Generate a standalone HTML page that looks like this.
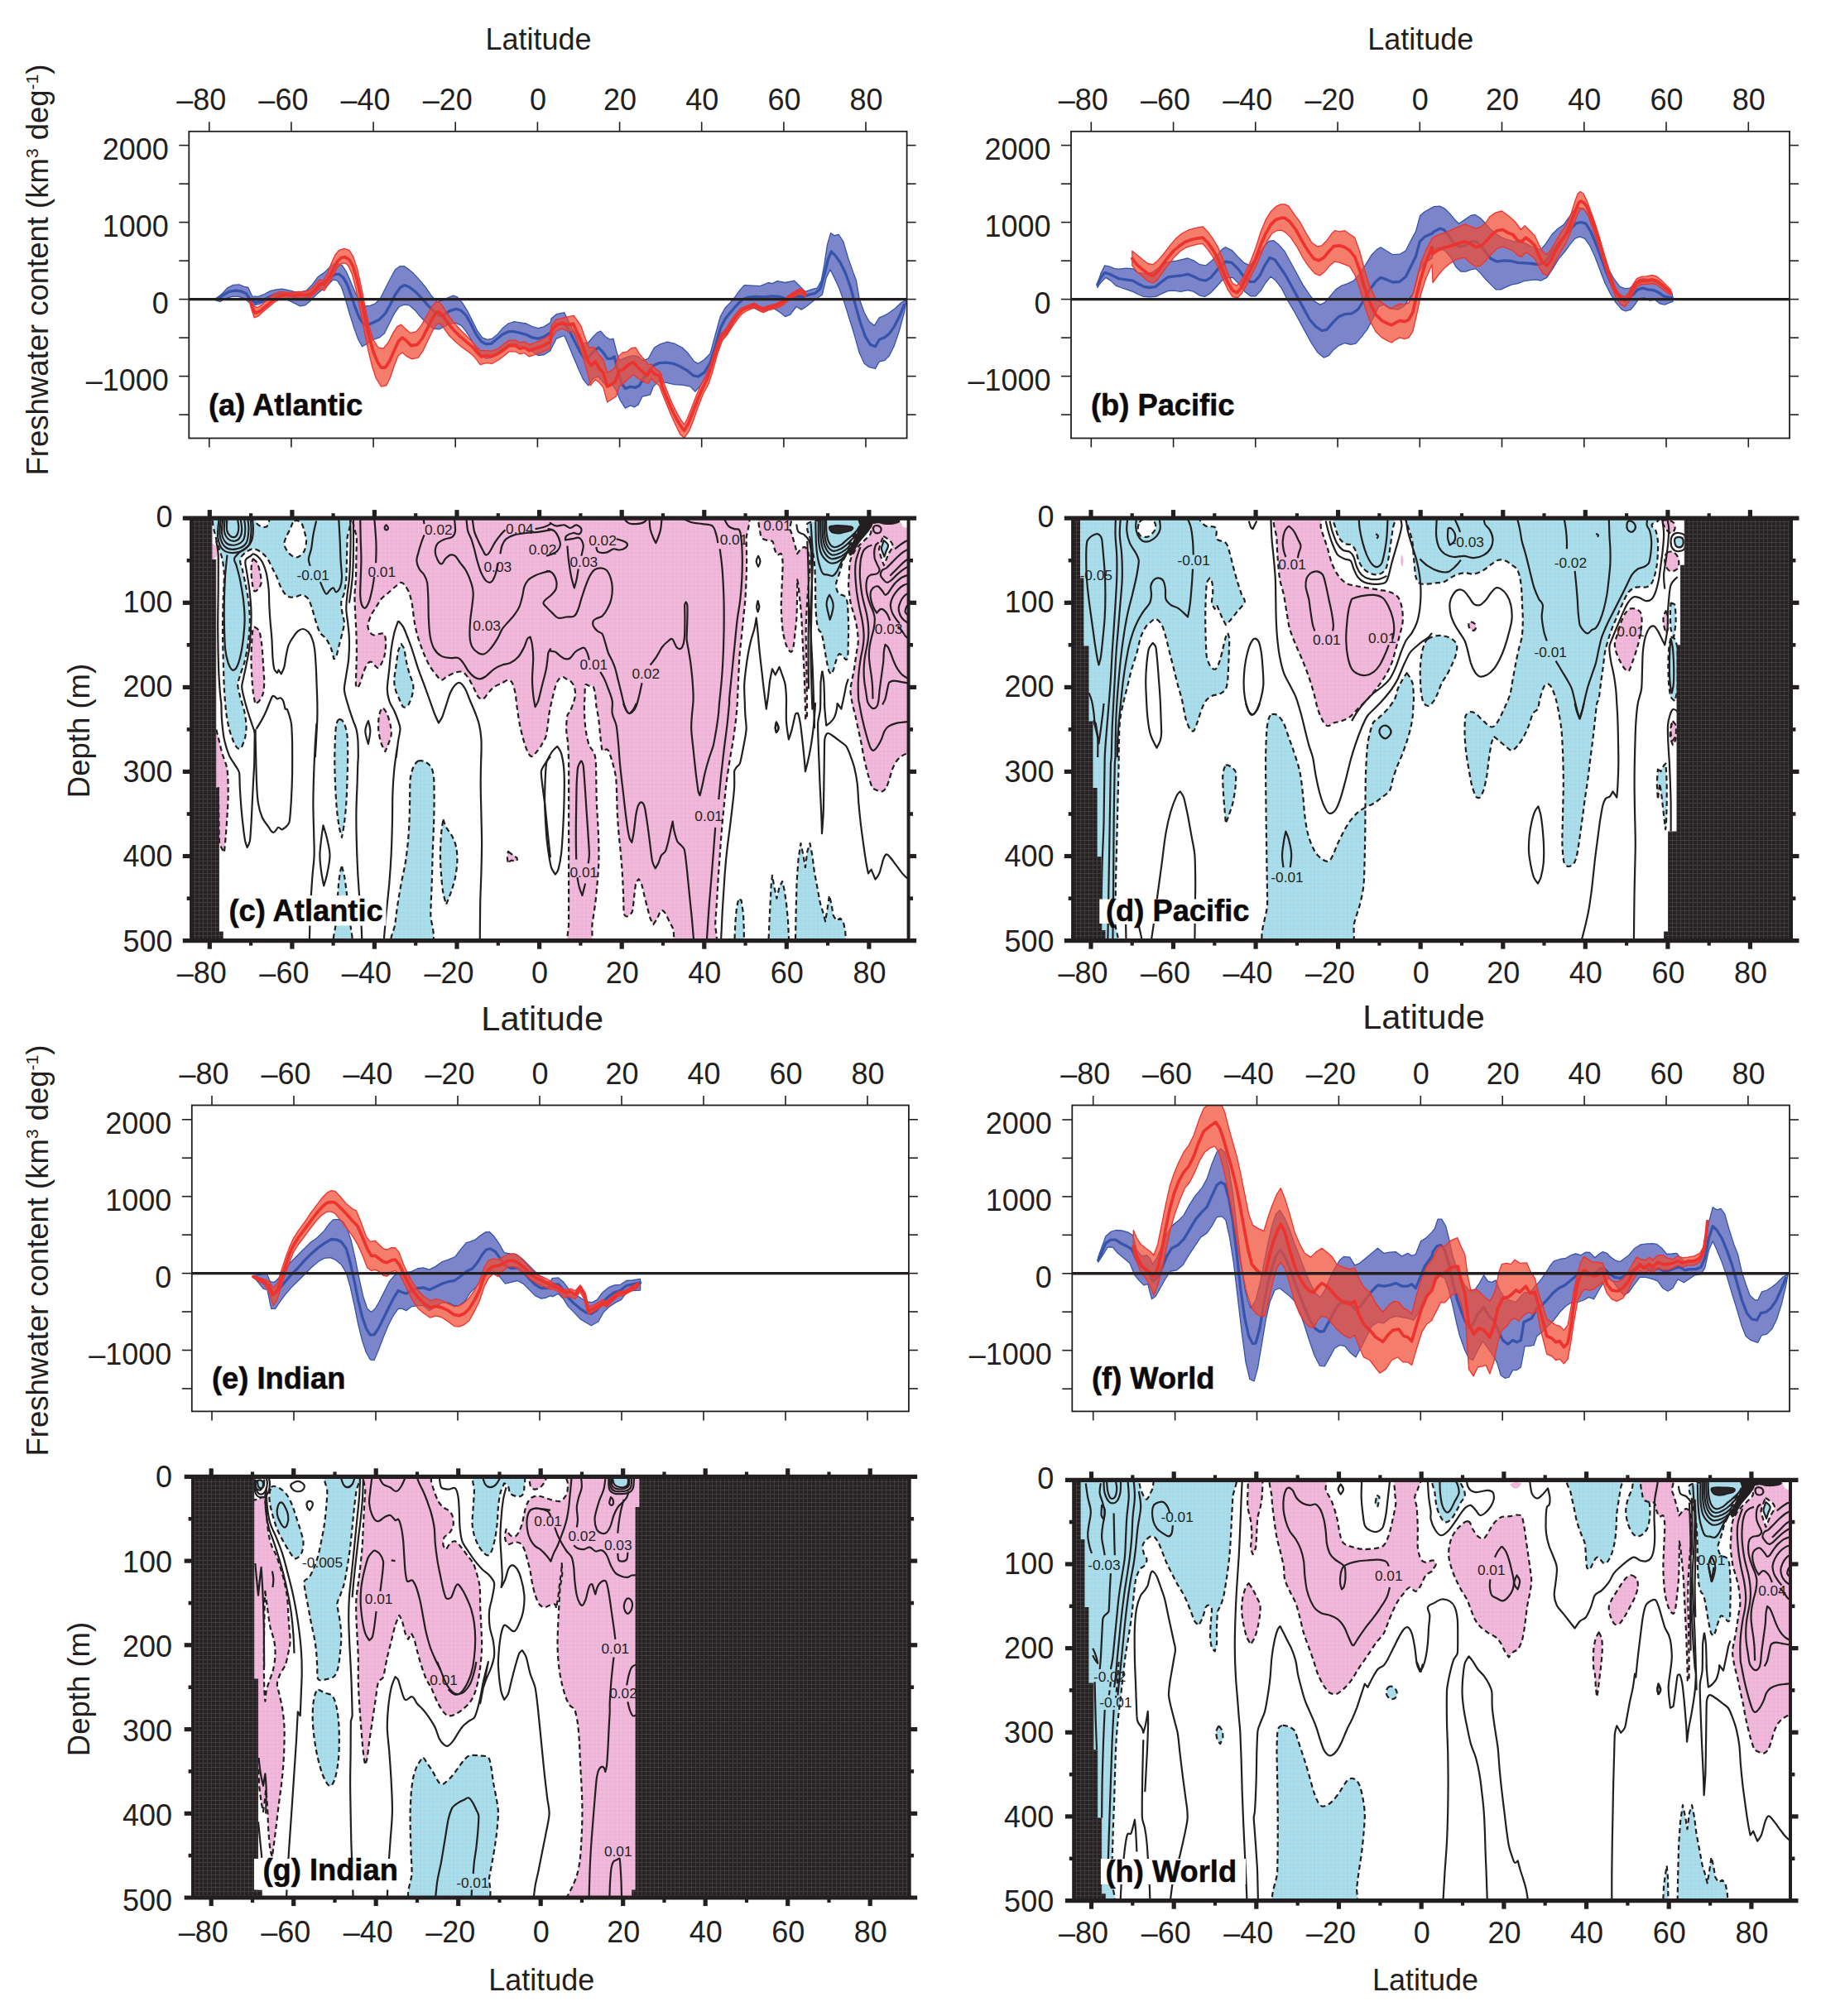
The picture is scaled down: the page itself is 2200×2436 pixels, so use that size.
<!DOCTYPE html>
<html><head><meta charset="utf-8"><title>Freshwater content</title>
<style>html,body{margin:0;padding:0;background:#fff}svg{display:block}</style></head>
<body>
<svg width="2200" height="2436" viewBox="0 0 2200 2436" font-family='"Liberation Sans", Arial, Helvetica, sans-serif' fill="#231f20">
<rect width="2200" height="2436" fill="#ffffff"/>
<g id="panel-a">
<clipPath id="clip-a"><rect x="228.3" y="158.8" width="867.3" height="370.7"/></clipPath>
<g clip-path="url(#clip-a)">
<path d="M261.2,360.8 L268.5,354.8 L274.5,348.2 L281.8,344.4 L289.0,343.9 L295.1,346.3 L299.9,347.5 L304.7,357.9 L312.0,358.4 L319.2,355.5 L326.5,351.6 L333.7,349.9 L341.0,349.2 L348.2,350.7 L355.5,352.4 L362.7,353.1 L370.0,351.1 L377.2,343.9 L384.5,334.2 L391.7,329.4 L397.8,323.4 L403.8,318.5 L408.6,318.5 L413.5,320.9 L418.3,328.2 L423.1,339.1 L429.2,353.6 L435.2,364.4 L441.3,369.8 L447.3,369.3 L453.3,366.9 L459.4,360.8 L465.4,348.7 L471.5,336.7 L477.5,325.8 L483.1,321.7 L488.4,321.7 L493.2,325.1 L499.2,329.9 L506.5,337.9 L513.7,346.3 L521.0,357.2 L528.2,364.4 L534.3,363.2 L541.5,359.6 L547.6,357.2 L552.4,358.9 L558.4,365.6 L564.5,375.3 L570.5,387.4 L576.6,399.5 L582.6,407.9 L588.6,410.3 L594.7,409.1 L600.7,404.3 L606.8,397.1 L614.0,391.0 L621.3,388.6 L628.5,389.8 L635.8,391.0 L643.0,394.6 L650.3,396.6 L657.5,394.6 L665.0,389.8 L666.0,385.0 L672.1,379.7 L681.7,377.7 L686.6,387.4 L692.6,399.5 L698.7,409.1 L704.7,415.2 L710.7,414.0 L716.8,406.7 L721.6,401.9 L725.7,400.2 L731.3,406.7 L737.3,410.3 L740.9,409.1 L744.6,423.6 L748.2,435.7 L753.0,433.3 L759.1,430.9 L765.1,429.7 L771.1,430.9 L777.2,435.7 L783.2,433.3 L790.5,420.0 L797.7,415.9 L806.2,413.2 L814.6,415.2 L824.3,420.0 L831.6,427.3 L838.8,436.9 L843.6,439.3 L850.9,434.5 L858.1,427.3 L864.2,404.3 L870.2,382.6 L876.3,371.7 L882.3,365.6 L888.3,358.4 L894.4,349.9 L899.2,344.6 L908.9,345.1 L918.5,345.6 L928.2,341.5 L933.0,342.7 L939.1,339.6 L948.7,341.5 L959.6,339.1 L965.7,345.1 L972.9,352.4 L980.2,349.9 L987.4,348.0 L992.2,339.1 L995.9,319.7 L999.5,295.6 L1003.6,281.6 L1007.9,284.7 L1013.3,283.5 L1018.8,291.9 L1024.9,312.5 L1030.9,329.4 L1034.5,339.1 L1038.1,360.8 L1044.2,377.7 L1050.2,388.6 L1056.3,393.4 L1062.3,383.8 L1068.4,381.4 L1074.4,377.7 L1081.6,372.4 L1088.9,365.6 L1093.7,363.2 L1094.9,363.2 L1092.5,377.7 L1086.5,399.5 L1080.4,417.6 L1074.4,429.7 L1068.4,435.7 L1062.3,436.9 L1057.5,445.4 L1050.2,443.7 L1044.2,439.3 L1038.1,426.1 L1032.1,404.3 L1026.1,385.0 L1020.0,365.6 L1014.0,348.7 L1007.9,335.4 L1003.1,325.8 L998.3,335.4 L993.4,356.0 L988.6,359.6 L981.4,364.4 L974.1,370.5 L968.1,374.1 L962.0,370.5 L954.8,380.1 L948.7,382.6 L942.7,377.7 L935.5,372.9 L928.2,374.1 L919.7,376.5 L911.3,372.4 L901.6,372.9 L894.4,376.5 L888.3,385.0 L882.3,397.1 L876.3,406.7 L870.2,414.0 L864.2,430.9 L858.1,447.8 L853.3,455.0 L846.1,465.9 L840.0,473.2 L834.0,467.1 L824.3,465.2 L814.6,464.7 L805.0,462.3 L795.3,461.1 L789.3,467.1 L785.6,476.8 L780.8,478.0 L776.0,479.2 L771.1,488.9 L766.3,492.0 L761.5,490.1 L755.4,493.2 L749.4,484.0 L744.6,472.0 L739.7,464.7 L733.7,467.1 L728.9,462.3 L722.8,455.0 L716.8,457.5 L710.7,465.9 L704.7,458.7 L698.7,445.4 L692.6,430.9 L686.6,416.4 L681.7,405.5 L672.1,409.1 L666.0,421.2 L665.0,423.6 L657.5,428.5 L650.3,429.7 L643.0,424.8 L635.8,421.2 L628.5,417.6 L621.3,415.2 L614.0,416.4 L606.8,421.2 L599.5,427.3 L593.5,432.1 L587.4,433.3 L581.4,429.7 L575.4,421.2 L569.3,410.3 L563.3,400.7 L557.2,393.4 L551.2,390.3 L543.9,391.0 L536.7,394.6 L530.7,397.8 L523.4,397.1 L516.2,391.0 L508.9,383.8 L501.7,375.3 L494.4,368.8 L488.4,368.1 L482.3,370.5 L476.3,378.9 L470.3,391.0 L464.2,403.1 L458.2,407.9 L450.9,410.3 L443.7,415.2 L437.6,418.8 L432.8,410.3 L428.0,397.1 L421.9,377.7 L417.1,360.8 L412.3,346.3 L407.4,339.1 L402.6,337.9 L396.6,343.9 L389.3,349.9 L382.1,356.0 L374.8,363.7 L368.8,368.8 L362.7,369.8 L356.7,366.9 L349.4,363.2 L342.2,360.8 L334.9,360.8 L327.7,362.0 L320.4,364.4 L313.2,367.6 L307.2,368.5 L301.1,365.6 L295.1,360.3 L287.8,358.4 L280.6,358.4 L273.3,360.3 L266.1,364.4 L261.2,363.2Z" fill="#7c85c9" stroke="#3654ab" stroke-width="1.3" stroke-linejoin="round"/>
<path d="M261.2,361.5 L269.7,356.7 L276.9,352.4 L284.2,351.1 L291.4,351.9 L297.5,354.8 L302.3,362.0 L308.4,365.6 L314.4,364.4 L321.7,360.8 L328.9,357.2 L336.1,355.5 L343.4,355.5 L350.6,357.2 L357.9,360.1 L363.9,361.5 L370.0,360.1 L377.2,353.6 L384.5,346.3 L391.7,341.0 L399.0,335.4 L405.0,331.3 L409.8,331.3 L414.7,335.4 L419.5,343.9 L424.3,357.2 L429.2,371.7 L434.0,383.8 L438.8,391.0 L443.7,392.7 L450.9,389.8 L458.2,386.2 L465.4,378.9 L471.5,368.1 L477.5,356.0 L483.5,347.5 L488.4,344.6 L494.4,346.8 L501.7,352.4 L508.9,359.6 L516.2,368.1 L523.4,375.3 L530.7,381.4 L536.7,380.1 L543.9,375.3 L551.2,373.4 L557.2,375.3 L563.3,381.4 L569.3,392.2 L575.4,404.3 L581.4,412.8 L587.4,415.9 L593.5,415.2 L599.5,410.3 L606.8,404.3 L614.0,400.7 L621.3,400.7 L628.5,402.4 L635.8,404.3 L643.0,407.9 L650.3,409.1 L657.5,406.7 L665.0,401.9 L667.2,397.1 L674.5,391.7 L681.7,391.0 L687.8,399.5 L693.8,411.6 L699.9,423.6 L705.9,433.3 L711.9,430.9 L718.0,423.6 L723.3,420.0 L728.9,426.1 L733.7,433.3 L738.5,433.3 L742.2,430.9 L745.8,445.4 L750.6,462.3 L755.4,469.5 L761.5,467.1 L767.5,468.3 L772.4,465.9 L777.2,457.5 L783.2,449.0 L789.3,441.8 L796.5,438.6 L805.0,438.1 L813.4,439.3 L821.9,443.0 L830.3,447.8 L837.6,453.8 L843.6,455.0 L850.9,450.2 L858.1,438.1 L864.2,418.8 L870.2,397.1 L876.3,385.0 L882.3,377.7 L889.5,369.3 L896.8,362.0 L904.0,359.1 L913.7,358.4 L923.4,358.9 L933.0,357.9 L941.5,358.4 L948.7,360.8 L956.0,358.9 L963.2,357.9 L970.5,358.4 L977.7,356.0 L985.0,354.3 L991.0,348.7 L995.9,331.8 L1000.7,312.5 L1004.3,304.0 L1009.2,308.9 L1015.2,317.3 L1021.2,329.4 L1027.3,346.3 L1033.3,368.1 L1039.4,389.8 L1045.4,406.7 L1051.4,416.4 L1057.5,418.8 L1062.3,410.3 L1068.4,407.9 L1074.4,403.1 L1080.4,394.6 L1086.5,382.6 L1092.5,368.1" fill="none" stroke="#3654ab" stroke-width="3.3" stroke-linejoin="round" stroke-linecap="round"/>
<path d="M301.1,363.7 L305.9,369.3 L310.8,371.7 L316.8,368.1 L324.1,360.8 L331.3,354.8 L338.6,352.4 L345.8,353.1 L353.1,353.6 L360.3,352.4 L367.6,352.4 L374.8,349.9 L380.8,343.9 L385.7,337.9 L390.5,339.1 L395.3,330.6 L400.2,318.5 L405.0,307.7 L409.8,302.3 L415.9,300.4 L421.9,302.3 L426.8,310.1 L431.6,324.6 L436.4,346.3 L441.3,371.7 L446.1,394.6 L450.9,410.3 L457.0,420.0 L463.0,421.2 L469.0,414.0 L475.1,401.9 L479.9,394.6 L484.7,392.2 L489.6,397.1 L495.6,402.4 L502.9,400.7 L508.9,393.4 L515.0,382.6 L521.0,371.7 L525.8,365.6 L529.9,364.4 L534.3,369.3 L540.3,378.9 L547.6,388.6 L554.8,397.1 L562.1,404.3 L569.3,411.6 L575.4,418.8 L580.2,423.6 L587.4,423.6 L594.7,424.1 L601.9,421.2 L609.2,415.2 L615.2,411.1 L622.5,411.1 L628.5,414.0 L633.4,412.8 L639.4,416.4 L646.6,414.0 L655.1,410.3 L665.0,404.3 L666.0,393.4 L672.1,386.2 L679.3,384.5 L686.6,382.6 L693.3,381.4 L697.5,387.4 L702.3,394.6 L707.1,409.1 L711.9,420.0 L718.0,420.0 L723.3,428.5 L728.9,434.5 L733.7,450.2 L738.5,447.8 L742.2,445.4 L747.0,430.9 L751.8,426.1 L757.9,424.8 L762.7,420.7 L768.0,420.0 L772.4,427.3 L778.4,434.5 L783.2,440.6 L786.9,440.1 L791.7,445.4 L798.2,450.2 L801.4,461.1 L806.2,473.2 L812.2,487.7 L818.3,499.7 L823.1,508.2 L826.7,513.0 L830.3,505.8 L835.2,493.7 L841.2,478.0 L847.3,463.5 L853.3,452.6 L858.1,440.6 L864.2,421.2 L870.2,404.3 L876.3,398.3 L882.3,388.6 L888.3,380.1 L894.4,372.9 L901.6,369.8 L911.3,366.1 L916.1,369.3 L922.2,371.7 L928.2,369.3 L937.9,366.9 L945.1,363.2 L952.4,357.2 L959.6,352.4 L966.9,348.7 L972.9,352.4 L972.9,358.4 L966.9,354.8 L959.6,358.4 L952.4,363.2 L945.1,369.3 L937.9,372.4 L928.2,374.8 L922.2,377.7 L916.1,374.8 L911.3,371.7 L902.8,375.3 L896.8,378.9 L890.8,386.2 L884.7,394.6 L878.7,404.3 L872.6,411.6 L866.6,428.5 L860.6,450.2 L855.7,464.7 L849.7,475.6 L843.6,491.3 L837.6,508.2 L832.8,520.3 L826.7,529.2 L821.9,525.1 L817.1,515.5 L811.0,502.2 L805.0,487.7 L800.1,475.6 L796.5,465.9 L791.7,462.3 L786.9,457.5 L783.2,463.5 L777.2,461.1 L771.1,457.5 L765.1,452.6 L759.1,457.5 L753.0,463.5 L748.2,467.1 L744.1,479.2 L738.5,482.8 L733.7,486.0 L728.9,468.3 L724.0,462.3 L719.2,458.7 L713.2,465.9 L710.7,453.8 L705.9,436.9 L701.1,421.2 L696.2,409.1 L692.6,400.7 L686.6,400.7 L679.3,397.1 L672.1,400.0 L666.0,409.1 L665.0,421.2 L655.1,425.6 L646.6,428.5 L639.4,430.9 L633.4,426.5 L628.5,428.0 L622.5,424.8 L615.2,424.8 L609.2,429.7 L601.9,435.2 L594.7,439.3 L587.4,438.6 L580.2,440.6 L576.6,435.7 L571.7,429.7 L564.5,424.1 L557.2,418.8 L550.0,412.8 L542.7,405.5 L536.7,397.1 L531.9,391.0 L528.2,391.0 L523.4,398.3 L517.4,410.3 L511.3,423.6 L505.3,432.1 L498.0,433.8 L492.0,430.9 L486.0,426.1 L481.1,429.7 L476.3,441.8 L471.5,456.3 L466.6,465.9 L460.6,467.1 L454.5,457.5 L449.7,443.0 L444.9,423.6 L440.0,399.5 L435.2,375.3 L430.4,351.1 L425.6,331.8 L420.7,320.9 L417.1,317.8 L412.3,318.5 L407.4,323.4 L402.6,333.0 L396.6,343.9 L391.7,351.1 L385.7,349.2 L380.8,354.0 L374.8,359.6 L368.8,360.8 L361.5,360.1 L354.3,360.8 L347.0,360.3 L339.8,360.8 L332.5,364.4 L325.3,370.5 L318.0,376.5 L312.0,382.1 L307.2,383.8 L304.3,375.3 L301.8,365.6Z" fill="rgba(240,75,50,0.72)" stroke="#ee332e" stroke-width="1.3" stroke-linejoin="round"/>
<path d="M302.3,363.2 L304.7,371.7 L308.4,378.2 L313.2,376.5 L319.2,371.7 L326.5,365.6 L333.7,359.6 L341.0,356.7 L348.2,356.0 L355.5,356.7 L362.7,356.0 L370.0,356.5 L376.0,354.8 L382.1,348.7 L386.9,342.7 L391.7,343.9 L396.6,336.7 L402.6,325.8 L407.4,316.1 L412.3,311.3 L417.1,310.6 L421.9,313.7 L426.8,322.2 L431.6,339.1 L436.4,360.8 L441.3,385.0 L446.1,406.7 L450.9,424.8 L455.8,436.9 L460.6,444.2 L465.4,444.2 L470.3,436.9 L476.3,423.6 L481.1,412.8 L486.0,407.9 L490.8,411.6 L496.8,417.6 L504.1,416.4 L510.1,409.1 L516.2,397.1 L522.2,385.0 L527.0,377.7 L530.7,377.2 L535.5,382.6 L541.5,391.0 L548.8,399.5 L556.0,406.7 L563.3,412.8 L570.5,418.8 L576.6,426.1 L581.4,430.9 L587.4,429.7 L594.7,430.4 L601.9,427.3 L609.2,422.4 L615.2,417.6 L622.5,417.6 L628.5,421.2 L633.4,420.0 L639.4,423.6 L646.6,421.2 L655.1,418.3 L665.0,412.8 L666.0,399.5 L672.1,392.7 L679.3,390.3 L686.6,392.2 L692.6,391.0 L696.2,399.5 L701.1,409.1 L705.9,423.6 L710.7,436.9 L714.4,441.8 L719.2,436.9 L724.0,445.4 L728.9,450.2 L733.7,467.1 L738.5,464.7 L743.4,461.1 L748.2,447.8 L753.0,446.6 L759.1,440.6 L765.1,437.7 L771.1,444.2 L777.2,450.2 L782.0,453.8 L785.6,446.6 L791.7,452.6 L796.5,453.8 L800.1,467.1 L805.0,479.2 L811.0,493.7 L817.1,505.8 L821.9,514.2 L826.7,520.3 L831.6,511.8 L836.4,499.7 L842.4,484.0 L848.5,469.5 L854.5,457.5 L859.3,443.0 L865.4,423.6 L871.4,406.7 L877.5,400.7 L883.5,391.0 L889.5,382.6 L895.6,375.3 L901.6,372.2 L911.3,368.1 L916.1,371.7 L922.2,374.1 L928.2,371.7 L937.9,369.3 L945.1,365.6 L952.4,359.6 L959.6,354.8 L966.9,351.1 L972.9,355.5" fill="none" stroke="#ee332e" stroke-width="3.7" stroke-linejoin="round" stroke-linecap="round"/>
</g>
<line x1="228.3" y1="361.6" x2="1095.6" y2="361.6" stroke="#231f20" stroke-width="3.4"/>
<rect x="228.3" y="158.8" width="867.3" height="370.7" fill="none" stroke="#231f20" stroke-width="1.8"/>
<line x1="252.8" y1="147.3" x2="252.8" y2="158.8" stroke="#231f20" stroke-width="1.6"/>
<line x1="252.8" y1="529.5" x2="252.8" y2="540.5" stroke="#231f20" stroke-width="1.6"/>
<text x="243.3" y="133.2" font-size="36" text-anchor="middle" font-weight="normal">–80</text>
<line x1="351.9" y1="147.3" x2="351.9" y2="158.8" stroke="#231f20" stroke-width="1.6"/>
<line x1="351.9" y1="529.5" x2="351.9" y2="540.5" stroke="#231f20" stroke-width="1.6"/>
<text x="342.4" y="133.2" font-size="36" text-anchor="middle" font-weight="normal">–60</text>
<line x1="451.1" y1="147.3" x2="451.1" y2="158.8" stroke="#231f20" stroke-width="1.6"/>
<line x1="451.1" y1="529.5" x2="451.1" y2="540.5" stroke="#231f20" stroke-width="1.6"/>
<text x="441.6" y="133.2" font-size="36" text-anchor="middle" font-weight="normal">–40</text>
<line x1="550.2" y1="147.3" x2="550.2" y2="158.8" stroke="#231f20" stroke-width="1.6"/>
<line x1="550.2" y1="529.5" x2="550.2" y2="540.5" stroke="#231f20" stroke-width="1.6"/>
<text x="540.7" y="133.2" font-size="36" text-anchor="middle" font-weight="normal">–20</text>
<line x1="649.4" y1="147.3" x2="649.4" y2="158.8" stroke="#231f20" stroke-width="1.6"/>
<line x1="649.4" y1="529.5" x2="649.4" y2="540.5" stroke="#231f20" stroke-width="1.6"/>
<text x="649.9" y="133.2" font-size="36" text-anchor="middle" font-weight="normal">0</text>
<line x1="748.6" y1="147.3" x2="748.6" y2="158.8" stroke="#231f20" stroke-width="1.6"/>
<line x1="748.6" y1="529.5" x2="748.6" y2="540.5" stroke="#231f20" stroke-width="1.6"/>
<text x="749.1" y="133.2" font-size="36" text-anchor="middle" font-weight="normal">20</text>
<line x1="847.7" y1="147.3" x2="847.7" y2="158.8" stroke="#231f20" stroke-width="1.6"/>
<line x1="847.7" y1="529.5" x2="847.7" y2="540.5" stroke="#231f20" stroke-width="1.6"/>
<text x="848.2" y="133.2" font-size="36" text-anchor="middle" font-weight="normal">40</text>
<line x1="946.9" y1="147.3" x2="946.9" y2="158.8" stroke="#231f20" stroke-width="1.6"/>
<line x1="946.9" y1="529.5" x2="946.9" y2="540.5" stroke="#231f20" stroke-width="1.6"/>
<text x="947.4" y="133.2" font-size="36" text-anchor="middle" font-weight="normal">60</text>
<line x1="1046.0" y1="147.3" x2="1046.0" y2="158.8" stroke="#231f20" stroke-width="1.6"/>
<line x1="1046.0" y1="529.5" x2="1046.0" y2="540.5" stroke="#231f20" stroke-width="1.6"/>
<text x="1046.5" y="133.2" font-size="36" text-anchor="middle" font-weight="normal">80</text>
<line x1="216.3" y1="501.1" x2="228.3" y2="501.1" stroke="#231f20" stroke-width="1.6"/>
<line x1="1095.6" y1="501.1" x2="1106.6" y2="501.1" stroke="#231f20" stroke-width="1.6"/>
<line x1="216.3" y1="454.6" x2="228.3" y2="454.6" stroke="#231f20" stroke-width="1.6"/>
<line x1="1095.6" y1="454.6" x2="1106.6" y2="454.6" stroke="#231f20" stroke-width="1.6"/>
<text x="203.8" y="471.9" font-size="36" text-anchor="end" font-weight="normal">–1000</text>
<line x1="216.3" y1="408.1" x2="228.3" y2="408.1" stroke="#231f20" stroke-width="1.6"/>
<line x1="1095.6" y1="408.1" x2="1106.6" y2="408.1" stroke="#231f20" stroke-width="1.6"/>
<line x1="216.3" y1="361.6" x2="228.3" y2="361.6" stroke="#231f20" stroke-width="1.6"/>
<line x1="1095.6" y1="361.6" x2="1106.6" y2="361.6" stroke="#231f20" stroke-width="1.6"/>
<text x="203.8" y="378.9" font-size="36" text-anchor="end" font-weight="normal">0</text>
<line x1="216.3" y1="315.1" x2="228.3" y2="315.1" stroke="#231f20" stroke-width="1.6"/>
<line x1="1095.6" y1="315.1" x2="1106.6" y2="315.1" stroke="#231f20" stroke-width="1.6"/>
<line x1="216.3" y1="268.6" x2="228.3" y2="268.6" stroke="#231f20" stroke-width="1.6"/>
<line x1="1095.6" y1="268.6" x2="1106.6" y2="268.6" stroke="#231f20" stroke-width="1.6"/>
<text x="203.8" y="285.9" font-size="36" text-anchor="end" font-weight="normal">1000</text>
<line x1="216.3" y1="222.1" x2="228.3" y2="222.1" stroke="#231f20" stroke-width="1.6"/>
<line x1="1095.6" y1="222.1" x2="1106.6" y2="222.1" stroke="#231f20" stroke-width="1.6"/>
<line x1="216.3" y1="175.6" x2="228.3" y2="175.6" stroke="#231f20" stroke-width="1.6"/>
<line x1="1095.6" y1="175.6" x2="1106.6" y2="175.6" stroke="#231f20" stroke-width="1.6"/>
<text x="203.8" y="192.9" font-size="36" text-anchor="end" font-weight="normal">2000</text>
<text x="252.0" y="501.8" font-size="36.3" text-anchor="start" font-weight="bold" fill="#0d0a0b" stroke="#0d0a0b" stroke-width="0.5">(a) Atlantic</text>
</g>
<g id="panel-b">
<clipPath id="clip-b"><rect x="1294.0" y="158.8" width="868.0" height="370.7"/></clipPath>
<g clip-path="url(#clip-b)">
<path d="M1325.8,342.7 L1329.9,330.6 L1334.7,320.9 L1340.7,322.2 L1346.8,324.6 L1351.6,325.1 L1360.1,324.1 L1368.5,324.6 L1374.6,329.4 L1383.0,330.6 L1391.5,329.4 L1398.7,324.6 L1406.0,318.5 L1413.2,316.1 L1420.5,315.4 L1427.7,313.7 L1435.0,312.0 L1442.2,314.9 L1449.5,319.7 L1456.7,320.9 L1462.8,316.1 L1470.0,308.9 L1476.1,301.6 L1480.2,298.7 L1488.1,302.3 L1495.4,310.1 L1502.6,317.3 L1509.9,320.9 L1514.7,314.9 L1520.8,307.7 L1526.8,298.0 L1532.8,291.5 L1538.9,290.7 L1544.9,295.6 L1552.2,304.0 L1559.4,317.3 L1566.7,330.6 L1573.9,343.9 L1581.2,354.8 L1588.4,364.4 L1594.9,368.1 L1600.5,365.6 L1606.5,358.4 L1613.8,349.9 L1621.0,345.1 L1628.3,342.7 L1635.5,339.1 L1642.8,330.6 L1650.0,319.7 L1657.3,307.7 L1663.3,301.6 L1668.1,298.7 L1675.4,303.3 L1682.6,307.7 L1691.1,307.2 L1698.4,302.8 L1704.4,290.7 L1710.4,279.9 L1715.7,260.5 L1721.3,255.7 L1730.0,250.9 L1732.2,249.7 L1739.5,249.2 L1745.5,252.1 L1751.6,258.1 L1757.6,265.4 L1762.5,270.2 L1769.7,265.4 L1776.9,260.5 L1781.8,259.3 L1787.8,263.0 L1793.9,269.0 L1799.9,276.2 L1807.2,282.3 L1814.4,287.1 L1821.7,289.5 L1828.9,291.9 L1836.1,291.9 L1843.4,294.4 L1850.6,298.0 L1856.7,300.4 L1861.5,301.6 L1867.6,294.4 L1874.8,283.5 L1882.1,276.2 L1889.3,271.4 L1895.3,263.0 L1901.4,254.5 L1907.4,250.9 L1913.5,252.1 L1919.5,261.7 L1925.6,276.2 L1931.6,291.9 L1937.6,310.1 L1943.7,325.8 L1949.7,336.7 L1957.0,346.3 L1963.0,348.7 L1969.0,348.2 L1973.9,343.9 L1979.9,337.9 L1986.0,336.7 L1992.0,337.9 L1998.0,337.9 L2004.1,342.7 L2010.1,348.2 L2017.4,352.4 L2020.3,355.5 L2021.0,364.4 L2017.4,365.6 L2011.3,368.1 L2005.3,366.9 L1999.2,362.0 L1993.2,363.2 L1986.0,359.6 L1979.9,360.8 L1975.1,368.1 L1970.3,374.1 L1964.2,376.0 L1959.4,374.1 L1952.1,365.6 L1944.9,353.6 L1938.8,341.5 L1932.8,325.8 L1926.8,310.1 L1920.7,296.8 L1914.7,288.3 L1908.6,285.9 L1902.6,288.3 L1896.6,295.6 L1890.5,304.0 L1883.3,312.5 L1876.0,324.6 L1868.8,335.4 L1861.5,339.1 L1855.5,337.9 L1848.2,338.6 L1841.0,339.6 L1833.7,342.7 L1826.5,343.9 L1820.4,346.3 L1813.2,349.9 L1807.2,349.9 L1801.1,343.9 L1795.1,337.9 L1789.0,330.6 L1783.0,324.6 L1776.9,325.8 L1770.9,328.2 L1764.9,328.2 L1758.8,322.2 L1752.8,311.3 L1746.7,304.0 L1739.5,299.2 L1732.2,301.6 L1730.0,312.5 L1720.1,318.5 L1714.1,329.4 L1708.0,353.6 L1700.8,363.2 L1695.9,370.5 L1688.7,374.1 L1679.0,372.9 L1671.8,368.1 L1665.7,370.5 L1659.7,382.6 L1652.4,397.1 L1645.2,406.7 L1637.9,415.2 L1631.9,416.4 L1624.7,414.5 L1617.4,417.6 L1611.4,422.4 L1605.3,429.7 L1599.3,432.1 L1592.0,426.1 L1584.8,415.2 L1577.5,401.9 L1570.3,388.6 L1563.0,375.3 L1555.8,363.2 L1548.5,348.7 L1541.3,339.1 L1535.3,334.2 L1529.2,341.5 L1523.2,351.1 L1517.1,357.9 L1511.1,357.9 L1503.8,352.4 L1496.6,342.7 L1489.3,335.4 L1482.1,335.4 L1476.1,339.1 L1468.8,347.5 L1461.6,354.8 L1455.5,358.4 L1449.5,357.2 L1442.2,352.4 L1435.0,350.7 L1426.5,352.4 L1418.1,351.1 L1410.8,351.6 L1403.6,354.8 L1396.3,358.4 L1389.1,358.9 L1381.8,358.4 L1375.8,356.0 L1368.5,352.4 L1361.3,349.9 L1354.0,347.5 L1348.0,345.1 L1341.9,339.1 L1335.9,335.4 L1329.9,341.5 L1325.8,347.5Z" fill="#7c85c9" stroke="#3654ab" stroke-width="1.3" stroke-linejoin="round"/>
<path d="M1325.8,343.9 L1329.9,335.4 L1334.7,329.4 L1340.7,331.3 L1346.8,334.2 L1351.6,336.7 L1360.1,337.9 L1368.5,339.1 L1374.6,342.7 L1381.8,346.3 L1389.1,347.5 L1396.3,346.3 L1403.6,340.3 L1410.8,335.0 L1418.1,333.8 L1426.5,333.0 L1435.0,331.3 L1442.2,334.2 L1449.5,337.9 L1456.7,339.1 L1462.8,335.4 L1468.8,328.2 L1474.8,320.9 L1480.9,316.1 L1488.1,317.3 L1495.4,324.6 L1502.6,334.2 L1509.9,340.3 L1515.9,340.3 L1522.0,333.0 L1528.0,320.9 L1534.0,311.3 L1540.1,313.7 L1546.1,322.2 L1553.4,333.0 L1560.6,346.3 L1567.9,359.6 L1575.1,372.9 L1582.4,386.2 L1589.6,394.6 L1596.9,399.5 L1602.9,398.3 L1610.2,389.8 L1617.4,382.6 L1624.7,379.7 L1633.1,378.9 L1640.4,374.1 L1647.6,363.2 L1654.9,349.9 L1662.1,340.3 L1668.1,335.4 L1675.4,337.9 L1682.6,341.0 L1691.1,340.3 L1698.4,334.2 L1704.4,322.2 L1710.4,310.1 L1715.3,291.9 L1721.3,285.9 L1730.0,282.3 L1732.2,279.9 L1739.5,276.2 L1744.3,277.5 L1750.4,284.7 L1756.4,294.4 L1763.7,298.0 L1770.9,296.8 L1776.9,291.9 L1783.0,291.9 L1789.0,296.8 L1795.1,305.2 L1801.1,312.5 L1808.4,316.1 L1816.8,314.9 L1825.3,315.4 L1833.7,317.3 L1842.2,317.8 L1850.6,318.5 L1857.9,319.7 L1863.9,318.5 L1870.0,312.5 L1877.2,301.6 L1884.5,291.9 L1891.7,283.5 L1897.8,276.2 L1903.8,270.2 L1909.8,268.5 L1915.9,270.2 L1921.9,279.9 L1928.0,294.4 L1934.0,310.1 L1940.0,327.0 L1946.1,341.5 L1953.3,353.6 L1960.6,360.3 L1966.6,360.8 L1972.7,356.0 L1978.7,349.9 L1984.7,348.2 L1990.8,349.9 L1998.0,350.7 L2004.1,353.6 L2010.1,357.9 L2017.4,359.6 L2020.3,359.6" fill="none" stroke="#3654ab" stroke-width="3.3" stroke-linejoin="round" stroke-linecap="round"/>
<path d="M1367.8,303.3 L1373.4,307.7 L1380.6,313.7 L1386.7,318.5 L1392.7,319.7 L1398.7,314.9 L1406.0,306.4 L1413.2,296.8 L1420.5,288.3 L1427.7,282.3 L1435.0,278.2 L1442.2,276.2 L1448.3,274.6 L1453.1,273.8 L1459.1,279.9 L1465.2,288.3 L1471.2,298.0 L1477.3,312.5 L1483.3,330.6 L1489.3,342.7 L1494.2,345.1 L1499.0,340.3 L1505.0,328.2 L1511.1,314.9 L1517.1,299.2 L1523.2,279.9 L1529.2,265.4 L1535.3,255.7 L1541.3,249.7 L1547.3,246.8 L1552.2,246.8 L1557.0,249.2 L1563.0,258.1 L1570.3,267.8 L1577.5,281.1 L1584.8,293.2 L1591.6,298.0 L1596.9,296.8 L1602.9,290.7 L1608.9,282.3 L1612.6,278.7 L1618.6,279.9 L1624.7,278.7 L1630.7,283.0 L1636.7,287.1 L1642.8,304.0 L1648.8,327.0 L1654.9,346.3 L1662.1,360.8 L1669.4,365.6 L1676.6,370.5 L1681.4,372.4 L1686.3,369.3 L1691.1,366.9 L1697.1,368.1 L1702.0,365.6 L1706.8,356.0 L1711.6,336.7 L1716.5,317.3 L1722.5,302.8 L1730.0,288.3 L1731.0,287.1 L1737.1,284.2 L1744.3,281.6 L1751.6,278.7 L1761.2,274.3 L1769.7,270.9 L1775.7,273.3 L1783.0,276.2 L1789.0,274.3 L1795.1,269.0 L1799.9,261.7 L1807.2,256.9 L1814.4,255.0 L1820.4,259.3 L1826.5,264.2 L1831.3,269.0 L1837.4,277.5 L1842.2,272.6 L1848.2,278.7 L1854.3,284.7 L1859.1,295.6 L1863.9,304.0 L1868.8,307.7 L1873.6,301.6 L1879.6,291.9 L1885.7,281.1 L1891.7,272.6 L1897.8,259.3 L1902.6,243.6 L1906.2,234.0 L1909.1,231.5 L1913.0,234.0 L1917.1,242.4 L1920.7,252.1 L1926.8,269.0 L1932.8,288.3 L1938.8,310.1 L1944.9,329.4 L1950.9,346.3 L1957.0,356.0 L1963.0,358.4 L1967.8,353.6 L1972.7,343.9 L1977.5,336.7 L1983.5,334.2 L1989.6,333.8 L1995.6,332.3 L2001.7,334.2 L2007.7,339.1 L2013.7,345.1 L2018.6,349.9 L2018.6,356.5 L2013.7,353.6 L2007.7,348.7 L2001.7,343.9 L1995.6,342.7 L1989.6,343.4 L1983.5,343.9 L1977.5,346.3 L1972.7,354.8 L1967.8,364.4 L1963.0,370.5 L1958.2,368.1 L1952.1,359.6 L1946.1,343.9 L1940.0,325.8 L1934.0,306.4 L1928.0,287.1 L1921.9,270.2 L1918.3,259.3 L1914.7,254.0 L1911.1,252.1 L1908.2,254.5 L1903.8,264.2 L1897.8,279.9 L1891.7,294.4 L1885.7,304.0 L1879.6,314.9 L1873.6,327.0 L1868.8,333.0 L1863.9,330.6 L1859.1,322.2 L1854.3,312.5 L1848.2,307.7 L1843.4,304.8 L1838.6,310.1 L1833.7,308.9 L1827.7,302.8 L1821.7,300.4 L1815.6,298.0 L1808.4,300.4 L1801.1,307.7 L1795.1,314.9 L1789.0,320.9 L1783.0,322.2 L1775.7,317.3 L1769.7,311.3 L1764.9,312.0 L1758.8,313.7 L1751.6,318.5 L1744.3,324.6 L1737.1,333.0 L1731.0,341.5 L1730.0,319.7 L1722.5,336.7 L1716.5,356.0 L1711.6,380.1 L1706.8,400.7 L1702.0,407.9 L1697.1,409.6 L1691.1,407.9 L1686.3,410.3 L1681.4,414.0 L1676.6,412.0 L1669.4,407.9 L1662.1,400.7 L1654.9,387.4 L1648.8,370.5 L1642.8,348.7 L1636.7,331.8 L1630.7,322.2 L1624.7,319.7 L1618.6,317.3 L1612.6,316.1 L1606.5,320.9 L1600.5,328.2 L1594.5,333.0 L1588.4,330.6 L1581.2,322.2 L1573.9,311.3 L1566.7,298.0 L1559.4,287.1 L1553.4,281.1 L1548.5,278.2 L1542.5,278.7 L1536.5,282.3 L1530.4,291.9 L1524.4,305.2 L1518.3,319.7 L1512.3,331.8 L1506.3,343.9 L1500.2,354.8 L1495.4,359.6 L1489.3,358.9 L1483.3,349.9 L1477.3,336.7 L1471.2,322.2 L1465.2,310.1 L1459.1,301.6 L1453.1,294.4 L1447.1,295.1 L1439.8,296.8 L1432.6,299.2 L1425.3,304.0 L1418.1,311.3 L1410.8,320.9 L1403.6,330.6 L1397.5,339.1 L1392.7,342.0 L1386.7,339.6 L1380.6,334.2 L1373.4,328.2 L1367.8,320.9Z" fill="rgba(240,75,50,0.72)" stroke="#ee332e" stroke-width="1.3" stroke-linejoin="round"/>
<path d="M1367.8,312.5 L1373.4,319.7 L1380.6,325.8 L1386.7,330.6 L1392.7,333.0 L1397.5,329.4 L1403.6,320.9 L1410.8,311.3 L1418.1,302.8 L1425.3,296.8 L1432.6,291.9 L1439.8,289.5 L1447.1,287.8 L1453.1,287.1 L1459.1,293.2 L1465.2,301.6 L1471.2,312.5 L1477.3,327.0 L1483.3,341.5 L1489.3,351.1 L1494.2,353.6 L1499.0,348.7 L1505.0,336.7 L1511.1,324.6 L1517.1,312.5 L1523.2,295.6 L1529.2,282.3 L1535.3,271.4 L1541.3,265.4 L1547.3,263.4 L1552.2,263.4 L1558.2,267.8 L1565.5,277.5 L1572.7,290.7 L1580.0,302.8 L1587.2,312.5 L1593.2,314.9 L1599.3,311.3 L1605.3,304.0 L1611.4,297.5 L1618.6,296.8 L1624.7,298.7 L1630.7,302.8 L1636.7,310.1 L1642.8,327.0 L1648.8,348.7 L1654.9,365.6 L1662.1,380.1 L1669.4,387.4 L1676.6,391.0 L1681.4,392.7 L1686.3,389.8 L1691.1,387.4 L1697.1,388.6 L1702.0,386.2 L1706.8,377.7 L1711.6,356.0 L1716.5,336.7 L1722.5,317.3 L1730.0,299.2 L1731.0,306.4 L1737.1,302.3 L1744.3,299.2 L1751.6,297.5 L1761.2,294.4 L1769.7,291.9 L1775.7,294.4 L1783.0,298.7 L1789.0,297.5 L1795.1,291.9 L1801.1,284.7 L1808.4,278.7 L1815.6,277.5 L1821.7,281.1 L1827.7,283.5 L1833.7,290.7 L1838.6,291.9 L1843.4,287.1 L1848.2,290.7 L1854.3,296.8 L1859.1,308.9 L1863.9,317.3 L1868.8,320.9 L1873.6,314.9 L1879.6,302.8 L1885.7,291.9 L1891.7,283.5 L1897.8,269.0 L1903.8,253.3 L1907.4,244.8 L1910.1,243.1 L1913.5,244.8 L1917.1,249.7 L1921.9,261.7 L1928.0,278.7 L1934.0,298.0 L1940.0,317.3 L1946.1,336.7 L1952.1,352.4 L1958.2,360.8 L1963.0,363.2 L1967.8,358.4 L1972.7,348.7 L1977.5,341.5 L1983.5,339.1 L1989.6,339.1 L1995.6,337.9 L2001.7,339.6 L2007.7,343.9 L2013.7,349.2 L2018.6,353.6" fill="none" stroke="#ee332e" stroke-width="3.7" stroke-linejoin="round" stroke-linecap="round"/>
</g>
<line x1="1294.0" y1="361.6" x2="2162.0" y2="361.6" stroke="#231f20" stroke-width="3.4"/>
<rect x="1294.0" y="158.8" width="868.0" height="370.7" fill="none" stroke="#231f20" stroke-width="1.8"/>
<line x1="1318.3" y1="147.3" x2="1318.3" y2="158.8" stroke="#231f20" stroke-width="1.6"/>
<line x1="1318.3" y1="529.5" x2="1318.3" y2="540.5" stroke="#231f20" stroke-width="1.6"/>
<text x="1308.8" y="133.2" font-size="36" text-anchor="middle" font-weight="normal">–80</text>
<line x1="1417.6" y1="147.3" x2="1417.6" y2="158.8" stroke="#231f20" stroke-width="1.6"/>
<line x1="1417.6" y1="529.5" x2="1417.6" y2="540.5" stroke="#231f20" stroke-width="1.6"/>
<text x="1408.1" y="133.2" font-size="36" text-anchor="middle" font-weight="normal">–60</text>
<line x1="1516.8" y1="147.3" x2="1516.8" y2="158.8" stroke="#231f20" stroke-width="1.6"/>
<line x1="1516.8" y1="529.5" x2="1516.8" y2="540.5" stroke="#231f20" stroke-width="1.6"/>
<text x="1507.3" y="133.2" font-size="36" text-anchor="middle" font-weight="normal">–40</text>
<line x1="1616.1" y1="147.3" x2="1616.1" y2="158.8" stroke="#231f20" stroke-width="1.6"/>
<line x1="1616.1" y1="529.5" x2="1616.1" y2="540.5" stroke="#231f20" stroke-width="1.6"/>
<text x="1606.6" y="133.2" font-size="36" text-anchor="middle" font-weight="normal">–20</text>
<line x1="1715.3" y1="147.3" x2="1715.3" y2="158.8" stroke="#231f20" stroke-width="1.6"/>
<line x1="1715.3" y1="529.5" x2="1715.3" y2="540.5" stroke="#231f20" stroke-width="1.6"/>
<text x="1715.8" y="133.2" font-size="36" text-anchor="middle" font-weight="normal">0</text>
<line x1="1814.5" y1="147.3" x2="1814.5" y2="158.8" stroke="#231f20" stroke-width="1.6"/>
<line x1="1814.5" y1="529.5" x2="1814.5" y2="540.5" stroke="#231f20" stroke-width="1.6"/>
<text x="1815.0" y="133.2" font-size="36" text-anchor="middle" font-weight="normal">20</text>
<line x1="1913.8" y1="147.3" x2="1913.8" y2="158.8" stroke="#231f20" stroke-width="1.6"/>
<line x1="1913.8" y1="529.5" x2="1913.8" y2="540.5" stroke="#231f20" stroke-width="1.6"/>
<text x="1914.3" y="133.2" font-size="36" text-anchor="middle" font-weight="normal">40</text>
<line x1="2013.0" y1="147.3" x2="2013.0" y2="158.8" stroke="#231f20" stroke-width="1.6"/>
<line x1="2013.0" y1="529.5" x2="2013.0" y2="540.5" stroke="#231f20" stroke-width="1.6"/>
<text x="2013.5" y="133.2" font-size="36" text-anchor="middle" font-weight="normal">60</text>
<line x1="2112.3" y1="147.3" x2="2112.3" y2="158.8" stroke="#231f20" stroke-width="1.6"/>
<line x1="2112.3" y1="529.5" x2="2112.3" y2="540.5" stroke="#231f20" stroke-width="1.6"/>
<text x="2112.8" y="133.2" font-size="36" text-anchor="middle" font-weight="normal">80</text>
<line x1="1282.0" y1="501.1" x2="1294.0" y2="501.1" stroke="#231f20" stroke-width="1.6"/>
<line x1="2162.0" y1="501.1" x2="2173.0" y2="501.1" stroke="#231f20" stroke-width="1.6"/>
<line x1="1282.0" y1="454.6" x2="1294.0" y2="454.6" stroke="#231f20" stroke-width="1.6"/>
<line x1="2162.0" y1="454.6" x2="2173.0" y2="454.6" stroke="#231f20" stroke-width="1.6"/>
<text x="1269.5" y="471.9" font-size="36" text-anchor="end" font-weight="normal">–1000</text>
<line x1="1282.0" y1="408.1" x2="1294.0" y2="408.1" stroke="#231f20" stroke-width="1.6"/>
<line x1="2162.0" y1="408.1" x2="2173.0" y2="408.1" stroke="#231f20" stroke-width="1.6"/>
<line x1="1282.0" y1="361.6" x2="1294.0" y2="361.6" stroke="#231f20" stroke-width="1.6"/>
<line x1="2162.0" y1="361.6" x2="2173.0" y2="361.6" stroke="#231f20" stroke-width="1.6"/>
<text x="1269.5" y="378.9" font-size="36" text-anchor="end" font-weight="normal">0</text>
<line x1="1282.0" y1="315.1" x2="1294.0" y2="315.1" stroke="#231f20" stroke-width="1.6"/>
<line x1="2162.0" y1="315.1" x2="2173.0" y2="315.1" stroke="#231f20" stroke-width="1.6"/>
<line x1="1282.0" y1="268.6" x2="1294.0" y2="268.6" stroke="#231f20" stroke-width="1.6"/>
<line x1="2162.0" y1="268.6" x2="2173.0" y2="268.6" stroke="#231f20" stroke-width="1.6"/>
<text x="1269.5" y="285.9" font-size="36" text-anchor="end" font-weight="normal">1000</text>
<line x1="1282.0" y1="222.1" x2="1294.0" y2="222.1" stroke="#231f20" stroke-width="1.6"/>
<line x1="2162.0" y1="222.1" x2="2173.0" y2="222.1" stroke="#231f20" stroke-width="1.6"/>
<line x1="1282.0" y1="175.6" x2="1294.0" y2="175.6" stroke="#231f20" stroke-width="1.6"/>
<line x1="2162.0" y1="175.6" x2="2173.0" y2="175.6" stroke="#231f20" stroke-width="1.6"/>
<text x="1269.5" y="192.9" font-size="36" text-anchor="end" font-weight="normal">2000</text>
<text x="1318.0" y="501.8" font-size="36.3" text-anchor="start" font-weight="bold" fill="#0d0a0b" stroke="#0d0a0b" stroke-width="0.5">(b) Pacific</text>
</g>
<g id="panel-e">
<clipPath id="clip-e"><rect x="231.8" y="1335.5" width="866.1000000000001" height="369.9000000000001"/></clipPath>
<g clip-path="url(#clip-e)">
<path d="M307.2,1541.4 L314.4,1540.2 L321.7,1537.8 L326.5,1548.7 L331.3,1549.4 L336.1,1545.1 L343.4,1535.4 L350.6,1525.7 L357.9,1518.5 L366.4,1510.0 L374.8,1501.6 L383.3,1495.5 L391.7,1487.1 L397.8,1478.6 L402.6,1473.8 L408.6,1473.3 L414.7,1476.2 L419.5,1484.7 L424.3,1499.2 L429.2,1520.9 L434.0,1545.1 L438.8,1566.8 L443.7,1581.3 L448.5,1585.4 L453.3,1581.3 L458.2,1572.8 L464.2,1560.8 L470.3,1548.7 L476.3,1541.4 L482.3,1537.8 L489.6,1537.3 L496.8,1536.6 L504.1,1533.0 L511.3,1531.8 L518.6,1534.2 L525.8,1530.6 L534.3,1524.5 L541.5,1522.1 L550.0,1518.5 L557.2,1508.8 L563.3,1501.6 L568.1,1500.4 L574.2,1497.9 L580.2,1493.1 L586.2,1489.0 L591.1,1488.3 L597.1,1494.3 L603.1,1502.8 L609.2,1513.7 L616.4,1514.9 L623.7,1515.6 L630.9,1520.9 L638.2,1528.1 L645.4,1535.4 L652.7,1542.6 L659.9,1548.7 L665.0,1548.7 L667.2,1544.6 L674.5,1543.9 L680.5,1548.7 L686.6,1557.1 L693.8,1563.9 L701.1,1568.0 L708.3,1572.8 L715.6,1573.6 L721.6,1570.4 L727.7,1562.0 L734.9,1555.9 L742.2,1552.8 L749.4,1552.3 L756.7,1547.5 L763.9,1547.0 L773.6,1545.5 L773.6,1559.1 L763.9,1559.6 L756.7,1562.0 L750.6,1570.4 L743.4,1574.1 L736.1,1578.9 L728.9,1586.1 L722.8,1597.0 L714.4,1601.8 L708.3,1598.2 L701.1,1593.9 L693.8,1586.1 L686.6,1578.9 L680.5,1569.2 L674.5,1563.2 L667.2,1566.8 L665.0,1565.6 L659.9,1568.0 L653.9,1569.2 L646.6,1565.6 L639.4,1558.4 L632.1,1551.1 L624.9,1547.5 L617.6,1549.4 L610.4,1551.1 L605.6,1545.1 L599.5,1537.8 L593.5,1535.4 L587.4,1540.2 L580.2,1549.9 L574.2,1555.9 L568.1,1562.0 L562.1,1571.6 L554.8,1577.7 L548.8,1577.7 L541.5,1574.1 L534.3,1574.1 L525.8,1578.9 L518.6,1583.7 L511.3,1577.7 L504.1,1577.7 L496.8,1578.9 L490.8,1583.7 L486.0,1581.3 L481.1,1581.3 L475.1,1589.8 L469.0,1601.8 L463.0,1616.3 L457.0,1632.0 L452.1,1643.6 L447.3,1642.9 L442.5,1634.5 L437.6,1620.0 L432.8,1600.6 L428.0,1576.5 L423.1,1554.7 L418.3,1537.8 L412.3,1528.1 L405.0,1522.1 L399.0,1519.7 L391.7,1520.4 L384.5,1524.5 L376.0,1531.8 L367.6,1540.2 L359.1,1548.7 L351.9,1555.9 L344.6,1564.4 L337.4,1574.1 L332.5,1581.3 L327.7,1581.3 L322.9,1558.4 L318.0,1557.1 L313.2,1551.1 L307.2,1543.9Z" fill="#7c85c9" stroke="#3654ab" stroke-width="1.3" stroke-linejoin="round"/>
<path d="M307.2,1542.2 L314.4,1546.3 L320.4,1549.9 L325.3,1553.5 L328.9,1564.4 L332.5,1562.0 L337.4,1557.1 L344.6,1548.7 L351.9,1540.2 L359.1,1533.0 L367.6,1523.3 L376.0,1514.9 L384.5,1507.6 L392.9,1501.6 L400.2,1497.5 L406.2,1497.9 L412.3,1500.4 L418.3,1508.8 L423.1,1525.7 L428.0,1547.5 L432.8,1571.6 L437.6,1591.0 L442.5,1605.5 L447.3,1613.2 L452.1,1612.7 L457.0,1605.5 L463.0,1593.4 L469.0,1581.3 L475.1,1569.2 L481.1,1559.6 L486.0,1561.5 L490.8,1563.2 L496.8,1559.6 L504.1,1556.7 L511.3,1555.9 L518.6,1558.4 L525.8,1555.2 L534.3,1551.1 L541.5,1548.7 L548.8,1547.5 L556.0,1542.6 L563.3,1536.6 L570.5,1533.0 L576.6,1525.7 L582.6,1516.1 L587.4,1510.0 L592.3,1508.8 L598.3,1512.4 L604.4,1520.9 L610.4,1529.4 L617.6,1532.5 L624.9,1531.8 L632.1,1536.6 L639.4,1545.1 L646.6,1552.3 L653.9,1556.7 L659.9,1556.7 L665.0,1554.7 L667.2,1552.3 L674.5,1551.8 L680.5,1558.4 L686.6,1568.0 L693.8,1575.3 L701.1,1581.3 L708.3,1586.1 L714.4,1587.3 L720.4,1583.7 L727.7,1574.1 L734.9,1566.8 L742.2,1561.5 L749.4,1559.6 L756.7,1553.5 L763.9,1551.8 L773.6,1549.9" fill="none" stroke="#3654ab" stroke-width="3.3" stroke-linejoin="round" stroke-linecap="round"/>
<path d="M305.9,1541.4 L313.2,1543.9 L320.4,1546.3 L325.3,1548.7 L330.1,1555.9 L334.9,1551.1 L339.8,1535.4 L344.6,1520.9 L349.4,1507.6 L354.3,1496.7 L360.3,1487.1 L367.6,1477.4 L374.8,1466.5 L382.1,1456.9 L389.3,1447.2 L395.3,1441.2 L400.2,1438.7 L405.0,1439.5 L411.1,1446.0 L418.3,1454.5 L425.6,1460.5 L430.4,1462.9 L436.4,1477.4 L442.5,1494.3 L447.3,1500.4 L453.3,1499.2 L458.2,1504.0 L463.0,1508.8 L467.8,1510.0 L472.7,1507.6 L477.5,1507.6 L482.3,1513.7 L487.2,1526.9 L492.0,1537.8 L498.0,1548.7 L505.3,1559.6 L512.5,1566.8 L519.8,1571.6 L527.0,1569.7 L534.3,1571.6 L541.5,1575.3 L548.8,1578.9 L554.8,1577.7 L560.9,1574.1 L566.9,1568.0 L572.9,1559.6 L579.0,1548.7 L585.0,1531.8 L589.9,1523.3 L595.9,1520.9 L601.9,1522.1 L608.0,1518.5 L614.0,1515.6 L621.3,1514.9 L627.3,1518.5 L634.6,1525.7 L641.8,1534.2 L649.1,1540.2 L657.5,1543.9 L665.0,1547.5 L667.2,1549.9 L674.5,1553.5 L681.7,1558.4 L689.0,1557.1 L695.0,1559.6 L701.1,1552.8 L707.1,1562.0 L711.2,1578.9 L716.8,1577.0 L722.8,1573.6 L728.9,1570.4 L732.5,1572.8 L739.7,1566.3 L747.0,1560.8 L754.2,1559.6 L762.7,1554.7 L771.1,1549.4 L771.1,1555.9 L762.7,1560.0 L754.2,1564.9 L747.0,1566.3 L739.7,1572.8 L732.5,1579.4 L728.9,1577.0 L722.8,1581.3 L716.8,1585.7 L710.3,1588.1 L705.4,1569.2 L700.6,1560.8 L695.0,1569.7 L689.0,1566.8 L681.7,1568.0 L674.5,1560.8 L667.2,1557.1 L665.0,1558.4 L657.5,1554.7 L649.1,1551.1 L641.8,1546.3 L634.6,1540.2 L627.3,1534.2 L621.3,1530.6 L614.0,1530.6 L608.0,1535.4 L601.9,1542.6 L595.9,1539.0 L589.9,1545.1 L585.0,1554.7 L579.0,1572.8 L572.9,1584.9 L566.9,1595.8 L560.9,1600.6 L554.8,1603.1 L548.8,1602.6 L541.5,1597.0 L534.3,1592.2 L527.0,1589.8 L519.8,1592.2 L512.5,1587.3 L505.3,1581.3 L498.0,1570.4 L492.0,1558.4 L487.2,1548.7 L482.3,1539.0 L477.5,1535.4 L472.7,1536.6 L467.8,1542.2 L463.0,1541.4 L458.2,1536.6 L453.3,1534.2 L448.5,1535.4 L443.7,1531.8 L437.6,1516.1 L431.6,1502.8 L425.6,1493.1 L418.3,1483.4 L411.1,1473.8 L405.0,1466.5 L400.2,1464.1 L395.3,1464.1 L389.3,1467.7 L382.1,1475.0 L374.8,1484.7 L367.6,1494.3 L360.3,1504.0 L354.3,1513.7 L349.4,1525.7 L344.6,1540.2 L339.8,1554.7 L334.9,1570.4 L330.1,1577.7 L325.3,1562.0 L319.2,1552.3 L313.2,1548.7 L305.9,1543.9Z" fill="rgba(240,75,50,0.72)" stroke="#ee332e" stroke-width="1.3" stroke-linejoin="round"/>
<path d="M305.9,1542.6 L313.2,1546.3 L319.2,1548.7 L325.3,1555.9 L330.1,1564.4 L334.9,1559.6 L339.8,1545.1 L344.6,1530.6 L349.4,1516.1 L354.3,1505.2 L360.3,1495.5 L367.6,1485.9 L374.8,1476.2 L382.1,1466.5 L389.3,1458.1 L395.3,1453.2 L400.2,1452.5 L405.0,1453.2 L411.1,1459.3 L418.3,1466.5 L425.6,1475.0 L431.6,1481.0 L437.6,1494.3 L443.7,1508.8 L448.5,1517.3 L453.3,1517.3 L458.2,1520.9 L463.0,1524.5 L467.8,1525.7 L472.7,1522.8 L477.5,1522.1 L482.3,1528.1 L487.2,1537.8 L492.0,1547.5 L498.0,1558.4 L505.3,1568.0 L512.5,1575.3 L519.8,1580.1 L527.0,1578.4 L534.3,1580.1 L541.5,1583.7 L548.8,1588.6 L554.8,1589.8 L560.9,1587.3 L566.9,1581.3 L572.9,1571.6 L579.0,1559.6 L585.0,1542.6 L589.9,1534.2 L595.9,1530.1 L601.9,1529.4 L608.0,1526.9 L614.0,1523.3 L621.3,1523.3 L627.3,1526.9 L634.6,1533.0 L641.8,1540.2 L649.1,1545.1 L657.5,1548.7 L665.0,1552.3 L667.2,1553.5 L674.5,1556.7 L681.7,1562.0 L689.0,1560.8 L695.0,1564.4 L701.1,1555.9 L705.9,1564.4 L710.7,1583.7 L716.8,1581.3 L722.8,1577.7 L728.9,1574.1 L732.5,1576.0 L739.7,1569.2 L747.0,1563.2 L754.2,1562.0 L762.7,1557.1 L771.1,1552.3" fill="none" stroke="#ee332e" stroke-width="3.7" stroke-linejoin="round" stroke-linecap="round"/>
</g>
<line x1="231.8" y1="1538.6" x2="1097.9" y2="1538.6" stroke="#231f20" stroke-width="3.4"/>
<rect x="231.8" y="1335.5" width="866.1000000000001" height="369.9000000000001" fill="none" stroke="#231f20" stroke-width="1.8"/>
<line x1="256.0" y1="1324.0" x2="256.0" y2="1335.5" stroke="#231f20" stroke-width="1.6"/>
<line x1="256.0" y1="1705.4" x2="256.0" y2="1716.4" stroke="#231f20" stroke-width="1.6"/>
<text x="246.5" y="1310.4" font-size="36" text-anchor="middle" font-weight="normal">–80</text>
<line x1="355.0" y1="1324.0" x2="355.0" y2="1335.5" stroke="#231f20" stroke-width="1.6"/>
<line x1="355.0" y1="1705.4" x2="355.0" y2="1716.4" stroke="#231f20" stroke-width="1.6"/>
<text x="345.5" y="1310.4" font-size="36" text-anchor="middle" font-weight="normal">–60</text>
<line x1="454.0" y1="1324.0" x2="454.0" y2="1335.5" stroke="#231f20" stroke-width="1.6"/>
<line x1="454.0" y1="1705.4" x2="454.0" y2="1716.4" stroke="#231f20" stroke-width="1.6"/>
<text x="444.5" y="1310.4" font-size="36" text-anchor="middle" font-weight="normal">–40</text>
<line x1="553.0" y1="1324.0" x2="553.0" y2="1335.5" stroke="#231f20" stroke-width="1.6"/>
<line x1="553.0" y1="1705.4" x2="553.0" y2="1716.4" stroke="#231f20" stroke-width="1.6"/>
<text x="543.5" y="1310.4" font-size="36" text-anchor="middle" font-weight="normal">–20</text>
<line x1="652.0" y1="1324.0" x2="652.0" y2="1335.5" stroke="#231f20" stroke-width="1.6"/>
<line x1="652.0" y1="1705.4" x2="652.0" y2="1716.4" stroke="#231f20" stroke-width="1.6"/>
<text x="652.5" y="1310.4" font-size="36" text-anchor="middle" font-weight="normal">0</text>
<line x1="751.0" y1="1324.0" x2="751.0" y2="1335.5" stroke="#231f20" stroke-width="1.6"/>
<line x1="751.0" y1="1705.4" x2="751.0" y2="1716.4" stroke="#231f20" stroke-width="1.6"/>
<text x="751.5" y="1310.4" font-size="36" text-anchor="middle" font-weight="normal">20</text>
<line x1="850.0" y1="1324.0" x2="850.0" y2="1335.5" stroke="#231f20" stroke-width="1.6"/>
<line x1="850.0" y1="1705.4" x2="850.0" y2="1716.4" stroke="#231f20" stroke-width="1.6"/>
<text x="850.5" y="1310.4" font-size="36" text-anchor="middle" font-weight="normal">40</text>
<line x1="949.0" y1="1324.0" x2="949.0" y2="1335.5" stroke="#231f20" stroke-width="1.6"/>
<line x1="949.0" y1="1705.4" x2="949.0" y2="1716.4" stroke="#231f20" stroke-width="1.6"/>
<text x="949.5" y="1310.4" font-size="36" text-anchor="middle" font-weight="normal">60</text>
<line x1="1048.0" y1="1324.0" x2="1048.0" y2="1335.5" stroke="#231f20" stroke-width="1.6"/>
<line x1="1048.0" y1="1705.4" x2="1048.0" y2="1716.4" stroke="#231f20" stroke-width="1.6"/>
<text x="1048.5" y="1310.4" font-size="36" text-anchor="middle" font-weight="normal">80</text>
<line x1="219.8" y1="1677.9" x2="231.8" y2="1677.9" stroke="#231f20" stroke-width="1.6"/>
<line x1="1097.9" y1="1677.9" x2="1108.9" y2="1677.9" stroke="#231f20" stroke-width="1.6"/>
<line x1="219.8" y1="1631.5" x2="231.8" y2="1631.5" stroke="#231f20" stroke-width="1.6"/>
<line x1="1097.9" y1="1631.5" x2="1108.9" y2="1631.5" stroke="#231f20" stroke-width="1.6"/>
<text x="207.3" y="1648.8" font-size="36" text-anchor="end" font-weight="normal">–1000</text>
<line x1="219.8" y1="1585.0" x2="231.8" y2="1585.0" stroke="#231f20" stroke-width="1.6"/>
<line x1="1097.9" y1="1585.0" x2="1108.9" y2="1585.0" stroke="#231f20" stroke-width="1.6"/>
<line x1="219.8" y1="1538.6" x2="231.8" y2="1538.6" stroke="#231f20" stroke-width="1.6"/>
<line x1="1097.9" y1="1538.6" x2="1108.9" y2="1538.6" stroke="#231f20" stroke-width="1.6"/>
<text x="207.3" y="1555.9" font-size="36" text-anchor="end" font-weight="normal">0</text>
<line x1="219.8" y1="1492.1" x2="231.8" y2="1492.1" stroke="#231f20" stroke-width="1.6"/>
<line x1="1097.9" y1="1492.1" x2="1108.9" y2="1492.1" stroke="#231f20" stroke-width="1.6"/>
<line x1="219.8" y1="1445.7" x2="231.8" y2="1445.7" stroke="#231f20" stroke-width="1.6"/>
<line x1="1097.9" y1="1445.7" x2="1108.9" y2="1445.7" stroke="#231f20" stroke-width="1.6"/>
<text x="207.3" y="1463.0" font-size="36" text-anchor="end" font-weight="normal">1000</text>
<line x1="219.8" y1="1399.2" x2="231.8" y2="1399.2" stroke="#231f20" stroke-width="1.6"/>
<line x1="1097.9" y1="1399.2" x2="1108.9" y2="1399.2" stroke="#231f20" stroke-width="1.6"/>
<line x1="219.8" y1="1352.8" x2="231.8" y2="1352.8" stroke="#231f20" stroke-width="1.6"/>
<line x1="1097.9" y1="1352.8" x2="1108.9" y2="1352.8" stroke="#231f20" stroke-width="1.6"/>
<text x="207.3" y="1370.1" font-size="36" text-anchor="end" font-weight="normal">2000</text>
<text x="256.0" y="1677.7" font-size="36.3" text-anchor="start" font-weight="bold" fill="#0d0a0b" stroke="#0d0a0b" stroke-width="0.5">(e) Indian</text>
</g>
<g id="panel-f">
<clipPath id="clip-f"><rect x="1295.3" y="1335.5" width="866.7" height="369.9000000000001"/></clipPath>
<g clip-path="url(#clip-f)">
<path d="M1326.7,1519.1 L1331.1,1507.0 L1335.9,1493.7 L1341.9,1488.4 L1348.0,1486.5 L1355.2,1487.0 L1362.5,1488.9 L1368.5,1492.5 L1373.4,1510.6 L1379.4,1517.9 L1385.4,1516.7 L1389.1,1520.3 L1392.7,1527.6 L1397.5,1520.3 L1403.6,1505.8 L1409.6,1491.3 L1415.6,1481.6 L1422.9,1475.6 L1430.1,1468.4 L1437.4,1455.1 L1444.6,1444.2 L1451.9,1435.7 L1457.9,1424.9 L1464.0,1406.7 L1470.0,1392.2 L1474.8,1388.1 L1479.7,1392.2 L1484.5,1411.6 L1489.3,1440.6 L1494.2,1481.6 L1499.0,1522.7 L1503.8,1556.5 L1507.5,1571.0 L1511.1,1580.7 L1517.1,1571.0 L1522.0,1551.7 L1526.8,1527.6 L1531.6,1503.4 L1536.5,1481.6 L1541.3,1467.1 L1546.1,1462.3 L1552.2,1472.0 L1558.2,1486.5 L1564.2,1503.4 L1570.3,1519.1 L1576.3,1534.8 L1582.4,1549.3 L1588.4,1561.4 L1594.9,1567.4 L1600.5,1559.0 L1606.5,1544.5 L1612.6,1532.4 L1618.6,1522.7 L1623.4,1518.4 L1630.7,1519.1 L1636.7,1528.8 L1642.8,1526.3 L1650.0,1520.3 L1657.3,1514.3 L1664.5,1508.2 L1671.8,1514.3 L1679.0,1513.1 L1686.3,1512.6 L1693.5,1517.9 L1700.8,1514.3 L1705.6,1517.4 L1710.4,1515.5 L1716.5,1499.8 L1722.5,1496.1 L1730.0,1488.9 L1733.5,1484.1 L1737.1,1473.2 L1741.9,1473.2 L1746.7,1481.6 L1750.4,1496.1 L1755.2,1517.9 L1760.0,1532.4 L1764.9,1543.3 L1769.7,1552.9 L1774.5,1559.0 L1780.6,1560.2 L1786.6,1551.7 L1792.7,1540.8 L1797.5,1548.1 L1802.3,1549.3 L1807.2,1546.9 L1812.0,1559.0 L1818.0,1568.6 L1824.1,1571.0 L1831.3,1573.5 L1837.4,1566.2 L1842.2,1561.4 L1848.2,1562.6 L1854.3,1554.1 L1860.3,1548.1 L1866.4,1539.6 L1872.4,1530.0 L1877.2,1523.9 L1884.5,1521.5 L1891.7,1520.3 L1897.8,1516.7 L1903.8,1515.0 L1909.8,1516.7 L1915.9,1513.1 L1920.7,1513.5 L1926.8,1519.8 L1931.6,1515.5 L1936.4,1512.6 L1941.3,1514.3 L1946.1,1519.1 L1952.1,1523.2 L1957.0,1524.7 L1963.0,1520.3 L1967.8,1516.7 L1975.1,1508.2 L1982.3,1503.9 L1989.6,1502.9 L1996.8,1502.7 L2001.7,1503.4 L2007.7,1508.2 L2013.7,1515.5 L2019.8,1515.0 L2025.8,1514.3 L2030.7,1520.3 L2036.7,1526.3 L2043.9,1523.9 L2050.0,1521.5 L2056.0,1517.9 L2060.9,1501.0 L2064.5,1476.8 L2069.3,1458.7 L2074.2,1461.8 L2079.0,1460.4 L2083.8,1467.1 L2088.6,1484.1 L2094.7,1503.4 L2099.5,1515.5 L2104.4,1537.2 L2109.2,1551.7 L2114.0,1565.0 L2120.1,1571.0 L2123.7,1571.0 L2128.5,1560.9 L2134.6,1559.0 L2140.6,1555.3 L2146.6,1550.5 L2153.9,1543.3 L2158.7,1540.4 L2159.9,1540.8 L2157.5,1554.1 L2152.7,1574.7 L2146.6,1594.0 L2140.6,1606.1 L2134.6,1612.1 L2128.5,1613.3 L2123.7,1622.3 L2115.2,1619.4 L2109.2,1614.5 L2104.4,1602.5 L2098.3,1581.9 L2092.3,1562.6 L2086.2,1542.0 L2080.2,1525.1 L2074.2,1510.6 L2069.3,1499.8 L2064.5,1510.6 L2059.7,1532.4 L2054.8,1539.6 L2047.6,1540.8 L2040.3,1545.7 L2034.3,1549.8 L2027.0,1545.7 L2021.0,1556.5 L2015.0,1560.2 L2008.9,1556.5 L2002.9,1548.1 L1996.8,1545.7 L1988.4,1543.3 L1981.1,1543.3 L1973.9,1552.9 L1967.8,1561.4 L1961.8,1565.0 L1955.8,1559.0 L1949.7,1549.3 L1943.7,1544.5 L1937.6,1549.3 L1931.6,1559.0 L1925.6,1569.8 L1919.5,1567.4 L1913.5,1571.0 L1906.2,1573.5 L1899.0,1573.5 L1891.7,1578.3 L1884.5,1585.5 L1877.2,1595.2 L1870.0,1602.5 L1862.7,1609.7 L1856.7,1614.5 L1853.1,1625.4 L1847.0,1626.6 L1842.2,1626.6 L1837.4,1652.0 L1832.5,1655.6 L1827.7,1655.6 L1822.9,1664.1 L1818.0,1665.3 L1813.2,1661.7 L1808.4,1645.9 L1803.5,1637.5 L1797.5,1629.0 L1791.4,1620.6 L1785.4,1631.5 L1779.4,1643.5 L1774.5,1641.1 L1769.7,1631.5 L1763.7,1614.5 L1760.0,1600.0 L1755.2,1578.3 L1750.4,1559.0 L1745.5,1544.5 L1739.5,1542.0 L1732.2,1549.3 L1730.0,1559.0 L1720.1,1571.0 L1714.1,1585.5 L1708.0,1595.2 L1700.8,1592.8 L1693.5,1591.6 L1686.3,1590.4 L1679.0,1592.8 L1671.8,1598.8 L1664.5,1597.6 L1657.3,1602.5 L1650.0,1617.0 L1644.0,1629.0 L1637.9,1639.9 L1630.7,1633.9 L1624.7,1626.6 L1618.6,1625.4 L1612.6,1629.0 L1606.5,1639.9 L1600.5,1650.8 L1594.5,1650.3 L1588.4,1638.7 L1582.4,1621.8 L1576.3,1602.5 L1570.3,1585.5 L1564.2,1572.3 L1558.2,1566.2 L1552.2,1561.4 L1546.1,1556.5 L1540.1,1559.0 L1534.0,1573.5 L1529.2,1595.2 L1524.4,1624.2 L1519.5,1653.2 L1515.2,1668.9 L1509.9,1666.5 L1505.0,1645.9 L1500.2,1609.7 L1495.4,1568.6 L1490.6,1527.6 L1485.7,1496.1 L1480.9,1474.4 L1476.1,1469.6 L1470.0,1470.8 L1464.0,1481.6 L1457.9,1490.1 L1450.7,1494.9 L1443.4,1505.8 L1436.2,1516.7 L1428.9,1528.8 L1421.7,1534.8 L1414.4,1536.0 L1408.4,1544.5 L1402.4,1555.3 L1396.3,1566.2 L1391.5,1569.8 L1386.7,1551.7 L1381.8,1552.9 L1375.8,1546.9 L1370.9,1540.8 L1364.9,1526.3 L1357.7,1520.3 L1350.4,1514.3 L1344.4,1507.0 L1338.3,1507.0 L1332.3,1516.7 L1326.7,1525.1Z" fill="#7c85c9" stroke="#3654ab" stroke-width="1.3" stroke-linejoin="round"/>
<path d="M1326.7,1522.7 L1331.1,1513.1 L1335.9,1502.2 L1341.9,1498.1 L1348.0,1498.1 L1354.0,1502.2 L1361.3,1505.8 L1367.3,1509.4 L1373.4,1522.7 L1379.4,1531.2 L1385.4,1533.6 L1389.1,1539.6 L1392.7,1548.1 L1397.5,1544.5 L1403.6,1532.4 L1409.6,1517.9 L1415.6,1508.2 L1422.9,1504.6 L1430.1,1497.3 L1437.4,1485.3 L1444.6,1473.2 L1451.9,1464.7 L1457.9,1458.7 L1464.0,1445.4 L1470.0,1432.1 L1474.8,1428.5 L1479.7,1430.9 L1484.5,1447.8 L1489.3,1474.4 L1494.2,1515.5 L1499.0,1559.0 L1503.8,1592.8 L1508.7,1614.5 L1513.5,1623.7 L1517.1,1623.0 L1522.0,1604.9 L1526.8,1575.9 L1531.6,1551.7 L1536.5,1532.4 L1541.3,1517.9 L1546.6,1510.6 L1552.2,1517.9 L1558.2,1532.4 L1564.2,1549.3 L1570.3,1565.0 L1576.3,1580.7 L1582.4,1595.2 L1588.4,1604.9 L1594.5,1609.2 L1599.3,1608.5 L1605.3,1597.6 L1611.4,1585.5 L1617.4,1575.9 L1623.4,1572.3 L1630.7,1573.5 L1636.7,1581.9 L1642.8,1579.5 L1650.0,1569.8 L1657.3,1560.2 L1664.5,1552.9 L1671.8,1554.1 L1679.0,1552.9 L1686.3,1550.5 L1693.5,1554.1 L1700.8,1554.1 L1705.6,1551.7 L1710.4,1556.5 L1715.3,1544.5 L1721.3,1530.0 L1730.0,1517.9 L1731.0,1513.1 L1735.9,1505.8 L1740.7,1504.6 L1745.5,1510.6 L1750.4,1527.6 L1755.2,1549.3 L1760.0,1568.6 L1764.9,1583.1 L1769.7,1595.2 L1774.5,1604.9 L1779.4,1600.0 L1785.4,1588.0 L1792.7,1579.5 L1798.7,1590.4 L1804.7,1595.2 L1810.8,1609.7 L1815.6,1619.4 L1821.7,1624.2 L1827.7,1619.4 L1832.5,1621.8 L1837.4,1619.4 L1841.0,1597.6 L1845.8,1595.2 L1850.6,1592.8 L1856.7,1580.7 L1862.7,1577.1 L1868.8,1571.0 L1876.0,1562.6 L1883.3,1556.5 L1890.5,1552.9 L1897.8,1546.9 L1905.0,1540.8 L1912.3,1539.6 L1919.5,1540.8 L1926.8,1538.4 L1934.0,1532.4 L1938.8,1533.6 L1944.9,1539.6 L1950.9,1543.3 L1957.0,1544.5 L1963.0,1542.0 L1969.0,1537.2 L1976.3,1532.4 L1982.3,1530.0 L1989.6,1532.4 L1996.8,1534.8 L2004.1,1532.4 L2010.1,1536.0 L2017.4,1534.8 L2023.4,1532.4 L2029.5,1531.2 L2035.5,1534.8 L2041.5,1533.6 L2048.8,1533.6 L2054.8,1531.2 L2059.7,1520.3 L2064.5,1496.1 L2069.3,1481.6 L2074.2,1486.5 L2080.2,1496.1 L2086.2,1510.6 L2092.3,1527.6 L2098.3,1549.3 L2104.4,1571.0 L2110.4,1586.7 L2116.4,1594.0 L2122.5,1595.2 L2127.3,1586.7 L2133.4,1585.5 L2139.4,1580.7 L2145.4,1572.3 L2151.5,1559.0 L2157.5,1544.5" fill="none" stroke="#3654ab" stroke-width="3.3" stroke-linejoin="round" stroke-linecap="round"/>
<path d="M1369.3,1486.5 L1373.4,1496.1 L1378.2,1503.4 L1384.2,1508.2 L1389.1,1511.8 L1393.9,1516.7 L1398.7,1503.4 L1403.6,1479.2 L1408.4,1455.1 L1413.2,1433.3 L1418.1,1418.8 L1424.1,1404.3 L1430.1,1392.2 L1436.2,1383.8 L1442.2,1371.7 L1448.3,1353.6 L1454.3,1339.1 L1459.1,1335.5 L1476.1,1335.5 L1479.7,1343.9 L1484.5,1363.2 L1489.3,1380.2 L1494.2,1397.1 L1499.0,1418.8 L1503.8,1443.0 L1508.7,1467.1 L1513.5,1480.4 L1519.5,1484.1 L1526.8,1487.7 L1531.6,1472.0 L1536.5,1457.5 L1542.5,1443.0 L1547.3,1435.7 L1552.2,1447.8 L1558.2,1467.1 L1564.2,1488.9 L1570.3,1503.4 L1576.3,1514.3 L1583.6,1519.1 L1589.6,1513.1 L1596.9,1508.2 L1602.9,1513.1 L1608.9,1517.9 L1615.0,1527.6 L1622.2,1531.2 L1630.7,1533.6 L1636.7,1531.9 L1641.6,1544.5 L1647.6,1555.3 L1654.9,1561.4 L1662.1,1574.7 L1670.6,1585.5 L1677.8,1577.1 L1683.9,1572.3 L1689.9,1573.5 L1695.9,1580.7 L1700.8,1583.1 L1705.6,1588.0 L1711.6,1563.8 L1717.7,1544.5 L1723.7,1530.0 L1730.0,1522.7 L1734.7,1513.1 L1739.5,1505.8 L1745.5,1505.8 L1751.6,1499.8 L1756.4,1497.3 L1760.8,1495.7 L1764.9,1505.8 L1769.7,1515.5 L1773.3,1542.0 L1776.9,1559.0 L1783.0,1557.8 L1789.0,1562.6 L1795.1,1568.6 L1799.9,1572.3 L1803.5,1566.2 L1807.2,1556.5 L1810.8,1537.2 L1814.4,1527.6 L1820.4,1526.3 L1825.3,1527.6 L1830.1,1522.2 L1836.1,1526.3 L1844.6,1525.9 L1848.2,1534.8 L1854.3,1544.5 L1859.1,1563.8 L1863.9,1578.3 L1868.8,1594.0 L1874.8,1597.6 L1879.6,1601.2 L1884.5,1602.5 L1889.3,1607.3 L1894.1,1601.2 L1897.8,1580.7 L1901.4,1559.0 L1906.2,1537.2 L1909.8,1525.1 L1913.5,1518.4 L1918.3,1521.5 L1924.3,1525.1 L1930.4,1525.1 L1936.4,1526.3 L1941.3,1539.6 L1947.3,1548.1 L1954.5,1548.8 L1960.6,1545.7 L1966.6,1537.2 L1972.7,1526.3 L1977.5,1519.1 L1982.3,1521.5 L1987.2,1522.7 L1993.2,1519.1 L1996.8,1522.7 L2002.9,1516.7 L2008.9,1516.7 L2015.0,1520.3 L2021.0,1521.5 L2027.0,1517.9 L2033.1,1519.8 L2039.1,1519.1 L2046.4,1517.9 L2053.6,1514.3 L2058.4,1505.8 L2060.9,1486.5 L2062.3,1475.6 L2063.3,1476.8 L2061.8,1496.1 L2058.9,1515.5 L2053.6,1525.1 L2046.4,1528.8 L2039.1,1528.8 L2033.1,1531.2 L2027.0,1528.8 L2021.0,1532.4 L2015.0,1534.3 L2008.9,1534.3 L2002.9,1532.4 L1996.8,1538.4 L1992.0,1534.8 L1986.0,1538.4 L1981.1,1534.8 L1977.5,1539.6 L1972.7,1546.9 L1966.6,1560.2 L1960.6,1568.6 L1953.3,1572.3 L1947.3,1569.8 L1941.3,1562.6 L1936.4,1549.3 L1931.6,1552.9 L1925.6,1557.8 L1920.7,1559.0 L1914.7,1557.8 L1911.1,1561.4 L1906.2,1571.0 L1901.4,1597.6 L1897.8,1621.8 L1894.1,1642.3 L1889.3,1647.9 L1884.5,1642.3 L1879.6,1643.5 L1874.8,1638.7 L1868.8,1636.3 L1863.9,1617.0 L1860.3,1602.5 L1856.7,1583.1 L1851.9,1588.0 L1847.0,1585.5 L1841.0,1589.2 L1834.9,1596.4 L1830.1,1592.8 L1825.3,1595.2 L1820.4,1602.5 L1814.4,1607.3 L1809.6,1621.8 L1804.7,1645.9 L1799.9,1660.0 L1795.1,1649.6 L1791.4,1650.8 L1785.4,1652.0 L1780.1,1662.9 L1774.5,1654.4 L1770.9,1600.0 L1766.1,1578.3 L1761.2,1562.6 L1755.2,1563.8 L1750.4,1568.6 L1745.5,1573.9 L1740.7,1573.5 L1735.9,1583.1 L1731.0,1592.8 L1730.0,1595.2 L1723.7,1600.0 L1717.7,1609.7 L1711.6,1629.0 L1705.6,1649.6 L1700.8,1645.9 L1694.7,1645.9 L1688.7,1639.9 L1681.4,1643.5 L1674.2,1654.4 L1666.9,1659.2 L1662.1,1653.2 L1654.9,1643.5 L1647.6,1639.9 L1641.6,1626.6 L1636.7,1613.3 L1630.7,1617.0 L1623.4,1613.3 L1616.2,1607.3 L1608.9,1598.8 L1602.9,1591.6 L1596.9,1590.4 L1592.0,1595.2 L1587.2,1604.4 L1582.4,1603.7 L1576.3,1597.6 L1570.3,1588.0 L1564.2,1573.5 L1558.2,1551.7 L1552.2,1532.4 L1547.3,1525.1 L1542.5,1532.4 L1537.7,1549.3 L1532.8,1571.0 L1528.0,1589.9 L1524.4,1590.9 L1518.3,1588.0 L1512.3,1580.7 L1506.3,1562.6 L1501.4,1539.6 L1496.6,1513.1 L1491.8,1484.1 L1486.9,1455.1 L1482.1,1430.9 L1477.3,1409.2 L1472.4,1392.2 L1467.6,1385.0 L1461.6,1387.4 L1455.5,1392.2 L1449.5,1401.9 L1443.4,1416.4 L1437.4,1428.5 L1431.4,1435.7 L1425.3,1450.2 L1419.3,1467.1 L1414.4,1484.1 L1409.6,1505.8 L1404.8,1530.0 L1398.7,1552.9 L1393.9,1565.0 L1389.1,1552.9 L1384.2,1544.5 L1378.2,1537.2 L1373.4,1525.1 L1369.3,1514.3Z" fill="rgba(240,75,50,0.72)" stroke="#ee332e" stroke-width="1.3" stroke-linejoin="round"/>
<path d="M1369.3,1505.8 L1373.4,1517.9 L1378.2,1527.6 L1384.2,1534.8 L1389.1,1537.2 L1393.9,1542.0 L1398.7,1532.4 L1403.6,1510.6 L1408.4,1484.1 L1413.2,1461.1 L1418.1,1443.0 L1424.1,1427.3 L1430.1,1416.4 L1436.2,1409.2 L1442.2,1397.1 L1448.3,1380.2 L1454.3,1366.9 L1461.6,1360.8 L1468.8,1356.0 L1473.6,1363.2 L1478.5,1377.7 L1483.3,1394.7 L1488.1,1411.6 L1493.0,1430.9 L1497.8,1455.1 L1502.6,1481.6 L1507.5,1508.2 L1512.3,1527.6 L1518.3,1534.8 L1524.4,1539.6 L1529.2,1537.2 L1534.0,1515.5 L1538.9,1498.6 L1543.7,1486.5 L1547.3,1479.2 L1552.2,1488.9 L1558.2,1510.6 L1564.2,1530.0 L1570.3,1544.5 L1576.3,1554.1 L1582.4,1560.2 L1587.2,1561.4 L1592.0,1555.3 L1596.9,1550.5 L1602.9,1554.1 L1608.9,1560.2 L1616.2,1568.6 L1623.4,1573.5 L1630.7,1575.9 L1636.7,1572.3 L1641.6,1588.0 L1647.6,1600.0 L1654.9,1607.3 L1662.1,1615.7 L1670.6,1621.3 L1676.6,1613.3 L1682.6,1607.3 L1689.9,1606.1 L1695.9,1614.5 L1700.8,1615.7 L1705.6,1620.6 L1711.6,1600.0 L1717.7,1580.7 L1723.7,1566.2 L1730.0,1559.0 L1734.7,1544.5 L1739.5,1539.6 L1744.3,1539.1 L1749.2,1534.8 L1754.0,1531.2 L1761.2,1530.0 L1764.9,1545.7 L1769.7,1562.6 L1774.5,1600.0 L1780.6,1612.1 L1786.6,1604.9 L1792.7,1607.3 L1799.9,1615.7 L1804.7,1602.5 L1809.6,1580.7 L1815.6,1568.6 L1821.7,1567.4 L1826.5,1563.8 L1831.3,1559.0 L1836.1,1561.4 L1843.4,1554.1 L1848.2,1562.6 L1854.3,1561.4 L1859.1,1578.3 L1863.9,1595.2 L1868.8,1614.5 L1874.8,1617.0 L1879.6,1621.8 L1884.5,1620.6 L1889.3,1627.8 L1894.1,1623.0 L1897.8,1602.5 L1901.4,1575.9 L1906.2,1549.3 L1911.1,1537.2 L1914.7,1534.8 L1920.7,1539.6 L1925.6,1542.0 L1931.6,1539.6 L1936.4,1537.2 L1941.3,1551.7 L1947.3,1559.0 L1954.5,1560.2 L1960.6,1556.5 L1966.6,1549.3 L1972.7,1537.2 L1977.5,1532.4 L1981.1,1527.6 L1986.0,1532.4 L1992.0,1527.6 L1996.8,1531.2 L2002.9,1525.1 L2008.9,1527.6 L2015.0,1527.6 L2021.0,1526.3 L2027.0,1523.9 L2033.1,1526.3 L2039.1,1523.9 L2046.4,1523.9 L2053.6,1520.3 L2058.4,1510.6 L2061.3,1491.3 L2062.8,1475.6" fill="none" stroke="#ee332e" stroke-width="3.7" stroke-linejoin="round" stroke-linecap="round"/>
</g>
<line x1="1295.3" y1="1538.8" x2="2162.0" y2="1538.8" stroke="#231f20" stroke-width="3.4"/>
<rect x="1295.3" y="1335.5" width="866.7" height="369.9000000000001" fill="none" stroke="#231f20" stroke-width="1.8"/>
<line x1="1320.7" y1="1324.0" x2="1320.7" y2="1335.5" stroke="#231f20" stroke-width="1.6"/>
<line x1="1320.7" y1="1705.4" x2="1320.7" y2="1716.4" stroke="#231f20" stroke-width="1.6"/>
<text x="1311.2" y="1310.4" font-size="36" text-anchor="middle" font-weight="normal">–80</text>
<line x1="1419.6" y1="1324.0" x2="1419.6" y2="1335.5" stroke="#231f20" stroke-width="1.6"/>
<line x1="1419.6" y1="1705.4" x2="1419.6" y2="1716.4" stroke="#231f20" stroke-width="1.6"/>
<text x="1410.1" y="1310.4" font-size="36" text-anchor="middle" font-weight="normal">–60</text>
<line x1="1518.5" y1="1324.0" x2="1518.5" y2="1335.5" stroke="#231f20" stroke-width="1.6"/>
<line x1="1518.5" y1="1705.4" x2="1518.5" y2="1716.4" stroke="#231f20" stroke-width="1.6"/>
<text x="1509.0" y="1310.4" font-size="36" text-anchor="middle" font-weight="normal">–40</text>
<line x1="1617.4" y1="1324.0" x2="1617.4" y2="1335.5" stroke="#231f20" stroke-width="1.6"/>
<line x1="1617.4" y1="1705.4" x2="1617.4" y2="1716.4" stroke="#231f20" stroke-width="1.6"/>
<text x="1607.9" y="1310.4" font-size="36" text-anchor="middle" font-weight="normal">–20</text>
<line x1="1716.3" y1="1324.0" x2="1716.3" y2="1335.5" stroke="#231f20" stroke-width="1.6"/>
<line x1="1716.3" y1="1705.4" x2="1716.3" y2="1716.4" stroke="#231f20" stroke-width="1.6"/>
<text x="1716.8" y="1310.4" font-size="36" text-anchor="middle" font-weight="normal">0</text>
<line x1="1815.2" y1="1324.0" x2="1815.2" y2="1335.5" stroke="#231f20" stroke-width="1.6"/>
<line x1="1815.2" y1="1705.4" x2="1815.2" y2="1716.4" stroke="#231f20" stroke-width="1.6"/>
<text x="1815.7" y="1310.4" font-size="36" text-anchor="middle" font-weight="normal">20</text>
<line x1="1914.1" y1="1324.0" x2="1914.1" y2="1335.5" stroke="#231f20" stroke-width="1.6"/>
<line x1="1914.1" y1="1705.4" x2="1914.1" y2="1716.4" stroke="#231f20" stroke-width="1.6"/>
<text x="1914.6" y="1310.4" font-size="36" text-anchor="middle" font-weight="normal">40</text>
<line x1="2013.0" y1="1324.0" x2="2013.0" y2="1335.5" stroke="#231f20" stroke-width="1.6"/>
<line x1="2013.0" y1="1705.4" x2="2013.0" y2="1716.4" stroke="#231f20" stroke-width="1.6"/>
<text x="2013.5" y="1310.4" font-size="36" text-anchor="middle" font-weight="normal">60</text>
<line x1="2111.9" y1="1324.0" x2="2111.9" y2="1335.5" stroke="#231f20" stroke-width="1.6"/>
<line x1="2111.9" y1="1705.4" x2="2111.9" y2="1716.4" stroke="#231f20" stroke-width="1.6"/>
<text x="2112.4" y="1310.4" font-size="36" text-anchor="middle" font-weight="normal">80</text>
<line x1="1283.3" y1="1678.2" x2="1295.3" y2="1678.2" stroke="#231f20" stroke-width="1.6"/>
<line x1="2162.0" y1="1678.2" x2="2173.0" y2="1678.2" stroke="#231f20" stroke-width="1.6"/>
<line x1="1283.3" y1="1631.7" x2="1295.3" y2="1631.7" stroke="#231f20" stroke-width="1.6"/>
<line x1="2162.0" y1="1631.7" x2="2173.0" y2="1631.7" stroke="#231f20" stroke-width="1.6"/>
<text x="1270.8" y="1649.0" font-size="36" text-anchor="end" font-weight="normal">–1000</text>
<line x1="1283.3" y1="1585.2" x2="1295.3" y2="1585.2" stroke="#231f20" stroke-width="1.6"/>
<line x1="2162.0" y1="1585.2" x2="2173.0" y2="1585.2" stroke="#231f20" stroke-width="1.6"/>
<line x1="1283.3" y1="1538.8" x2="1295.3" y2="1538.8" stroke="#231f20" stroke-width="1.6"/>
<line x1="2162.0" y1="1538.8" x2="2173.0" y2="1538.8" stroke="#231f20" stroke-width="1.6"/>
<text x="1270.8" y="1556.1" font-size="36" text-anchor="end" font-weight="normal">0</text>
<line x1="1283.3" y1="1492.3" x2="1295.3" y2="1492.3" stroke="#231f20" stroke-width="1.6"/>
<line x1="2162.0" y1="1492.3" x2="2173.0" y2="1492.3" stroke="#231f20" stroke-width="1.6"/>
<line x1="1283.3" y1="1445.9" x2="1295.3" y2="1445.9" stroke="#231f20" stroke-width="1.6"/>
<line x1="2162.0" y1="1445.9" x2="2173.0" y2="1445.9" stroke="#231f20" stroke-width="1.6"/>
<text x="1270.8" y="1463.2" font-size="36" text-anchor="end" font-weight="normal">1000</text>
<line x1="1283.3" y1="1399.4" x2="1295.3" y2="1399.4" stroke="#231f20" stroke-width="1.6"/>
<line x1="2162.0" y1="1399.4" x2="2173.0" y2="1399.4" stroke="#231f20" stroke-width="1.6"/>
<line x1="1283.3" y1="1353.0" x2="1295.3" y2="1353.0" stroke="#231f20" stroke-width="1.6"/>
<line x1="2162.0" y1="1353.0" x2="2173.0" y2="1353.0" stroke="#231f20" stroke-width="1.6"/>
<text x="1270.8" y="1370.3" font-size="36" text-anchor="end" font-weight="normal">2000</text>
<text x="1319.0" y="1677.7" font-size="36.3" text-anchor="start" font-weight="bold" fill="#0d0a0b" stroke="#0d0a0b" stroke-width="0.5">(f) World</text>
</g>
<defs>
<pattern id="darkpat" width="5" height="5" patternUnits="userSpaceOnUse"><rect width="5" height="5" fill="#262223"/><path d="M0,0.5H5M0.5,0V5" stroke="#474344" stroke-width="0.75"/></pattern>
<pattern id="pinkpat" width="5" height="5" patternUnits="userSpaceOnUse"><rect width="5" height="5" fill="#eeb3d6"/><path d="M0,0.5H5M0.5,0V5" stroke="#f1c1de" stroke-width="0.7"/></pattern>
<pattern id="cyanpat" width="5" height="5" patternUnits="userSpaceOnUse"><rect width="5" height="5" fill="#a5dbe8"/><path d="M0,0.5H5M0.5,0V5" stroke="#b5e1ec" stroke-width="0.7"/></pattern>
</defs>
<g id="panel-c">
<clipPath id="clip-c"><rect x="231.1" y="626.2" width="866.4999999999999" height="510.39999999999986"/></clipPath>
<g clip-path="url(#clip-c)">
<path d="M261.2,622.2 C270.8,620.5 410.0,620.5 419.5,622.2 C429.0,624.0 419.6,643.2 419.5,651.2 C419.4,659.3 419.2,667.4 419.0,675.4 C418.8,683.5 418.7,693.9 418.3,699.6 C417.9,705.2 416.7,712.8 415.9,716.5 C415.1,720.2 412.6,723.6 412.3,727.4 C411.9,731.2 412.9,736.6 413.5,740.6 C414.1,744.7 415.9,748.6 415.9,752.7 C415.9,756.8 414.4,760.8 413.5,764.8 C412.6,768.8 411.1,774.5 409.8,779.3 C408.6,784.1 406.7,792.6 406.2,793.8 C405.8,795.0 403.3,796.2 403.3,796.2 C403.3,796.2 401.7,788.0 400.2,784.1 C398.7,780.2 396.1,774.9 394.1,772.1 C392.2,769.2 388.7,767.7 386.9,764.8 C385.1,761.9 383.4,756.8 382.1,752.7 C380.7,748.6 378.6,739.9 377.2,735.8 C375.9,731.7 374.1,726.1 372.4,723.7 C370.7,721.4 368.0,719.3 365.1,718.9 C362.3,718.5 359.1,720.9 356.7,721.3 C354.3,721.7 351.7,722.1 349.4,721.3 C347.2,720.5 345.0,718.5 343.4,716.5 C341.8,714.5 339.9,711.0 338.6,708.0 C337.2,705.1 336.3,701.5 334.9,698.4 C333.6,695.2 331.7,691.9 330.1,688.7 C328.5,685.5 325.7,679.3 324.1,676.6 C322.4,673.9 320.2,671.3 318.0,669.4 C315.9,667.4 312.6,665.4 310.8,664.5 C308.9,663.7 306.8,663.0 304.7,663.3 C302.7,663.7 299.7,665.4 297.5,666.9 C295.3,668.5 292.5,671.2 291.4,673.0 C290.4,674.8 290.1,677.0 290.2,679.0 C290.4,681.1 292.0,684.6 292.7,687.5 C293.3,690.3 295.1,698.7 296.3,704.4 C297.4,710.1 299.0,717.2 299.9,723.7 C300.8,730.2 301.6,739.0 301.8,745.5 C302.0,751.9 301.6,758.4 301.1,764.8 C300.6,771.2 299.6,778.5 298.7,784.1 C297.7,789.8 296.4,796.1 295.1,801.1 C293.7,806.0 291.4,811.6 290.2,815.6 C289.1,819.5 287.3,823.5 287.3,827.6 C287.3,831.8 289.1,837.3 290.2,842.1 C291.4,846.9 293.9,853.5 295.1,859.0 C296.3,864.6 297.3,871.1 297.5,876.0 C297.7,880.8 297.3,885.8 296.3,890.5 C295.3,895.1 292.4,902.4 291.4,903.7 C290.5,905.0 287.8,904.8 286.6,903.7 C285.4,902.7 283.0,898.3 281.8,895.3 C280.5,892.3 278.2,885.7 276.9,880.8 C275.7,875.8 274.1,868.0 273.3,861.5 C272.5,855.0 271.4,842.1 270.9,832.5 C270.4,822.8 270.0,808.3 269.7,796.2 C269.4,784.1 269.0,772.1 269.0,760.0 C269.0,747.9 269.4,733.4 269.7,723.7 C270.0,714.1 271.1,701.2 270.9,694.7 C270.7,688.2 269.3,679.5 268.5,675.4 C267.7,671.3 266.1,667.4 264.9,663.3 C263.7,659.3 261.6,655.4 261.2,651.2 C260.9,647.1 251.7,624.0 261.2,622.2Z" fill="url(#cyanpat)" stroke="#231f20" stroke-width="2.2" stroke-dasharray="6.2 4" stroke-linejoin="round"/>
<path d="M355.5,629.5 C358.1,628.1 361.9,629.8 363.9,631.9 C366.0,634.0 366.6,638.3 367.6,641.6 C368.5,644.9 370.0,649.6 370.0,653.7 C370.0,657.8 369.1,662.7 367.6,665.7 C366.0,668.8 362.6,672.0 360.3,673.0 C358.1,673.9 355.2,673.0 353.1,671.8 C350.9,670.6 348.6,668.1 347.0,665.7 C345.4,663.4 343.6,660.2 343.4,657.3 C343.2,654.4 344.7,651.5 345.8,648.8 C346.9,646.1 349.0,642.4 350.6,639.2 C352.3,635.9 352.9,630.9 355.5,629.5Z" fill="#fff" stroke="#231f20" stroke-width="2.2" stroke-dasharray="6.2 4" stroke-linejoin="round"/>
<path d="M309.6,622.2 C306.7,624.5 309.4,630.8 310.8,633.1 C312.1,635.5 316.4,636.4 318.0,636.7 C319.7,637.1 322.2,637.1 322.9,635.5 C323.5,634.0 327.7,625.4 324.6,622.2 C321.4,619.1 312.4,620.0 309.6,622.2Z" fill="#fff" stroke="#231f20" stroke-width="2.2" stroke-dasharray="6.2 4" stroke-linejoin="round"/>
<path d="M258.8,871.7 C258.8,871.7 262.0,884.6 263.7,891.1 C265.3,897.5 266.7,904.0 268.5,910.4 C270.3,916.8 273.5,923.1 274.5,929.7 C275.5,936.4 275.7,949.9 275.7,958.7 C275.7,967.6 275.0,977.3 274.5,985.3 C274.1,993.4 273.4,1002.6 272.8,1009.5 C272.3,1016.3 270.9,1030.0 270.9,1030.0 C270.9,1030.0 268.3,1026.1 267.3,1024.0 C266.3,1021.8 265.0,1019.3 264.9,1016.7 C264.7,1014.2 263.8,953.1 263.7,951.5 C263.5,949.9 258.9,953.1 258.8,951.5 C258.7,949.9 258.8,871.7 258.8,871.7Z" fill="url(#pinkpat)" stroke="#231f20" stroke-width="2.2" stroke-dasharray="6.2 4" stroke-linejoin="round"/>
<path d="M255.2,656.1 C255.2,656.1 260.1,658.6 261.2,660.9 C262.4,663.2 262.8,668.6 262.5,670.6 C262.1,672.6 259.8,674.6 258.8,675.4 C257.8,676.2 255.2,676.6 255.2,676.6 C255.2,676.6 255.2,656.1 255.2,656.1Z" fill="url(#pinkpat)"/>
<path d="M305.9,675.4 C305.9,675.4 309.8,678.2 310.8,680.2 C311.8,682.3 313.6,688.4 314.4,692.3 C315.2,696.3 315.9,701.7 315.6,704.4 C315.3,707.1 313.2,710.3 312.0,711.7 C310.8,713.0 308.4,715.3 307.2,714.1 C305.9,712.8 305.2,707.7 304.7,704.4 C304.2,701.1 303.6,693.5 303.5,689.9 C303.5,686.3 304.0,680.3 304.3,679.0 C304.5,677.7 305.9,675.4 305.9,675.4Z" fill="url(#pinkpat)" stroke="#231f20" stroke-width="2.2" stroke-dasharray="6.2 4" stroke-linejoin="round"/>
<path d="M307.2,757.6 C307.2,757.6 312.2,760.0 313.2,762.4 C314.2,764.8 315.7,773.6 316.3,779.3 C317.0,785.0 317.6,797.0 318.0,803.5 C318.5,809.9 319.2,818.0 319.2,822.8 C319.2,827.6 318.9,833.8 318.0,837.3 C317.2,840.8 314.4,845.3 313.2,847.0 C312.0,848.6 308.4,850.6 308.4,850.6 C308.4,850.6 306.5,841.8 305.9,837.3 C305.4,832.8 304.6,824.4 304.3,818.0 C303.9,811.5 303.5,803.5 303.5,796.2 C303.5,789.0 304.1,778.5 304.3,774.5 C304.5,770.4 304.9,764.1 305.2,762.4 C305.5,760.7 307.2,757.6 307.2,757.6Z" fill="url(#pinkpat)" stroke="#231f20" stroke-width="2.2" stroke-dasharray="6.2 4" stroke-linejoin="round"/>
<path d="M409.8,869.3 C412.3,868.7 414.7,871.9 415.9,874.2 C417.0,876.5 419.0,883.7 419.5,888.7 C420.1,893.6 420.2,904.8 420.2,912.8 C420.2,920.9 419.8,932.2 419.5,941.8 C419.2,951.5 418.9,962.7 418.3,970.8 C417.8,978.9 416.6,989.3 415.9,995.0 C415.2,1000.6 413.0,1011.9 413.0,1011.9 C413.0,1011.9 410.6,1003.9 409.8,999.8 C409.1,995.7 407.4,983.7 406.7,975.6 C406.0,967.6 405.4,956.3 405.0,946.7 C404.6,937.0 404.3,926.5 404.3,917.7 C404.3,908.8 404.8,895.9 405.0,891.1 C405.2,886.2 405.6,879.2 406.2,876.6 C406.8,873.9 407.3,870.0 409.8,869.3Z" fill="url(#cyanpat)" stroke="#231f20" stroke-width="2.2" stroke-dasharray="6.2 4" stroke-linejoin="round"/>
<path d="M413.0,1046.9 C413.0,1046.9 415.2,1054.1 415.9,1057.8 C416.6,1061.5 417.6,1069.1 418.3,1074.7 C419.0,1080.4 420.0,1090.0 420.7,1096.5 C421.5,1102.9 422.6,1109.3 423.1,1115.8 C423.6,1122.3 428.1,1139.1 424.3,1144.8 C420.5,1150.5 407.5,1150.5 403.8,1144.8 C400.1,1139.0 405.2,1123.8 405.7,1115.8 C406.3,1107.7 406.9,1099.7 407.4,1091.6 C408.0,1083.6 408.7,1072.3 409.1,1067.5 C409.6,1062.6 410.7,1055.0 411.1,1053.0 C411.4,1050.9 413.0,1046.9 413.0,1046.9Z" fill="url(#cyanpat)" stroke="#231f20" stroke-width="2.2" stroke-dasharray="6.2 4" stroke-linejoin="round"/>
<path d="M484.7,778.1 C484.7,778.1 487.7,781.9 488.4,784.1 C489.0,786.4 489.8,793.8 490.8,798.6 C491.8,803.4 493.0,808.4 494.4,813.1 C495.8,817.9 498.7,823.6 499.2,827.6 C499.8,831.6 499.0,835.8 498.0,839.7 C497.1,843.6 494.5,850.1 493.2,851.8 C491.9,853.5 489.0,855.4 487.2,854.2 C485.4,853.0 483.8,847.8 482.3,844.5 C480.9,841.3 478.5,836.4 477.5,832.5 C476.5,828.5 476.1,824.4 476.3,820.4 C476.5,816.3 477.9,809.1 478.7,803.5 C479.5,797.8 480.4,789.5 481.1,786.6 C481.8,783.6 484.7,778.1 484.7,778.1Z" fill="url(#cyanpat)" stroke="#231f20" stroke-width="2.2" stroke-dasharray="6.2 4" stroke-linejoin="round"/>
<path d="M463.0,856.0 C464.6,856.7 466.7,860.6 467.8,863.3 C469.0,866.0 470.7,871.4 471.5,875.4 C472.3,879.3 473.1,883.4 472.7,887.5 C472.3,891.5 470.1,896.6 469.0,899.5 C468.0,902.4 465.4,908.0 465.4,908.0 C465.4,908.0 461.7,901.7 460.6,898.3 C459.5,894.9 458.0,888.6 457.4,883.8 C456.9,879.0 457.2,872.6 457.4,869.3 C457.7,866.1 458.7,861.2 459.4,859.7 C460.0,858.1 461.4,855.4 463.0,856.0Z" fill="url(#pinkpat)" stroke="#231f20" stroke-width="2.2" stroke-dasharray="6.2 4" stroke-linejoin="round"/>
<path d="M505.3,919.6 C507.9,918.4 511.2,919.3 513.7,920.6 C516.3,921.8 519.4,924.4 521.0,927.3 C522.6,930.2 523.7,935.3 524.1,939.4 C524.5,943.5 524.6,957.1 524.6,966.0 C524.6,974.8 524.4,985.3 524.1,995.0 C523.8,1004.6 523.1,1019.1 522.7,1031.2 C522.3,1043.3 522.1,1055.4 521.7,1067.5 C521.3,1079.5 520.6,1091.6 520.3,1103.7 C519.9,1115.8 529.4,1135.6 519.3,1144.8 C509.2,1154.0 483.1,1150.3 475.1,1144.8 C467.1,1139.3 476.7,1123.9 477.5,1115.8 C478.3,1107.7 479.4,1099.7 480.6,1091.6 C481.8,1083.6 483.3,1075.5 484.7,1067.5 C486.2,1059.4 488.3,1051.3 489.6,1043.3 C490.9,1035.3 491.9,1027.2 492.7,1019.1 C493.5,1011.1 494.0,1003.0 494.4,995.0 C494.8,986.9 495.0,974.0 495.1,966.0 C495.3,957.9 495.1,946.8 495.6,941.8 C496.1,936.9 497.9,930.3 499.2,927.3 C500.6,924.3 502.7,920.8 505.3,919.6Z" fill="url(#cyanpat)" stroke="#231f20" stroke-width="2.2" stroke-dasharray="6.2 4" stroke-linejoin="round"/>
<path d="M535.5,990.1 C535.5,990.1 537.5,996.8 539.1,999.8 C540.7,1002.9 544.4,1006.8 546.4,1010.7 C548.3,1014.6 550.3,1019.3 551.2,1024.0 C552.1,1028.6 552.6,1035.2 552.4,1040.9 C552.2,1046.5 551.1,1054.5 550.0,1060.2 C548.8,1066.0 546.9,1071.8 545.2,1077.1 C543.4,1082.5 539.1,1092.8 539.1,1092.8 C539.1,1092.8 536.3,1084.1 535.5,1079.5 C534.7,1075.0 533.6,1065.1 533.1,1057.8 C532.5,1050.5 531.9,1041.7 531.9,1033.6 C531.9,1025.6 532.6,1012.7 533.1,1007.1 C533.5,1001.4 535.5,990.1 535.5,990.1Z" fill="url(#cyanpat)" stroke="#231f20" stroke-width="2.2" stroke-dasharray="6.2 4" stroke-linejoin="round"/>
<path d="M614.0,1028.8 C614.0,1028.8 618.5,1032.4 620.1,1033.6 C621.7,1034.9 624.4,1035.9 624.9,1037.3 C625.4,1038.6 623.9,1040.4 622.5,1040.9 C621.1,1041.3 619.2,1039.2 617.6,1039.7 C616.0,1040.1 614.0,1043.3 614.0,1043.3 C614.0,1043.3 612.8,1038.5 612.8,1036.1 C612.8,1033.6 614.0,1028.8 614.0,1028.8Z" fill="url(#pinkpat)" stroke="#231f20" stroke-width="2.2" stroke-dasharray="6.2 4" stroke-linejoin="round"/>
<path d="M430.4,622.2 C420.7,622.8 430.9,643.2 430.9,651.2 C430.9,659.3 430.5,667.4 430.4,675.4 C430.2,683.5 430.2,693.1 429.9,699.6 C429.6,706.0 428.6,712.4 428.5,718.9 C428.3,725.4 428.9,733.4 429.2,740.6 C429.5,747.9 430.1,756.8 430.4,764.8 C430.7,772.9 430.9,782.5 430.9,789.0 C430.9,795.4 430.5,801.9 430.4,808.3 C430.2,814.7 429.8,826.2 429.9,827.6 C430.0,829.1 432.3,831.3 432.3,831.3 C432.3,831.3 434.5,827.3 435.2,825.2 C436.0,823.1 437.5,816.9 438.8,813.1 C440.2,809.4 442.6,803.7 443.7,802.3 C444.7,800.8 446.8,799.4 448.5,799.8 C450.3,800.3 452.2,803.7 453.3,804.7 C454.4,805.6 455.6,807.6 457.0,807.1 C458.3,806.6 459.7,804.1 460.6,802.3 C461.5,800.5 463.9,795.2 464.7,791.4 C465.5,787.6 466.2,780.6 466.1,776.9 C466.1,773.2 465.4,767.6 464.2,766.0 C463.0,764.4 460.2,765.8 458.2,766.0 C456.2,766.2 453.1,767.9 450.9,767.2 C448.7,766.6 447.2,764.4 446.1,762.4 C445.0,760.4 444.1,757.6 444.4,755.1 C444.7,752.7 446.9,746.5 448.5,743.1 C450.1,739.6 452.5,736.6 454.5,733.4 C456.6,730.2 458.2,726.6 460.6,723.7 C463.0,720.9 466.2,718.9 469.0,716.5 C471.8,714.1 476.8,709.5 478.7,708.0 C480.6,706.5 482.6,703.9 484.7,703.9 C486.9,703.9 488.3,706.4 489.6,708.0 C490.9,709.7 493.3,713.4 494.4,716.5 C495.5,719.5 497.2,726.1 498.0,731.0 C498.9,735.9 499.5,744.6 500.5,750.3 C501.4,756.0 502.8,762.3 504.1,767.2 C505.4,772.1 507.4,777.6 508.9,781.7 C510.4,785.8 512.0,789.8 513.7,793.8 C515.5,797.8 517.7,802.4 519.8,805.9 C521.9,809.3 525.2,813.4 527.0,815.6 C528.9,817.7 530.8,821.1 533.1,821.6 C535.4,822.1 537.0,819.1 539.1,818.0 C541.2,816.9 545.7,814.1 548.8,813.1 C551.9,812.2 555.4,810.8 558.4,811.9 C561.5,813.0 563.7,816.4 565.7,819.2 C567.7,821.9 569.8,826.4 571.7,830.0 C573.7,833.7 576.4,840.5 577.8,842.1 C579.2,843.8 581.8,845.4 583.8,844.5 C585.8,843.7 587.7,839.6 589.9,837.3 C592.0,835.0 594.3,832.0 597.1,830.0 C599.9,828.1 604.4,826.4 606.8,825.2 C609.2,824.0 612.0,821.6 614.0,821.6 C616.0,821.6 617.9,823.4 618.9,825.2 C619.8,827.0 621.7,833.2 622.5,837.3 C623.3,841.4 624.0,850.2 624.9,856.6 C625.8,863.1 626.9,870.3 628.0,876.0 C629.2,881.6 630.7,888.0 632.1,892.9 C633.5,897.8 635.8,904.9 637.0,907.4 C638.1,909.9 639.9,913.4 641.8,914.0 C643.7,914.6 645.3,911.9 646.6,910.4 C648.0,908.9 651.8,904.2 653.9,900.7 C656.0,897.3 658.8,893.0 659.9,888.7 C661.0,884.3 662.7,867.1 663.6,861.5 C664.6,855.8 666.1,849.4 667.2,844.5 C668.4,839.7 669.9,833.0 670.9,830.0 C671.8,827.1 673.3,823.2 674.5,821.6 C675.7,819.9 677.5,818.2 679.3,818.0 C681.1,817.7 682.6,819.5 684.2,820.4 C685.7,821.3 688.5,822.3 690.2,824.0 C691.9,825.7 693.1,827.8 693.8,830.0 C694.5,832.3 695.2,836.5 695.0,839.7 C694.8,843.0 693.6,846.2 692.6,849.4 C691.6,852.5 689.9,857.1 689.0,859.0 C688.1,861.0 685.8,862.4 685.4,864.5 C684.9,866.6 684.0,875.8 684.2,881.4 C684.3,887.1 685.7,892.7 686.1,898.3 C686.5,904.0 687.0,914.4 687.1,922.5 C687.2,930.5 687.1,954.7 687.1,970.8 C687.1,986.9 687.1,1003.0 687.1,1019.1 C687.1,1035.2 687.1,1051.4 687.1,1067.5 C687.1,1083.6 687.0,1106.1 687.1,1115.8 C687.2,1125.5 682.5,1138.7 687.8,1144.8 C693.0,1150.9 706.4,1150.6 711.9,1144.8 C717.5,1139.0 714.5,1123.9 715.6,1115.8 C716.7,1107.7 718.2,1099.7 719.2,1091.6 C720.2,1083.6 720.9,1075.5 721.6,1067.5 C722.3,1059.4 723.0,1051.4 723.3,1043.3 C723.6,1035.3 723.5,1027.2 723.3,1019.1 C723.1,1011.1 722.7,1003.0 722.3,995.0 C721.9,986.9 721.2,978.9 720.9,970.8 C720.6,962.8 720.6,954.7 720.4,946.7 C720.2,938.6 720.2,926.6 719.9,922.5 C719.7,918.4 719.3,914.0 718.0,910.4 C716.7,906.8 713.4,904.3 711.9,900.7 C710.5,897.2 709.2,891.1 708.3,886.2 C707.5,881.3 706.8,875.0 706.4,869.3 C706.0,863.7 705.9,851.8 705.9,850.0 C705.9,848.2 706.3,846.4 706.4,844.5 C706.5,842.7 706.6,829.2 707.1,827.6 C707.7,826.1 710.3,828.4 711.9,828.8 C713.6,829.2 715.9,828.7 716.8,830.0 C717.7,831.4 718.7,836.4 719.2,839.7 C719.7,843.0 719.8,848.6 720.4,853.0 C721.0,857.4 722.6,863.9 723.3,869.3 C724.0,874.8 724.5,882.6 725.2,888.7 C725.9,894.7 726.7,904.9 727.7,906.8 C728.6,908.6 732.0,904.5 733.7,905.6 C735.4,906.7 736.4,910.3 737.3,912.8 C738.3,915.4 739.9,920.8 740.9,924.9 C742.0,929.0 743.5,934.5 744.1,939.4 C744.7,944.3 744.8,952.3 745.1,958.7 C745.3,965.2 745.4,974.8 745.8,982.9 C746.2,990.9 746.8,999.0 747.5,1007.1 C748.2,1015.1 749.2,1023.2 749.9,1031.2 C750.6,1039.3 751.3,1047.3 751.8,1055.4 C752.3,1063.4 752.7,1071.5 753.0,1079.5 C753.3,1087.6 753.4,1101.9 753.8,1103.7 C754.1,1105.5 756.1,1107.8 757.9,1107.3 C759.6,1106.9 763.0,1104.0 763.9,1101.3 C764.8,1098.6 765.7,1086.8 766.3,1082.0 C766.9,1077.1 767.7,1069.5 768.2,1067.5 C768.8,1065.4 771.6,1062.1 771.6,1062.1 C771.6,1062.1 774.6,1067.2 775.5,1069.9 C776.4,1072.6 777.4,1077.9 778.4,1082.0 C779.4,1086.0 780.9,1092.0 782.0,1096.5 C783.2,1100.9 784.7,1107.2 785.6,1109.7 C786.5,1112.3 789.3,1117.0 789.3,1117.0 C789.3,1117.0 792.7,1112.3 794.1,1109.7 C795.5,1107.2 797.2,1101.2 798.9,1100.1 C800.6,1099.0 802.6,1102.1 803.8,1103.7 C805.0,1105.3 807.0,1110.2 808.6,1113.4 C810.2,1116.6 812.3,1119.6 813.4,1123.0 C814.6,1126.4 812.6,1141.7 819.5,1144.8 C826.3,1147.9 853.6,1150.1 861.8,1144.8 C869.9,1139.5 863.6,1123.8 864.2,1115.8 C864.8,1107.7 865.3,1099.7 865.9,1091.6 C866.4,1083.6 866.8,1075.5 867.3,1067.5 C867.8,1059.4 868.4,1051.4 869.0,1043.3 C869.6,1035.2 870.1,1027.2 870.7,1019.1 C871.3,1011.1 871.9,1003.0 872.6,995.0 C873.4,986.9 874.2,978.9 875.0,970.8 C875.9,962.8 876.4,954.7 877.5,946.7 C878.5,938.6 880.5,925.7 881.8,917.7 C883.1,909.6 884.7,901.5 885.9,893.5 C887.1,885.5 888.3,875.8 889.1,869.3 C889.8,862.9 890.4,856.5 890.8,850.0 C891.1,843.5 892.7,804.3 893.2,796.2 C893.7,788.1 894.8,780.1 895.6,772.1 C896.4,764.0 897.2,755.9 898.0,747.9 C898.8,739.8 899.8,731.8 900.4,723.7 C901.0,715.7 901.3,707.6 901.6,699.6 C901.9,691.5 902.1,683.5 902.1,675.4 C902.1,667.4 901.8,659.3 901.6,651.2 C901.5,643.2 910.8,622.8 901.1,622.2 C891.5,621.7 440.0,621.7 430.4,622.2Z" fill="url(#pinkpat)" stroke="#231f20" stroke-width="2.2" stroke-dasharray="6.2 4" stroke-linejoin="round"/>
<path d="M887.1,1144.8 L888.3,1115.8 L890.0,1096.5 L892.4,1085.6 L895.6,1088.0 L898.0,1103.7 L898.7,1120.6 L899.2,1144.8Z" fill="url(#cyanpat)" stroke="#231f20" stroke-width="2.2" stroke-dasharray="6.2 4" stroke-linejoin="round"/>
<path d="M928.2,1144.8 L929.4,1115.8 L930.6,1091.6 L931.8,1067.5 L933.0,1057.8 L935.5,1072.3 L938.4,1085.6 L941.5,1072.3 L945.1,1065.0 L947.5,1074.7 L950.0,1091.6 L951.9,1111.0 L953.6,1144.8Z" fill="url(#cyanpat)" stroke="#231f20" stroke-width="2.2" stroke-dasharray="6.2 4" stroke-linejoin="round"/>
<path d="M960.8,1144.8 L961.6,1103.7 L962.5,1067.5 L964.5,1038.5 L967.4,1019.1 L970.5,1033.6 L972.9,1048.1 L975.3,1028.8 L978.5,1019.1 L981.4,1033.6 L983.8,1053.0 L987.4,1072.3 L991.0,1091.6 L994.7,1103.7 L997.1,1113.4 L999.5,1098.9 L1001.9,1082.0 L1004.3,1091.6 L1006.7,1106.1 L1010.4,1112.2 L1015.2,1109.7 L1018.8,1113.4 L1021.2,1125.5 L1022.4,1144.8Z" fill="url(#cyanpat)" stroke="#231f20" stroke-width="2.2" stroke-dasharray="6.2 4" stroke-linejoin="round"/>
<path d="M919.6,621.9 C913.4,625.7 918.3,641.3 918.5,643.8 C918.6,646.3 919.7,649.2 921.3,650.8 C922.9,652.3 925.8,652.5 927.7,653.1 C929.6,653.6 932.2,652.7 933.4,654.2 C934.6,655.8 934.9,661.0 935.8,663.4 C936.6,665.9 937.9,669.4 939.2,670.4 C940.5,671.3 942.9,667.9 943.8,669.2 C944.7,670.5 945.4,676.1 945.6,679.6 C945.7,683.1 945.4,690.3 945.2,695.7 C945.0,701.1 944.6,707.3 944.4,713.0 C944.2,718.8 943.8,724.6 943.8,730.3 C943.8,736.1 944.0,741.9 944.4,747.6 C944.8,753.4 945.3,760.2 946.1,764.9 C946.9,769.6 948.8,776.3 949.6,778.8 C950.4,781.2 952.2,784.7 953.1,785.7 C953.9,786.7 955.6,788.3 956.5,787.4 C957.4,786.5 958.4,782.5 958.8,779.9 C959.3,777.3 960.0,769.9 960.5,764.9 C961.1,759.9 961.9,753.4 962.3,747.6 C962.7,741.9 962.7,736.1 962.9,730.3 C963.0,724.6 963.2,717.3 963.2,713.0 C963.2,708.8 963.2,700.3 963.2,700.3 C963.2,700.3 964.3,704.9 964.6,707.3 C964.9,709.6 965.7,718.8 966.3,724.6 C966.9,730.3 967.6,736.1 968.0,741.9 C968.5,747.6 968.8,757.2 969.2,764.9 C969.6,772.6 970.0,780.3 970.3,788.0 C970.7,795.7 971.3,805.3 971.5,811.1 C971.7,816.8 971.9,822.6 972.1,828.4 C972.3,834.1 972.5,839.9 972.7,845.7 C972.8,851.4 973.2,868.1 973.2,868.7 C973.3,869.3 974.9,869.3 975.0,868.7 C975.0,868.1 975.0,853.3 975.0,845.7 C974.9,838.0 974.8,830.3 974.7,822.6 C974.6,814.9 974.5,807.2 974.4,799.5 C974.2,791.8 973.9,784.1 973.8,776.5 C973.7,768.8 973.6,761.1 973.8,753.4 C974.0,745.7 974.5,738.0 975.0,730.3 C975.4,722.6 976.2,713.0 976.7,707.3 C977.2,701.5 978.0,693.8 978.2,690.0 C978.4,686.1 978.6,681.5 978.4,678.4 C978.2,675.3 977.5,671.2 977.0,669.2 C976.6,667.2 975.6,664.5 975.0,663.4 C974.3,662.4 973.3,661.3 972.1,661.1 C970.9,660.9 969.6,661.6 968.6,662.3 C967.6,663.0 965.9,665.4 965.2,666.3 C964.4,667.3 962.9,669.2 962.9,669.2 C962.9,669.2 961.8,663.8 961.1,661.1 C960.5,658.5 959.6,655.7 958.8,653.1 C958.0,650.4 957.2,647.3 956.5,645.0 C955.8,642.7 954.4,640.5 954.2,638.1 C954.0,635.6 959.1,624.2 954.2,621.9 C949.3,619.6 925.8,618.1 919.6,621.9Z" fill="url(#pinkpat)" stroke="#231f20" stroke-width="2.2" stroke-dasharray="6.2 4" stroke-linejoin="round"/>
<path d="M975.0,633.5 C975.4,632.1 977.1,631.6 978.4,631.1 C979.7,630.7 984.8,630.2 987.6,628.8 C990.5,627.5 993.9,622.5 998.0,621.9 C1002.1,621.4 1033.1,619.6 1038.4,621.9 C1043.7,624.2 1038.3,636.9 1037.8,639.2 C1037.4,641.5 1035.2,643.1 1033.8,645.0 C1032.4,646.9 1030.5,648.7 1029.2,650.8 C1027.8,652.8 1026.4,655.2 1025.7,657.7 C1025.0,660.2 1025.9,663.2 1025.1,665.7 C1024.3,668.3 1022.3,670.4 1021.1,672.7 C1019.9,674.9 1018.5,677.2 1017.6,679.6 C1016.8,682.0 1016.2,685.8 1015.3,688.8 C1014.5,691.9 1013.2,695.7 1012.4,698.0 C1011.7,700.4 1010.4,702.7 1010.1,705.0 C1009.9,707.3 1010.1,709.8 1010.7,711.9 C1011.3,713.9 1012.3,716.4 1013.6,717.6 C1014.9,718.9 1017.5,718.7 1018.8,719.4 C1020.1,720.1 1021.6,720.9 1022.2,722.3 C1022.9,723.6 1023.7,727.6 1024.0,730.3 C1024.3,733.1 1024.4,738.0 1024.6,741.9 C1024.7,745.7 1025.0,749.5 1025.1,753.4 C1025.2,757.2 1025.2,761.1 1025.1,764.9 C1025.1,768.8 1024.9,772.6 1024.8,776.5 C1024.7,780.3 1024.7,785.7 1024.6,788.0 C1024.5,790.3 1024.2,794.0 1024.0,794.9 C1023.7,795.8 1023.2,797.2 1022.2,797.2 C1021.3,797.2 1020.7,795.7 1019.9,794.9 C1019.2,794.1 1017.3,792.1 1016.5,791.5 C1015.6,790.8 1014.5,789.7 1013.6,790.3 C1012.7,790.9 1011.9,793.3 1011.3,794.9 C1010.7,796.5 1009.7,799.5 1009.0,801.8 C1008.3,804.2 1007.4,808.2 1006.7,809.9 C1006.0,811.6 1003.8,814.5 1003.8,814.5 C1003.8,814.5 1002.0,812.3 1001.5,811.1 C1001.0,809.8 1000.3,806.5 999.8,804.1 C999.3,801.8 998.6,798.0 998.0,794.9 C997.5,791.8 996.9,788.0 996.3,784.5 C995.7,781.1 995.2,777.3 994.6,774.2 C993.9,771.0 992.8,766.3 992.3,764.9 C991.7,763.5 990.0,762.8 989.4,761.5 C988.8,760.1 987.6,756.1 987.1,753.4 C986.6,750.6 986.2,745.7 985.9,741.9 C985.6,738.0 985.5,734.2 985.3,730.3 C985.2,726.5 985.1,722.6 985.1,718.8 C985.1,715.0 985.2,711.1 985.1,707.3 C985.1,703.4 984.9,699.6 984.8,695.7 C984.6,691.9 984.5,688.0 984.2,684.2 C983.9,680.4 983.6,676.5 983.0,672.7 C982.5,668.8 981.5,665.0 980.7,661.1 C980.0,657.3 979.2,652.7 978.4,649.6 C977.6,646.5 976.0,642.6 975.5,640.4 C975.1,638.1 974.5,634.8 975.0,633.5Z" fill="url(#cyanpat)" stroke="#231f20" stroke-width="2.2" stroke-dasharray="6.2 4" stroke-linejoin="round"/>
<path d="M1053.4,621.9 C1046.6,624.6 1053.4,639.9 1052.2,643.8 C1051.1,647.7 1046.0,651.1 1044.2,653.1 C1042.3,655.1 1040.2,656.8 1038.4,658.8 C1036.6,660.8 1034.2,663.2 1032.6,665.7 C1031.0,668.3 1029.0,672.0 1028.0,675.0 C1027.0,677.9 1026.6,681.1 1026.3,684.2 C1025.9,687.3 1025.9,691.9 1025.7,695.7 C1025.5,699.6 1025.0,703.4 1025.1,707.3 C1025.2,711.1 1025.8,715.0 1026.3,718.8 C1026.8,722.6 1027.2,726.5 1028.0,730.3 C1028.9,734.1 1030.4,738.0 1031.5,741.9 C1032.5,745.7 1033.6,749.6 1034.4,753.4 C1035.1,757.2 1035.7,761.1 1036.1,764.9 C1036.5,768.8 1036.9,772.6 1036.7,776.5 C1036.5,780.3 1035.5,784.1 1034.9,788.0 C1034.4,791.8 1033.8,795.7 1033.2,799.5 C1032.6,803.4 1032.1,807.2 1031.5,811.1 C1030.8,814.9 1029.8,818.8 1029.2,822.6 C1028.5,826.4 1027.4,830.2 1027.4,834.1 C1027.5,838.0 1028.7,845.1 1029.7,850.0 C1030.6,854.9 1032.2,859.6 1033.3,864.5 C1034.4,869.4 1035.7,875.8 1036.9,881.4 C1038.1,887.0 1039.4,892.7 1040.6,898.3 C1041.7,904.0 1042.8,911.3 1044.2,917.7 C1045.6,924.1 1047.6,932.1 1049.0,937.0 C1050.4,941.9 1052.6,949.5 1053.9,951.5 C1055.1,953.5 1058.0,954.3 1059.9,955.1 C1061.8,955.9 1064.0,957.0 1065.9,956.3 C1067.9,955.7 1069.6,953.5 1070.8,951.5 C1071.9,949.5 1073.3,945.1 1074.4,941.8 C1075.5,938.6 1076.7,933.1 1078.0,929.7 C1079.3,926.4 1081.2,922.4 1082.8,920.1 C1084.5,917.7 1086.7,915.6 1088.9,914.0 C1091.1,912.4 1093.5,910.9 1096.1,910.4 C1098.8,909.9 1106.9,914.0 1107.0,910.4 C1107.2,906.8 1110.9,639.7 1107.6,621.9 C1104.3,604.2 1060.2,619.2 1053.4,621.9Z" fill="url(#pinkpat)" stroke="#231f20" stroke-width="2.2" stroke-dasharray="6.2 4" stroke-linejoin="round"/>
<path d="M1002.6,636.3 C1003.8,635.3 1007.2,635.3 1009.6,635.2 C1011.9,635.1 1018.8,635.4 1021.1,635.5 C1023.4,635.7 1027.1,636.1 1028.0,636.3 C1028.9,636.6 1030.3,637.1 1030.3,638.1 C1030.3,639.0 1029.1,640.4 1028.0,640.9 C1026.9,641.5 1023.4,642.1 1021.1,642.7 C1018.8,643.3 1016.5,644.2 1014.2,644.4 C1011.9,644.6 1008.8,644.3 1007.3,643.8 C1005.7,643.3 1004.0,642.3 1003.2,640.9 C1002.4,639.6 1001.5,637.4 1002.6,636.3Z" fill="#2a2627" stroke="#231f20" stroke-width="2.2" stroke-linejoin="round"/>
<path d="M1067.2,647.9 C1067.2,647.9 1077.0,653.2 1078.2,657.7 C1079.3,662.1 1074.7,666.1 1073.0,670.4 C1071.3,674.6 1067.8,683.0 1067.8,683.0 C1067.8,683.0 1065.2,675.7 1064.3,672.7 C1063.4,669.6 1061.7,666.6 1062.0,663.4 C1062.4,660.3 1067.2,647.9 1067.2,647.9Z" fill="#fff" stroke="#231f20" stroke-width="2.2" stroke-dasharray="6.2 4" stroke-linejoin="round"/>
<path d="M1067.8,653.1 C1067.8,653.1 1072.5,656.5 1073.0,658.8 C1073.5,661.2 1071.5,663.4 1070.7,665.7 C1069.9,668.1 1068.4,672.7 1068.4,672.7 C1068.4,672.7 1066.6,668.4 1066.1,666.9 C1065.6,665.4 1064.7,663.9 1064.9,662.3 C1065.1,660.7 1067.8,653.1 1067.8,653.1Z" fill="url(#cyanpat)" stroke="#231f20" stroke-width="2.2" stroke-linejoin="round"/>
<path d="M1037.2,625.4 C1039.9,623.8 1051.8,623.9 1054.5,625.4 C1057.2,626.9 1054.7,632.0 1054.0,634.6 C1053.2,637.2 1051.5,639.3 1049.9,641.5 C1048.4,643.7 1046.1,646.1 1044.2,648.4 C1042.2,650.8 1040.1,652.9 1038.4,655.4 C1036.7,657.8 1034.9,661.5 1033.8,663.4 C1032.6,665.4 1031.2,668.2 1030.3,669.2 C1029.4,670.3 1028.1,672.1 1026.9,671.5 C1025.6,670.9 1025.0,668.5 1025.1,666.9 C1025.3,665.3 1026.9,661.4 1028.0,658.8 C1029.1,656.2 1031.4,652.3 1032.6,649.6 C1033.9,646.9 1035.2,643.8 1036.1,641.5 C1037.0,639.3 1038.2,637.0 1038.4,634.6 C1038.6,632.2 1034.5,626.9 1037.2,625.4Z" fill="#231f20"/>
<path d="M1053.4,625.4 C1055.7,624.9 1089.1,625.4 1089.1,625.4 C1089.1,625.4 1088.4,629.8 1086.8,631.1 C1085.3,632.5 1082.3,633.0 1079.9,633.5 C1077.5,633.9 1073.8,634.2 1070.7,634.0 C1067.6,633.8 1063.9,632.6 1061.5,632.3 C1059.0,632.0 1055.7,633.8 1054.0,632.3 C1052.2,630.8 1051.1,625.8 1053.4,625.4Z" fill="#231f20"/>
<path d="M1055.7,636.3 C1056.6,635.0 1058.8,634.9 1060.3,635.2 C1061.9,635.5 1063.7,636.7 1064.3,638.1 C1065.0,639.5 1064.6,641.5 1063.8,642.7 C1062.9,643.9 1061.2,644.5 1059.7,644.4 C1058.3,644.3 1056.4,643.5 1055.7,642.1 C1055.0,640.7 1054.8,637.7 1055.7,636.3Z" fill="url(#pinkpat)" stroke="#231f20" stroke-width="2.2" stroke-linejoin="round"/>
<path d="M1086.8,628.8 L1096.1,628.8 L1096.1,638.1 L1091.4,636.9Z" fill="#fff"/>
<path d="M272.1,624.7 C272.1,624.7 270.4,638.0 270.9,641.6 C271.4,645.1 273.6,649.3 275.7,651.2 C277.9,653.2 281.7,654.1 284.2,653.7 C286.7,653.2 289.0,651.1 290.2,648.8 C291.5,646.6 292.2,642.4 292.2,639.2 C292.2,635.9 290.2,624.7 290.2,624.7" fill="none" stroke="#231f20" stroke-width="2.2" stroke-linejoin="round"/>
<path d="M269.7,624.7 C269.7,624.7 267.5,639.6 268.0,644.0 C268.5,648.4 270.6,653.6 273.3,656.1 C276.1,658.6 280.5,659.1 284.2,658.5 C287.9,657.8 291.9,655.7 293.9,652.5 C295.9,649.2 296.2,643.7 296.3,639.2 C296.4,634.7 294.6,624.7 294.6,624.7" fill="none" stroke="#231f20" stroke-width="2.2" stroke-linejoin="round"/>
<path d="M267.3,624.7 C267.3,624.7 264.9,641.2 265.6,646.4 C266.3,651.7 268.7,658.0 272.1,660.9 C275.5,663.8 281.0,664.2 285.4,663.3 C289.8,662.5 295.0,660.1 297.5,656.1 C300.0,652.1 300.2,644.0 300.4,639.2 C300.6,634.3 298.7,624.7 298.7,624.7" fill="none" stroke="#231f20" stroke-width="2.2" stroke-linejoin="round"/>
<path d="M274.5,624.7 C274.5,624.7 273.6,637.6 274.1,640.4 C274.5,643.1 276.6,646.3 278.2,647.6 C279.7,648.9 282.4,649.5 284.2,648.8 C286.0,648.1 286.7,645.8 287.3,644.0 C288.0,642.2 288.4,639.2 288.3,636.7 C288.2,634.3 286.6,624.7 286.6,624.7" fill="none" stroke="#231f20" stroke-width="2.2" stroke-linejoin="round"/>
<path d="M264.9,624.7 C264.9,624.7 262.5,643.2 263.2,648.8 C263.9,654.5 265.6,661.1 269.7,664.5 C273.8,668.0 280.1,668.5 285.4,667.7 C290.7,666.8 296.8,664.2 299.9,659.7 C303.1,655.2 303.1,647.2 303.5,641.6 C303.9,635.9 302.3,624.7 302.3,624.7" fill="none" stroke="#231f20" stroke-width="2.2" stroke-linejoin="round"/>
<path d="M274.5,670.6 C274.5,670.6 272.7,686.7 272.1,694.7 C271.6,702.8 271.1,714.1 270.9,723.7 C270.7,733.4 270.7,745.5 270.9,755.1 C271.1,764.8 271.5,778.4 272.1,784.1 C272.7,789.9 274.7,798.0 275.7,801.1 C276.8,804.1 279.0,808.6 280.6,809.5 C282.1,810.5 284.5,808.6 285.4,807.1 C286.4,805.6 289.1,798.4 290.2,793.8 C291.3,789.2 293.0,779.4 293.9,772.1 C294.7,764.8 295.6,756.0 295.6,747.9 C295.6,739.8 294.8,731.7 293.9,723.7 C292.9,715.7 290.9,705.3 289.8,699.6 C288.6,693.9 286.1,685.1 285.4,682.7 C284.7,680.2 282.6,677.9 283.0,675.4 C283.3,673.0 285.6,671.1 287.3,669.4 C289.1,667.6 293.0,664.9 295.1,663.3 C297.1,661.7 299.5,660.5 301.1,658.5 C302.7,656.5 304.1,653.9 304.7,651.2 C305.4,648.6 305.9,643.2 305.9,639.2 C305.9,635.1 304.7,624.7 304.7,624.7" fill="none" stroke="#231f20" stroke-width="2.2" stroke-linejoin="round"/>
<path d="M261.2,653.7 C261.2,653.7 263.4,664.9 263.7,670.6 C263.9,676.3 263.7,698.0 263.7,711.7 C263.6,725.3 263.1,743.9 263.2,760.0 C263.3,776.1 263.7,796.2 264.1,808.3 C264.6,820.4 266.4,842.7 266.6,844.5 C266.7,846.4 267.2,848.2 267.3,850.0 C267.4,851.8 267.5,862.9 268.0,869.3 C268.5,875.8 269.6,886.9 270.9,893.5 C272.3,900.1 275.1,908.5 276.9,912.8 C278.8,917.1 282.6,922.1 284.2,924.9 C285.8,927.7 288.4,930.2 289.0,933.4 C289.7,936.5 289.4,945.4 289.8,951.5 C290.1,957.5 290.8,967.6 291.4,975.6 C292.1,983.7 293.2,994.2 293.9,999.8 C294.5,1005.5 295.8,1014.2 296.3,1016.7 C296.8,1019.2 298.7,1024.0 298.7,1024.0 C298.7,1024.0 301.4,1019.3 301.8,1016.7 C302.3,1014.1 303.1,1002.2 303.5,995.0 C304.0,987.7 304.3,978.9 304.7,970.8 C305.1,962.8 305.5,954.7 305.9,946.7 C306.3,938.6 306.9,930.5 307.2,922.5 C307.4,914.4 307.5,904.0 307.6,898.3 C307.8,892.7 308.4,881.4 308.4,881.4" fill="none" stroke="#231f20" stroke-width="2.2" stroke-linejoin="round"/>
<path d="M380.8,915.1 C380.8,915.1 381.7,900.3 382.1,892.9 C382.4,885.5 383.1,876.0 383.3,868.7 C383.5,861.5 383.4,854.2 383.3,847.0 C383.1,839.7 382.8,832.5 382.5,825.2 C382.3,818.0 382.0,809.9 381.6,803.5 C381.2,797.0 380.7,788.2 380.1,784.1 C379.6,780.0 378.4,775.1 377.2,772.1 C376.1,769.0 374.0,765.3 372.4,763.6 C370.8,761.9 368.5,760.2 366.4,760.0 C364.2,759.8 362.0,761.0 360.3,762.4 C358.6,763.7 356.0,767.0 354.3,769.6 C352.5,772.2 350.1,775.8 348.7,779.3 C347.4,782.8 346.6,787.3 345.8,791.4 C345.0,795.4 344.2,802.9 343.4,805.9 C342.6,808.9 339.8,814.3 339.8,814.3 C339.8,814.3 336.6,809.5 336.6,809.5 C336.6,809.5 334.9,813.1 334.9,813.1 C334.9,813.1 331.9,810.2 331.3,808.3 C330.8,806.4 329.8,798.7 329.4,793.8 C329.0,788.9 328.9,779.3 328.4,772.1 C327.9,764.8 327.0,756.7 326.5,750.3 C326.0,743.9 325.6,737.4 325.3,731.0 C325.0,724.5 325.2,718.1 324.6,711.7 C323.9,705.2 322.7,696.9 321.7,692.3 C320.6,687.7 318.3,681.8 316.8,679.0 C315.3,676.3 312.1,673.0 310.8,671.8 C309.4,670.6 307.3,669.4 305.9,669.4 C304.6,669.4 303.9,671.0 302.8,671.8 C301.7,672.6 298.5,674.1 297.5,675.4 C296.5,676.7 296.2,678.6 296.3,680.2 C296.4,681.9 298.0,689.9 298.7,694.7 C299.4,699.6 301.1,709.2 301.8,716.5 C302.6,723.8 303.4,732.6 303.5,740.6 C303.7,748.7 303.2,758.4 302.8,764.8 C302.4,771.3 302.0,777.7 301.1,784.1 C300.2,790.5 298.6,797.8 297.5,803.5 C296.4,809.1 294.5,817.2 293.9,820.4 C293.2,823.6 292.0,826.8 292.2,830.0 C292.3,833.3 293.9,839.8 295.1,844.5 C296.2,849.3 298.4,856.6 299.9,861.5 C301.4,866.3 303.7,872.8 304.7,876.0 C305.8,879.2 307.3,882.3 307.6,885.6 C307.9,889.0 308.4,915.1 308.4,915.1" fill="none" stroke="#231f20" stroke-width="2.2" stroke-linejoin="round"/>
<path d="M382.5,874.2 C382.5,874.2 381.3,890.3 380.8,898.3 C380.4,906.4 379.6,922.5 379.2,934.6 C378.8,946.6 378.4,958.7 378.4,970.8 C378.4,982.9 379.0,998.2 379.2,1007.1 C379.3,1015.9 379.9,1026.4 379.6,1033.6 C379.4,1040.9 378.3,1048.1 377.7,1055.4 C377.1,1062.6 376.5,1071.5 376.0,1079.5 C375.5,1087.6 375.1,1095.7 374.8,1103.7 C374.5,1111.8 373.6,1144.8 373.6,1144.8" fill="none" stroke="#231f20" stroke-width="2.2" stroke-linejoin="round"/>
<path d="M309.6,880.8 C309.6,880.8 313.8,874.4 315.6,871.1 C317.5,867.8 319.9,863.0 321.7,859.0 C323.4,855.1 325.5,849.1 326.5,847.0 C327.5,844.8 328.2,841.5 330.1,840.9 C332.0,840.4 333.7,844.2 334.9,844.5 C336.2,844.9 337.4,842.9 338.6,843.3 C339.8,843.7 341.5,845.4 342.2,847.0 C342.9,848.5 344.3,855.9 344.6,856.6 C345.0,857.4 346.7,856.5 347.0,857.2 C347.3,858.0 351.0,868.4 351.9,874.2 C352.7,880.0 352.9,890.3 353.1,898.3 C353.2,906.4 353.2,924.1 353.1,934.6 C352.9,945.0 352.4,956.7 351.9,966.0 C351.3,975.3 350.6,989.9 349.4,993.8 C348.3,997.6 342.6,1001.5 341.0,1002.2 C339.3,1003.0 337.9,999.2 336.1,999.8 C334.4,1000.4 332.9,1006.1 330.1,1005.8 C327.3,1005.6 325.9,1001.1 324.1,998.6 C322.2,996.1 318.6,991.7 316.8,987.7 C315.1,983.7 312.9,976.6 312.0,970.8 C311.0,965.0 310.4,954.7 310.1,946.7 C309.7,938.6 309.3,920.1 309.1,910.4 C308.8,900.7 308.4,881.4 308.4,881.4" fill="none" stroke="#231f20" stroke-width="2.2" stroke-linejoin="round"/>
<path d="M382.1,629.5 C382.1,629.5 379.4,640.8 378.4,646.4 C377.4,652.0 376.8,659.2 376.0,663.3 C375.2,667.4 373.0,672.5 372.9,675.4 C372.7,678.3 374.8,683.9 374.8,683.9" fill="none" stroke="#231f20" stroke-width="2.2" stroke-linejoin="round"/>
<path d="M386.9,703.2 C386.9,703.2 389.5,709.6 390.5,711.7 C391.6,713.8 392.5,717.2 394.1,717.7 C395.8,718.2 396.5,715.2 397.8,714.1 C399.1,713.0 400.6,710.2 402.6,710.4 C404.6,710.7 404.2,715.6 406.2,715.3 C408.2,715.0 410.2,711.7 411.1,709.2 C412.0,706.8 412.9,701.2 413.0,697.2 C413.0,693.1 411.9,682.7 411.5,675.4 C411.2,668.2 411.0,659.3 410.6,651.2 C410.2,643.2 409.1,624.7 409.1,624.7" fill="none" stroke="#231f20" stroke-width="2.2" stroke-linejoin="round"/>
<path d="M423.1,624.7 C423.1,624.7 423.6,643.2 423.6,651.2 C423.6,659.3 423.4,667.4 423.1,675.4 C422.9,683.5 422.5,693.1 421.9,699.6 C421.4,706.0 420.1,713.3 419.5,718.9 C418.9,724.5 418.2,730.2 418.3,735.8 C418.4,741.5 419.7,747.1 420.2,752.7 C420.8,758.4 421.8,765.6 421.9,772.1 C422.1,778.5 421.7,789.7 421.2,796.2 C420.7,802.7 419.1,809.9 418.3,815.6 C417.5,821.2 415.9,828.4 415.9,832.5 C415.9,836.6 417.3,840.6 418.3,844.5 C419.3,848.5 420.7,852.6 421.9,856.6 C423.2,860.6 425.6,867.9 426.8,871.1 C427.9,874.4 429.5,877.5 430.4,880.8 C431.2,884.1 432.0,888.8 432.3,892.9 C432.6,896.9 432.8,912.6 432.8,915.1 C432.8,917.6 432.4,920.0 432.3,922.5 C432.2,925.0 431.8,938.6 431.6,946.7 C431.3,954.7 430.5,970.8 430.4,982.9 C430.3,995.0 430.5,1007.1 430.9,1019.1 C431.2,1031.2 431.7,1043.3 432.3,1055.4 C433.0,1067.5 434.2,1083.6 434.7,1091.6 C435.3,1099.7 436.0,1107.7 436.4,1115.8 C436.9,1123.9 437.6,1144.8 437.6,1144.8" fill="none" stroke="#231f20" stroke-width="2.2" stroke-linejoin="round"/>
<path d="M426.8,624.7 C426.8,624.7 427.1,652.9 427.0,663.3 C426.9,673.8 426.5,687.5 426.0,694.7 C425.6,702.0 424.1,712.4 423.6,716.5 C423.1,720.5 421.9,728.6 421.9,728.6" fill="none" stroke="#231f20" stroke-width="2.2" stroke-linejoin="round"/>
<path d="M435.2,624.7 C435.2,624.7 435.5,643.2 435.7,651.2 C435.9,659.3 436.4,667.3 436.4,675.4 C436.4,683.5 435.9,693.1 435.7,699.6 C435.5,706.0 435.0,714.8 435.2,718.9 C435.4,723.0 436.5,729.3 437.1,731.0 C437.8,732.7 439.7,735.5 441.3,734.6 C442.9,733.7 445.0,729.2 446.1,726.1 C447.2,723.1 448.7,716.4 449.7,711.7 C450.7,706.9 452.1,697.2 452.1,697.2" fill="none" stroke="#231f20" stroke-width="2.2" stroke-linejoin="round"/>
<path d="M454.1,680.2 C454.1,680.2 454.7,664.9 454.5,658.5 C454.4,652.0 453.7,644.0 453.3,639.2 C453.0,634.3 452.1,624.7 452.1,624.7" fill="none" stroke="#231f20" stroke-width="2.2" stroke-linejoin="round"/>
<path d="M512.5,646.4 C512.5,646.4 510.0,652.8 508.9,656.1 C507.8,659.3 506.1,665.0 505.3,668.2 C504.5,671.3 503.2,674.5 503.4,677.8 C503.6,681.1 505.0,684.7 506.5,687.5 C508.0,690.3 511.0,692.0 512.5,694.7 C514.1,697.5 515.6,701.0 516.2,704.4 C516.7,707.8 517.1,717.3 517.4,723.7 C517.6,730.2 517.5,740.6 517.9,747.9 C518.2,755.2 518.9,764.6 519.8,769.6 C520.7,774.6 522.6,780.7 524.6,784.1 C526.6,787.6 529.8,790.8 533.1,792.6 C536.3,794.4 540.7,794.6 543.9,795.0 C547.1,795.4 551.0,794.0 553.6,795.0 C556.3,796.0 557.9,798.8 559.7,801.1 C561.4,803.3 563.6,808.0 565.7,810.7 C567.8,813.4 570.8,816.6 572.9,818.0 C575.1,819.4 577.7,820.6 580.2,820.4 C582.7,820.2 585.2,818.3 587.4,816.8 C589.6,815.2 594.1,810.3 597.1,808.3 C600.1,806.3 603.7,804.6 606.8,803.5 C609.9,802.3 613.5,802.5 616.4,801.1 C619.4,799.6 623.4,796.8 626.1,793.8 C628.8,790.8 631.8,784.8 633.4,781.7 C634.9,778.6 636.2,773.3 637.0,772.1 C637.7,770.8 640.6,769.6 640.6,769.6 C640.6,769.6 642.6,776.0 643.0,779.3 C643.5,782.6 644.2,790.6 644.2,796.2 C644.2,801.9 643.0,813.9 643.0,820.4 C643.0,826.8 643.7,834.8 644.2,839.7 C644.7,844.6 646.6,854.2 646.6,854.2 C646.6,854.2 649.4,849.5 650.3,847.0 C651.1,844.4 653.5,834.1 655.1,827.6 C656.7,821.2 658.7,814.7 659.9,808.3 C661.1,801.9 662.0,790.8 662.3,789.0 C662.7,787.2 665.0,784.1 665.0,784.1 C665.0,784.1 664.1,786.1 664.8,786.6 C665.5,787.0 669.0,786.8 670.9,787.8 C672.7,788.7 675.0,791.2 676.9,792.6 C678.8,793.9 680.9,795.8 683.0,796.2 C685.0,796.6 687.3,796.2 689.0,795.0 C690.7,793.8 693.3,789.3 695.0,787.8 C696.8,786.2 699.6,784.8 701.1,784.1 C702.6,783.5 704.5,782.1 705.9,782.9 C707.4,783.8 708.6,786.8 709.5,789.0 C710.4,791.1 711.9,797.4 711.9,797.4" fill="none" stroke="#231f20" stroke-width="2.2" stroke-linejoin="round"/>
<path d="M511.3,624.7 L512.5,633.1" fill="none" stroke="#231f20" stroke-width="2.2" stroke-linejoin="round"/>
<path d="M725.2,811.9 C725.2,811.9 728.7,817.4 730.1,820.4 C731.5,823.3 733.4,828.4 734.9,832.5 C736.4,836.5 738.9,842.0 739.7,847.0 C740.5,851.9 738.9,857.1 739.7,862.1 C740.5,867.1 743.6,871.6 744.6,876.6 C745.6,881.6 746.3,891.1 747.0,898.3 C747.7,905.6 748.4,917.7 749.4,927.3 C750.4,937.0 751.8,948.3 753.0,958.7 C754.2,969.2 755.7,982.9 756.7,990.1 C757.6,997.4 759.7,1009.7 760.3,1011.9 C760.8,1014.1 763.4,1017.9 763.4,1017.9 C763.4,1017.9 765.2,1009.1 765.8,1004.6 C766.5,1000.2 767.6,989.4 768.2,985.3 C768.9,981.2 770.4,974.9 771.1,973.2 C771.9,971.5 773.7,969.0 775.5,969.6 C777.3,970.2 778.3,973.4 778.9,975.6 C779.5,977.9 781.1,988.5 782.0,995.0 C783.0,1001.4 784.2,1011.9 785.2,1019.1 C786.1,1026.4 787.4,1037.9 788.1,1040.9 C788.7,1043.9 791.7,1049.3 791.7,1049.3 C791.7,1049.3 794.3,1045.4 795.3,1043.3 C796.3,1041.2 797.8,1035.6 798.9,1033.6 C800.1,1031.7 802.7,1030.8 803.8,1028.8 C804.8,1026.8 806.4,1020.8 807.4,1016.7 C808.4,1012.6 810.5,1002.2 811.0,999.8 C811.6,997.4 812.7,992.6 812.7,992.6 C812.7,992.6 813.7,1000.7 814.6,1004.6 C815.6,1008.6 817.2,1014.7 818.3,1016.7 C819.3,1018.8 821.8,1020.0 823.1,1021.6 C824.4,1023.1 826.2,1024.4 826.7,1026.4 C827.3,1028.3 828.5,1037.6 829.1,1043.3 C829.8,1049.0 830.8,1059.4 831.6,1067.5 C832.4,1075.5 833.2,1083.6 834.0,1091.6 C834.8,1099.7 835.7,1107.7 836.4,1115.8 C837.1,1123.9 838.8,1144.8 838.8,1144.8" fill="none" stroke="#231f20" stroke-width="2.2" stroke-linejoin="round"/>
<path d="M665.0,689.9 C665.0,689.9 658.3,691.3 655.1,692.3 C651.8,693.3 648.0,694.6 645.4,695.9 C642.8,697.2 640.1,698.6 638.2,700.8 C636.2,702.9 634.4,706.2 633.4,709.2 C632.3,712.3 631.9,717.3 630.9,721.3 C629.9,725.3 628.9,729.9 627.3,733.4 C625.8,736.9 623.5,740.1 621.3,743.1 C619.1,746.1 616.4,748.7 614.0,751.5 C611.6,754.3 608.8,756.9 606.8,760.0 C604.8,763.1 603.0,768.2 600.7,772.1 C598.4,775.9 594.3,781.8 592.3,784.1 C590.2,786.5 587.3,789.4 585.0,790.2 C582.7,791.0 579.9,790.2 577.8,789.0 C575.7,787.7 572.1,784.7 570.5,781.7 C568.9,778.7 567.9,773.8 567.6,769.6 C567.3,765.5 567.6,756.7 568.1,750.3 C568.6,743.9 570.0,735.8 570.5,731.0 C571.0,726.2 571.9,720.6 571.7,716.5 C571.5,712.4 570.6,708.3 569.3,704.4 C568.1,700.5 565.2,693.4 563.3,689.9 C561.3,686.4 558.1,683.0 556.0,680.2 C554.0,677.4 551.6,673.1 550.0,671.8 C548.4,670.5 545.9,670.0 543.9,670.6 C542.0,671.2 539.7,673.6 537.9,675.4 C536.1,677.2 535.7,681.4 533.1,681.4 C530.5,681.4 529.4,677.7 528.2,675.4 C527.1,673.1 525.8,669.9 525.8,666.9 C525.8,664.0 526.3,660.0 528.2,657.3 C530.2,654.6 533.7,653.1 536.7,651.7 C539.7,650.3 544.2,650.5 546.4,648.8 C548.5,647.2 549.7,644.3 550.0,641.6 C550.3,638.9 548.8,624.7 548.8,624.7" fill="none" stroke="#231f20" stroke-width="2.2" stroke-linejoin="round"/>
<path d="M563.3,624.7 C563.3,624.7 564.4,638.2 565.2,641.6 C566.0,645.0 568.1,647.9 569.3,651.2 C570.5,654.5 571.8,659.3 572.9,663.3 C574.1,667.4 575.2,673.0 576.6,677.8 C578.0,682.6 579.8,688.9 581.4,692.3 C583.0,695.8 585.9,700.6 587.4,702.0 C589.0,703.4 591.8,704.3 593.5,703.2 C595.2,702.1 597.2,697.8 598.3,694.7 C599.4,691.7 601.9,680.2 601.9,680.2" fill="none" stroke="#231f20" stroke-width="2.2" stroke-linejoin="round"/>
<path d="M604.4,669.4 C604.4,669.4 605.7,661.2 606.8,658.5 C607.9,655.8 609.4,653.1 611.6,651.2 C613.8,649.4 617.8,647.4 621.3,646.4 C624.7,645.4 631.0,644.6 635.8,644.0 C640.6,643.4 645.5,643.4 650.3,642.8 C655.1,642.2 665.0,640.4 665.0,640.4 C665.0,640.4 662.4,639.2 662.4,639.2 C662.4,639.2 667.7,640.0 669.7,641.6 C671.7,643.2 673.4,646.2 674.5,648.8 C675.6,651.5 677.1,655.8 676.9,658.5 C676.7,661.2 674.8,664.0 673.3,665.7 C671.7,667.5 669.4,668.4 667.2,669.4 C665.1,670.3 660.0,671.8 660.0,671.8" fill="none" stroke="#231f20" stroke-width="2.2" stroke-linejoin="round"/>
<path d="M570.5,624.7 C570.5,624.7 571.9,637.4 572.9,641.6 C574.0,645.8 576.0,649.7 577.8,653.7 C579.6,657.6 582.8,664.0 583.8,665.7 C584.8,667.5 585.4,670.6 587.4,670.6 C589.5,670.6 591.0,667.6 592.3,665.7 C593.6,663.9 596.1,658.2 598.3,654.9 C600.5,651.5 604.1,647.0 605.6,645.2 C607.0,643.5 610.4,640.4 610.4,640.4" fill="none" stroke="#231f20" stroke-width="2.2" stroke-linejoin="round"/>
<path d="M646.6,639.2 C646.6,639.2 654.9,637.6 657.5,636.7 C660.1,635.9 664.7,633.3 665.0,633.1 C665.3,632.9 664.8,631.9 664.8,631.9 C664.8,631.9 669.4,635.2 672.1,635.5 C674.8,635.9 679.1,633.9 681.7,634.3 C684.4,634.7 686.3,638.0 689.0,638.0 C691.7,638.0 693.7,634.1 696.2,634.3 C698.8,634.6 701.6,637.1 702.3,639.2 C703.0,641.2 701.8,644.2 699.9,645.2 C697.9,646.2 695.0,643.6 692.6,644.0 C690.2,644.4 685.4,646.5 684.2,647.6 C682.9,648.7 683.0,652.5 683.0,652.5 C683.0,652.5 688.6,651.6 691.4,651.2 C694.2,650.8 697.4,648.7 699.9,650.0 C702.4,651.4 704.1,655.7 704.7,658.5 C705.3,661.3 703.8,665.3 703.5,666.9 C703.2,668.6 702.3,671.8 702.3,671.8" fill="none" stroke="#231f20" stroke-width="2.2" stroke-linejoin="round"/>
<path d="M481.1,750.3 C481.1,750.3 477.5,759.9 476.3,764.8 C475.1,769.8 473.6,777.6 472.7,784.1 C471.8,790.6 471.1,800.2 470.3,808.3 C469.4,816.4 467.8,827.6 467.8,832.5 C467.8,837.4 468.9,842.7 470.3,847.0 C471.6,851.3 474.5,855.1 476.3,859.0 C478.1,863.0 480.1,868.0 481.1,871.1 C482.2,874.3 483.5,877.5 483.5,880.8 C483.5,884.1 481.8,890.4 481.1,895.3 C480.4,900.1 478.7,915.1 478.7,915.1 C478.7,915.1 479.9,903.2 479.9,903.2 C479.9,903.2 477.2,920.8 476.3,929.7 C475.4,938.6 474.7,949.1 474.4,958.7 C474.0,968.4 474.2,982.9 473.9,995.0 C473.6,1007.1 473.3,1019.1 472.7,1031.2 C472.1,1043.3 471.3,1055.4 470.3,1067.5 C469.2,1079.5 467.8,1091.6 466.6,1103.7 C465.5,1115.8 463.0,1144.8 463.0,1144.8" fill="none" stroke="#231f20" stroke-width="2.2" stroke-linejoin="round"/>
<path d="M481.1,750.3 C481.1,750.3 485.6,754.8 487.2,757.6 C488.7,760.3 491.3,767.2 493.2,772.1 C495.1,776.9 497.4,783.3 499.2,789.0 C501.1,794.7 503.1,801.9 505.3,808.3 C507.5,814.7 510.5,822.0 512.5,827.6 C514.6,833.3 516.6,838.9 518.6,844.5 C520.6,850.2 523.0,857.4 524.6,861.5 C526.2,865.6 529.9,873.5 529.9,873.5 C529.9,873.5 533.2,868.9 534.3,866.3 C535.4,863.7 537.5,856.6 539.1,851.8 C540.7,847.0 542.4,840.8 543.9,837.3 C545.5,833.8 548.5,829.2 550.0,827.6 C551.5,826.1 554.0,824.4 556.0,825.2 C558.0,826.0 560.5,829.7 562.1,832.5 C563.6,835.2 566.1,842.1 568.1,847.0 C570.1,851.8 572.4,856.7 574.2,861.5 C575.9,866.2 577.8,871.0 579.0,876.0 C580.1,880.9 581.0,887.2 581.4,892.9 C581.8,898.6 581.4,915.1 581.4,915.1 C581.4,915.1 581.4,910.4 581.4,910.4 C581.4,910.4 580.7,934.6 580.7,946.7 C580.7,958.7 581.2,970.8 581.4,982.9 C581.6,995.0 582.1,1007.1 582.1,1019.1 C582.1,1031.2 581.7,1043.3 581.4,1055.4 C581.1,1067.5 580.4,1079.5 580.2,1091.6 C580.0,1103.7 579.7,1144.8 579.7,1144.8" fill="none" stroke="#231f20" stroke-width="2.2" stroke-linejoin="round"/>
<path d="M444.9,871.1 C444.9,871.1 447.3,879.1 447.3,883.2 C447.3,887.3 444.9,898.9 444.9,898.9 C444.9,898.9 441.3,887.4 441.3,883.2 C441.3,879.0 444.9,871.1 444.9,871.1Z" fill="none" stroke="#231f20" stroke-width="2.2" stroke-linejoin="round"/>
<path d="M390.5,997.4 C390.5,997.4 394.1,1008.6 395.3,1014.3 C396.6,1020.0 398.5,1027.1 398.5,1033.6 C398.5,1040.2 396.4,1050.3 395.3,1055.4 C394.3,1060.5 391.2,1070.4 391.2,1070.4 C391.2,1070.4 388.9,1058.8 388.1,1053.0 C387.3,1047.1 386.4,1040.1 386.4,1033.6 C386.4,1027.2 387.5,1020.0 388.1,1014.3 C388.7,1008.6 390.5,997.4 390.5,997.4Z" fill="none" stroke="#231f20" stroke-width="2.2" stroke-linejoin="round"/>
<path d="M665.0,914.0 C665.0,914.0 660.6,919.5 658.7,922.5 C656.9,925.5 654.3,928.6 653.9,932.2 C653.5,935.7 654.9,945.1 655.6,951.5 C656.3,957.9 657.8,967.6 658.7,975.6 C659.6,983.7 660.3,991.8 661.1,999.8 C661.9,1007.9 663.1,1019.9 663.6,1024.0 C664.0,1028.0 665.0,1036.1 665.0,1036.1" fill="none" stroke="#231f20" stroke-width="2.2" stroke-linejoin="round"/>
<path d="M466.6,634.3 C466.6,634.3 469.0,636.8 469.0,638.0 C469.0,639.1 467.8,640.6 466.6,640.4 C465.5,640.2 464.7,638.4 464.7,637.2 C464.7,636.1 466.6,634.3 466.6,634.3Z" fill="none" stroke="#231f20" stroke-width="2.2" stroke-linejoin="round"/>
<path d="M660.0,689.9 C660.0,689.9 665.4,690.5 667.2,692.3 C669.0,694.1 671.4,698.8 672.1,702.0 C672.8,705.1 672.6,708.8 671.6,711.7 C670.6,714.5 667.8,717.0 666.0,718.9 C664.3,720.8 661.4,722.3 660.0,723.7 C658.6,725.2 656.4,726.6 656.4,728.6 C656.4,730.6 658.7,731.9 660.0,733.4 C661.3,734.9 664.9,738.5 667.2,740.6 C669.6,742.8 671.5,745.8 674.5,746.7 C677.5,747.6 680.9,745.9 684.2,745.5 C687.4,745.1 691.1,746.1 693.8,744.3 C696.5,742.5 697.4,738.8 698.7,735.8 C699.9,732.8 701.0,727.7 702.3,723.7 C703.6,719.7 705.6,713.3 707.1,709.2 C708.6,705.2 710.3,700.2 711.9,697.2 C713.6,694.1 716.0,690.3 718.0,688.7 C720.0,687.1 722.7,686.3 725.2,686.3 C727.8,686.3 730.6,687.0 732.5,688.7 C734.4,690.4 736.2,694.1 737.3,697.2 C738.4,700.2 739.6,705.1 739.7,709.2 C739.9,713.3 739.5,719.5 738.5,723.7 C737.6,728.0 735.3,732.8 733.7,735.8 C732.1,738.9 729.6,742.5 727.7,744.3 C725.7,746.0 721.8,746.7 720.4,747.4 C719.1,748.2 717.4,748.9 716.8,750.3 C716.2,751.7 716.0,754.5 716.8,756.4 C717.5,758.2 719.9,760.8 721.6,762.4 C723.4,764.0 726.4,764.1 727.7,766.0 C729.0,768.0 730.1,773.2 731.3,776.9 C732.4,780.5 733.6,785.6 734.9,789.0 C736.2,792.3 738.4,795.5 739.7,798.6 C741.1,801.8 742.4,805.0 743.4,808.3 C744.4,811.6 745.8,818.0 747.0,822.8 C748.2,827.6 749.4,832.5 750.6,837.3 C751.8,842.1 753.0,848.4 754.2,851.8 C755.4,855.2 757.8,860.4 759.1,861.5 C760.3,862.6 762.7,861.3 763.9,860.3 C765.1,859.2 767.6,855.7 768.7,853.0 C769.8,850.3 771.3,844.2 772.4,839.7 C773.4,835.3 775.5,825.2 775.5,825.2" fill="none" stroke="#231f20" stroke-width="2.2" stroke-linejoin="round"/>
<path d="M785.6,803.5 C785.6,803.5 790.7,797.2 792.9,793.8 C795.1,790.5 798.1,784.5 800.1,781.7 C802.2,779.0 806.0,775.6 807.4,774.5 C808.8,773.3 810.8,771.0 812.2,772.1 C813.7,773.1 816.2,780.5 817.1,781.7 C817.9,782.9 819.2,784.1 820.7,784.1 C822.1,784.1 823.7,783.0 824.3,781.7 C825.0,780.4 826.4,775.4 826.7,772.1 C827.1,768.8 827.4,756.8 827.4,750.3 C827.5,743.9 827.1,732.3 827.2,731.0 C827.3,729.7 828.7,727.4 828.7,727.4 C828.7,727.4 830.2,729.7 830.3,731.0 C830.4,732.3 830.5,743.9 830.3,750.3 C830.2,756.8 829.5,768.0 829.6,772.1 C829.8,776.1 830.9,780.1 831.6,784.1 C832.2,788.2 833.3,793.8 834.0,798.6 C834.6,803.5 835.8,813.1 836.4,820.4 C837.0,827.7 837.7,837.9 837.6,844.5 C837.5,851.2 836.3,858.9 835.9,864.5 C835.5,870.1 834.9,875.8 835.2,881.4 C835.4,887.0 836.8,897.5 837.6,905.6 C838.4,913.6 839.9,927.3 840.7,934.6 C841.6,941.8 843.3,954.6 843.6,956.3 C843.9,958.0 845.6,961.1 845.6,961.1 C845.6,961.1 847.6,953.1 848.5,949.1 C849.4,945.0 850.7,937.7 852.1,932.2 C853.5,926.6 855.4,920.1 856.9,915.2 C858.4,910.4 860.5,905.7 861.8,900.7 C863.0,895.8 864.4,887.0 865.4,881.4 C866.3,875.8 867.2,869.3 867.8,864.5 C868.4,859.7 868.6,854.8 869.0,850.0 C869.5,845.2 871.4,827.6 872.1,818.0 C872.9,808.3 873.4,798.6 873.8,789.0 C874.2,779.3 874.4,769.6 874.6,760.0 C874.7,750.3 874.7,739.0 874.6,731.0 C874.5,722.9 874.2,714.9 873.8,706.8 C873.4,698.8 872.8,689.1 872.1,682.7 C871.5,676.2 869.7,663.3 869.7,663.3" fill="none" stroke="#231f20" stroke-width="2.2" stroke-linejoin="round"/>
<path d="M685.4,659.7 C685.4,659.7 686.3,671.8 687.1,677.8 C687.8,683.8 689.3,692.7 690.2,697.2 C691.1,701.6 693.8,710.4 693.8,710.4 C693.8,710.4 696.0,703.2 696.7,699.6 C697.5,695.9 698.7,687.5 698.7,687.5" fill="none" stroke="#231f20" stroke-width="2.2" stroke-linejoin="round"/>
<path d="M720.4,660.9 C720.4,660.9 720.9,665.9 722.8,666.9 C724.7,668.0 729.4,668.3 732.5,667.7 C735.6,667.1 738.5,663.8 740.9,663.3 C743.3,662.8 745.8,664.7 748.2,664.5 C750.6,664.3 754.0,663.2 755.4,662.1 C756.9,661.0 758.4,659.0 757.9,657.3 C757.4,655.6 754.9,654.5 753.0,653.7 C751.2,652.8 744.6,651.2 744.6,651.2" fill="none" stroke="#231f20" stroke-width="2.2" stroke-linejoin="round"/>
<path d="M784.4,624.7 C784.4,624.7 784.9,635.4 785.6,639.2 C786.4,642.9 788.4,647.9 789.3,650.0 C790.1,652.1 792.4,656.1 792.4,656.1 C792.4,656.1 794.5,651.3 795.3,648.8 C796.2,646.4 797.6,642.5 798.2,639.2 C798.8,635.9 799.7,624.7 799.7,624.7" fill="none" stroke="#231f20" stroke-width="2.2" stroke-linejoin="round"/>
<path d="M753.0,624.7 C753.0,624.7 756.3,630.4 759.1,631.9 C761.8,633.4 765.5,633.3 768.7,633.1 C772.0,632.9 776.2,632.0 778.4,630.7 C780.6,629.4 783.2,624.7 783.2,624.7" fill="none" stroke="#231f20" stroke-width="2.2" stroke-linejoin="round"/>
<path d="M821.9,624.7 C821.9,624.7 829.7,629.3 834.0,630.7 C838.3,632.1 844.4,632.4 848.5,633.1 C852.5,633.9 857.4,633.1 860.6,635.5 C863.7,638.0 864.4,643.3 865.4,646.4 C866.4,649.5 867.3,656.1 867.3,656.1" fill="none" stroke="#231f20" stroke-width="2.2" stroke-linejoin="round"/>
<path d="M873.8,624.7 C873.8,624.7 878.1,633.5 879.9,635.5 C881.7,637.5 885.2,638.5 887.1,639.2 C889.1,639.9 892.0,638.7 893.2,640.4 C894.3,642.1 895.2,647.6 895.6,651.2 C896.0,654.9 896.7,667.4 896.8,675.4 C896.9,683.5 896.7,691.5 896.3,699.6 C895.9,707.6 895.3,715.7 894.4,723.7 C893.5,731.8 891.8,739.9 890.8,747.9 C889.8,755.9 889.1,764.0 888.3,772.1 C887.5,780.1 886.7,788.2 885.9,796.2 C885.1,804.3 884.3,812.3 883.5,820.4 C882.7,828.4 881.2,842.7 881.1,844.5 C880.9,846.4 881.2,848.2 881.1,850.0 C880.9,851.8 879.6,866.1 878.7,874.2 C877.8,882.2 876.2,893.5 875.0,903.2 C873.9,912.8 872.6,924.1 871.4,934.6 C870.3,945.0 868.3,966.0 868.3,966.0" fill="none" stroke="#231f20" stroke-width="2.2" stroke-linejoin="round"/>
<path d="M864.2,999.8 C864.2,999.8 862.6,1020.8 861.8,1031.2 C861.0,1041.7 860.1,1053.0 859.3,1062.6 C858.6,1072.3 857.5,1083.6 856.9,1091.6 C856.3,1099.7 855.8,1107.7 855.2,1115.8 C854.7,1123.8 853.3,1144.8 853.3,1144.8" fill="none" stroke="#231f20" stroke-width="2.2" stroke-linejoin="round"/>
<path d="M978.9,651.2 C978.9,651.2 979.9,667.3 980.2,675.4 C980.4,683.5 980.9,699.6 980.9,711.7 C980.9,723.7 980.4,735.8 980.2,747.9 C979.9,760.0 979.4,772.1 979.4,784.1 C979.4,796.2 979.8,808.3 980.2,820.4 C980.5,832.5 981.4,856.6 981.4,856.6 C981.4,856.6 985.0,850.0 985.0,850.0 C985.0,850.0 984.1,866.1 983.3,874.2 C982.5,882.2 981.2,891.8 980.2,898.3 C979.1,904.8 977.6,912.8 976.5,917.7 C975.5,922.5 972.9,932.2 972.9,932.2 C972.9,932.2 972.5,925.7 972.2,922.5 C971.9,919.3 970.7,906.4 969.8,898.3 C968.9,890.3 967.5,878.3 966.9,874.2 C966.2,870.1 964.5,863.1 964.0,862.1 C963.4,861.1 961.2,862.2 960.8,863.3 C960.4,864.3 957.8,877.3 956.7,881.4 C955.6,885.5 952.9,893.5 952.9,893.5 C952.9,893.5 950.4,879.0 950.0,871.7 C949.5,864.4 950.1,850.2 950.0,844.5 C949.8,838.9 949.4,831.8 948.7,827.6 C948.1,823.5 946.2,818.8 945.1,815.6 C944.0,812.3 941.5,805.9 941.5,805.9 C941.5,805.9 936.7,815.6 936.7,815.6 C936.7,815.6 933.0,808.3 933.0,808.3 C933.0,808.3 930.9,817.9 930.1,822.8 C929.4,827.7 928.9,834.1 928.2,839.7 C927.5,845.3 925.8,856.6 925.8,856.6 C925.8,856.6 925.0,850.2 924.6,847.0 C924.2,843.7 922.9,834.1 922.2,827.6 C921.4,821.2 920.6,813.1 919.7,805.9 C918.9,798.6 918.0,790.6 917.3,784.1 C916.7,777.7 916.2,770.9 915.6,764.8 C915.1,758.8 913.7,746.7 913.7,746.7 C913.7,746.7 912.3,755.9 911.3,760.0 C910.3,764.1 908.7,768.0 907.7,772.1 C906.6,776.1 905.1,783.3 904.0,789.0 C903.0,794.6 901.9,801.9 901.1,808.3 C900.3,814.7 899.5,821.2 899.2,827.6 C899.0,834.1 899.5,841.1 899.7,847.0 C899.9,852.8 900.1,858.9 900.4,864.5 C900.7,870.1 902.0,875.8 901.6,881.4 C901.3,887.1 899.2,896.7 898.0,903.2 C896.8,909.6 894.6,920.4 893.9,922.5 C893.2,924.5 890.6,925.8 889.5,927.3 C888.5,928.8 887.3,930.4 887.1,932.2 C887.0,933.9 887.5,945.1 887.1,951.5 C886.8,957.9 885.6,967.6 884.7,975.6 C883.8,983.7 882.8,991.8 881.8,999.8 C880.8,1007.9 879.6,1015.9 878.7,1024.0 C877.7,1032.0 876.9,1040.1 876.3,1048.1 C875.6,1056.2 875.1,1064.2 874.6,1072.3 C874.0,1080.4 873.2,1093.2 872.6,1103.7 C872.1,1114.2 870.7,1144.8 870.7,1144.8" fill="none" stroke="#231f20" stroke-width="2.2" stroke-linejoin="round"/>
<path d="M975.3,653.7 C975.3,653.7 976.3,676.2 976.5,687.5 C976.8,698.8 977.0,719.7 977.0,735.8 C977.0,751.9 976.5,768.0 976.5,784.1 C976.5,800.2 977.0,832.5 977.0,832.5" fill="none" stroke="#231f20" stroke-width="2.2" stroke-linejoin="round"/>
<path d="M916.1,671.8 C916.1,671.8 918.5,676.1 918.5,678.3 C918.5,680.6 916.1,684.6 916.1,684.6 C916.1,684.6 913.7,680.6 913.7,678.3 C913.7,676.1 916.1,671.8 916.1,671.8Z" fill="none" stroke="#231f20" stroke-width="2.2" stroke-linejoin="round"/>
<path d="M915.6,726.1 C915.6,726.1 917.3,731.3 917.3,733.4 C917.3,735.5 915.6,739.4 915.6,739.4 C915.6,739.4 914.2,735.5 914.2,733.4 C914.2,731.3 915.6,726.1 915.6,726.1Z" fill="none" stroke="#231f20" stroke-width="2.2" stroke-linejoin="round"/>
<path d="M937.9,872.3 C937.9,872.3 940.8,877.5 940.8,879.6 C940.8,881.7 937.9,885.1 937.9,885.1 C937.9,885.1 936.7,881.5 936.7,879.6 C936.7,877.7 937.9,872.3 937.9,872.3Z" fill="none" stroke="#231f20" stroke-width="2.2" stroke-linejoin="round"/>
<path d="M993.4,810.7 C993.4,810.7 991.8,820.3 991.5,825.2 C991.3,830.1 991.4,850.7 991.0,856.6 C990.6,862.5 988.3,868.2 988.1,874.2 C987.9,880.1 988.7,898.3 989.1,910.4 C989.5,922.5 990.0,934.6 990.5,946.7 C991.1,958.7 991.9,974.8 992.2,982.9 C992.6,990.9 993.0,1007.1 993.0,1007.1 C993.0,1007.1 994.3,991.0 994.7,982.9 C995.0,974.8 995.2,958.7 995.4,946.7 C995.6,934.6 995.8,916.0 995.9,910.4 C996.0,904.8 996.0,896.1 996.3,893.5 C996.7,890.9 997.6,887.3 999.5,886.2 C1001.4,885.2 1003.7,887.5 1005.5,888.7 C1007.4,889.8 1012.7,894.0 1015.2,895.9 C1017.7,897.9 1020.6,899.4 1022.4,901.9 C1024.3,904.5 1025.9,909.1 1027.3,912.8 C1028.7,916.5 1030.9,922.4 1032.1,927.3 C1033.3,932.3 1034.9,940.1 1035.7,946.7 C1036.5,953.2 1036.7,962.8 1037.4,970.8 C1038.1,978.9 1038.9,986.9 1039.8,995.0 C1040.8,1003.0 1041.9,1011.1 1043.0,1019.1 C1044.1,1027.2 1045.9,1039.3 1046.6,1043.3 C1047.3,1047.4 1049.0,1055.4 1049.0,1055.4 C1049.0,1055.4 1052.6,1050.6 1052.6,1050.6 C1052.6,1050.6 1057.5,1062.6 1057.5,1062.6 C1057.5,1062.6 1061.2,1058.1 1062.3,1055.4 C1063.4,1052.7 1066.3,1040.7 1067.1,1038.5 C1068.0,1036.3 1068.8,1033.0 1070.8,1032.4 C1072.7,1031.9 1074.2,1034.6 1075.6,1036.1 C1077.0,1037.5 1080.4,1042.5 1082.8,1045.7 C1085.3,1048.9 1088.3,1053.2 1090.1,1055.4 C1091.9,1057.6 1096.1,1061.4 1096.1,1061.4" fill="none" stroke="#231f20" stroke-width="2.2" stroke-linejoin="round"/>
<path d="M993.4,810.7 C993.4,810.7 995.1,820.4 995.4,825.2 C995.7,830.1 996.3,856.6 996.3,856.6 C996.3,856.6 995.9,850.0 995.9,850.0 C995.9,850.0 996.7,860.5 997.1,864.5 C997.4,868.5 998.3,876.6 998.3,876.6 C998.3,876.6 1001.7,874.4 1003.1,873.0 C1004.5,871.5 1006.8,869.2 1007.9,866.9 C1009.1,864.6 1010.3,859.6 1010.8,857.2 C1011.4,854.9 1011.6,850.0 1011.6,850.0 C1011.6,850.0 1016.4,856.6 1016.4,856.6 C1016.4,856.6 1019.2,843.7 1020.0,839.7 C1020.9,835.7 1021.8,830.1 1022.4,827.6 C1023.1,825.2 1024.9,820.4 1024.9,820.4" fill="none" stroke="#231f20" stroke-width="2.2" stroke-linejoin="round"/>
<path d="M937.9,873.0 C937.9,873.0 940.3,878.4 940.3,880.2 C940.3,882.0 937.9,885.0 937.9,885.0 C937.9,885.0 936.7,881.0 936.7,879.0 C936.7,876.9 937.9,873.0 937.9,873.0Z" fill="none" stroke="#231f20" stroke-width="2.2" stroke-linejoin="round"/>
<path d="M660.0,922.5 C660.8,917.2 665.7,910.4 667.2,908.0 C668.8,905.6 673.3,901.9 673.3,901.9 C673.3,901.9 677.2,907.3 678.1,910.4 C679.0,913.5 680.8,923.2 681.3,929.7 C681.8,936.2 681.9,949.1 681.7,958.7 C681.6,968.4 681.1,982.9 680.5,995.0 C679.9,1007.0 678.8,1024.7 678.1,1031.2 C677.4,1037.7 675.1,1048.3 674.5,1050.6 C673.9,1052.8 670.9,1056.6 670.9,1056.6 C670.9,1056.6 667.0,1051.2 666.0,1048.1 C665.1,1045.0 663.4,1035.3 662.4,1028.8 C661.5,1022.3 660.5,1014.3 660.0,1007.1 C659.5,999.8 658.1,979.7 658.1,966.0 C658.1,952.3 659.2,927.8 660.0,922.5Z" fill="none" stroke="#231f20" stroke-width="2.2" stroke-linejoin="round"/>
<path d="M702.3,918.9 C702.3,918.9 704.4,922.8 704.7,924.9 C705.0,927.0 705.9,939.4 706.4,946.7 C706.9,953.9 707.7,966.0 708.3,975.6 C709.0,985.3 709.7,995.8 710.3,1004.6 C710.8,1013.5 711.9,1027.2 711.9,1031.2 C712.0,1035.3 710.7,1043.3 710.7,1043.3" fill="none" stroke="#231f20" stroke-width="2.2" stroke-linejoin="round"/>
<path d="M707.1,1067.5 C707.1,1067.5 703.5,1082.0 703.5,1082.0 C703.5,1082.0 700.8,1075.6 699.9,1072.3 C698.9,1069.0 697.5,1060.2 697.5,1060.2" fill="none" stroke="#231f20" stroke-width="2.2" stroke-linejoin="round"/>
<path d="M696.2,1038.5 C696.2,1038.5 695.8,1017.5 695.8,1007.1 C695.8,996.6 696.1,978.9 696.2,970.8 C696.4,962.8 696.4,953.1 696.7,946.7 C697.0,940.2 697.6,930.4 698.2,927.3 C698.8,924.2 702.3,918.9 702.3,918.9" fill="none" stroke="#231f20" stroke-width="2.2" stroke-linejoin="round"/>
<path d="M753.0,850.0 C753.0,850.0 755.8,857.0 756.7,858.5 C757.5,859.9 758.6,862.3 760.3,862.1 C762.0,861.8 763.8,859.1 765.1,857.2 C766.4,855.4 768.7,850.0 768.7,850.0" fill="none" stroke="#231f20" stroke-width="2.2" stroke-linejoin="round"/>
<path d="M998.0,626.5 C998.0,626.5 998.1,639.9 998.6,643.8 C999.1,647.8 1000.3,652.9 1001.5,655.4 C1002.7,657.8 1004.6,660.5 1007.3,661.1 C1009.9,661.8 1012.9,660.2 1015.3,658.8 C1017.8,657.5 1019.9,655.0 1022.2,653.1 C1024.6,651.1 1027.2,649.1 1029.2,647.3 C1031.2,645.5 1033.5,643.3 1034.9,641.5 C1036.3,639.8 1038.4,635.8 1038.4,635.8" fill="none" stroke="#231f20" stroke-width="2.2" stroke-linejoin="round"/>
<path d="M995.7,626.5 C995.7,626.5 995.8,641.8 996.3,646.1 C996.8,650.5 997.7,655.9 999.2,658.8 C1000.6,661.7 1003.1,664.9 1006.1,665.7 C1009.1,666.6 1012.5,664.8 1015.3,663.4 C1018.2,662.1 1020.9,659.8 1023.4,657.7 C1025.9,655.6 1028.4,652.7 1030.3,650.8 C1032.2,648.8 1036.1,645.0 1036.1,645.0" fill="none" stroke="#231f20" stroke-width="2.2" stroke-linejoin="round"/>
<path d="M993.4,626.5 C993.4,626.5 993.5,643.7 994.0,648.4 C994.5,653.2 995.8,659.0 997.5,662.3 C999.1,665.6 1001.6,669.3 1004.9,670.4 C1008.3,671.4 1012.1,669.4 1015.3,668.1 C1018.5,666.7 1021.9,664.2 1024.0,662.3 C1026.1,660.3 1029.2,655.4 1029.2,655.4" fill="none" stroke="#231f20" stroke-width="2.2" stroke-linejoin="round"/>
<path d="M991.1,626.5 C991.1,626.5 991.2,645.6 991.7,650.8 C992.2,655.9 993.3,662.0 995.1,665.7 C997.0,669.5 1000.1,673.7 1003.8,675.0 C1007.5,676.2 1012.3,673.9 1015.3,672.7 C1018.4,671.4 1021.8,668.5 1023.4,666.9 C1025.0,665.3 1026.9,661.1 1026.9,661.1" fill="none" stroke="#231f20" stroke-width="2.2" stroke-linejoin="round"/>
<path d="M988.8,626.5 C988.8,626.5 988.6,647.6 989.0,653.1 C989.5,658.5 990.3,665.0 992.3,669.2 C994.2,673.4 998.8,678.1 1001.5,679.6 C1004.2,681.1 1007.8,680.7 1010.7,679.6 C1013.6,678.5 1017.9,674.7 1019.9,672.7 C1022.0,670.7 1025.1,665.7 1025.1,665.7" fill="none" stroke="#231f20" stroke-width="2.2" stroke-linejoin="round"/>
<path d="M985.3,631.1 C985.3,631.1 985.6,649.6 985.9,655.4 C986.2,661.2 986.9,668.0 987.6,672.7 C988.4,677.4 990.3,684.1 991.1,686.5 C991.9,688.9 993.1,692.1 994.6,693.4 C996.0,694.7 998.4,694.2 1000.3,694.6 C1002.3,695.0 1004.2,696.3 1006.1,695.7 C1008.0,695.1 1009.5,692.9 1010.7,691.1 C1012.0,689.3 1013.0,686.5 1014.2,684.2 C1015.3,681.9 1016.3,679.5 1017.6,677.3 C1018.9,675.0 1022.2,670.4 1022.2,670.4" fill="none" stroke="#231f20" stroke-width="2.2" stroke-linejoin="round"/>
<path d="M979.6,632.3 C979.6,632.3 980.4,643.8 980.7,649.6 C981.1,655.4 981.8,665.0 981.9,672.7 C982.0,680.4 981.6,688.0 981.3,695.7 C981.0,703.4 980.5,711.1 980.2,718.8 C979.8,726.5 979.1,734.2 979.0,741.9 C978.9,749.5 979.3,757.2 979.6,764.9 C979.9,772.6 980.3,780.3 980.7,788.0 C981.1,795.7 981.6,803.4 981.9,811.1 C982.2,818.7 982.7,834.1 983.0,845.7 C983.4,857.2 984.0,880.3 984.0,880.3" fill="none" stroke="#231f20" stroke-width="2.2" stroke-linejoin="round"/>
<path d="M962.3,633.5 C962.3,633.5 963.1,640.6 964.6,642.7 C966.1,644.8 969.5,644.5 971.5,646.1 C973.5,647.8 976.0,650.3 977.3,653.1 C978.5,655.8 979.6,663.4 979.6,663.4" fill="none" stroke="#231f20" stroke-width="2.2" stroke-linejoin="round"/>
<path d="M1039.5,661.1 C1039.5,661.1 1037.0,667.3 1036.1,670.4 C1035.1,673.4 1034.2,676.4 1033.8,679.6 C1033.3,682.7 1033.2,686.5 1033.2,690.0 C1033.2,693.4 1033.5,698.8 1033.8,702.6 C1034.1,706.5 1034.5,710.3 1034.9,714.2 C1035.4,718.0 1036.0,721.9 1036.7,725.7 C1037.3,729.5 1038.2,733.8 1039.0,737.2 C1039.7,740.7 1040.6,744.1 1041.3,747.6 C1041.9,751.1 1042.6,755.3 1043.0,759.2 C1043.4,763.0 1043.7,766.8 1043.6,770.7 C1043.5,774.5 1043.0,778.4 1042.4,782.2 C1041.9,786.0 1040.8,789.9 1040.1,793.8 C1039.5,797.6 1038.9,801.5 1038.4,805.3 C1037.9,809.1 1037.5,813.0 1037.2,816.8 C1037.0,820.7 1036.7,824.5 1036.7,828.4 C1036.7,832.2 1037.1,844.1 1037.2,845.7 C1037.3,847.2 1037.9,848.7 1038.2,850.3 C1038.5,851.8 1040.4,863.0 1041.9,869.3 C1043.3,875.6 1045.3,883.3 1046.7,888.3 C1048.1,893.4 1050.9,901.8 1051.5,903.3 C1052.2,904.8 1053.5,907.0 1055.1,906.8 C1056.8,906.6 1058.6,904.0 1060.0,902.2 C1061.3,900.4 1063.4,896.5 1064.8,893.5 C1066.2,890.5 1067.2,885.9 1068.4,883.7 C1069.6,881.5 1071.1,879.3 1073.2,877.9 C1075.3,876.5 1079.5,874.8 1082.9,873.9 C1086.3,873.1 1096.1,872.2 1096.1,872.2" fill="none" stroke="#231f20" stroke-width="2.2" stroke-linejoin="round"/>
<path d="M1053.4,658.8 C1053.4,658.8 1049.3,660.0 1047.6,661.1 C1045.9,662.3 1044.0,663.8 1043.0,665.7 C1042.0,667.7 1040.7,671.8 1040.1,675.0 C1039.5,678.1 1039.2,682.7 1039.0,686.5 C1038.8,690.3 1038.8,694.2 1039.0,698.0 C1039.2,701.9 1039.6,705.7 1040.1,709.6 C1040.6,713.4 1041.1,717.3 1041.9,721.1 C1042.6,724.9 1044.0,729.6 1044.7,732.6 C1045.5,735.7 1046.4,738.7 1047.0,741.9 C1047.6,745.0 1048.4,749.6 1048.8,753.4 C1049.2,757.2 1049.4,761.1 1049.3,764.9 C1049.3,768.8 1048.8,772.6 1048.2,776.5 C1047.6,780.3 1046.6,784.2 1045.9,788.0 C1045.2,791.8 1044.5,795.7 1044.2,799.5 C1043.8,803.4 1043.6,807.2 1043.6,811.1 C1043.6,814.9 1043.8,818.8 1044.2,822.6 C1044.5,826.4 1045.3,830.3 1045.9,834.1 C1046.5,838.0 1047.3,844.2 1047.6,845.7 C1047.9,847.2 1048.3,848.7 1049.0,850.0 C1049.7,851.4 1051.6,853.9 1052.6,854.8 C1053.6,855.6 1055.0,856.4 1056.3,856.0 C1057.5,855.6 1059.2,854.0 1060.0,852.5 C1060.7,850.9 1061.1,848.0 1061.5,845.7 C1061.8,843.4 1062.2,838.0 1062.6,834.1 C1063.1,830.3 1064.1,822.6 1064.9,816.8 C1065.7,811.1 1066.8,803.4 1067.2,799.5 C1067.6,795.7 1067.5,791.1 1067.8,788.0 C1068.1,784.9 1069.5,778.8 1069.5,778.8 C1069.5,778.8 1072.2,780.8 1073.0,782.2 C1073.8,783.6 1075.4,787.6 1076.5,790.3 C1077.5,793.0 1078.6,796.5 1079.9,799.5 C1081.2,802.5 1082.9,806.2 1084.5,808.7 C1086.1,811.3 1088.1,813.7 1090.3,815.7 C1092.5,817.6 1097.8,820.3 1097.8,820.3" fill="none" stroke="#231f20" stroke-width="2.2" stroke-linejoin="round"/>
<path d="M1061.5,655.4 C1061.5,655.4 1058.7,657.4 1058.0,658.8 C1057.3,660.3 1056.4,663.4 1056.3,665.7 C1056.1,668.1 1056.3,672.5 1056.8,675.0 C1057.4,677.4 1058.8,679.6 1059.7,681.9 C1060.7,684.2 1062.7,686.9 1062.6,688.8 C1062.5,690.7 1060.8,692.5 1059.2,693.4 C1057.5,694.4 1053.9,693.9 1052.2,694.6 C1050.6,695.3 1049.0,696.5 1048.2,698.0 C1047.4,699.6 1046.6,703.4 1046.5,706.1 C1046.3,708.9 1046.6,712.3 1047.0,715.3 C1047.5,718.4 1048.5,721.8 1049.3,724.6 C1050.2,727.3 1051.3,730.3 1052.2,732.6 C1053.1,735.0 1054.4,737.2 1055.1,739.6 C1055.8,741.9 1056.8,744.9 1056.8,747.6 C1056.9,750.4 1056.4,755.4 1055.7,759.2 C1055.0,763.0 1053.7,766.9 1052.8,770.7 C1051.9,774.5 1051.0,778.4 1050.5,782.2 C1050.0,786.0 1049.8,789.9 1049.9,793.8 C1050.0,797.6 1050.6,801.5 1051.1,805.3 C1051.6,809.1 1052.3,813.0 1052.8,816.8 C1053.3,820.7 1053.7,824.5 1054.0,828.4 C1054.2,832.2 1054.5,844.5 1054.5,844.5" fill="none" stroke="#231f20" stroke-width="2.2" stroke-linejoin="round"/>
<path d="M1075.3,749.9 C1075.3,749.9 1072.9,743.6 1071.8,741.9 C1070.8,740.1 1068.9,738.1 1067.8,737.2 C1066.7,736.4 1065.1,735.6 1063.8,736.1 C1062.5,736.6 1059.2,740.7 1059.2,740.7 C1059.2,740.7 1056.2,736.2 1055.1,733.8 C1054.1,731.3 1052.8,727.2 1052.2,724.6 C1051.7,721.9 1051.3,718.6 1051.7,716.5 C1052.0,714.4 1053.0,712.1 1054.5,710.7 C1056.1,709.3 1058.3,707.8 1060.3,708.4 C1062.3,709.0 1064.8,712.7 1066.1,714.2 C1067.3,715.6 1068.2,718.4 1069.5,718.8 C1070.8,719.2 1072.1,717.5 1073.0,716.5 C1073.9,715.4 1076.2,711.6 1077.6,709.6 C1079.1,707.6 1080.5,705.5 1082.2,703.8 C1084.0,702.1 1086.6,699.6 1089.1,698.0 C1091.7,696.5 1097.8,694.6 1097.8,694.6" fill="none" stroke="#231f20" stroke-width="2.2" stroke-linejoin="round"/>
<path d="M1097.8,705.0 C1097.8,705.0 1093.4,706.1 1091.4,707.3 C1089.5,708.4 1086.6,710.8 1084.5,713.0 C1082.5,715.2 1080.2,718.2 1078.8,721.1 C1077.3,724.0 1076.1,727.2 1075.9,730.3 C1075.7,733.4 1076.5,736.6 1077.6,739.6 C1078.7,742.5 1080.9,745.6 1082.2,747.6 C1083.6,749.7 1086.8,753.4 1086.8,753.4" fill="none" stroke="#231f20" stroke-width="2.2" stroke-linejoin="round"/>
<path d="M1097.8,716.5 C1097.8,716.5 1094.0,718.4 1092.6,719.9 C1091.2,721.5 1089.1,724.4 1088.0,726.9 C1086.8,729.4 1085.8,732.2 1085.7,734.9 C1085.6,737.7 1086.5,740.8 1087.4,743.0 C1088.3,745.2 1089.8,747.1 1091.4,748.8 C1093.1,750.4 1097.8,753.4 1097.8,753.4" fill="none" stroke="#231f20" stroke-width="2.2" stroke-linejoin="round"/>
<path d="M1097.8,730.3 C1097.8,730.3 1095.5,732.4 1094.9,733.8 C1094.3,735.2 1093.2,737.7 1093.7,739.6 C1094.3,741.4 1097.8,744.2 1097.8,744.2" fill="none" stroke="#231f20" stroke-width="2.2" stroke-linejoin="round"/>
<path d="M1097.8,684.2 C1097.8,684.2 1092.7,687.1 1090.3,688.8 C1087.9,690.5 1085.4,692.7 1083.4,694.6 C1081.4,696.4 1079.4,698.9 1077.6,700.3 C1075.9,701.7 1073.8,703.8 1071.8,703.8 C1069.9,703.8 1068.5,701.8 1067.2,700.3 C1066.0,698.9 1064.0,696.6 1063.8,694.6 C1063.6,692.5 1065.0,690.1 1066.1,688.8 C1067.2,687.5 1069.3,687.6 1070.7,686.5 C1072.0,685.4 1075.3,681.9 1077.6,679.6 C1079.9,677.3 1082.3,674.7 1084.5,672.7 C1086.7,670.6 1089.5,668.3 1091.4,666.9 C1093.4,665.5 1097.8,663.4 1097.8,663.4" fill="none" stroke="#231f20" stroke-width="2.2" stroke-linejoin="round"/>
<path d="M1097.8,675.0 C1097.8,675.0 1093.4,677.9 1091.4,679.6 C1089.5,681.3 1087.6,683.4 1085.7,685.3 C1083.8,687.3 1081.4,689.6 1079.9,691.1 C1078.4,692.7 1075.3,695.7 1075.3,695.7" fill="none" stroke="#231f20" stroke-width="2.2" stroke-linejoin="round"/>
<path d="M1081.1,663.4 C1081.1,663.4 1084.8,660.3 1086.8,658.8 C1088.8,657.4 1092.5,654.9 1093.7,654.2 C1095.0,653.6 1097.8,653.1 1097.8,653.1" fill="none" stroke="#231f20" stroke-width="2.2" stroke-linejoin="round"/>
<path d="M1066.1,851.4 C1066.1,851.4 1068.7,846.9 1069.5,844.5 C1070.3,842.1 1071.1,837.2 1071.8,834.1 C1072.6,831.0 1073.0,826.6 1074.1,824.9 C1075.3,823.2 1077.8,822.8 1079.9,822.6 C1082.0,822.4 1084.5,823.4 1086.8,823.7 C1089.1,824.1 1092.4,824.7 1093.7,824.9 C1095.1,825.1 1097.8,825.1 1097.8,825.1" fill="none" stroke="#231f20" stroke-width="2.2" stroke-linejoin="round"/>
<path d="M1097.8,771.8 C1097.8,771.8 1094.9,769.7 1093.7,768.4 C1092.6,767.0 1090.5,763.2 1089.1,761.5 C1087.8,759.8 1084.5,756.9 1084.5,756.9" fill="none" stroke="#231f20" stroke-width="2.2" stroke-linejoin="round"/>
<path d="M1002.1,718.8 C1002.1,718.8 1004.8,723.5 1005.5,725.7 C1006.3,727.9 1006.8,730.3 1006.7,732.6 C1006.6,735.0 1005.5,739.5 1004.9,741.9 C1004.4,744.2 1002.6,748.8 1002.6,748.8 C1002.6,748.8 1001.0,742.6 1000.3,739.6 C999.7,736.5 998.7,732.7 998.6,730.3 C998.5,728.0 999.3,725.1 999.8,723.4 C1000.3,721.8 1002.1,718.8 1002.1,718.8Z" fill="none" stroke="#231f20" stroke-width="2.2" stroke-linejoin="round"/>
<path d="M225.0,620.0 L256.4,620.0 L256.4,676.0 L261.2,676.0 L261.2,951.5 L264.9,951.5 L264.9,1125.5 L269.7,1125.5 L269.7,1142.0 L225.0,1142.0Z" fill="url(#darkpat)"/>
<text x="358.4" y="700.8" font-size="17.3" text-anchor="start" font-weight="normal">-0.01</text>
<text x="444.4" y="696.7" font-size="17.3" text-anchor="start" font-weight="normal">0.01</text>
<text x="513.0" y="645.9" font-size="17.3" text-anchor="start" font-weight="normal">0.02</text>
<text x="611.1" y="644.5" font-size="17.3" text-anchor="start" font-weight="normal">0.04</text>
<text x="584.5" y="690.6" font-size="17.3" text-anchor="start" font-weight="normal">0.03</text>
<text x="571.3" y="761.9" font-size="17.3" text-anchor="start" font-weight="normal">0.03</text>
<text x="638.7" y="670.1" font-size="17.3" text-anchor="start" font-weight="normal">0.02</text>
<text x="688.5" y="685.1" font-size="17.3" text-anchor="start" font-weight="normal">0.03</text>
<text x="711.2" y="659.0" font-size="17.3" text-anchor="start" font-weight="normal">0.02</text>
<text x="700.6" y="809.0" font-size="17.3" text-anchor="start" font-weight="normal">0.01</text>
<text x="763.4" y="820.4" font-size="17.3" text-anchor="start" font-weight="normal">0.02</text>
<text x="869.7" y="658.0" font-size="17.3" text-anchor="start" font-weight="normal">0.01</text>
<text x="922.2" y="641.1" font-size="17.3" text-anchor="start" font-weight="normal">0.01</text>
<text x="1056.8" y="766.0" font-size="17.3" text-anchor="start" font-weight="normal">0.03</text>
<text x="688.5" y="1059.7" font-size="17.3" text-anchor="start" font-weight="normal">0.01</text>
<text x="839.3" y="992.1" font-size="17.3" text-anchor="start" font-weight="normal">0.01</text>
</g>
<rect x="270.5" y="1082.0" width="196.0" height="36.5" fill="#fff"/>
<text x="276.5" y="1113.0" font-size="36.3" text-anchor="start" font-weight="bold" fill="#0d0a0b" stroke="#0d0a0b" stroke-width="0.5">(c) Atlantic</text>
<line x1="220.79999999999998" y1="626.2" x2="1107.1" y2="626.2" stroke="#231f20" stroke-width="5.2"/>
<line x1="220.79999999999998" y1="1136.6" x2="1107.1" y2="1136.6" stroke="#231f20" stroke-width="5.2"/>
<line x1="231.1" y1="626.2" x2="231.1" y2="1136.6" stroke="#231f20" stroke-width="4"/>
<line x1="1097.6" y1="626.2" x2="1097.6" y2="1136.6" stroke="#231f20" stroke-width="4"/>
<line x1="253.3" y1="616.1" x2="253.3" y2="626.2" stroke="#231f20" stroke-width="5.2"/>
<line x1="253.3" y1="1136.6" x2="253.3" y2="1146.6999999999998" stroke="#231f20" stroke-width="5.2"/>
<text x="243.8" y="1188.0" font-size="36" text-anchor="middle" font-weight="normal">–80</text>
<line x1="303.1" y1="620.2" x2="303.1" y2="626.2" stroke="#231f20" stroke-width="4.2"/>
<line x1="303.1" y1="1136.6" x2="303.1" y2="1142.6" stroke="#231f20" stroke-width="4.2"/>
<line x1="352.9" y1="616.1" x2="352.9" y2="626.2" stroke="#231f20" stroke-width="5.2"/>
<line x1="352.9" y1="1136.6" x2="352.9" y2="1146.6999999999998" stroke="#231f20" stroke-width="5.2"/>
<text x="343.4" y="1188.0" font-size="36" text-anchor="middle" font-weight="normal">–60</text>
<line x1="402.6" y1="620.2" x2="402.6" y2="626.2" stroke="#231f20" stroke-width="4.2"/>
<line x1="402.6" y1="1136.6" x2="402.6" y2="1142.6" stroke="#231f20" stroke-width="4.2"/>
<line x1="452.4" y1="616.1" x2="452.4" y2="626.2" stroke="#231f20" stroke-width="5.2"/>
<line x1="452.4" y1="1136.6" x2="452.4" y2="1146.6999999999998" stroke="#231f20" stroke-width="5.2"/>
<text x="442.9" y="1188.0" font-size="36" text-anchor="middle" font-weight="normal">–40</text>
<line x1="502.2" y1="620.2" x2="502.2" y2="626.2" stroke="#231f20" stroke-width="4.2"/>
<line x1="502.2" y1="1136.6" x2="502.2" y2="1142.6" stroke="#231f20" stroke-width="4.2"/>
<line x1="552.0" y1="616.1" x2="552.0" y2="626.2" stroke="#231f20" stroke-width="5.2"/>
<line x1="552.0" y1="1136.6" x2="552.0" y2="1146.6999999999998" stroke="#231f20" stroke-width="5.2"/>
<text x="542.5" y="1188.0" font-size="36" text-anchor="middle" font-weight="normal">–20</text>
<line x1="601.8" y1="620.2" x2="601.8" y2="626.2" stroke="#231f20" stroke-width="4.2"/>
<line x1="601.8" y1="1136.6" x2="601.8" y2="1142.6" stroke="#231f20" stroke-width="4.2"/>
<line x1="651.6" y1="616.1" x2="651.6" y2="626.2" stroke="#231f20" stroke-width="5.2"/>
<line x1="651.6" y1="1136.6" x2="651.6" y2="1146.6999999999998" stroke="#231f20" stroke-width="5.2"/>
<text x="652.1" y="1188.0" font-size="36" text-anchor="middle" font-weight="normal">0</text>
<line x1="701.4" y1="620.2" x2="701.4" y2="626.2" stroke="#231f20" stroke-width="4.2"/>
<line x1="701.4" y1="1136.6" x2="701.4" y2="1142.6" stroke="#231f20" stroke-width="4.2"/>
<line x1="751.2" y1="616.1" x2="751.2" y2="626.2" stroke="#231f20" stroke-width="5.2"/>
<line x1="751.2" y1="1136.6" x2="751.2" y2="1146.6999999999998" stroke="#231f20" stroke-width="5.2"/>
<text x="751.7" y="1188.0" font-size="36" text-anchor="middle" font-weight="normal">20</text>
<line x1="801.0" y1="620.2" x2="801.0" y2="626.2" stroke="#231f20" stroke-width="4.2"/>
<line x1="801.0" y1="1136.6" x2="801.0" y2="1142.6" stroke="#231f20" stroke-width="4.2"/>
<line x1="850.8" y1="616.1" x2="850.8" y2="626.2" stroke="#231f20" stroke-width="5.2"/>
<line x1="850.8" y1="1136.6" x2="850.8" y2="1146.6999999999998" stroke="#231f20" stroke-width="5.2"/>
<text x="851.3" y="1188.0" font-size="36" text-anchor="middle" font-weight="normal">40</text>
<line x1="900.6" y1="620.2" x2="900.6" y2="626.2" stroke="#231f20" stroke-width="4.2"/>
<line x1="900.6" y1="1136.6" x2="900.6" y2="1142.6" stroke="#231f20" stroke-width="4.2"/>
<line x1="950.3" y1="616.1" x2="950.3" y2="626.2" stroke="#231f20" stroke-width="5.2"/>
<line x1="950.3" y1="1136.6" x2="950.3" y2="1146.6999999999998" stroke="#231f20" stroke-width="5.2"/>
<text x="950.8" y="1188.0" font-size="36" text-anchor="middle" font-weight="normal">60</text>
<line x1="1000.1" y1="620.2" x2="1000.1" y2="626.2" stroke="#231f20" stroke-width="4.2"/>
<line x1="1000.1" y1="1136.6" x2="1000.1" y2="1142.6" stroke="#231f20" stroke-width="4.2"/>
<line x1="1049.9" y1="616.1" x2="1049.9" y2="626.2" stroke="#231f20" stroke-width="5.2"/>
<line x1="1049.9" y1="1136.6" x2="1049.9" y2="1146.6999999999998" stroke="#231f20" stroke-width="5.2"/>
<text x="1050.4" y="1188.0" font-size="36" text-anchor="middle" font-weight="normal">80</text>
<text x="208.6" y="636.9" font-size="36" text-anchor="end" font-weight="normal">0</text>
<line x1="225.7" y1="677.2" x2="231.1" y2="677.2" stroke="#231f20" stroke-width="4.6"/>
<line x1="1097.6" y1="677.2" x2="1103.0" y2="677.2" stroke="#231f20" stroke-width="4.6"/>
<line x1="220.79999999999998" y1="728.3" x2="231.1" y2="728.3" stroke="#231f20" stroke-width="5.2"/>
<line x1="1097.6" y1="728.3" x2="1107.1" y2="728.3" stroke="#231f20" stroke-width="5.2"/>
<text x="208.6" y="739.5" font-size="36" text-anchor="end" font-weight="normal">100</text>
<line x1="225.7" y1="779.3" x2="231.1" y2="779.3" stroke="#231f20" stroke-width="4.6"/>
<line x1="1097.6" y1="779.3" x2="1103.0" y2="779.3" stroke="#231f20" stroke-width="4.6"/>
<line x1="220.79999999999998" y1="830.4" x2="231.1" y2="830.4" stroke="#231f20" stroke-width="5.2"/>
<line x1="1097.6" y1="830.4" x2="1107.1" y2="830.4" stroke="#231f20" stroke-width="5.2"/>
<text x="208.6" y="842.1" font-size="36" text-anchor="end" font-weight="normal">200</text>
<line x1="225.7" y1="881.4" x2="231.1" y2="881.4" stroke="#231f20" stroke-width="4.6"/>
<line x1="1097.6" y1="881.4" x2="1103.0" y2="881.4" stroke="#231f20" stroke-width="4.6"/>
<line x1="220.79999999999998" y1="932.4" x2="231.1" y2="932.4" stroke="#231f20" stroke-width="5.2"/>
<line x1="1097.6" y1="932.4" x2="1107.1" y2="932.4" stroke="#231f20" stroke-width="5.2"/>
<text x="208.6" y="944.6" font-size="36" text-anchor="end" font-weight="normal">300</text>
<line x1="225.7" y1="983.5" x2="231.1" y2="983.5" stroke="#231f20" stroke-width="4.6"/>
<line x1="1097.6" y1="983.5" x2="1103.0" y2="983.5" stroke="#231f20" stroke-width="4.6"/>
<line x1="220.79999999999998" y1="1034.5" x2="231.1" y2="1034.5" stroke="#231f20" stroke-width="5.2"/>
<line x1="1097.6" y1="1034.5" x2="1107.1" y2="1034.5" stroke="#231f20" stroke-width="5.2"/>
<text x="208.6" y="1047.2" font-size="36" text-anchor="end" font-weight="normal">400</text>
<line x1="225.7" y1="1085.6" x2="231.1" y2="1085.6" stroke="#231f20" stroke-width="4.6"/>
<line x1="1097.6" y1="1085.6" x2="1103.0" y2="1085.6" stroke="#231f20" stroke-width="4.6"/>
<text x="208.6" y="1149.8" font-size="36" text-anchor="end" font-weight="normal">500</text>
</g>
<g id="panel-d">
<clipPath id="clip-d"><rect x="1296.1" y="626.2" width="867.9000000000001" height="510.39999999999986"/></clipPath>
<g clip-path="url(#clip-d)">
<path d="M1299.7,622.2 C1313.4,574.2 1447.5,622.2 1449.5,622.2 C1451.5,622.3 1448.5,626.5 1449.5,628.3 C1450.4,630.1 1453.7,634.0 1456.7,635.5 C1459.8,637.1 1466.2,634.8 1468.8,638.0 C1471.5,641.1 1467.8,647.9 1470.0,651.2 C1472.2,654.5 1478.2,653.2 1480.9,656.1 C1483.6,659.0 1484.4,664.0 1485.7,668.2 C1487.0,672.3 1489.0,681.8 1490.6,687.5 C1492.1,693.2 1493.9,699.5 1495.4,704.4 C1496.9,709.3 1499.2,716.0 1500.2,718.9 C1501.3,721.8 1504.6,724.4 1503.8,727.4 C1503.1,730.3 1498.2,734.6 1495.4,738.2 C1492.5,741.8 1487.2,748.6 1485.7,750.3 C1484.2,752.0 1480.9,755.1 1480.9,755.1 C1480.9,755.1 1477.5,748.8 1476.1,745.5 C1474.6,742.2 1470.0,731.0 1470.0,731.0 C1470.0,731.0 1467.6,735.8 1467.6,735.8 C1467.6,735.8 1464.3,731.2 1464.0,728.6 C1463.6,725.9 1465.1,720.5 1465.2,716.5 C1465.3,712.5 1464.9,706.6 1464.5,704.4 C1464.0,702.2 1461.6,698.4 1461.6,698.4 C1461.6,698.4 1458.4,702.1 1457.9,704.4 C1457.5,706.7 1457.0,717.3 1456.7,723.7 C1456.5,730.2 1456.2,739.8 1456.2,747.9 C1456.2,756.0 1456.5,764.8 1456.7,772.1 C1457.0,779.3 1457.2,789.5 1457.9,793.8 C1458.7,798.1 1461.5,804.2 1462.8,805.9 C1464.1,807.6 1467.0,809.5 1468.8,808.3 C1470.6,807.1 1472.4,802.0 1473.6,798.6 C1474.8,795.2 1476.1,789.0 1477.3,784.1 C1478.5,779.3 1480.3,771.4 1480.9,769.6 C1481.4,767.9 1483.3,764.8 1483.3,764.8 C1483.3,764.8 1485.1,769.6 1485.2,772.1 C1485.3,774.6 1484.8,788.2 1484.5,796.2 C1484.2,804.3 1483.7,816.3 1483.3,820.4 C1482.9,824.5 1482.4,829.7 1480.9,832.5 C1479.4,835.2 1476.5,837.1 1473.6,838.5 C1470.8,839.9 1466.8,839.5 1464.0,840.9 C1461.2,842.3 1458.6,844.5 1456.7,847.0 C1454.8,849.5 1453.2,853.3 1451.9,856.6 C1450.6,860.0 1448.5,867.0 1447.1,871.1 C1445.6,875.2 1443.5,881.9 1442.2,883.2 C1441.0,884.5 1438.4,882.3 1437.4,880.8 C1436.4,879.3 1433.7,872.9 1432.6,868.7 C1431.4,864.5 1429.1,850.3 1427.7,844.5 C1426.4,838.8 1424.4,833.3 1422.9,827.6 C1421.4,822.0 1419.7,814.7 1418.1,808.3 C1416.5,801.9 1414.8,795.4 1413.2,789.0 C1411.6,782.5 1409.8,774.5 1408.4,769.6 C1407.0,764.7 1405.2,758.1 1403.6,755.1 C1401.9,752.2 1398.6,748.5 1396.3,747.9 C1394.1,747.3 1392.1,750.1 1390.3,751.5 C1388.4,753.0 1385.8,755.2 1384.2,757.6 C1382.7,759.9 1379.7,765.4 1378.2,769.6 C1376.7,773.9 1375.2,782.6 1373.4,789.0 C1371.6,795.4 1369.1,801.9 1367.3,808.3 C1365.5,814.7 1364.1,821.2 1362.5,827.6 C1360.9,834.1 1359.1,840.5 1357.7,847.0 C1356.2,853.4 1354.2,861.4 1353.3,868.7 C1352.4,876.0 1352.1,884.8 1351.9,892.9 C1351.6,900.9 1351.8,912.6 1351.6,922.5 C1351.4,932.4 1350.8,954.7 1350.4,970.8 C1350.0,986.9 1349.6,1003.0 1349.2,1019.1 C1348.8,1035.2 1348.3,1051.4 1348.0,1067.5 C1347.7,1083.6 1347.6,1105.3 1347.5,1115.8 C1347.4,1126.3 1356.3,1141.5 1347.5,1147.2 C1338.8,1152.9 1301.1,1163.1 1299.7,1147.2 C1298.2,1131.3 1286.0,670.3 1299.7,622.2Z" fill="url(#cyanpat)" stroke="#231f20" stroke-width="2.2" stroke-dasharray="6.2 4" stroke-linejoin="round"/>
<path d="M1375.8,633.1 C1375.1,635.0 1374.2,639.3 1374.6,641.6 C1375.0,643.9 1376.2,646.3 1378.2,647.6 C1380.1,648.9 1383.1,649.2 1385.4,648.8 C1387.8,648.4 1389.8,646.9 1391.5,645.2 C1393.1,643.5 1395.9,640.8 1396.3,638.0 C1396.8,635.1 1395.6,631.4 1393.9,629.5 C1392.2,627.6 1389.1,627.3 1386.7,627.1 C1384.2,626.9 1381.2,627.3 1379.4,628.3 C1377.6,629.3 1376.5,631.2 1375.8,633.1Z" fill="#fff" stroke="#231f20" stroke-width="2.2" stroke-dasharray="6.2 4" stroke-linejoin="round"/>
<path d="M1480.9,924.9 C1482.8,923.2 1486.0,925.9 1488.1,927.3 C1490.2,928.8 1492.5,930.8 1493.0,933.4 C1493.4,935.9 1493.1,945.5 1492.5,951.5 C1491.9,957.5 1490.5,965.9 1489.3,970.8 C1488.2,975.8 1485.6,982.1 1484.5,985.3 C1483.4,988.6 1480.9,995.0 1480.9,995.0 C1480.9,995.0 1480.1,985.3 1479.7,980.5 C1479.3,975.6 1478.4,966.0 1478.0,958.7 C1477.6,951.5 1476.9,941.2 1477.3,937.0 C1477.6,932.8 1479.0,926.6 1480.9,924.9Z" fill="url(#cyanpat)" stroke="#231f20" stroke-width="2.2" stroke-dasharray="6.2 4" stroke-linejoin="round"/>
<path d="M1542.5,622.2 C1534.1,627.0 1542.3,643.2 1542.5,651.2 C1542.7,659.3 1543.1,667.4 1543.7,675.4 C1544.3,683.4 1545.0,693.0 1546.1,699.6 C1547.2,706.1 1549.6,712.4 1551.0,718.9 C1552.3,725.4 1553.4,734.2 1554.6,740.6 C1555.7,747.1 1556.4,753.7 1558.2,760.0 C1560.0,766.3 1562.9,772.9 1565.5,779.3 C1568.0,785.7 1571.3,792.3 1573.9,798.6 C1576.5,805.0 1579.0,811.6 1581.2,818.0 C1583.4,824.4 1585.4,830.9 1587.2,837.3 C1589.0,843.7 1590.4,851.6 1592.0,856.6 C1593.6,861.6 1596.6,868.7 1598.1,871.1 C1599.5,873.6 1601.5,876.7 1604.1,877.2 C1606.8,877.6 1608.8,874.5 1611.4,873.5 C1613.9,872.6 1617.9,872.3 1621.0,871.1 C1624.1,870.0 1627.8,868.5 1630.7,866.3 C1633.6,864.1 1637.1,859.8 1640.4,856.6 C1643.6,853.4 1648.6,848.8 1652.4,844.5 C1656.3,840.3 1661.0,834.7 1664.5,830.0 C1668.0,825.4 1671.5,820.2 1674.2,815.6 C1676.9,810.9 1679.5,806.1 1681.4,801.1 C1683.4,796.0 1684.7,789.8 1686.3,784.1 C1687.9,778.5 1689.7,772.8 1691.1,767.2 C1692.5,761.6 1694.3,755.9 1694.7,750.3 C1695.1,744.7 1694.4,737.6 1693.5,733.4 C1692.6,729.2 1691.1,724.3 1688.7,721.3 C1686.3,718.3 1682.6,716.7 1679.0,715.3 C1675.5,713.9 1671.0,713.6 1666.9,712.9 C1662.9,712.1 1657.3,711.2 1652.4,710.4 C1647.6,709.6 1642.0,709.0 1637.9,708.0 C1633.8,707.1 1629.4,706.6 1625.9,704.4 C1622.3,702.2 1618.8,698.5 1616.2,694.7 C1613.6,691.0 1610.9,685.3 1608.9,680.2 C1607.0,675.2 1605.6,668.2 1604.1,663.3 C1602.6,658.5 1600.6,652.8 1599.3,648.8 C1598.0,644.8 1596.4,640.9 1595.7,636.7 C1594.9,632.6 1599.1,623.5 1594.5,622.2 C1589.8,621.0 1550.9,617.5 1542.5,622.2Z" fill="url(#pinkpat)" stroke="#231f20" stroke-width="2.2" stroke-dasharray="6.2 4" stroke-linejoin="round"/>
<path d="M1612.6,622.2 C1607.1,623.6 1612.9,634.9 1613.8,639.2 C1614.7,643.4 1616.9,648.6 1618.6,651.2 C1620.4,653.9 1623.7,656.2 1625.9,657.3 C1628.1,658.4 1631.1,657.1 1633.1,658.5 C1635.1,659.9 1636.8,663.1 1637.9,665.7 C1639.1,668.4 1640.0,674.4 1641.6,677.8 C1643.1,681.3 1644.9,684.8 1647.6,687.5 C1650.3,690.2 1654.2,692.6 1657.3,693.5 C1660.3,694.5 1664.0,694.6 1666.9,693.5 C1669.9,692.5 1672.7,690.3 1674.2,687.5 C1675.7,684.7 1676.9,677.9 1677.8,673.0 C1678.8,668.1 1679.4,661.7 1680.2,656.1 C1681.0,650.4 1682.0,644.8 1682.6,639.2 C1683.2,633.5 1689.3,623.6 1683.9,622.2 C1678.4,620.9 1618.1,620.9 1612.6,622.2Z" fill="url(#cyanpat)" stroke="#231f20" stroke-width="2.2" stroke-dasharray="6.2 4" stroke-linejoin="round"/>
<path d="M1693.0,669.4 C1693.0,669.4 1695.2,673.3 1695.5,675.4 C1695.7,677.6 1694.7,685.1 1694.7,685.1 C1694.7,685.1 1692.5,682.0 1692.3,680.2 C1692.1,678.4 1693.0,669.4 1693.0,669.4Z" fill="url(#pinkpat)"/>
<path d="M1536.5,863.3 C1538.4,862.7 1541.7,863.0 1543.7,864.5 C1545.7,866.0 1549.2,870.6 1551.0,874.2 C1552.8,877.8 1555.0,885.4 1557.0,891.1 C1559.0,896.7 1561.2,902.3 1563.0,908.0 C1564.9,913.7 1568.5,923.9 1570.3,932.2 C1572.0,940.4 1572.9,949.9 1573.9,958.7 C1574.9,967.6 1575.4,978.0 1576.3,985.3 C1577.2,992.6 1578.5,1001.2 1580.0,1007.1 C1581.4,1012.9 1584.1,1020.0 1586.0,1024.0 C1587.9,1027.9 1590.2,1032.0 1593.2,1034.8 C1596.3,1037.7 1601.0,1041.1 1604.1,1040.9 C1607.3,1040.7 1608.6,1036.4 1610.2,1033.6 C1611.7,1030.9 1614.0,1023.9 1616.2,1019.1 C1618.4,1014.4 1621.2,1008.8 1623.4,1004.6 C1625.7,1000.5 1627.9,996.3 1630.7,992.6 C1633.5,988.8 1637.6,984.1 1640.4,981.7 C1643.1,979.2 1649.5,975.6 1649.5,975.6 C1649.5,975.6 1649.4,1004.6 1649.1,1019.1 C1648.8,1033.6 1648.3,1059.3 1647.6,1067.5 C1647.0,1075.6 1645.2,1083.7 1643.3,1091.6 C1641.3,1099.6 1638.0,1107.6 1636.0,1115.8 C1634.0,1124.0 1639.7,1144.1 1629.5,1147.2 C1619.2,1150.3 1547.8,1156.3 1531.6,1147.2 C1515.5,1138.1 1531.3,1107.7 1531.1,1091.6 C1531.0,1075.5 1530.7,1059.4 1530.4,1043.3 C1530.2,1027.2 1529.9,1011.1 1529.7,995.0 C1529.5,978.9 1529.3,958.7 1529.2,946.7 C1529.1,934.6 1529.0,920.1 1529.2,910.4 C1529.4,900.7 1530.0,885.9 1530.4,881.4 C1530.8,876.9 1532.2,870.0 1532.8,868.1 C1533.5,866.2 1534.5,863.9 1536.5,863.3Z" fill="url(#cyanpat)" stroke="#231f20" stroke-width="2.2" stroke-dasharray="6.2 4" stroke-linejoin="round"/>
<path d="M1699.6,813.1 C1699.6,813.1 1703.2,818.1 1704.4,820.4 C1705.6,822.7 1706.7,825.1 1707.0,827.6 C1707.4,830.2 1708.0,842.7 1708.0,844.5 C1708.1,846.4 1707.6,848.2 1707.5,850.0 C1707.4,851.8 1707.3,859.7 1706.8,864.5 C1706.3,869.3 1705.5,874.2 1704.4,879.0 C1703.3,883.8 1701.4,890.3 1699.6,895.9 C1697.8,901.5 1695.4,907.9 1693.5,912.8 C1691.6,917.7 1689.3,922.6 1687.5,927.3 C1685.7,932.1 1684.0,937.4 1682.6,941.8 C1681.3,946.2 1681.3,951.5 1679.0,955.1 C1676.8,958.8 1672.5,961.0 1669.4,963.6 C1666.2,966.1 1662.9,968.9 1659.7,970.8 C1656.5,972.8 1649.5,975.6 1649.5,975.6 C1649.5,975.6 1649.6,946.7 1650.0,934.6 C1650.5,922.5 1651.3,906.5 1652.4,898.3 C1653.6,890.1 1656.9,877.7 1658.5,874.2 C1660.1,870.6 1664.2,868.9 1666.9,866.2 C1669.7,863.5 1673.7,860.0 1676.6,856.5 C1679.5,853.0 1683.2,848.3 1685.1,844.5 C1686.9,840.8 1687.4,835.8 1688.7,832.5 C1690.0,829.1 1691.8,825.9 1693.5,822.8 C1695.3,819.7 1699.6,813.1 1699.6,813.1Z" fill="url(#cyanpat)" stroke="#231f20" stroke-width="2.2" stroke-dasharray="6.2 4" stroke-linejoin="round"/>
<path d="M1696.0,622.2 C1696.0,622.2 2007.7,622.2 2007.7,622.2 C2007.7,622.2 2004.9,627.4 2002.9,629.5 C2000.8,631.6 1996.2,631.5 1995.6,634.3 C1995.1,637.2 1999.4,638.9 2000.5,641.6 C2001.5,644.3 2002.5,649.6 2002.9,653.7 C2003.2,657.8 2003.1,663.3 2002.9,668.2 C2002.7,673.0 2002.2,678.6 2001.7,682.7 C2001.1,686.7 2000.2,691.4 1999.2,694.7 C1998.3,698.1 1997.1,702.3 1995.6,704.4 C1994.2,706.5 1992.0,708.4 1989.6,709.2 C1987.1,710.1 1983.6,709.0 1981.1,709.2 C1978.7,709.4 1976.1,709.3 1973.9,710.4 C1971.7,711.5 1968.4,713.9 1966.6,716.5 C1964.8,719.1 1961.6,726.2 1959.4,731.0 C1957.2,735.7 1955.4,740.6 1953.3,745.5 C1951.3,750.3 1949.1,755.2 1947.3,760.0 C1945.5,764.7 1943.9,769.7 1942.5,774.5 C1941.1,779.3 1939.7,784.1 1938.8,789.0 C1938.0,793.9 1937.2,802.7 1936.4,808.3 C1935.7,813.9 1934.8,819.6 1934.0,825.2 C1933.3,830.9 1932.0,842.6 1931.6,844.5 C1931.2,846.5 1929.5,848.0 1929.2,850.0 C1928.8,852.0 1927.6,864.5 1926.8,871.7 C1926.0,879.0 1925.2,886.3 1924.3,893.5 C1923.5,900.7 1922.2,909.6 1921.2,917.7 C1920.2,925.7 1919.4,933.8 1918.3,941.8 C1917.2,949.9 1915.8,957.9 1914.7,966.0 C1913.6,974.0 1912.6,982.1 1911.5,990.1 C1910.4,998.2 1909.1,1007.9 1908.2,1014.3 C1907.2,1020.8 1905.8,1030.3 1905.0,1033.6 C1904.2,1037.0 1903.1,1041.2 1901.4,1043.3 C1899.7,1045.4 1896.7,1047.4 1894.1,1046.9 C1891.6,1046.4 1889.9,1043.4 1889.3,1040.9 C1888.7,1038.4 1887.5,1026.4 1887.4,1019.1 C1887.2,1011.9 1887.9,995.0 1888.1,982.9 C1888.3,970.8 1888.8,958.7 1888.8,946.7 C1888.8,934.6 1888.5,920.1 1888.1,910.4 C1887.7,900.7 1887.1,888.1 1886.4,881.4 C1885.7,874.7 1884.3,867.1 1883.3,861.5 C1882.2,855.8 1880.9,849.1 1879.6,844.5 C1878.4,840.0 1875.9,833.3 1874.8,831.3 C1873.7,829.2 1872.0,826.7 1870.0,826.4 C1868.0,826.2 1866.1,828.3 1865.1,830.0 C1864.2,831.8 1861.4,840.6 1860.3,844.5 C1859.2,848.5 1859.1,854.2 1857.9,856.6 C1856.7,859.1 1853.2,859.7 1851.9,862.1 C1850.6,864.5 1848.8,872.0 1847.0,876.6 C1845.2,881.1 1843.1,886.1 1841.0,889.9 C1838.9,893.7 1835.8,898.4 1833.7,900.7 C1831.7,903.1 1829.4,906.5 1826.5,906.8 C1823.6,907.0 1821.6,903.7 1819.2,901.9 C1816.9,900.2 1814.4,897.9 1812.0,895.9 C1809.6,893.9 1804.7,889.9 1804.7,889.9 C1804.7,889.9 1802.5,895.4 1801.8,898.3 C1801.2,901.2 1799.6,911.2 1798.7,917.7 C1797.8,924.1 1797.2,931.3 1796.3,937.0 C1795.3,942.7 1793.7,950.5 1792.7,953.9 C1791.6,957.3 1789.1,962.5 1787.8,963.6 C1786.6,964.7 1783.9,963.7 1783.0,962.4 C1782.1,961.0 1779.3,953.6 1778.2,949.1 C1777.0,944.5 1775.7,936.2 1774.5,929.7 C1773.4,923.3 1772.2,916.8 1771.4,910.4 C1770.6,904.0 1770.0,896.7 1769.7,891.1 C1769.4,885.4 1769.6,877.4 1769.7,874.2 C1769.8,870.9 1769.8,866.7 1770.9,864.5 C1772.0,862.3 1774.5,860.4 1776.9,860.1 C1779.4,859.9 1782.1,861.7 1784.2,863.3 C1786.3,864.9 1789.6,869.2 1792.7,871.7 C1795.7,874.3 1799.0,878.5 1802.3,878.5 C1805.6,878.5 1807.7,874.4 1809.6,871.7 C1811.5,869.0 1813.8,863.8 1815.6,859.7 C1817.5,855.6 1822.1,846.0 1824.1,839.7 C1826.0,833.4 1826.5,826.8 1827.7,820.4 C1828.9,813.9 1830.2,806.7 1831.3,801.1 C1832.4,795.4 1833.8,789.0 1834.9,784.1 C1836.1,779.3 1837.9,774.6 1838.6,769.6 C1839.3,764.7 1839.7,756.8 1839.8,750.3 C1839.9,743.9 1839.3,737.4 1839.0,731.0 C1838.8,724.5 1838.5,716.5 1838.1,711.7 C1837.7,706.8 1836.9,700.5 1836.1,697.2 C1835.4,693.8 1834.0,689.6 1832.5,687.5 C1831.1,685.3 1828.6,684.2 1826.5,682.7 C1824.4,681.1 1821.9,678.8 1819.2,677.8 C1816.6,676.8 1813.6,676.0 1810.8,676.6 C1808.0,677.2 1805.0,679.6 1802.3,681.4 C1799.6,683.2 1796.2,686.7 1792.7,688.7 C1789.1,690.7 1784.6,692.9 1780.6,693.5 C1776.6,694.1 1772.5,691.9 1768.5,692.3 C1764.5,692.7 1760.2,694.2 1756.4,695.9 C1752.6,697.7 1747.4,702.0 1744.3,703.2 C1741.3,704.4 1737.9,704.0 1734.7,704.4 C1731.4,704.8 1728.2,705.5 1725.0,705.6 C1721.8,705.7 1718.0,706.4 1715.3,704.9 C1712.7,703.4 1711.2,700.1 1710.5,697.2 C1709.8,694.2 1708.8,682.7 1708.1,675.4 C1707.3,668.2 1707.5,659.1 1705.7,651.2 C1703.9,643.4 1696.0,622.2 1696.0,622.2Z" fill="url(#cyanpat)" stroke="#231f20" stroke-width="2.2" stroke-dasharray="6.2 4" stroke-linejoin="round"/>
<path d="M1725.0,772.1 C1726.7,771.0 1731.5,769.0 1734.7,768.4 C1737.8,767.8 1741.2,767.8 1744.3,768.4 C1747.5,769.0 1751.4,770.3 1754.0,772.1 C1756.6,773.8 1759.3,776.3 1760.0,779.3 C1760.8,782.4 1759.8,787.5 1758.8,791.4 C1757.8,795.3 1755.8,799.5 1754.0,803.5 C1752.2,807.4 1749.8,812.2 1748.0,815.6 C1746.1,818.9 1743.6,821.8 1741.9,825.2 C1740.2,828.6 1738.5,834.0 1737.1,837.3 C1735.6,840.6 1734.2,844.5 1732.2,847.0 C1730.3,849.5 1727.8,853.0 1725.0,853.0 C1722.2,853.0 1720.0,849.6 1719.0,847.0 C1717.9,844.3 1716.9,837.3 1716.5,832.5 C1716.1,827.6 1715.6,814.8 1715.8,808.3 C1716.0,801.8 1717.0,793.1 1717.8,789.0 C1718.5,784.8 1720.6,778.7 1721.4,776.9 C1722.2,775.0 1723.3,773.1 1725.0,772.1Z" fill="url(#cyanpat)" stroke="#231f20" stroke-width="2.2" stroke-dasharray="6.2 4" stroke-linejoin="round"/>
<path d="M1776.9,751.5 C1778.1,751.5 1780.7,752.7 1781.8,753.9 C1782.8,755.2 1783.5,757.2 1783.0,758.8 C1782.5,760.3 1781.0,761.9 1779.4,761.9 C1777.8,761.9 1776.1,760.2 1775.3,758.8 C1774.4,757.4 1774.3,755.0 1774.5,753.9 C1774.8,752.8 1775.8,751.5 1776.9,751.5Z" fill="url(#pinkpat)" stroke="#231f20" stroke-width="2.2" stroke-dasharray="6.2 4" stroke-linejoin="round"/>
<path d="M1969.0,735.8 C1971.2,734.8 1974.0,735.0 1976.3,735.8 C1978.6,736.6 1981.3,738.3 1982.3,740.6 C1983.3,743.0 1983.7,748.7 1983.5,752.7 C1983.4,756.8 1982.1,764.8 1981.1,769.6 C1980.2,774.5 1978.9,779.4 1977.5,784.1 C1976.1,788.9 1974.2,794.6 1972.7,798.6 C1971.2,802.7 1969.1,809.4 1967.8,810.7 C1966.6,812.0 1964.2,809.6 1963.0,808.3 C1961.8,807.0 1958.7,802.0 1957.0,798.6 C1955.3,795.2 1953.0,789.7 1952.1,786.6 C1951.3,783.4 1950.6,780.1 1950.9,776.9 C1951.3,773.7 1953.3,768.8 1954.5,764.8 C1955.8,760.8 1956.8,756.4 1958.2,752.7 C1959.5,749.0 1961.5,744.2 1963.0,741.9 C1964.5,739.5 1966.8,736.8 1969.0,735.8Z" fill="url(#pinkpat)" stroke="#231f20" stroke-width="2.2" stroke-dasharray="6.2 4" stroke-linejoin="round"/>
<path d="M2013.7,668.2 C2015.6,666.5 2018.7,666.1 2021.0,666.9 C2023.3,667.8 2025.8,670.4 2027.0,673.0 C2028.2,675.6 2028.6,680.3 2028.2,682.7 C2027.9,685.0 2026.6,687.4 2024.6,688.7 C2022.7,690.0 2019.6,690.8 2017.4,689.9 C2015.1,689.0 2013.5,686.2 2012.5,683.9 C2011.5,681.5 2011.1,677.9 2011.3,675.4 C2011.5,672.9 2011.9,669.8 2013.7,668.2Z" fill="url(#pinkpat)" stroke="#231f20" stroke-width="2.2" stroke-dasharray="6.2 4" stroke-linejoin="round"/>
<path d="M2012.5,738.2 C2012.5,738.2 2014.7,742.9 2015.0,745.5 C2015.2,748.0 2015.2,758.2 2015.0,760.0 C2014.7,761.8 2012.5,764.8 2012.5,764.8 C2012.5,764.8 2010.6,758.3 2010.1,755.1 C2009.6,752.0 2009.3,748.1 2009.6,745.5 C2010.0,742.9 2012.5,738.2 2012.5,738.2Z" fill="url(#pinkpat)" stroke="#231f20" stroke-width="2.2" stroke-dasharray="6.2 4" stroke-linejoin="round"/>
<path d="M2007.7,629.5 C2007.7,629.5 2012.5,627.9 2015.0,628.3 C2017.4,628.7 2020.7,630.0 2022.2,631.9 C2023.7,633.8 2024.1,637.0 2023.4,639.2 C2022.8,641.3 2020.9,644.0 2018.6,644.0 C2016.3,644.0 2014.1,641.2 2012.5,639.2 C2011.0,637.1 2007.7,629.5 2007.7,629.5Z" fill="url(#pinkpat)" stroke="#231f20" stroke-width="2.2" stroke-dasharray="6.2 4" stroke-linejoin="round"/>
<path d="M2021.0,871.1 C2021.0,871.1 2024.2,875.7 2024.6,878.4 C2025.1,881.0 2025.1,890.2 2024.6,892.9 C2024.2,895.5 2021.0,900.1 2021.0,900.1 C2021.0,900.1 2018.2,893.8 2017.9,890.5 C2017.5,887.1 2018.2,880.9 2018.6,878.4 C2019.0,875.9 2021.0,871.1 2021.0,871.1Z" fill="url(#pinkpat)" stroke="#231f20" stroke-width="2.2" stroke-dasharray="6.2 4" stroke-linejoin="round"/>
<path d="M2021.0,871.7 C2021.0,871.7 2024.2,874.6 2024.6,876.6 C2025.0,878.5 2025.1,886.4 2024.6,888.7 C2024.2,891.0 2021.0,894.7 2021.0,894.7 C2021.0,894.7 2018.8,889.2 2018.6,886.2 C2018.3,883.3 2019.0,878.3 2019.3,876.6 C2019.6,874.9 2021.0,871.7 2021.0,871.7Z" fill="url(#pinkpat)" stroke="#231f20" stroke-width="2.2" stroke-dasharray="6.2 4" stroke-linejoin="round"/>
<path d="M2018.6,769.6 C2018.6,769.6 2022.5,770.5 2023.4,772.1 C2024.3,773.6 2026.3,780.0 2026.6,784.1 C2026.8,788.3 2026.8,827.5 2026.6,832.5 C2026.3,837.4 2023.4,847.0 2023.4,847.0 C2023.4,847.0 2019.4,844.3 2018.6,842.1 C2017.8,840.0 2016.6,832.5 2016.2,827.6 C2015.8,822.7 2015.4,809.9 2015.4,803.5 C2015.4,797.0 2015.7,789.0 2016.2,784.1 C2016.6,779.3 2018.6,769.6 2018.6,769.6Z" fill="url(#cyanpat)" stroke="#231f20" stroke-width="2.2" stroke-dasharray="6.2 4" stroke-linejoin="round"/>
<path d="M2018.6,728.6 C2018.6,728.6 2022.9,729.2 2023.4,731.0 C2023.9,732.7 2024.8,743.9 2024.6,750.3 C2024.4,756.8 2022.2,769.6 2022.2,769.6 C2022.2,769.6 2019.1,763.4 2018.6,760.0 C2018.1,756.6 2017.9,744.7 2017.9,740.6 C2017.9,736.6 2018.6,728.6 2018.6,728.6Z" fill="url(#cyanpat)" stroke="#231f20" stroke-width="2.2" stroke-dasharray="6.2 4" stroke-linejoin="round"/>
<path d="M2002.9,929.7 L2006.5,932.2 L2010.1,924.9 L2012.5,922.5 L2013.7,946.7 L2013.7,970.8 L2013.0,995.0 L2012.1,1002.2 L2010.1,985.3 L2007.7,963.6 L2005.3,946.7 L2002.9,966.0 L2001.7,946.7Z" fill="url(#cyanpat)" stroke="#231f20" stroke-width="2.2" stroke-dasharray="6.2 4" stroke-linejoin="round"/>
<path d="M2023.4,651.2 C2024.1,649.6 2026.4,648.8 2028.2,648.8 C2030.0,648.8 2032.3,649.6 2033.1,651.2 C2033.9,652.9 2033.9,656.8 2033.1,658.5 C2032.3,660.2 2029.9,661.4 2028.2,661.4 C2026.6,661.4 2024.9,660.0 2024.1,658.5 C2023.4,657.0 2022.7,652.9 2023.4,651.2Z" fill="url(#cyanpat)" stroke="#231f20" stroke-width="2.2" stroke-linejoin="round"/>
<path d="M1313.0,656.1 C1312.8,657.3 1312.2,669.0 1312.2,675.4 C1312.2,681.9 1312.4,691.5 1313.0,699.6 C1313.5,707.6 1314.4,715.7 1315.4,723.7 C1316.3,731.8 1317.8,741.5 1319.0,750.3 C1320.2,759.2 1321.7,770.4 1322.6,776.9 C1323.6,783.3 1325.3,793.8 1325.8,796.2 C1326.2,798.7 1327.5,803.5 1327.5,803.5 C1327.5,803.5 1329.4,797.1 1329.9,793.8 C1330.4,790.5 1331.6,779.3 1332.3,772.1 C1333.0,764.8 1334.2,754.3 1334.7,745.5 C1335.2,736.6 1335.4,727.8 1335.4,718.9 C1335.4,710.0 1335.1,699.6 1334.7,692.3 C1334.3,685.1 1333.6,677.0 1333.0,670.6 C1332.4,664.1 1331.7,653.7 1331.1,651.2 C1330.4,648.8 1328.7,645.9 1326.2,645.2 C1323.8,644.5 1320.9,646.4 1319.0,647.6 C1317.0,648.8 1314.9,651.4 1314.2,652.5 C1313.4,653.5 1313.1,654.8 1313.0,656.1Z" fill="none" stroke="#231f20" stroke-width="2.2" stroke-linejoin="round"/>
<path d="M1348.0,624.7 C1348.0,624.7 1347.3,639.2 1347.5,646.4 C1347.7,653.7 1348.9,662.5 1349.2,670.6 C1349.5,678.6 1349.5,689.9 1349.2,699.6 C1348.9,709.2 1348.1,721.3 1347.5,731.0 C1346.9,740.7 1346.2,750.3 1345.6,760.0 C1344.9,769.6 1344.2,779.3 1343.6,789.0 C1343.1,798.6 1342.6,809.9 1341.9,820.4 C1341.3,830.8 1340.3,842.1 1339.5,851.8 C1338.8,861.5 1337.9,871.1 1337.1,880.8 C1336.4,890.5 1335.1,903.6 1334.7,915.1 C1334.3,926.6 1333.9,978.9 1333.5,995.0 C1333.1,1011.1 1332.0,1027.2 1331.6,1043.3 C1331.1,1059.4 1330.9,1075.5 1330.6,1091.6 C1330.3,1107.7 1329.9,1140.0 1329.9,1140.0" fill="none" stroke="#231f20" stroke-width="2.2" stroke-linejoin="round"/>
<path d="M1354.0,624.7 C1354.0,624.7 1352.6,639.2 1352.8,646.4 C1353.0,653.7 1354.8,662.5 1355.2,670.6 C1355.7,678.7 1356.0,689.9 1355.7,699.6 C1355.4,709.2 1354.1,721.3 1353.3,731.0 C1352.5,740.6 1351.7,750.3 1350.9,760.0 C1350.1,769.6 1349.1,779.3 1348.5,789.0 C1347.8,798.6 1347.3,809.9 1346.8,820.4 C1346.2,830.9 1345.6,842.1 1345.1,851.8 C1344.6,861.5 1344.0,871.1 1343.6,880.8 C1343.3,890.5 1342.8,912.6 1342.7,915.1 C1342.6,917.6 1342.0,920.0 1341.9,922.5 C1341.9,925.0 1341.1,970.8 1340.7,995.0 C1340.3,1019.1 1339.9,1043.3 1339.5,1067.5 C1339.1,1091.6 1338.3,1140.0 1338.3,1140.0" fill="none" stroke="#231f20" stroke-width="2.2" stroke-linejoin="round"/>
<path d="M1362.5,624.7 C1362.5,624.7 1360.9,636.6 1361.3,641.6 C1361.7,646.5 1363.1,651.7 1364.9,656.1 C1366.7,660.4 1370.6,665.1 1372.2,668.2 C1373.7,671.2 1375.6,674.4 1375.8,677.8 C1375.9,681.3 1374.4,689.1 1373.4,694.7 C1372.3,700.3 1370.2,709.3 1368.5,716.5 C1366.8,723.7 1364.2,732.6 1362.5,740.6 C1360.8,748.6 1359.4,756.8 1358.1,764.8 C1356.9,772.8 1355.7,780.9 1354.8,789.0 C1353.8,797.0 1352.5,809.9 1351.6,820.4 C1350.7,830.8 1349.8,842.1 1349.2,851.8 C1348.6,861.5 1348.2,871.1 1348.0,880.8 C1347.7,890.5 1347.6,912.6 1347.5,915.1 C1347.4,917.6 1346.8,920.0 1346.8,922.5 C1346.7,925.0 1345.9,970.8 1345.6,995.0 C1345.3,1019.1 1345.3,1043.3 1345.1,1067.5 C1344.9,1091.6 1344.4,1140.0 1344.4,1140.0" fill="none" stroke="#231f20" stroke-width="2.2" stroke-linejoin="round"/>
<path d="M1373.4,624.7 C1373.4,624.7 1372.0,633.4 1372.2,636.7 C1372.3,640.1 1373.2,643.6 1374.6,646.4 C1376.0,649.2 1378.1,652.4 1380.6,653.7 C1383.1,654.9 1386.4,654.6 1389.1,653.7 C1391.7,652.7 1395.5,650.0 1397.5,647.6 C1399.6,645.3 1401.0,642.2 1401.6,639.2 C1402.2,636.1 1401.3,631.1 1401.1,629.5 C1401.0,627.8 1399.9,624.7 1399.9,624.7" fill="none" stroke="#231f20" stroke-width="2.2" stroke-linejoin="round"/>
<path d="M1433.8,624.7 C1433.8,624.7 1437.5,632.5 1438.6,636.7 C1439.7,641.0 1440.5,648.0 1441.0,653.7 C1441.5,659.3 1441.7,670.6 1441.7,670.6" fill="none" stroke="#231f20" stroke-width="2.2" stroke-linejoin="round"/>
<path d="M1441.0,687.5 C1441.0,687.5 1440.3,700.4 1439.8,706.8 C1439.3,713.3 1438.6,722.9 1437.9,728.6 C1437.2,734.2 1435.0,745.5 1435.0,745.5 C1435.0,745.5 1431.8,742.2 1430.1,740.6 C1428.5,739.1 1425.5,736.2 1422.9,734.6 C1420.3,733.0 1416.9,732.8 1414.4,731.0 C1412.0,729.1 1409.4,726.7 1408.4,723.7 C1407.4,720.8 1408.4,714.9 1407.9,711.7 C1407.5,708.4 1406.6,703.9 1405.5,702.0 C1404.4,700.1 1402.1,698.6 1399.9,698.4 C1397.8,698.1 1395.4,699.2 1393.9,700.8 C1392.4,702.3 1390.7,705.4 1390.3,708.0 C1389.8,710.7 1391.2,715.6 1391.0,718.9 C1390.8,722.2 1390.5,725.6 1389.1,728.6 C1387.7,731.5 1384.1,734.9 1381.8,738.2 C1379.6,741.6 1376.7,746.1 1374.6,750.3 C1372.5,754.5 1370.2,759.9 1368.5,764.8 C1366.8,769.8 1365.0,776.0 1363.7,781.7 C1362.4,787.4 1361.2,794.6 1360.1,801.1 C1359.0,807.5 1358.0,813.9 1357.2,820.4 C1356.3,826.8 1355.5,834.9 1354.8,842.1 C1354.0,849.4 1353.1,858.2 1352.3,866.3 C1351.6,874.3 1350.8,882.4 1350.4,890.5 C1350.0,898.5 1349.9,915.1 1349.9,915.1" fill="none" stroke="#231f20" stroke-width="2.2" stroke-linejoin="round"/>
<path d="M1392.7,776.9 C1392.7,776.9 1395.8,779.8 1396.3,781.7 C1396.8,783.7 1397.7,793.0 1398.2,798.6 C1398.8,804.3 1399.4,813.1 1399.9,820.4 C1400.5,827.6 1401.2,836.5 1401.6,844.5 C1402.1,852.6 1402.4,863.1 1402.6,868.7 C1402.8,874.3 1403.2,882.4 1403.1,885.6 C1403.0,888.9 1402.6,892.3 1401.6,895.3 C1400.7,898.3 1397.5,903.7 1397.5,903.7 C1397.5,903.7 1397.5,903.7 1397.5,903.6 C1397.5,903.6 1392.0,893.9 1390.3,888.7 C1388.6,883.4 1387.4,875.8 1386.7,869.3 C1385.9,862.8 1385.3,852.6 1385.0,845.2 C1384.6,837.7 1384.2,830.1 1384.2,822.8 C1384.3,815.5 1384.9,806.7 1385.4,801.1 C1386.0,795.4 1387.0,786.9 1387.9,784.1 C1388.7,781.4 1392.7,776.9 1392.7,776.9Z" fill="none" stroke="#231f20" stroke-width="2.2" stroke-linejoin="round"/>
<path d="M1515.9,771.6 C1518.0,771.3 1519.9,773.8 1520.8,775.7 C1521.6,777.6 1523.2,784.5 1523.9,789.0 C1524.6,793.5 1525.2,801.9 1525.6,808.3 C1526.0,814.7 1526.7,821.9 1526.3,827.6 C1525.9,833.4 1524.4,840.0 1523.2,844.5 C1522.0,849.1 1519.7,855.4 1518.3,857.8 C1516.9,860.3 1515.1,864.2 1512.3,863.9 C1509.5,863.6 1508.5,859.3 1507.5,856.6 C1506.4,853.9 1504.6,847.1 1503.8,842.1 C1503.1,837.2 1502.6,830.9 1502.6,825.2 C1502.6,819.6 1503.2,811.6 1503.8,805.9 C1504.5,800.2 1505.9,793.1 1507.0,789.0 C1508.0,784.8 1510.0,779.0 1511.1,776.9 C1512.2,774.8 1513.8,771.8 1515.9,771.6Z" fill="none" stroke="#231f20" stroke-width="2.2" stroke-linejoin="round"/>
<path d="M1535.3,624.7 C1535.3,624.7 1535.9,643.2 1536.5,651.2 C1537.0,659.3 1538.2,667.4 1538.9,675.4 C1539.6,683.5 1540.4,691.5 1540.8,699.6 C1541.2,707.6 1541.1,715.7 1541.3,723.7 C1541.4,731.8 1541.5,743.1 1541.8,750.3 C1542.1,757.6 1542.5,764.8 1543.2,772.1 C1543.9,779.3 1544.9,787.3 1546.1,793.8 C1547.4,800.3 1549.1,808.0 1551.0,813.1 C1552.8,818.2 1555.8,822.8 1558.2,827.6 C1560.6,832.5 1563.5,837.1 1565.5,842.1 C1567.4,847.2 1569.7,855.1 1571.5,861.5 C1573.3,867.9 1574.7,874.3 1576.3,880.8 C1577.9,887.2 1579.7,895.1 1581.2,900.1 C1582.6,905.2 1584.8,910.0 1586.0,915.1 C1587.2,920.2 1588.2,929.7 1589.6,937.0 C1591.0,944.2 1592.8,953.0 1594.5,958.7 C1596.1,964.5 1599.1,972.8 1600.5,975.6 C1601.9,978.5 1603.7,982.4 1606.5,982.9 C1609.4,983.4 1612.1,980.5 1613.8,978.1 C1615.4,975.7 1618.2,968.5 1619.8,963.6 C1621.5,958.6 1623.9,949.1 1625.9,941.8 C1627.8,934.5 1630.1,924.2 1631.9,917.7 C1633.7,911.2 1635.7,904.7 1637.9,898.3 C1640.1,891.9 1643.1,884.0 1645.2,879.0 C1647.3,874.0 1649.8,868.2 1652.4,864.5 C1655.1,860.8 1658.9,858.1 1662.1,854.8 C1665.3,851.6 1668.7,848.1 1671.8,844.5 C1674.8,841.0 1678.7,836.3 1681.4,832.5 C1684.1,828.6 1686.6,824.6 1688.7,820.4 C1690.8,816.2 1693.7,808.4 1695.9,803.5 C1698.2,798.6 1701.3,791.8 1703.2,789.0 C1705.1,786.1 1708.1,783.8 1710.4,781.7 C1712.8,779.6 1715.4,777.4 1717.7,775.7 C1720.0,773.9 1723.0,772.6 1724.9,770.8 C1726.9,769.1 1730.0,764.8 1730.0,764.8" fill="none" stroke="#231f20" stroke-width="2.2" stroke-linejoin="round"/>
<path d="M1557.0,635.5 C1557.0,635.5 1561.4,639.2 1563.0,641.6 C1564.7,643.9 1566.6,648.5 1567.9,651.2 C1569.2,654.0 1571.3,656.8 1571.5,659.7 C1571.7,662.6 1569.6,666.2 1569.1,668.2 C1568.6,670.2 1567.9,674.2 1567.9,674.2" fill="none" stroke="#231f20" stroke-width="2.2" stroke-linejoin="round"/>
<path d="M1557.0,635.5 C1557.0,635.5 1553.1,639.2 1552.2,641.6 C1551.2,644.0 1550.0,649.6 1549.7,653.7 C1549.5,657.7 1550.5,663.2 1551.0,665.7 C1551.4,668.2 1553.4,673.0 1553.4,673.0" fill="none" stroke="#231f20" stroke-width="2.2" stroke-linejoin="round"/>
<path d="M1583.6,692.3 C1583.6,692.3 1588.4,690.0 1590.8,690.4 C1593.3,690.8 1596.5,692.4 1598.1,694.7 C1599.6,697.1 1600.7,702.7 1601.7,706.8 C1602.7,710.9 1604.1,718.1 1605.3,723.7 C1606.5,729.4 1608.1,735.8 1608.9,740.6 C1609.8,745.4 1610.7,752.7 1610.9,755.1 C1611.0,757.6 1610.2,762.4 1610.2,762.4" fill="none" stroke="#231f20" stroke-width="2.2" stroke-linejoin="round"/>
<path d="M1583.6,692.3 C1583.6,692.3 1579.6,695.9 1578.7,698.4 C1577.9,700.8 1577.2,705.6 1577.5,709.2 C1577.9,712.9 1580.2,718.8 1581.2,723.7 C1582.1,728.6 1582.8,735.8 1583.6,740.6 C1584.3,745.5 1585.4,752.7 1586.0,755.1 C1586.5,757.6 1588.4,762.4 1588.4,762.4" fill="none" stroke="#231f20" stroke-width="2.2" stroke-linejoin="round"/>
<path d="M1633.1,723.7 C1633.1,723.7 1641.1,720.9 1645.2,720.1 C1649.3,719.4 1655.9,718.5 1659.7,718.9 C1663.5,719.3 1667.6,720.1 1670.6,722.5 C1673.5,724.9 1675.9,729.5 1677.8,733.4 C1679.8,737.3 1681.6,742.4 1682.6,746.7 C1683.7,751.0 1684.3,755.9 1684.3,760.0 C1684.3,764.0 1682.6,772.1 1682.6,772.1" fill="none" stroke="#231f20" stroke-width="2.2" stroke-linejoin="round"/>
<path d="M1633.1,723.7 C1633.1,723.7 1630.3,731.7 1629.5,735.8 C1628.7,739.9 1627.6,748.7 1627.1,755.1 C1626.5,761.6 1626.1,768.0 1626.3,774.5 C1626.5,780.9 1627.3,788.8 1628.3,793.8 C1629.3,798.8 1631.5,805.6 1633.1,808.3 C1634.7,811.0 1637.5,813.0 1640.4,814.3 C1643.2,815.7 1646.8,816.4 1650.0,816.0 C1653.3,815.6 1656.9,814.0 1659.7,811.9 C1662.5,809.8 1664.9,806.6 1666.9,803.5 C1669.0,800.4 1671.2,795.3 1673.0,791.4 C1674.8,787.4 1677.8,779.3 1677.8,779.3" fill="none" stroke="#231f20" stroke-width="2.2" stroke-linejoin="round"/>
<path d="M1601.7,629.5 C1601.7,629.5 1603.9,639.2 1605.3,644.0 C1606.7,648.8 1608.5,654.3 1610.2,658.5 C1611.9,662.7 1614.1,668.1 1616.2,670.6 C1618.3,673.0 1622.3,674.3 1624.7,675.4 C1627.0,676.5 1630.2,675.9 1631.9,677.8 C1633.6,679.7 1634.1,684.3 1635.5,687.5 C1636.9,690.6 1638.4,694.7 1640.4,697.2 C1642.3,699.6 1644.8,701.8 1647.6,703.2 C1650.4,704.6 1654.1,705.2 1657.3,705.6 C1660.5,706.0 1664.4,706.0 1666.9,705.6 C1669.5,705.3 1672.4,705.0 1674.2,703.2 C1676.0,701.4 1676.9,697.7 1677.8,694.7 C1678.7,691.8 1680.1,685.0 1681.4,680.2 C1682.7,675.4 1684.7,669.0 1686.3,663.3 C1687.9,657.7 1690.1,650.4 1691.1,646.4 C1692.1,642.4 1693.5,637.7 1693.5,634.3 C1693.5,631.0 1691.1,624.7 1691.1,624.7" fill="none" stroke="#231f20" stroke-width="2.2" stroke-linejoin="round"/>
<path d="M1606.5,629.5 C1606.5,629.5 1608.2,637.6 1609.4,641.6 C1610.7,645.5 1613.2,652.8 1615.0,656.1 C1616.8,659.3 1619.8,662.9 1622.2,664.5 C1624.6,666.2 1628.5,665.6 1630.7,666.9 C1632.9,668.3 1634.4,670.7 1635.5,673.0 C1636.6,675.3 1637.6,681.6 1639.2,685.1 C1640.7,688.5 1642.5,692.3 1645.2,694.7 C1647.8,697.2 1651.3,698.8 1654.9,699.6 C1658.4,700.4 1663.9,700.1 1666.9,699.6 C1670.0,699.0 1675.4,695.9 1675.4,695.9" fill="none" stroke="#231f20" stroke-width="2.2" stroke-linejoin="round"/>
<path d="M1641.6,624.7 C1641.6,624.7 1642.0,634.4 1642.8,639.2 C1643.5,644.0 1645.1,651.2 1646.4,656.1 C1647.7,661.0 1649.6,666.8 1651.2,670.6 C1652.9,674.4 1655.8,679.6 1657.3,681.4 C1658.8,683.3 1661.0,685.3 1663.3,685.1 C1665.7,684.8 1668.2,682.5 1669.4,680.2 C1670.5,677.9 1672.0,670.6 1673.0,665.7 C1673.9,660.9 1674.9,654.5 1675.4,648.8 C1675.9,643.2 1676.6,624.7 1676.6,624.7" fill="none" stroke="#231f20" stroke-width="2.2" stroke-linejoin="round"/>
<path d="M1698.4,624.7 C1698.4,624.7 1699.6,636.0 1700.8,641.6 C1702.0,647.1 1703.9,652.9 1705.6,658.5 C1707.3,664.1 1710.1,671.5 1711.6,677.8 C1713.2,684.2 1714.5,690.7 1715.3,697.2 C1716.1,703.6 1716.5,710.0 1716.5,716.5 C1716.5,722.9 1716.0,730.1 1715.3,735.8 C1714.5,741.5 1713.1,748.5 1711.6,752.7 C1710.2,757.0 1707.7,761.4 1705.6,764.8 C1703.5,768.2 1700.3,770.9 1698.4,774.5 C1696.4,778.0 1694.2,784.1 1692.3,789.0 C1690.4,793.9 1688.4,800.9 1686.3,805.9 C1684.2,810.9 1681.6,816.7 1679.0,820.4 C1676.4,824.1 1672.4,827.4 1669.4,830.0 C1666.3,832.7 1662.7,834.6 1659.7,837.3 C1656.7,839.9 1653.1,843.6 1650.0,847.0 C1647.0,850.4 1643.1,855.2 1640.4,859.0 C1637.7,862.9 1633.1,871.1 1633.1,871.1" fill="none" stroke="#231f20" stroke-width="2.2" stroke-linejoin="round"/>
<path d="M1662.1,645.2 C1662.1,645.2 1664.8,646.5 1665.0,647.6 C1665.3,648.8 1663.3,650.8 1663.3,650.8" fill="none" stroke="#231f20" stroke-width="2.2" stroke-linejoin="round"/>
<path d="M1508.7,629.5 C1508.7,629.5 1510.6,635.7 1511.1,636.7 C1511.6,637.8 1513.5,639.2 1513.5,639.2 C1513.5,639.2 1515.1,635.9 1515.9,634.3 C1516.7,632.7 1518.3,629.5 1518.3,629.5" fill="none" stroke="#231f20" stroke-width="2.2" stroke-linejoin="round"/>
<path d="M1326.2,915.1 C1326.2,915.1 1326.5,897.0 1326.2,892.9 C1326.0,888.8 1324.5,884.0 1323.8,880.8 C1323.1,877.5 1321.4,871.1 1321.4,871.1 C1321.4,871.1 1323.5,872.9 1323.8,874.2 C1324.1,875.4 1327.5,898.3 1327.5,898.3 C1327.5,898.3 1329.1,887.1 1329.9,881.4 C1330.6,875.8 1331.8,866.1 1332.3,862.1 C1332.7,858.1 1333.5,850.0 1333.5,850.0" fill="none" stroke="#231f20" stroke-width="2.2" stroke-linejoin="round"/>
<path d="M1315.4,837.3 C1315.4,837.3 1318.2,843.6 1319.0,847.0 C1319.8,850.3 1320.8,856.6 1321.4,861.5 C1322.0,866.3 1322.6,876.0 1322.6,876.0" fill="none" stroke="#231f20" stroke-width="2.2" stroke-linejoin="round"/>
<path d="M1390.3,1140.0 C1390.3,1140.0 1392.8,1123.9 1393.9,1115.8 C1395.0,1107.7 1397.1,1091.6 1398.7,1079.5 C1400.3,1067.5 1402.0,1055.4 1403.6,1043.3 C1405.2,1031.2 1406.8,1016.0 1408.4,1007.1 C1409.9,998.1 1412.5,987.1 1414.4,980.5 C1416.4,973.9 1420.8,963.1 1421.7,961.1 C1422.6,959.2 1425.8,956.3 1425.8,956.3 C1425.8,956.3 1429.3,960.9 1430.1,963.6 C1431.0,966.3 1433.5,978.0 1435.0,985.3 C1436.4,992.6 1438.5,1004.7 1439.8,1011.9 C1441.1,1019.1 1442.9,1026.3 1443.4,1033.6 C1444.0,1041.0 1444.1,1056.2 1444.2,1067.5 C1444.2,1078.7 1443.8,1091.6 1443.7,1103.7 C1443.6,1115.8 1443.4,1140.0 1443.4,1140.0" fill="none" stroke="#231f20" stroke-width="2.2" stroke-linejoin="round"/>
<path d="M1505.0,850.0 C1505.0,850.0 1507.6,858.0 1508.7,859.7 C1509.8,861.4 1511.5,863.5 1513.5,863.3 C1515.5,863.0 1517.1,860.4 1518.3,858.5 C1519.6,856.5 1522.0,850.0 1522.0,850.0" fill="none" stroke="#231f20" stroke-width="2.2" stroke-linejoin="round"/>
<path d="M1550.5,1048.1 C1550.5,1048.1 1549.0,1038.5 1549.0,1033.6 C1549.1,1028.8 1550.3,1020.8 1551.0,1016.7 C1551.6,1012.7 1553.4,1004.6 1553.4,1004.6 C1553.4,1004.6 1556.1,1011.0 1557.0,1014.3 C1557.8,1017.6 1559.9,1025.6 1560.1,1031.2 C1560.4,1036.9 1558.7,1048.1 1558.7,1048.1" fill="none" stroke="#231f20" stroke-width="2.2" stroke-linejoin="round"/>
<path d="M1673.0,876.6 C1675.3,876.3 1677.8,878.6 1679.0,880.2 C1680.3,881.8 1681.0,884.3 1680.2,886.2 C1679.5,888.2 1676.5,891.8 1674.2,892.3 C1671.9,892.7 1669.4,890.6 1668.1,888.7 C1666.8,886.7 1666.0,883.7 1666.9,881.4 C1667.8,879.1 1670.6,876.8 1673.0,876.6Z" fill="none" stroke="#231f20" stroke-width="2.2" stroke-linejoin="round"/>
<path d="M1360.1,1117.0 L1360.6,1140.0" fill="none" stroke="#231f20" stroke-width="2.2" stroke-linejoin="round"/>
<path d="M1375.8,1118.2 L1380.6,1140.0" fill="none" stroke="#231f20" stroke-width="2.2" stroke-linejoin="round"/>
<path d="M1735.9,624.7 C1735.9,624.7 1734.8,641.5 1735.1,646.4 C1735.5,651.3 1736.8,657.5 1738.3,660.9 C1739.8,664.3 1742.4,667.3 1745.5,669.4 C1748.6,671.4 1752.6,672.6 1756.4,673.0 C1760.2,673.4 1764.5,671.6 1768.5,671.8 C1772.5,672.0 1776.5,674.4 1780.6,674.2 C1784.7,674.0 1789.2,672.6 1792.7,670.6 C1796.1,668.6 1799.3,665.4 1801.1,662.1 C1802.9,658.9 1803.7,655.0 1803.5,651.2 C1803.3,647.5 1801.4,643.1 1799.9,640.4 C1798.4,637.6 1795.1,635.7 1793.9,633.1 C1792.7,630.5 1792.7,624.7 1792.7,624.7" fill="none" stroke="#231f20" stroke-width="2.2" stroke-linejoin="round"/>
<path d="M1750.4,638.0 C1751.9,637.3 1754.1,639.0 1755.2,640.4 C1756.3,641.8 1758.1,645.1 1758.3,647.6 C1758.6,650.1 1757.5,653.2 1756.4,654.9 C1755.3,656.6 1751.6,658.5 1751.6,658.5 C1751.6,658.5 1749.6,653.8 1749.2,651.2 C1748.8,648.7 1749.0,644.4 1749.2,642.8 C1749.3,641.1 1748.8,638.6 1750.4,638.0Z" fill="none" stroke="#231f20" stroke-width="2.2" stroke-linejoin="round"/>
<path d="M1715.3,675.4 C1715.3,675.4 1721.4,681.5 1725.0,683.9 C1728.6,686.2 1733.2,688.7 1737.1,689.9 C1741.0,691.1 1745.3,692.2 1749.2,691.1 C1753.0,690.0 1756.5,686.0 1758.8,683.9 C1761.1,681.7 1764.9,676.6 1764.9,676.6" fill="none" stroke="#231f20" stroke-width="2.2" stroke-linejoin="round"/>
<path d="M1756.4,624.7 C1756.4,624.7 1760.2,633.1 1761.2,635.5 C1762.3,637.9 1764.1,642.8 1764.1,642.8" fill="none" stroke="#231f20" stroke-width="2.2" stroke-linejoin="round"/>
<path d="M1832.5,624.7 C1832.5,624.7 1835.1,634.4 1836.1,639.2 C1837.1,644.0 1837.5,648.9 1838.6,653.7 C1839.7,658.4 1841.9,664.9 1843.4,670.6 C1844.9,676.2 1846.6,683.5 1848.2,689.9 C1849.8,696.3 1851.5,704.3 1853.1,709.2 C1854.7,714.2 1857.8,721.1 1859.1,723.7 C1860.4,726.3 1863.5,728.1 1863.9,731.0 C1864.4,733.8 1862.5,740.6 1862.7,745.5 C1862.9,750.3 1864.3,758.3 1865.1,762.4 C1866.0,766.5 1868.8,774.5 1868.8,774.5" fill="none" stroke="#231f20" stroke-width="2.2" stroke-linejoin="round"/>
<path d="M1879.6,798.6 C1879.6,798.6 1884.5,806.7 1886.9,810.7 C1889.3,814.7 1892.4,819.7 1894.1,822.8 C1895.9,825.9 1897.8,829.1 1899.0,832.5 C1900.2,835.9 1901.4,842.1 1902.6,847.0 C1903.8,851.8 1905.5,859.0 1906.2,861.5 C1906.9,863.9 1908.6,868.7 1908.6,868.7 C1908.6,868.7 1910.7,862.3 1911.5,859.0 C1912.4,855.8 1913.6,849.4 1914.7,844.5 C1915.8,839.7 1916.9,834.8 1918.3,830.0 C1919.7,825.3 1921.5,820.4 1923.1,815.6 C1924.7,810.7 1926.6,806.0 1928.0,801.1 C1929.3,796.1 1930.5,789.0 1931.6,784.1 C1932.7,779.3 1933.6,774.4 1935.2,769.6 C1936.8,764.9 1939.1,759.9 1941.3,755.1 C1943.4,750.4 1946.1,745.5 1948.5,740.6 C1950.9,735.8 1954.5,728.6 1957.0,723.7 C1959.4,718.9 1961.8,714.1 1964.2,709.2 C1966.6,704.4 1969.6,697.6 1971.5,694.7 C1973.4,691.9 1976.6,688.9 1978.7,687.5 C1980.8,686.1 1983.7,686.3 1986.0,685.1 C1988.2,683.9 1990.8,682.5 1992.0,680.2 C1993.2,677.9 1993.9,672.2 1994.4,668.2 C1994.9,664.1 1995.3,657.7 1995.1,653.7 C1995.0,649.6 1994.0,644.2 1993.2,641.6 C1992.5,639.0 1990.0,637.0 1989.6,634.3 C1989.2,631.7 1990.8,624.7 1990.8,624.7" fill="none" stroke="#231f20" stroke-width="2.2" stroke-linejoin="round"/>
<path d="M1889.3,624.7 C1889.3,624.7 1891.1,634.4 1891.7,639.2 C1892.3,644.0 1892.8,650.4 1892.9,653.7 C1893.1,656.9 1892.9,663.3 1892.9,663.3" fill="none" stroke="#231f20" stroke-width="2.2" stroke-linejoin="round"/>
<path d="M1902.6,689.9 C1902.6,689.9 1903.8,701.2 1904.3,706.8 C1904.8,712.5 1905.3,718.1 1905.7,723.7 C1906.1,729.4 1906.3,735.8 1906.7,740.6 C1907.2,745.5 1907.8,752.4 1908.6,755.1 C1909.5,757.9 1912.2,761.0 1913.5,762.4 C1914.8,763.8 1916.4,765.5 1918.3,765.3 C1920.2,765.1 1921.6,762.2 1923.1,761.2 C1924.6,760.2 1926.8,760.1 1928.0,758.8 C1929.2,757.4 1931.5,753.3 1932.8,750.3 C1934.1,747.3 1936.3,740.7 1937.6,735.8 C1939.0,730.9 1940.3,724.6 1941.3,718.9 C1942.2,713.2 1943.0,706.0 1943.7,699.6 C1944.4,693.1 1945.1,685.9 1945.4,680.2 C1945.6,674.6 1945.5,669.0 1945.4,663.3 C1945.2,657.7 1944.6,652.1 1944.4,646.4 C1944.2,640.8 1943.7,624.7 1943.7,624.7" fill="none" stroke="#231f20" stroke-width="2.2" stroke-linejoin="round"/>
<path d="M1967.8,629.5 C1969.6,629.0 1972.4,630.4 1973.9,631.9 C1975.3,633.5 1976.3,635.9 1975.8,638.0 C1975.4,640.0 1973.2,642.3 1971.5,642.8 C1969.7,643.2 1967.7,641.8 1966.6,640.4 C1965.6,638.9 1965.2,636.1 1965.4,634.3 C1965.6,632.5 1966.1,630.0 1967.8,629.5Z" fill="none" stroke="#231f20" stroke-width="2.2" stroke-linejoin="round"/>
<path d="M1751.6,728.6 C1751.9,725.1 1753.7,721.3 1755.2,718.9 C1756.7,716.5 1758.9,713.7 1761.2,712.9 C1763.5,712.0 1766.4,712.8 1768.5,714.1 C1770.6,715.4 1772.6,718.8 1774.5,721.3 C1776.5,723.8 1778.6,728.3 1780.6,729.8 C1782.6,731.2 1785.5,731.8 1787.8,731.0 C1790.1,730.2 1792.9,727.3 1795.1,724.9 C1797.2,722.6 1799.3,718.7 1801.1,716.5 C1802.9,714.3 1805.2,711.2 1807.2,710.4 C1809.1,709.7 1811.5,710.5 1813.2,711.7 C1814.9,712.8 1818.6,716.0 1820.4,718.9 C1822.3,721.8 1824.4,726.7 1825.3,731.0 C1826.2,735.2 1826.9,742.3 1826.5,747.9 C1826.1,753.5 1824.3,759.2 1822.9,764.8 C1821.5,770.4 1819.7,776.8 1818.0,781.7 C1816.3,786.7 1814.1,792.0 1812.0,796.2 C1809.9,800.4 1807.1,805.4 1804.7,808.3 C1802.4,811.2 1798.8,814.2 1796.3,815.6 C1793.7,816.9 1790.5,818.1 1787.8,817.5 C1785.2,816.8 1783.3,814.2 1781.8,811.9 C1780.3,809.6 1778.2,804.8 1776.9,801.1 C1775.7,797.3 1774.4,790.6 1773.3,786.6 C1772.2,782.5 1771.2,777.9 1769.7,774.5 C1768.2,771.0 1765.7,768.0 1763.7,764.8 C1761.6,761.6 1759.3,758.5 1757.6,755.1 C1755.9,751.7 1753.7,747.3 1752.8,743.1 C1751.8,738.8 1751.2,732.0 1751.6,728.6Z" fill="none" stroke="#231f20" stroke-width="2.2" stroke-linejoin="round"/>
<path d="M2007.7,624.7 C2007.7,624.7 2009.9,637.5 2010.1,644.0 C2010.3,650.4 2009.5,656.9 2008.9,663.3 C2008.3,669.8 2007.2,677.0 2006.5,682.7 C2005.7,688.3 2005.0,694.7 2004.1,699.6 C2003.1,704.5 2001.6,710.7 2000.5,714.1 C1999.3,717.5 1997.4,721.9 1995.6,723.7 C1993.8,725.5 1990.9,726.4 1988.4,726.1 C1985.8,725.9 1983.4,723.3 1981.1,722.5 C1978.8,721.7 1976.1,720.4 1973.9,721.3 C1971.6,722.3 1968.6,725.7 1966.6,728.6 C1964.7,731.4 1962.5,736.5 1960.6,740.6 C1958.7,744.7 1956.6,750.3 1954.5,755.1 C1952.5,760.0 1950.0,765.7 1948.5,769.6 C1947.0,773.6 1944.8,777.5 1944.4,781.7 C1944.0,786.0 1945.2,793.0 1946.1,798.6 C1947.0,804.2 1948.7,809.9 1949.7,815.6 C1950.7,821.2 1951.5,826.8 1952.1,832.5 C1952.7,838.1 1953.0,844.2 1953.3,850.0 C1953.7,855.8 1954.3,866.1 1954.5,874.2 C1954.8,882.2 1954.9,890.3 1955.0,898.3 C1955.2,906.4 1955.4,914.4 1955.3,922.5 C1955.2,930.5 1954.8,941.0 1954.5,946.7 C1954.3,952.3 1953.3,963.6 1953.3,963.6 C1953.3,963.6 1948.5,956.3 1948.5,956.3 C1948.5,956.3 1946.2,961.1 1944.9,962.4 C1943.6,963.6 1941.2,963.4 1940.0,964.8 C1938.9,966.2 1937.2,970.3 1936.4,973.2 C1935.6,976.2 1934.2,984.5 1933.3,990.1 C1932.4,995.8 1931.3,1004.6 1930.4,1011.9 C1929.4,1019.1 1928.4,1026.4 1927.5,1033.6 C1926.6,1040.9 1925.9,1048.1 1925.1,1055.4 C1924.3,1062.6 1923.6,1069.9 1922.7,1077.1 C1921.7,1084.4 1920.5,1093.2 1919.5,1098.9 C1918.5,1104.6 1917.2,1110.2 1915.9,1115.8 C1914.6,1121.4 1909.8,1140.0 1909.8,1140.0" fill="none" stroke="#231f20" stroke-width="2.2" stroke-linejoin="round"/>
<path d="M2026.6,697.2 C2026.6,697.2 2020.1,702.9 2018.6,706.8 C2017.1,710.7 2016.8,718.1 2016.2,723.7 C2015.6,729.4 2015.2,735.0 2015.0,740.6 C2014.7,746.3 2015.1,753.6 2014.5,760.0 C2013.9,766.4 2011.3,779.3 2011.3,779.3 C2011.3,779.3 2008.9,774.5 2007.7,772.1 C2006.5,769.6 2004.3,764.6 2002.9,762.4 C2001.4,760.1 1999.7,756.8 1997.6,756.4 C1995.4,755.9 1993.2,758.1 1992.0,760.0 C1990.8,761.8 1988.2,767.9 1987.2,772.1 C1986.1,776.3 1985.2,783.3 1984.7,789.0 C1984.3,794.6 1984.3,801.9 1984.0,808.3 C1983.8,814.7 1983.8,826.5 1983.1,832.5 C1982.3,838.4 1979.7,844.1 1978.7,850.0 C1977.7,855.9 1976.8,866.1 1976.3,874.2 C1975.8,882.2 1975.4,898.3 1975.1,910.4 C1974.8,922.5 1974.6,934.6 1974.6,946.7 C1974.6,958.7 1974.9,970.8 1975.1,982.9 C1975.3,995.0 1975.8,1007.1 1975.8,1019.1 C1975.8,1031.2 1975.3,1043.3 1975.1,1055.4 C1974.8,1067.5 1974.5,1079.5 1974.4,1091.6 C1974.2,1103.7 1973.9,1140.0 1973.9,1140.0" fill="none" stroke="#231f20" stroke-width="2.2" stroke-linejoin="round"/>
<path d="M2018.6,772.1 C2018.6,772.1 2020.6,780.1 2021.0,784.1 C2021.4,788.2 2022.1,801.9 2022.2,808.3 C2022.3,814.7 2022.0,824.4 2021.7,827.6 C2021.4,830.9 2019.8,837.3 2019.8,837.3 C2019.8,837.3 2018.2,830.9 2017.9,827.6 C2017.5,824.4 2017.0,814.8 2016.9,808.3 C2016.8,801.9 2017.2,788.2 2017.4,784.1 C2017.6,780.1 2018.6,772.1 2018.6,772.1Z" fill="none" stroke="#231f20" stroke-width="2.2" stroke-linejoin="round"/>
<path d="M2013.7,624.7 C2013.7,624.7 2016.0,634.3 2016.2,639.2 C2016.3,644.1 2015.6,652.1 2015.0,658.5 C2014.4,664.9 2013.3,672.2 2012.5,677.8 C2011.8,683.5 2010.3,689.1 2010.1,694.7 C2009.9,700.4 2011.3,711.7 2011.3,711.7" fill="none" stroke="#231f20" stroke-width="2.2" stroke-linejoin="round"/>
<path d="M2021.0,646.4 C2022.7,644.5 2025.7,643.8 2028.2,644.0 C2030.8,644.2 2034.5,645.1 2035.5,647.6 C2036.5,650.1 2036.5,659.5 2035.5,662.1 C2034.5,664.7 2030.8,666.0 2028.2,666.2 C2025.6,666.4 2022.7,665.3 2021.0,663.3 C2019.3,661.3 2018.6,657.8 2018.6,654.9 C2018.6,651.9 2019.3,648.3 2021.0,646.4Z" fill="none" stroke="#231f20" stroke-width="2.2" stroke-linejoin="round"/>
<path d="M1928.0,645.2 C1928.0,645.2 1930.5,645.6 1930.9,646.4 C1931.3,647.2 1929.9,648.8 1929.9,648.8" fill="none" stroke="#231f20" stroke-width="2.2" stroke-linejoin="round"/>
<path d="M1902.6,850.0 C1902.6,850.0 1904.1,856.8 1905.0,859.7 C1905.9,862.5 1908.2,868.1 1908.2,868.1 C1908.2,868.1 1910.2,862.5 1911.1,859.7 C1911.9,856.8 1913.5,850.0 1913.5,850.0" fill="none" stroke="#231f20" stroke-width="2.2" stroke-linejoin="round"/>
<path d="M1858.4,974.4 C1858.4,974.4 1860.8,981.6 1861.5,985.3 C1862.2,989.0 1863.3,998.2 1863.9,1004.6 C1864.5,1011.1 1865.0,1017.5 1865.1,1024.0 C1865.3,1030.4 1865.2,1037.6 1864.7,1043.3 C1864.1,1049.0 1862.2,1057.6 1861.5,1060.2 C1860.8,1062.8 1857.9,1067.5 1857.9,1067.5 C1857.9,1067.5 1854.1,1062.9 1853.1,1060.2 C1852.0,1057.5 1850.4,1050.6 1849.4,1045.7 C1848.5,1040.8 1847.3,1034.5 1847.0,1028.8 C1846.8,1023.1 1847.2,1015.2 1847.7,1009.5 C1848.3,1003.8 1849.7,996.7 1850.6,992.6 C1851.6,988.5 1853.3,982.7 1854.3,980.5 C1855.2,978.2 1858.4,974.4 1858.4,974.4Z" fill="none" stroke="#231f20" stroke-width="2.2" stroke-linejoin="round"/>
<path d="M2026.6,859.7 C2026.6,859.7 2022.8,856.3 2021.0,857.2 C2019.2,858.2 2018.2,861.9 2017.4,864.5 C2016.6,867.1 2015.2,872.5 2015.0,876.6 C2014.7,880.7 2015.1,891.1 2015.4,898.3 C2015.7,905.6 2016.5,914.4 2016.9,922.5 C2017.3,930.5 2017.6,938.6 2017.9,946.7 C2018.1,954.7 2018.5,962.8 2018.6,970.8 C2018.7,978.9 2018.6,1004.6 2018.6,1004.6" fill="none" stroke="#231f20" stroke-width="2.2" stroke-linejoin="round"/>
<path d="M1285.0,620.0 L1305.0,620.0 L1305.0,698.4 L1309.3,698.4 L1309.3,780.5 L1315.5,780.5 L1315.5,871.5 L1320.5,871.5 L1320.5,952.0 L1325.7,952.0 L1325.7,1035.0 L1330.6,1035.0 L1330.6,1124.0 L1335.6,1124.0 L1335.6,1142.0 L1285.0,1142.0Z" fill="url(#darkpat)"/>
<path d="M2170.0,620.0 L2034.8,620.0 L2034.8,682.7 L2029.9,682.7 L2029.9,779.3 L2025.5,779.3 L2025.5,1004.6 L2015.0,1004.6 L2015.0,1125.5 L2010.0,1125.5 L2010.0,1142.0 L2170.0,1142.0Z" fill="url(#darkpat)"/>
<text x="1304.5" y="700.8" font-size="17.3" text-anchor="start" font-weight="normal">-0.05</text>
<text x="1422.4" y="682.7" font-size="17.3" text-anchor="start" font-weight="normal">-0.01</text>
<text x="1544.2" y="687.5" font-size="17.3" text-anchor="start" font-weight="normal">0.01</text>
<text x="1586.0" y="778.8" font-size="17.3" text-anchor="start" font-weight="normal">0.01</text>
<text x="1652.9" y="776.9" font-size="17.3" text-anchor="start" font-weight="normal">0.01</text>
<text x="1535.3" y="1065.8" font-size="17.3" text-anchor="start" font-weight="normal">-0.01</text>
<text x="1753.5" y="661.4" font-size="17.3" text-anchor="start" font-weight="normal">-0.03</text>
<text x="1877.7" y="685.6" font-size="17.3" text-anchor="start" font-weight="normal">-0.02</text>
<text x="1853.5" y="793.8" font-size="17.3" text-anchor="start" font-weight="normal">-0.01</text>
<text x="1953.3" y="769.2" font-size="17.3" text-anchor="start" font-weight="normal">0.01</text>
</g>
<rect x="1328.3" y="1086.5" width="195.20000000000005" height="29.5" fill="#fff"/>
<text x="1336.0" y="1112.5" font-size="36.3" text-anchor="start" font-weight="bold" fill="#0d0a0b" stroke="#0d0a0b" stroke-width="0.5">(d) Pacific</text>
<line x1="1285.8" y1="626.2" x2="2173.5" y2="626.2" stroke="#231f20" stroke-width="5.2"/>
<line x1="1285.8" y1="1136.6" x2="2173.5" y2="1136.6" stroke="#231f20" stroke-width="5.2"/>
<line x1="1296.1" y1="626.2" x2="1296.1" y2="1136.6" stroke="#231f20" stroke-width="4"/>
<line x1="2164.0" y1="626.2" x2="2164.0" y2="1136.6" stroke="#231f20" stroke-width="4"/>
<line x1="1318.0" y1="616.1" x2="1318.0" y2="626.2" stroke="#231f20" stroke-width="5.2"/>
<line x1="1318.0" y1="1136.6" x2="1318.0" y2="1146.6999999999998" stroke="#231f20" stroke-width="5.2"/>
<text x="1308.5" y="1188.0" font-size="36" text-anchor="middle" font-weight="normal">–80</text>
<line x1="1367.7" y1="620.2" x2="1367.7" y2="626.2" stroke="#231f20" stroke-width="4.2"/>
<line x1="1367.7" y1="1136.6" x2="1367.7" y2="1142.6" stroke="#231f20" stroke-width="4.2"/>
<line x1="1417.5" y1="616.1" x2="1417.5" y2="626.2" stroke="#231f20" stroke-width="5.2"/>
<line x1="1417.5" y1="1136.6" x2="1417.5" y2="1146.6999999999998" stroke="#231f20" stroke-width="5.2"/>
<text x="1408.0" y="1188.0" font-size="36" text-anchor="middle" font-weight="normal">–60</text>
<line x1="1467.3" y1="620.2" x2="1467.3" y2="626.2" stroke="#231f20" stroke-width="4.2"/>
<line x1="1467.3" y1="1136.6" x2="1467.3" y2="1142.6" stroke="#231f20" stroke-width="4.2"/>
<line x1="1517.1" y1="616.1" x2="1517.1" y2="626.2" stroke="#231f20" stroke-width="5.2"/>
<line x1="1517.1" y1="1136.6" x2="1517.1" y2="1146.6999999999998" stroke="#231f20" stroke-width="5.2"/>
<text x="1507.6" y="1188.0" font-size="36" text-anchor="middle" font-weight="normal">–40</text>
<line x1="1566.9" y1="620.2" x2="1566.9" y2="626.2" stroke="#231f20" stroke-width="4.2"/>
<line x1="1566.9" y1="1136.6" x2="1566.9" y2="1142.6" stroke="#231f20" stroke-width="4.2"/>
<line x1="1616.6" y1="616.1" x2="1616.6" y2="626.2" stroke="#231f20" stroke-width="5.2"/>
<line x1="1616.6" y1="1136.6" x2="1616.6" y2="1146.6999999999998" stroke="#231f20" stroke-width="5.2"/>
<text x="1607.1" y="1188.0" font-size="36" text-anchor="middle" font-weight="normal">–20</text>
<line x1="1666.4" y1="620.2" x2="1666.4" y2="626.2" stroke="#231f20" stroke-width="4.2"/>
<line x1="1666.4" y1="1136.6" x2="1666.4" y2="1142.6" stroke="#231f20" stroke-width="4.2"/>
<line x1="1716.2" y1="616.1" x2="1716.2" y2="626.2" stroke="#231f20" stroke-width="5.2"/>
<line x1="1716.2" y1="1136.6" x2="1716.2" y2="1146.6999999999998" stroke="#231f20" stroke-width="5.2"/>
<text x="1716.7" y="1188.0" font-size="36" text-anchor="middle" font-weight="normal">0</text>
<line x1="1766.0" y1="620.2" x2="1766.0" y2="626.2" stroke="#231f20" stroke-width="4.2"/>
<line x1="1766.0" y1="1136.6" x2="1766.0" y2="1142.6" stroke="#231f20" stroke-width="4.2"/>
<line x1="1815.8" y1="616.1" x2="1815.8" y2="626.2" stroke="#231f20" stroke-width="5.2"/>
<line x1="1815.8" y1="1136.6" x2="1815.8" y2="1146.6999999999998" stroke="#231f20" stroke-width="5.2"/>
<text x="1816.3" y="1188.0" font-size="36" text-anchor="middle" font-weight="normal">20</text>
<line x1="1865.5" y1="620.2" x2="1865.5" y2="626.2" stroke="#231f20" stroke-width="4.2"/>
<line x1="1865.5" y1="1136.6" x2="1865.5" y2="1142.6" stroke="#231f20" stroke-width="4.2"/>
<line x1="1915.3" y1="616.1" x2="1915.3" y2="626.2" stroke="#231f20" stroke-width="5.2"/>
<line x1="1915.3" y1="1136.6" x2="1915.3" y2="1146.6999999999998" stroke="#231f20" stroke-width="5.2"/>
<text x="1915.8" y="1188.0" font-size="36" text-anchor="middle" font-weight="normal">40</text>
<line x1="1965.1" y1="620.2" x2="1965.1" y2="626.2" stroke="#231f20" stroke-width="4.2"/>
<line x1="1965.1" y1="1136.6" x2="1965.1" y2="1142.6" stroke="#231f20" stroke-width="4.2"/>
<line x1="2014.9" y1="616.1" x2="2014.9" y2="626.2" stroke="#231f20" stroke-width="5.2"/>
<line x1="2014.9" y1="1136.6" x2="2014.9" y2="1146.6999999999998" stroke="#231f20" stroke-width="5.2"/>
<text x="2015.4" y="1188.0" font-size="36" text-anchor="middle" font-weight="normal">60</text>
<line x1="2064.7" y1="620.2" x2="2064.7" y2="626.2" stroke="#231f20" stroke-width="4.2"/>
<line x1="2064.7" y1="1136.6" x2="2064.7" y2="1142.6" stroke="#231f20" stroke-width="4.2"/>
<line x1="2114.4" y1="616.1" x2="2114.4" y2="626.2" stroke="#231f20" stroke-width="5.2"/>
<line x1="2114.4" y1="1136.6" x2="2114.4" y2="1146.6999999999998" stroke="#231f20" stroke-width="5.2"/>
<text x="2114.9" y="1188.0" font-size="36" text-anchor="middle" font-weight="normal">80</text>
<text x="1273.6" y="636.9" font-size="36" text-anchor="end" font-weight="normal">0</text>
<line x1="1290.6999999999998" y1="677.2" x2="1296.1" y2="677.2" stroke="#231f20" stroke-width="4.6"/>
<line x1="2164.0" y1="677.2" x2="2169.4" y2="677.2" stroke="#231f20" stroke-width="4.6"/>
<line x1="1285.8" y1="728.3" x2="1296.1" y2="728.3" stroke="#231f20" stroke-width="5.2"/>
<line x1="2164.0" y1="728.3" x2="2173.5" y2="728.3" stroke="#231f20" stroke-width="5.2"/>
<text x="1273.6" y="739.5" font-size="36" text-anchor="end" font-weight="normal">100</text>
<line x1="1290.6999999999998" y1="779.3" x2="1296.1" y2="779.3" stroke="#231f20" stroke-width="4.6"/>
<line x1="2164.0" y1="779.3" x2="2169.4" y2="779.3" stroke="#231f20" stroke-width="4.6"/>
<line x1="1285.8" y1="830.4" x2="1296.1" y2="830.4" stroke="#231f20" stroke-width="5.2"/>
<line x1="2164.0" y1="830.4" x2="2173.5" y2="830.4" stroke="#231f20" stroke-width="5.2"/>
<text x="1273.6" y="842.1" font-size="36" text-anchor="end" font-weight="normal">200</text>
<line x1="1290.6999999999998" y1="881.4" x2="1296.1" y2="881.4" stroke="#231f20" stroke-width="4.6"/>
<line x1="2164.0" y1="881.4" x2="2169.4" y2="881.4" stroke="#231f20" stroke-width="4.6"/>
<line x1="1285.8" y1="932.4" x2="1296.1" y2="932.4" stroke="#231f20" stroke-width="5.2"/>
<line x1="2164.0" y1="932.4" x2="2173.5" y2="932.4" stroke="#231f20" stroke-width="5.2"/>
<text x="1273.6" y="944.6" font-size="36" text-anchor="end" font-weight="normal">300</text>
<line x1="1290.6999999999998" y1="983.5" x2="1296.1" y2="983.5" stroke="#231f20" stroke-width="4.6"/>
<line x1="2164.0" y1="983.5" x2="2169.4" y2="983.5" stroke="#231f20" stroke-width="4.6"/>
<line x1="1285.8" y1="1034.5" x2="1296.1" y2="1034.5" stroke="#231f20" stroke-width="5.2"/>
<line x1="2164.0" y1="1034.5" x2="2173.5" y2="1034.5" stroke="#231f20" stroke-width="5.2"/>
<text x="1273.6" y="1047.2" font-size="36" text-anchor="end" font-weight="normal">400</text>
<line x1="1290.6999999999998" y1="1085.6" x2="1296.1" y2="1085.6" stroke="#231f20" stroke-width="4.6"/>
<line x1="2164.0" y1="1085.6" x2="2169.4" y2="1085.6" stroke="#231f20" stroke-width="4.6"/>
<text x="1273.6" y="1149.8" font-size="36" text-anchor="end" font-weight="normal">500</text>
</g>
<g id="panel-g">
<clipPath id="clip-g"><rect x="233.0" y="1784.4" width="865.7" height="508.5999999999999"/></clipPath>
<g clip-path="url(#clip-g)">
<path d="M304.7,1814.1 C304.8,1811.5 309.9,1812.4 312.0,1811.7 C314.0,1810.9 316.5,1807.7 318.0,1809.2 C319.6,1810.8 321.0,1817.2 321.7,1821.3 C322.3,1825.5 322.3,1835.0 322.9,1840.7 C323.4,1846.3 324.4,1853.5 325.3,1857.6 C326.1,1861.7 327.6,1866.3 328.9,1869.7 C330.2,1873.0 332.4,1876.0 333.7,1879.3 C335.1,1882.7 337.1,1888.9 338.6,1893.8 C340.1,1898.7 342.1,1905.0 343.4,1910.7 C344.7,1916.4 346.2,1923.7 347.0,1930.1 C347.8,1936.5 347.9,1943.7 348.2,1949.4 C348.6,1955.0 349.0,1960.7 349.4,1966.3 C349.8,1971.9 350.8,1978.3 350.6,1983.2 C350.5,1988.1 349.2,1992.9 348.2,1997.7 C347.2,2002.5 346.1,2008.5 344.6,2012.2 C343.2,2015.9 340.1,2018.8 338.6,2022.5 C337.0,2026.1 335.1,2030.5 334.9,2034.6 C334.7,2038.7 336.5,2042.6 337.4,2046.7 C338.2,2050.7 340.1,2057.9 341.0,2063.6 C341.9,2069.3 343.0,2078.0 343.4,2085.3 C343.8,2092.6 343.6,2101.4 343.4,2109.5 C343.2,2117.5 342.8,2125.6 342.2,2133.6 C341.6,2141.7 340.7,2149.8 339.8,2157.8 C338.8,2165.9 337.6,2173.9 336.6,2182.0 C335.6,2190.0 334.5,2199.7 333.7,2206.1 C332.9,2212.6 332.1,2219.4 331.3,2225.5 C330.5,2231.5 328.9,2243.6 328.9,2243.6 C328.9,2243.6 326.9,2238.0 326.5,2235.1 C326.0,2232.2 325.0,2222.2 324.6,2215.8 C324.1,2209.4 323.9,2202.9 323.6,2196.5 C323.3,2190.0 323.0,2182.0 322.6,2177.1 C322.3,2172.3 321.2,2162.6 321.2,2162.6 C321.2,2162.6 320.2,2173.1 319.7,2177.1 C319.2,2181.2 318.0,2189.2 318.0,2189.2 C318.0,2189.2 316.2,2181.2 315.6,2177.1 C315.0,2173.1 313.8,2164.2 313.2,2157.8 C312.6,2151.4 313.0,2140.7 312.0,2138.5 C311.0,2136.3 304.8,2140.9 304.7,2138.5 C304.7,2136.1 304.7,1816.6 304.7,1814.1Z" fill="url(#pinkpat)" stroke="#231f20" stroke-width="2.2" stroke-dasharray="6.2 4" stroke-linejoin="round"/>
<path d="M320.4,1922.8 C320.4,1922.8 322.0,1935.7 322.9,1942.1 C323.8,1948.6 325.3,1960.6 326.5,1966.3 C327.7,1972.0 330.3,1977.7 331.3,1983.2 C332.3,1988.8 332.7,1994.5 332.5,2000.1 C332.3,2005.8 331.3,2012.1 330.1,2017.0 C329.0,2022.0 326.6,2027.5 325.3,2031.5 C324.0,2035.5 322.4,2039.7 321.7,2043.6 C320.9,2047.6 320.4,2055.7 320.4,2055.7 C320.4,2055.7 319.4,2044.4 319.2,2038.8 C319.1,2033.1 318.8,2014.6 318.8,2002.5 C318.8,1990.5 319.1,1976.0 319.2,1966.3 C319.4,1956.6 319.6,1942.1 319.7,1937.3 C319.9,1932.5 320.4,1922.8 320.4,1922.8Z" fill="#fff" stroke="#231f20" stroke-width="2.2" stroke-dasharray="6.2 4" stroke-linejoin="round"/>
<path d="M327.7,1797.2 C328.6,1795.8 330.9,1795.6 332.5,1796.0 C334.2,1796.3 337.6,1798.0 339.8,1799.6 C341.9,1801.2 345.1,1804.0 347.0,1806.8 C349.0,1809.6 351.4,1814.7 353.1,1818.9 C354.8,1823.1 356.3,1828.6 357.9,1833.4 C359.5,1838.2 361.3,1843.1 362.7,1847.9 C364.1,1852.7 366.0,1858.4 366.4,1862.4 C366.7,1866.4 366.0,1871.7 365.1,1874.5 C364.3,1877.3 361.6,1880.6 360.3,1881.7 C359.1,1882.8 356.9,1883.9 355.5,1882.9 C354.1,1882.0 351.3,1877.4 349.4,1874.5 C347.6,1871.6 344.4,1866.5 342.2,1862.4 C339.9,1858.3 336.9,1852.6 334.9,1847.9 C333.0,1843.2 331.5,1838.2 330.1,1833.4 C328.7,1828.6 327.2,1822.9 326.5,1818.9 C325.8,1814.9 325.1,1810.1 325.3,1806.8 C325.5,1803.5 326.8,1798.5 327.7,1797.2Z" fill="url(#cyanpat)" stroke="#231f20" stroke-width="2.2" stroke-dasharray="6.2 4" stroke-linejoin="round"/>
<path d="M309.6,1789.9 C310.8,1788.9 314.0,1788.0 315.6,1788.7 C317.3,1789.4 318.0,1791.7 318.0,1793.5 C318.0,1795.3 316.8,1798.5 315.6,1799.6 C314.4,1800.6 312.1,1800.5 310.8,1799.6 C309.4,1798.7 308.6,1796.4 308.4,1794.7 C308.2,1793.1 308.3,1791.0 309.6,1789.9Z" fill="url(#cyanpat)" stroke="#231f20" stroke-width="2.2" stroke-linejoin="round"/>
<path d="M394.1,1780.2 C387.9,1783.9 395.3,1795.5 395.3,1802.0 C395.3,1808.5 394.7,1814.9 394.1,1821.3 C393.6,1827.8 392.7,1836.6 391.7,1843.1 C390.8,1849.6 389.2,1856.7 388.1,1862.4 C387.0,1868.1 385.8,1874.4 384.5,1879.3 C383.1,1884.2 381.3,1889.6 379.6,1893.8 C377.9,1898.0 375.1,1903.8 373.6,1905.9 C372.1,1908.0 368.3,1908.2 367.6,1910.7 C366.9,1913.2 368.2,1918.8 368.8,1922.8 C369.4,1926.8 371.2,1935.7 372.4,1942.1 C373.6,1948.6 374.9,1955.8 376.0,1961.5 C377.1,1967.1 378.6,1972.8 379.6,1978.4 C380.6,1984.0 381.5,1989.6 382.1,1995.3 C382.6,2001.0 382.9,2009.8 383.3,2014.6 C383.6,2019.5 382.5,2026.5 384.5,2029.1 C386.4,2031.7 391.0,2029.7 394.1,2029.1 C397.3,2028.5 401.4,2027.9 403.8,2025.5 C406.2,2023.1 407.7,2018.5 408.6,2014.6 C409.6,2010.8 410.5,2000.9 411.1,1995.3 C411.6,1989.7 412.3,1984.0 412.3,1978.4 C412.3,1972.7 411.6,1966.3 411.1,1961.5 C410.5,1956.6 409.1,1950.2 408.6,1947.0 C408.2,1943.8 407.0,1940.5 407.4,1937.3 C407.8,1934.1 409.9,1930.9 411.1,1927.6 C412.2,1924.4 414.7,1918.1 415.9,1913.1 C417.1,1908.2 418.4,1900.3 419.5,1893.8 C420.6,1887.3 422.1,1877.7 423.1,1869.7 C424.1,1861.6 424.7,1853.5 425.6,1845.5 C426.4,1837.4 427.3,1827.8 428.0,1821.3 C428.7,1814.9 429.6,1808.4 430.4,1802.0 C431.1,1795.5 439.1,1784.0 432.8,1780.2 C426.5,1776.5 400.4,1776.6 394.1,1780.2Z" fill="url(#cyanpat)" stroke="#231f20" stroke-width="2.2" stroke-dasharray="6.2 4" stroke-linejoin="round"/>
<path d="M384.5,2041.8 C386.5,2041.6 389.2,2044.4 391.7,2045.5 C394.2,2046.5 399.1,2046.5 401.4,2049.1 C403.7,2051.6 405.2,2056.9 406.2,2061.2 C407.3,2065.4 408.6,2074.0 409.1,2080.5 C409.7,2087.0 409.9,2096.6 409.8,2104.7 C409.8,2112.7 409.4,2122.3 408.6,2128.8 C407.9,2135.3 406.0,2144.7 405.0,2148.1 C404.0,2151.6 401.6,2156.7 400.2,2157.8 C398.7,2158.9 396.4,2156.8 395.3,2155.4 C394.3,2154.0 390.8,2147.6 389.3,2143.3 C387.8,2139.1 384.9,2128.7 383.3,2121.6 C381.7,2114.4 380.6,2107.0 379.6,2099.8 C378.7,2092.6 377.9,2084.5 377.7,2078.1 C377.5,2071.6 378.0,2062.8 378.4,2058.7 C378.8,2054.7 380.2,2048.6 380.8,2046.7 C381.5,2044.8 382.5,2042.1 384.5,2041.8Z" fill="url(#cyanpat)" stroke="#231f20" stroke-width="2.2" stroke-dasharray="6.2 4" stroke-linejoin="round"/>
<path d="M442.5,1780.2 C435.5,1782.2 441.6,1795.6 441.3,1802.0 C440.9,1808.4 440.4,1814.9 440.0,1821.3 C439.7,1827.8 439.2,1837.4 438.8,1845.5 C438.4,1853.5 438.2,1861.6 437.6,1869.7 C437.0,1877.7 435.9,1887.4 435.2,1893.8 C434.5,1900.3 433.6,1906.7 432.8,1913.1 C432.0,1919.6 430.8,1926.0 430.4,1932.5 C430.0,1939.0 430.2,1947.0 430.4,1954.2 C430.6,1961.5 431.2,1970.3 431.6,1978.4 C432.0,1986.4 432.6,1994.5 432.8,2002.5 C433.0,2010.6 432.6,2024.1 432.8,2032.2 C433.0,2040.2 433.5,2048.3 434.0,2056.3 C434.5,2064.4 435.1,2072.4 435.7,2080.5 C436.3,2088.5 437.1,2098.2 437.6,2104.7 C438.2,2111.1 439.2,2121.1 439.6,2124.0 C439.9,2126.8 441.3,2132.4 441.3,2132.4 C441.3,2132.4 443.2,2126.9 443.7,2124.0 C444.2,2121.1 445.2,2111.1 446.1,2104.7 C447.0,2098.2 448.5,2088.5 449.7,2080.5 C450.9,2072.4 452.1,2064.4 453.3,2056.3 C454.5,2048.3 456.1,2034.7 457.0,2032.2 C457.8,2029.6 462.1,2029.3 463.0,2026.7 C463.9,2024.2 466.4,2009.0 467.8,2002.5 C469.3,1996.1 471.1,1989.7 472.7,1983.2 C474.3,1976.8 476.2,1968.0 477.5,1963.9 C478.8,1959.7 482.3,1951.8 482.3,1951.8 C482.3,1951.8 485.1,1956.5 486.0,1959.1 C486.8,1961.6 488.7,1971.0 489.6,1973.6 C490.4,1976.1 493.2,1980.8 493.2,1980.8 C493.2,1980.8 496.8,1973.6 496.8,1973.6 C496.8,1973.6 499.6,1978.2 500.5,1980.8 C501.3,1983.4 502.8,1990.5 504.1,1995.3 C505.4,2000.1 507.1,2006.6 508.9,2012.2 C510.7,2017.8 513.3,2025.5 515.0,2029.1 C516.6,2032.8 519.2,2035.8 521.0,2039.4 C522.7,2043.0 526.1,2052.1 528.2,2056.3 C530.3,2060.5 533.9,2066.4 535.5,2068.4 C537.1,2070.4 539.2,2072.6 541.5,2073.2 C543.9,2073.9 546.5,2073.0 548.8,2072.0 C551.0,2071.1 555.5,2068.4 558.4,2066.0 C561.4,2063.6 565.5,2060.0 568.1,2056.3 C570.7,2052.7 572.6,2048.5 574.2,2044.2 C575.7,2040.0 576.8,2034.6 577.8,2029.7 C578.8,2024.9 579.6,2019.7 580.2,2014.6 C580.8,2009.6 581.9,1998.5 582.1,1990.5 C582.3,1982.4 581.7,1974.4 581.4,1966.3 C581.1,1958.3 580.5,1950.2 580.2,1942.1 C579.9,1934.1 580.2,1922.9 579.7,1918.0 C579.2,1913.1 577.9,1908.2 576.6,1903.5 C575.3,1898.7 573.5,1892.6 571.7,1889.0 C569.9,1885.4 566.9,1882.5 564.5,1879.3 C562.1,1876.1 559.5,1872.2 557.2,1869.7 C555.0,1867.1 552.0,1863.1 550.0,1862.4 C548.0,1861.7 545.6,1863.4 543.9,1864.8 C542.3,1866.3 539.1,1872.1 539.1,1872.1 C539.1,1872.1 535.8,1869.2 535.5,1867.2 C535.2,1865.2 535.5,1859.9 536.7,1857.6 C537.9,1855.3 541.2,1854.8 542.7,1852.7 C544.3,1850.7 547.0,1846.6 547.6,1843.1 C548.2,1839.5 547.2,1833.4 546.4,1831.0 C545.5,1828.5 543.3,1826.5 541.5,1824.9 C539.8,1823.4 537.2,1822.9 535.5,1821.3 C533.7,1819.8 531.0,1816.8 529.5,1814.1 C527.9,1811.3 526.0,1806.0 524.6,1802.0 C523.2,1798.0 521.7,1793.1 521.0,1789.9 C520.3,1786.7 523.0,1780.6 519.8,1780.2 C516.6,1779.9 449.5,1778.3 442.5,1780.2Z" fill="url(#pinkpat)" stroke="#231f20" stroke-width="2.2" stroke-dasharray="6.2 4" stroke-linejoin="round"/>
<path d="M574.2,1780.2 C567.4,1782.8 573.3,1795.6 572.9,1802.0 C572.6,1808.4 572.1,1814.9 571.7,1821.3 C571.3,1827.8 570.4,1835.8 570.5,1840.7 C570.7,1845.6 571.8,1851.0 572.9,1855.2 C574.1,1859.3 576.2,1864.2 577.8,1867.2 C579.4,1870.3 582.2,1874.0 583.8,1875.7 C585.5,1877.4 587.6,1880.1 589.9,1879.3 C592.1,1878.6 593.6,1874.8 594.7,1872.1 C595.7,1869.4 597.4,1862.5 598.3,1857.6 C599.3,1852.7 600.2,1846.3 600.7,1840.7 C601.3,1835.0 601.4,1827.0 601.9,1821.3 C602.5,1815.7 603.3,1808.6 604.4,1804.4 C605.4,1800.2 609.2,1792.3 609.2,1792.3 C609.2,1792.3 613.0,1794.2 614.0,1796.0 C615.1,1797.7 614.7,1802.3 616.4,1804.4 C618.1,1806.5 621.3,1807.6 623.7,1808.0 C626.1,1808.4 629.3,1808.7 630.9,1806.8 C632.6,1805.0 633.4,1800.5 633.4,1797.2 C633.4,1793.8 636.4,1781.8 630.9,1780.2 C625.5,1778.7 580.9,1777.7 574.2,1780.2Z" fill="url(#cyanpat)" stroke="#231f20" stroke-width="2.2" stroke-dasharray="6.2 4" stroke-linejoin="round"/>
<path d="M641.8,1780.2 C637.9,1783.2 640.2,1792.5 640.6,1794.7 C641.0,1797.0 643.2,1799.1 645.4,1799.6 C647.7,1800.0 650.6,1798.6 652.7,1797.2 C654.8,1795.7 656.5,1793.5 657.5,1791.1 C658.5,1788.8 663.0,1782.4 659.9,1780.2 C656.9,1778.1 645.7,1777.3 641.8,1780.2Z" fill="url(#pinkpat)" stroke="#231f20" stroke-width="2.2" stroke-dasharray="6.2 4" stroke-linejoin="round"/>
<path d="M678.7,1889.0 C678.7,1889.0 679.5,1898.7 679.1,1903.5 C678.8,1908.3 677.2,1913.1 676.7,1918.0 C676.2,1922.9 675.7,1934.1 675.3,1942.1 C674.8,1950.2 674.4,1958.3 674.1,1966.3 C673.8,1974.4 673.4,1982.4 673.6,1990.5 C673.8,1998.5 674.5,2008.1 675.3,2014.6 C676.0,2021.1 677.4,2028.2 678.7,2034.0 C680.0,2039.7 682.3,2047.5 683.5,2050.9 C684.7,2054.3 686.7,2058.3 688.3,2060.5 C689.9,2062.7 693.3,2063.5 694.4,2066.0 C695.4,2068.5 697.2,2077.2 698.0,2082.9 C698.8,2088.6 699.5,2097.4 699.9,2104.7 C700.4,2111.9 700.5,2120.8 700.9,2128.8 C701.3,2136.9 701.9,2144.9 702.3,2153.0 C702.7,2161.0 703.1,2169.1 703.3,2177.1 C703.5,2185.2 703.5,2193.2 703.3,2201.3 C703.1,2209.4 702.8,2217.4 702.3,2225.5 C701.9,2233.5 701.2,2243.9 700.4,2249.6 C699.6,2255.3 698.0,2262.4 696.8,2266.5 C695.6,2270.7 693.4,2275.3 691.9,2278.6 C690.5,2281.9 688.7,2285.1 687.1,2288.3 C685.5,2291.5 682.3,2298.0 682.3,2298.0 C682.3,2298.0 782.5,2333.0 789.8,2298.0 C797.1,2262.9 796.8,1814.6 789.8,1780.2 C782.8,1745.9 688.7,1779.8 684.7,1780.2 C680.7,1780.7 685.8,1789.1 685.9,1792.3 C686.0,1795.6 686.0,1799.4 685.4,1802.0 C684.9,1804.6 683.8,1807.2 682.3,1809.2 C680.7,1811.3 678.8,1813.7 676.2,1814.1 C673.7,1814.4 668.1,1812.7 664.2,1811.7 C660.2,1810.7 655.8,1808.4 652.6,1808.0 C649.4,1807.7 645.8,1807.7 643.0,1809.2 C640.3,1810.7 638.4,1813.7 637.0,1816.5 C635.6,1819.3 634.3,1824.6 633.4,1828.6 C632.4,1832.6 631.9,1837.3 630.9,1840.7 C630.0,1844.0 628.5,1848.1 627.3,1850.3 C626.1,1852.6 624.4,1855.5 622.5,1856.4 C620.6,1857.2 618.1,1856.4 616.4,1855.2 C614.8,1853.9 611.6,1847.9 611.6,1847.9 C611.6,1847.9 610.6,1851.1 610.4,1852.7 C610.2,1854.4 609.8,1857.7 610.4,1860.0 C611.0,1862.3 611.8,1865.3 614.0,1866.0 C616.2,1866.8 618.8,1863.8 621.3,1863.6 C623.7,1863.4 626.5,1863.4 628.5,1864.8 C630.5,1866.2 632.2,1869.4 633.4,1872.1 C634.5,1874.7 635.9,1880.1 637.0,1884.1 C638.1,1888.2 639.6,1893.9 640.6,1898.6 C641.6,1903.4 642.0,1908.3 643.0,1913.1 C644.0,1917.9 645.4,1923.9 646.6,1927.6 C647.9,1931.4 650.1,1936.6 651.5,1938.5 C652.9,1940.4 655.2,1941.9 657.5,1942.1 C659.9,1942.4 662.2,1940.3 664.2,1939.7 C666.1,1939.2 668.7,1937.8 670.2,1938.5 C671.7,1939.2 671.9,1943.3 671.9,1943.3 C671.9,1943.3 673.7,1934.5 674.3,1930.1 C675.0,1925.6 675.6,1918.0 676.2,1913.1 C676.8,1908.3 677.9,1901.9 678.2,1898.6 C678.5,1895.4 678.7,1889.0 678.7,1889.0Z" fill="url(#pinkpat)" stroke="#231f20" stroke-width="2.2" stroke-dasharray="6.2 4" stroke-linejoin="round"/>
<path d="M511.3,2124.0 C513.0,2124.3 513.8,2127.2 515.0,2128.8 C516.1,2130.5 520.0,2136.1 522.2,2139.7 C524.4,2143.2 526.9,2148.6 528.2,2150.6 C529.6,2152.5 530.9,2155.4 533.1,2155.9 C535.3,2156.4 537.3,2154.3 539.1,2153.0 C540.9,2151.6 544.1,2148.3 546.4,2145.7 C548.6,2143.1 551.2,2139.3 553.6,2136.1 C556.0,2132.8 558.8,2128.6 560.9,2126.4 C562.9,2124.2 565.2,2121.8 568.1,2121.1 C571.0,2120.4 576.9,2121.2 580.2,2121.6 C583.5,2121.9 587.6,2121.1 589.9,2123.5 C592.1,2125.9 592.6,2131.8 593.5,2136.1 C594.4,2140.3 595.0,2147.4 595.9,2153.0 C596.8,2158.6 598.6,2166.7 599.5,2172.3 C600.5,2177.9 601.7,2183.5 601.9,2189.2 C602.1,2194.9 601.3,2202.1 600.7,2208.6 C600.1,2215.0 599.3,2221.5 598.3,2227.9 C597.4,2234.3 595.8,2243.2 594.7,2249.6 C593.6,2256.1 592.0,2262.5 591.1,2269.0 C590.1,2275.4 596.7,2295.1 587.4,2298.0 C578.1,2300.9 509.2,2302.5 498.0,2298.0 C486.8,2293.4 497.9,2273.8 497.6,2261.7 C497.2,2249.6 496.4,2236.7 496.1,2225.5 C495.8,2214.2 495.5,2200.5 495.6,2191.6 C495.7,2182.8 496.4,2170.7 496.8,2165.1 C497.3,2159.4 498.4,2152.3 499.2,2148.1 C500.1,2144.0 501.6,2139.1 502.9,2136.1 C504.1,2133.1 506.7,2129.0 507.7,2127.6 C508.7,2126.2 509.6,2123.7 511.3,2124.0Z" fill="url(#cyanpat)" stroke="#231f20" stroke-width="2.2" stroke-dasharray="6.2 4" stroke-linejoin="round"/>
<path d="M741.5,1785.1 C743.7,1784.1 754.6,1783.8 757.2,1785.1 C759.7,1786.4 759.0,1791.6 758.4,1793.5 C757.8,1795.5 755.5,1796.8 753.6,1797.2 C751.6,1797.5 746.7,1796.6 745.1,1796.0 C743.5,1795.3 742.0,1794.0 741.5,1792.3 C740.9,1790.7 739.3,1786.1 741.5,1785.1Z" fill="url(#cyanpat)" stroke="#231f20" stroke-width="2.2" stroke-linejoin="round"/>
<path d="M339.8,1815.3 C341.9,1815.6 343.5,1819.0 344.6,1821.3 C345.8,1823.6 347.9,1829.0 348.2,1832.2 C348.6,1835.4 347.6,1840.3 347.0,1841.9 C346.4,1843.5 345.0,1846.0 343.4,1845.5 C341.8,1845.0 339.8,1841.7 338.6,1839.4 C337.3,1837.2 335.4,1833.0 334.9,1829.8 C334.5,1826.6 335.0,1822.1 335.7,1820.1 C336.3,1818.1 337.7,1815.0 339.8,1815.3Z" fill="none" stroke="#231f20" stroke-width="2.2" stroke-linejoin="round"/>
<path d="M351.9,1793.5 C353.0,1792.3 357.4,1789.7 360.3,1789.9 C363.2,1790.1 366.7,1792.8 367.6,1794.7 C368.4,1796.7 366.9,1799.5 365.1,1800.8 C363.4,1802.1 360.0,1802.4 357.9,1802.0 C355.8,1801.6 353.5,1799.7 352.6,1798.4 C351.6,1797.0 350.8,1794.7 351.9,1793.5Z" fill="none" stroke="#231f20" stroke-width="2.2" stroke-linejoin="round"/>
<path d="M371.2,1815.3 C372.1,1813.9 374.6,1813.3 376.0,1814.1 C377.5,1814.9 378.0,1817.2 377.7,1818.9 C377.4,1820.6 374.3,1824.9 374.3,1824.9 C374.3,1824.9 371.7,1822.8 371.2,1821.3 C370.7,1819.8 370.3,1816.7 371.2,1815.3Z" fill="none" stroke="#231f20" stroke-width="2.2" stroke-linejoin="round"/>
<path d="M321.7,1797.2 C321.7,1797.2 322.1,1814.8 322.9,1821.3 C323.6,1827.8 324.7,1834.8 326.5,1840.7 C328.2,1846.5 331.5,1851.9 333.7,1857.6 C336.0,1863.3 338.9,1870.4 341.0,1876.9 C343.1,1883.4 345.1,1891.4 347.0,1898.6 C348.9,1905.9 351.3,1914.8 353.1,1922.8 C354.9,1930.8 356.5,1938.9 357.9,1947.0 C359.3,1955.0 360.5,1963.1 361.5,1971.1 C362.5,1979.2 363.4,1987.3 363.9,1995.3 C364.5,2003.3 364.7,2011.4 364.7,2019.5 C364.7,2027.5 364.2,2035.6 363.9,2043.6 C363.6,2051.7 362.7,2073.1 362.7,2073.1 C362.7,2073.1 359.8,2068.4 359.8,2068.4 C359.8,2068.4 358.6,2092.6 357.9,2104.7 C357.2,2116.7 356.3,2128.8 355.5,2140.9 C354.7,2153.0 353.9,2165.1 353.1,2177.1 C352.3,2189.2 351.5,2201.3 350.6,2213.4 C349.8,2225.5 348.9,2237.5 348.2,2249.6 C347.5,2261.7 345.8,2298.0 345.8,2298.0" fill="none" stroke="#231f20" stroke-width="2.2" stroke-linejoin="round"/>
<path d="M320.4,1802.0 C320.4,1802.0 320.6,1819.6 321.2,1826.2 C321.8,1832.7 322.9,1839.2 324.6,1845.5 C326.2,1851.8 329.2,1858.4 331.3,1864.8 C333.4,1871.2 335.5,1877.7 337.4,1884.1 C339.3,1890.6 341.6,1898.7 343.4,1905.9 C345.2,1913.1 346.8,1920.4 348.2,1927.6 C349.6,1934.9 350.9,1942.1 351.9,1949.4 C352.8,1956.7 353.7,1965.5 354.3,1973.6 C354.9,1981.6 355.5,1997.7 355.5,1997.7" fill="none" stroke="#231f20" stroke-width="2.2" stroke-linejoin="round"/>
<path d="M435.2,1782.7 C435.2,1782.7 434.6,1801.2 434.0,1809.2 C433.4,1817.3 432.4,1825.4 431.6,1833.4 C430.8,1841.5 430.0,1849.5 429.2,1857.6 C428.4,1865.6 427.6,1873.7 426.8,1881.7 C426.0,1889.8 425.1,1897.8 424.3,1905.9 C423.5,1913.9 422.4,1922.0 421.9,1930.1 C421.4,1938.1 421.2,1946.2 421.2,1954.2 C421.2,1962.3 421.6,1970.3 421.9,1978.4 C422.2,1986.4 422.7,1994.5 423.1,2002.5 C423.5,2010.6 424.0,2018.7 424.3,2026.7 C424.7,2034.8 424.9,2043.5 425.1,2050.9 C425.3,2058.3 425.7,2070.6 425.6,2073.1 C425.4,2075.6 424.0,2078.0 423.9,2080.5 C423.7,2083.0 423.7,2104.7 423.6,2116.7 C423.5,2128.8 423.1,2140.9 423.1,2153.0 C423.1,2165.1 423.4,2177.1 423.6,2189.2 C423.8,2201.3 424.0,2213.4 424.3,2225.5 C424.7,2237.5 425.1,2249.6 425.6,2261.7 C426.0,2273.8 426.8,2298.0 426.8,2298.0" fill="none" stroke="#231f20" stroke-width="2.2" stroke-linejoin="round"/>
<path d="M438.8,1782.7 C438.8,1782.7 438.6,1800.4 438.1,1809.2 C437.6,1818.1 436.5,1827.8 435.7,1835.8 C434.9,1843.9 433.6,1852.7 432.8,1860.0 C432.0,1867.2 431.2,1874.5 430.4,1881.7 C429.6,1889.0 428.2,1901.1 427.5,1908.3 C426.8,1915.6 425.6,1930.1 425.6,1930.1" fill="none" stroke="#231f20" stroke-width="2.2" stroke-linejoin="round"/>
<path d="M452.1,1873.3 C452.1,1873.3 456.7,1875.1 458.2,1876.9 C459.7,1878.7 462.5,1883.0 463.0,1886.6 C463.5,1890.1 462.4,1897.9 461.8,1903.5 C461.2,1909.1 459.4,1922.8 459.4,1922.8" fill="none" stroke="#231f20" stroke-width="2.2" stroke-linejoin="round"/>
<path d="M454.5,1947.0 C454.5,1947.0 452.8,1962.2 452.1,1966.3 C451.5,1970.4 450.3,1976.8 449.7,1978.4 C449.1,1980.0 446.1,1982.0 446.1,1982.0 C446.1,1982.0 442.3,1976.6 441.3,1973.6 C440.2,1970.5 438.5,1962.3 437.6,1956.6 C436.8,1950.9 435.9,1943.8 435.7,1937.3 C435.5,1930.9 435.7,1924.4 436.4,1918.0 C437.1,1911.6 438.7,1904.4 440.0,1898.6 C441.4,1892.9 443.3,1885.1 444.9,1881.7 C446.5,1878.4 452.1,1873.3 452.1,1873.3" fill="none" stroke="#231f20" stroke-width="2.2" stroke-linejoin="round"/>
<path d="M449.7,1782.7 C449.7,1782.7 447.8,1797.2 447.3,1802.0 C446.8,1806.8 445.7,1811.7 446.1,1816.5 C446.5,1821.3 448.4,1828.1 449.7,1831.0 C451.0,1833.9 452.7,1837.7 455.8,1838.2 C458.9,1838.8 461.9,1834.5 464.2,1833.4 C466.5,1832.3 469.0,1830.3 471.5,1831.0 C473.9,1831.7 476.4,1836.5 477.5,1837.0 C478.6,1837.6 480.3,1834.9 481.1,1835.8 C482.0,1836.8 484.0,1842.1 484.7,1845.5 C485.5,1848.8 486.6,1856.7 487.2,1862.4 C487.7,1868.1 488.0,1876.1 488.4,1881.7 C488.8,1887.4 489.1,1894.6 489.6,1898.6 C490.1,1902.7 490.7,1909.1 492.0,1910.7 C493.3,1912.3 496.3,1908.4 498.0,1909.5 C499.7,1910.7 501.7,1914.9 502.9,1918.0 C504.0,1921.0 506.4,1929.2 507.7,1934.9 C509.0,1940.6 510.1,1947.8 511.3,1954.2 C512.5,1960.7 513.6,1967.8 515.0,1973.6 C516.3,1979.3 518.1,1985.5 519.8,1990.5 C521.5,1995.4 524.0,2000.9 525.8,2005.0 C527.7,2009.1 531.9,2017.0 531.9,2017.0" fill="none" stroke="#231f20" stroke-width="2.2" stroke-linejoin="round"/>
<path d="M541.5,2041.2 C541.5,2041.2 546.5,2046.5 548.8,2047.2 C551.1,2048.0 554.1,2047.5 556.0,2046.0 C558.0,2044.6 561.3,2039.9 563.3,2036.4 C565.2,2032.8 567.9,2026.9 569.3,2021.9 C570.8,2016.8 572.2,2009.1 572.9,2002.5 C573.7,1996.0 574.2,1987.3 574.2,1980.8 C574.2,1974.3 573.7,1967.2 572.9,1961.5 C572.2,1955.8 570.5,1948.7 569.3,1944.6 C568.1,1940.4 565.9,1935.8 564.5,1932.5 C563.0,1929.2 561.4,1925.8 559.7,1922.8 C557.9,1919.8 555.1,1915.1 553.6,1914.4 C552.1,1913.6 550.8,1916.5 550.0,1918.0 C549.2,1919.5 546.5,1928.5 545.2,1930.1 C543.9,1931.6 540.6,1932.7 539.1,1931.3 C537.7,1929.8 536.5,1924.1 535.5,1920.4 C534.5,1916.7 533.0,1909.1 531.9,1903.5 C530.7,1897.8 529.2,1890.6 528.2,1884.1 C527.2,1877.7 526.4,1871.2 525.8,1864.8 C525.2,1858.4 525.4,1851.2 524.6,1845.5 C523.9,1839.8 522.3,1833.5 521.0,1828.6 C519.7,1823.7 517.6,1818.2 516.2,1814.1 C514.7,1810.0 512.8,1805.3 511.3,1802.0 C509.9,1798.7 507.9,1795.5 506.5,1792.3 C505.1,1789.2 502.9,1782.7 502.9,1782.7" fill="none" stroke="#231f20" stroke-width="2.2" stroke-linejoin="round"/>
<path d="M457.0,1782.7 C457.0,1782.7 460.8,1791.4 463.0,1793.5 C465.2,1795.7 468.9,1795.8 471.5,1797.2 C474.0,1798.5 475.9,1802.3 478.7,1802.0 C481.5,1801.7 483.2,1798.4 484.7,1796.0 C486.3,1793.5 490.8,1782.7 490.8,1782.7" fill="none" stroke="#231f20" stroke-width="2.2" stroke-linejoin="round"/>
<path d="M472.7,1885.4 L477.5,1886.1" fill="none" stroke="#231f20" stroke-width="2.2" stroke-linejoin="round"/>
<path d="M530.7,1782.7 C530.7,1782.7 531.5,1794.7 533.1,1797.2 C534.7,1799.6 538.7,1799.4 541.5,1799.6 C544.4,1799.8 547.8,1796.6 550.0,1798.4 C552.2,1800.1 553.0,1805.5 553.6,1809.2 C554.3,1813.0 554.5,1820.5 554.8,1826.2 C555.1,1831.8 555.0,1839.8 555.5,1845.5 C556.1,1851.2 556.9,1858.0 558.4,1862.4 C560.0,1866.8 563.1,1870.5 565.7,1874.5 C568.3,1878.4 571.5,1883.2 574.2,1886.6 C576.8,1889.9 580.0,1893.6 582.6,1896.2 C585.2,1898.9 588.6,1900.7 591.1,1903.5 C593.5,1906.3 596.6,1909.4 597.1,1913.1 C597.6,1916.9 595.7,1924.5 594.7,1930.1 C593.7,1935.7 591.5,1941.2 591.1,1947.0 C590.6,1952.7 591.0,1960.6 591.8,1966.3 C592.6,1972.1 595.0,1977.6 595.9,1983.2 C596.8,1988.8 597.5,1995.2 597.1,2000.1 C596.7,2005.1 595.1,2009.9 593.5,2014.6 C591.9,2019.4 589.2,2024.4 587.4,2029.1 C585.7,2033.9 583.8,2038.9 582.6,2043.6 C581.4,2048.4 580.2,2058.1 580.2,2058.1 C580.2,2058.1 589.9,2008.0 589.9,2008.0 C589.9,2008.0 588.2,2014.4 587.4,2017.7 C586.6,2020.9 583.8,2032.2 583.8,2032.2" fill="none" stroke="#231f20" stroke-width="2.2" stroke-linejoin="round"/>
<path d="M611.6,1797.2 C611.6,1797.2 608.8,1806.7 608.0,1811.7 C607.2,1816.6 606.1,1826.1 605.6,1833.4 C605.0,1840.7 604.4,1849.5 604.4,1857.6 C604.4,1865.6 605.2,1873.7 605.6,1881.7 C606.0,1889.8 606.8,1901.8 606.8,1905.9 C606.8,1909.9 605.6,1918.0 605.6,1918.0 C605.6,1918.0 609.1,1911.7 610.4,1908.3 C611.7,1905.0 613.0,1898.3 614.0,1896.2 C615.0,1894.2 616.6,1891.4 618.9,1891.4 C621.1,1891.4 623.5,1894.1 624.9,1896.2 C626.3,1898.4 628.6,1904.1 629.7,1908.3 C630.9,1912.5 632.9,1921.2 633.4,1927.6 C633.8,1934.1 633.0,1942.0 632.1,1947.0 C631.2,1952.0 628.9,1958.0 627.3,1961.5 C625.8,1964.9 624.0,1970.1 621.3,1971.1 C618.5,1972.1 615.6,1967.2 614.0,1966.3 C612.5,1965.4 610.6,1962.7 609.2,1963.9 C607.8,1965.1 606.3,1970.2 605.6,1973.6 C604.8,1976.9 603.7,1984.8 603.1,1990.5 C602.6,1996.1 601.9,2003.9 601.9,2009.8 C601.9,2015.7 602.6,2021.7 603.1,2027.3 C603.7,2033.0 604.8,2040.9 605.6,2044.2 C606.3,2047.6 609.2,2053.9 609.2,2053.9 C609.2,2053.9 613.0,2049.4 614.0,2046.7 C615.1,2044.0 616.4,2037.0 617.6,2032.2 C618.9,2027.3 619.9,2022.5 621.3,2017.7 C622.6,2012.9 626.7,1999.3 627.3,1997.7 C628.0,1996.1 630.9,1994.1 630.9,1994.1 C630.9,1994.1 634.7,1999.5 635.8,2002.5 C636.8,2005.6 638.9,2016.8 640.6,2022.5 C642.3,2028.2 645.4,2033.6 646.6,2039.4 C647.9,2045.3 649.2,2058.7 650.3,2068.4 C651.3,2078.1 652.7,2092.6 653.9,2104.7 C655.1,2116.7 656.4,2130.4 657.5,2140.9 C658.6,2151.4 660.4,2165.9 661.1,2172.3 C661.9,2178.8 663.7,2185.1 663.6,2191.6 C663.4,2198.1 661.3,2206.2 659.9,2213.4 C658.6,2220.6 656.7,2229.5 655.1,2237.5 C653.5,2245.6 651.4,2256.1 650.3,2261.7 C649.1,2267.4 647.6,2272.9 646.6,2278.6 C645.7,2284.3 644.2,2298.0 644.2,2298.0" fill="none" stroke="#231f20" stroke-width="2.2" stroke-linejoin="round"/>
<path d="M467.8,2298.0 C467.8,2298.0 468.4,2273.8 469.0,2261.7 C469.6,2249.6 470.7,2237.5 471.5,2225.5 C472.3,2213.4 473.7,2201.3 473.9,2189.2 C474.1,2177.1 473.3,2165.0 472.7,2153.0 C472.1,2140.9 471.0,2126.4 470.3,2116.7 C469.5,2107.1 468.0,2095.8 467.8,2087.7 C467.7,2079.7 468.2,2071.6 469.0,2063.6 C469.8,2055.6 471.6,2044.0 472.7,2039.4 C473.7,2034.8 477.5,2026.1 477.5,2026.1 C477.5,2026.1 480.4,2028.2 481.1,2029.7 C481.8,2031.3 483.4,2037.9 484.7,2041.8 C486.1,2045.8 487.0,2052.3 489.6,2053.9 C492.2,2055.6 495.1,2049.3 498.0,2050.3 C500.9,2051.3 501.9,2056.1 504.1,2058.7 C506.3,2061.4 509.1,2063.4 511.3,2066.0 C513.6,2068.6 516.3,2072.3 518.6,2075.7 C520.8,2079.0 523.8,2083.5 525.8,2087.7 C527.8,2092.0 529.2,2098.2 530.7,2101.0 C532.1,2103.8 535.4,2107.3 536.7,2108.3 C538.0,2109.3 540.0,2110.2 541.5,2109.5 C543.0,2108.8 545.8,2105.7 547.6,2103.4 C549.3,2101.2 551.7,2096.7 553.6,2093.8 C555.5,2090.9 557.5,2087.6 559.7,2085.3 C561.8,2083.0 565.0,2080.7 566.9,2079.3 C568.8,2077.9 571.6,2077.6 572.9,2075.7 C574.3,2073.8 575.6,2069.3 576.6,2066.0 C577.6,2062.7 579.1,2056.4 580.2,2051.5 C581.2,2046.6 583.8,2032.2 583.8,2032.2" fill="none" stroke="#231f20" stroke-width="2.2" stroke-linejoin="round"/>
<path d="M665.0,1824.9 C665.0,1824.9 660.0,1824.1 657.5,1823.7 C655.0,1823.4 650.4,1822.4 647.8,1822.5 C645.3,1822.7 642.4,1823.1 640.6,1824.9 C638.8,1826.8 637.5,1830.4 637.0,1833.4 C636.5,1836.4 636.4,1843.7 637.0,1847.9 C637.5,1852.1 639.1,1856.9 640.6,1860.0 C642.1,1863.1 645.0,1866.8 646.6,1868.4 C648.3,1870.1 650.9,1870.6 652.7,1872.1 C654.5,1873.6 657.9,1877.0 659.9,1879.3 C661.9,1881.6 665.4,1886.6 665.4,1886.6 C665.4,1886.6 667.6,1880.1 669.0,1876.9 C670.4,1873.7 672.4,1870.4 673.8,1867.2 C675.2,1864.1 676.2,1860.8 677.5,1857.6 C678.7,1854.3 680.0,1851.2 681.1,1847.9 C682.2,1844.6 683.8,1839.9 684.7,1835.8 C685.6,1831.7 686.6,1825.3 687.1,1821.3 C687.7,1817.3 687.9,1813.3 688.3,1809.2 C688.7,1805.2 689.2,1801.2 689.5,1797.2 C689.9,1793.1 690.7,1782.7 690.7,1782.7" fill="none" stroke="#231f20" stroke-width="2.2" stroke-linejoin="round"/>
<path d="M582.6,1782.7 C582.6,1782.7 584.9,1791.6 586.2,1793.5 C587.5,1795.5 589.9,1797.2 592.3,1797.2 C594.6,1797.2 597.7,1795.5 599.5,1793.5 C601.3,1791.5 605.6,1782.7 605.6,1782.7" fill="none" stroke="#231f20" stroke-width="2.2" stroke-linejoin="round"/>
<path d="M411.1,1782.7 C411.1,1782.7 413.7,1791.8 414.7,1793.5 C415.7,1795.3 417.5,1797.2 419.5,1797.2 C421.5,1797.2 424.2,1795.5 425.6,1793.5 C426.9,1791.6 429.2,1782.7 429.2,1782.7" fill="none" stroke="#231f20" stroke-width="2.2" stroke-linejoin="round"/>
<path d="M308.4,1787.5 C308.4,1787.5 308.8,1797.1 309.6,1799.6 C310.4,1802.0 312.1,1805.1 314.4,1805.6 C316.7,1806.1 319.2,1804.0 320.4,1802.0 C321.7,1800.0 322.7,1794.8 322.9,1792.3 C323.0,1789.9 321.7,1785.1 321.7,1785.1" fill="none" stroke="#231f20" stroke-width="2.2" stroke-linejoin="round"/>
<path d="M307.6,1787.5 C307.6,1787.5 307.5,1800.5 308.4,1803.2 C309.2,1805.9 311.6,1808.8 314.4,1809.2 C317.2,1809.7 321.0,1808.1 322.9,1805.6 C324.7,1803.2 325.8,1796.4 326.0,1793.5 C326.2,1790.7 324.6,1785.1 324.6,1785.1" fill="none" stroke="#231f20" stroke-width="2.2" stroke-linejoin="round"/>
<path d="M310.8,1788.0 C310.8,1788.0 311.4,1794.6 312.0,1796.0 C312.6,1797.3 314.2,1798.5 315.6,1798.4 C317.1,1798.2 318.3,1796.6 318.8,1795.2 C319.2,1793.8 319.2,1787.5 319.2,1787.5" fill="none" stroke="#231f20" stroke-width="2.2" stroke-linejoin="round"/>
<path d="M308.4,1889.0 C308.4,1889.0 309.4,1901.9 310.1,1908.3 C310.7,1914.8 312.0,1927.6 312.0,1927.6 C312.0,1927.6 313.4,1913.1 313.9,1908.3 C314.4,1903.5 315.6,1893.8 315.6,1893.8 C315.6,1893.8 316.5,1906.7 316.8,1913.1 C317.2,1919.6 317.7,1929.2 318.0,1937.3 C318.3,1945.4 318.6,1956.6 318.8,1966.3 C318.9,1976.0 319.2,2014.6 319.2,2014.6" fill="none" stroke="#231f20" stroke-width="2.2" stroke-linejoin="round"/>
<path d="M328.9,1898.6 C328.9,1898.6 330.3,1905.1 330.3,1908.3 C330.4,1911.5 329.4,1918.0 329.4,1918.0" fill="none" stroke="#231f20" stroke-width="2.2" stroke-linejoin="round"/>
<path d="M525.8,2298.0 C525.8,2298.0 527.0,2281.8 528.2,2273.8 C529.4,2265.8 531.6,2257.7 533.1,2249.6 C534.5,2241.5 536.7,2227.9 537.9,2220.6 C539.1,2213.4 540.4,2203.8 541.5,2198.9 C542.7,2193.9 544.8,2187.1 546.4,2184.4 C548.0,2181.7 551.4,2179.8 553.6,2178.3 C555.9,2176.8 559.3,2175.5 560.9,2174.7 C562.5,2173.9 563.9,2171.9 565.7,2172.3 C567.4,2172.7 569.3,2175.2 570.5,2177.1 C571.8,2179.0 574.3,2184.4 575.4,2186.8 C576.4,2189.2 578.1,2191.5 578.3,2194.1 C578.4,2196.6 577.8,2207.0 577.3,2213.4 C576.8,2219.8 576.0,2227.1 575.4,2232.7 C574.7,2238.4 573.5,2244.8 572.9,2249.6 C572.4,2254.4 571.7,2264.1 571.7,2264.1" fill="none" stroke="#231f20" stroke-width="2.2" stroke-linejoin="round"/>
<path d="M570.0,2283.5 L569.3,2298.0" fill="none" stroke="#231f20" stroke-width="2.2" stroke-linejoin="round"/>
<path d="M528.2,2008.0 C528.2,2008.0 531.4,2016.1 533.1,2020.1 C534.7,2024.1 537.2,2031.1 539.1,2034.6 C541.1,2038.1 544.4,2042.5 546.4,2044.2 C548.3,2045.9 551.0,2047.1 553.6,2047.1 C556.2,2047.1 558.9,2045.9 560.9,2044.2 C562.8,2042.5 566.3,2038.2 568.1,2034.6 C569.9,2031.0 571.9,2024.0 572.9,2020.1 C574.0,2016.1 575.4,2008.0 575.4,2008.0" fill="none" stroke="#231f20" stroke-width="2.2" stroke-linejoin="round"/>
<path d="M312.5,2124.0 C312.5,2124.0 314.1,2138.4 314.9,2143.3 C315.7,2148.2 318.0,2157.8 318.0,2157.8 C318.0,2157.8 320.4,2143.3 320.4,2143.3 C320.4,2143.3 321.6,2156.2 321.7,2162.6 C321.7,2169.1 321.2,2191.6 321.2,2191.6" fill="none" stroke="#231f20" stroke-width="2.2" stroke-linejoin="round"/>
<path d="M312.0,2201.3 C312.0,2201.3 313.8,2219.0 314.4,2225.5 C315.0,2231.9 316.3,2244.8 316.3,2244.8" fill="none" stroke="#231f20" stroke-width="2.2" stroke-linejoin="round"/>
<path d="M640.0,1824.9 C640.0,1824.9 644.8,1822.7 647.2,1822.5 C649.7,1822.3 652.1,1823.1 654.5,1823.7 C656.9,1824.3 659.9,1824.7 661.7,1826.2 C663.6,1827.6 665.4,1832.2 665.4,1832.2" fill="none" stroke="#231f20" stroke-width="2.2" stroke-linejoin="round"/>
<path d="M670.2,1845.5 C670.2,1845.5 672.4,1852.0 673.8,1855.2 C675.2,1858.3 676.9,1861.7 678.7,1864.8 C680.4,1868.0 682.9,1871.9 684.7,1874.5 C686.5,1877.0 689.5,1878.9 690.7,1881.7 C692.0,1884.6 692.6,1889.7 693.2,1893.8 C693.7,1897.9 693.8,1905.1 694.4,1910.7 C695.0,1916.3 696.0,1924.3 696.8,1927.6 C697.5,1931.0 699.7,1936.1 700.4,1937.3 C701.2,1938.6 702.8,1940.5 704.0,1939.7 C705.2,1938.9 706.7,1935.0 707.7,1932.5 C708.6,1929.9 709.4,1925.3 710.1,1922.8 C710.8,1920.4 711.9,1916.4 712.5,1915.6 C713.0,1914.7 714.6,1913.6 715.4,1914.4 C716.1,1915.1 716.7,1918.4 717.3,1920.4 C718.0,1922.4 719.3,1926.4 719.3,1926.4 C719.3,1926.4 720.7,1920.2 721.7,1918.0 C722.7,1915.8 724.3,1913.1 725.8,1911.9 C727.3,1910.7 729.8,1909.1 731.3,1910.2 C732.9,1911.4 733.6,1915.3 734.2,1918.0 C734.9,1920.7 735.9,1927.6 736.7,1932.5 C737.4,1937.3 738.3,1943.8 739.1,1949.4 C739.9,1955.0 740.8,1961.5 741.5,1966.3 C742.2,1971.1 743.4,1980.8 743.4,1980.8" fill="none" stroke="#231f20" stroke-width="2.2" stroke-linejoin="round"/>
<path d="M741.5,2002.5 C741.5,2002.5 740.1,2013.8 739.6,2019.5 C739.0,2025.1 738.3,2032.4 737.9,2038.8 C737.4,2045.2 736.8,2054.7 736.7,2058.1 C736.5,2061.5 736.8,2065.0 736.7,2068.4 C736.5,2071.8 735.8,2084.5 735.4,2092.6 C735.0,2100.6 734.6,2111.1 734.2,2116.7 C733.9,2122.4 733.3,2131.2 733.0,2133.6 C732.7,2136.1 731.3,2140.9 731.3,2140.9 C731.3,2140.9 730.1,2135.4 728.2,2134.9 C726.3,2134.3 724.3,2136.7 723.4,2138.5 C722.4,2140.2 721.5,2144.9 720.9,2148.1 C720.4,2151.4 719.8,2159.4 719.3,2165.1 C718.8,2170.7 718.0,2181.2 717.3,2189.2 C716.7,2197.3 716.0,2205.3 715.4,2213.4 C714.8,2221.4 714.2,2229.5 713.7,2237.5 C713.2,2245.6 712.8,2253.6 712.5,2261.7 C712.2,2269.8 711.5,2298.0 711.5,2298.0" fill="none" stroke="#231f20" stroke-width="2.2" stroke-linejoin="round"/>
<path d="M701.6,1782.7 C701.6,1782.7 703.2,1793.0 702.8,1797.2 C702.4,1801.3 700.2,1805.3 699.2,1809.2 C698.2,1813.2 697.0,1817.2 696.8,1821.3 C696.6,1825.4 698.0,1832.6 698.0,1835.8 C698.0,1839.1 696.8,1845.5 696.8,1845.5" fill="none" stroke="#231f20" stroke-width="2.2" stroke-linejoin="round"/>
<path d="M693.2,1867.2 C693.2,1867.2 696.1,1870.1 698.0,1870.9 C699.9,1871.6 702.8,1872.3 705.2,1872.1 C707.7,1871.9 710.0,1869.2 712.5,1869.7 C715.0,1870.1 717.4,1873.9 719.7,1874.5 C722.1,1875.1 724.7,1872.4 727.0,1873.3 C729.3,1874.1 731.6,1876.9 733.0,1879.3 C734.5,1881.8 736.2,1888.0 737.9,1891.4 C739.6,1894.8 742.0,1899.2 743.9,1901.1 C745.8,1903.0 748.8,1903.9 751.1,1904.7 C753.5,1905.5 756.6,1906.1 758.4,1905.9 C760.2,1905.7 761.5,1903.9 763.2,1903.5 C765.0,1903.1 769.3,1903.5 769.3,1903.5" fill="none" stroke="#231f20" stroke-width="2.2" stroke-linejoin="round"/>
<path d="M731.8,1782.7 C731.8,1782.7 730.5,1795.4 729.4,1799.6 C728.4,1803.8 726.0,1807.7 724.6,1811.7 C723.2,1815.6 721.9,1819.8 720.9,1823.7 C719.9,1827.7 718.5,1831.7 718.5,1835.8 C718.5,1839.9 719.8,1845.6 720.9,1847.9 C722.1,1850.2 725.0,1852.1 727.0,1852.7 C729.0,1853.3 731.5,1852.9 733.0,1851.5 C734.6,1850.2 736.6,1846.1 737.9,1843.1 C739.1,1840.1 740.2,1834.3 741.5,1831.0 C742.8,1827.6 744.7,1823.7 746.3,1821.3 C747.9,1819.0 750.6,1817.2 752.4,1815.3 C754.1,1813.4 756.0,1811.5 757.2,1809.2 C758.4,1807.0 759.6,1802.0 759.6,1802.0" fill="none" stroke="#231f20" stroke-width="2.2" stroke-linejoin="round"/>
<path d="M753.6,1811.7 C753.6,1811.7 750.9,1821.4 749.9,1826.2 C748.9,1831.0 748.1,1836.6 747.5,1840.7 C747.0,1844.7 746.3,1852.7 746.3,1852.7" fill="none" stroke="#231f20" stroke-width="2.2" stroke-linejoin="round"/>
<path d="M746.3,1876.9 C746.3,1876.9 746.6,1883.9 747.5,1885.4 C748.4,1886.8 750.7,1886.8 752.4,1886.6 C754.0,1886.4 756.3,1885.7 757.2,1884.1 C758.1,1882.6 758.4,1875.7 758.4,1875.7" fill="none" stroke="#231f20" stroke-width="2.2" stroke-linejoin="round"/>
<path d="M758.4,1931.3 C760.4,1931.0 762.3,1933.1 763.2,1934.9 C764.1,1936.7 764.1,1939.9 763.7,1942.1 C763.3,1944.3 761.7,1947.2 760.8,1948.2 C760.0,1949.1 758.2,1950.1 757.2,1949.4 C756.2,1948.6 754.5,1945.6 754.0,1943.3 C753.6,1941.1 754.1,1938.0 754.8,1936.1 C755.5,1934.2 756.4,1931.6 758.4,1931.3Z" fill="none" stroke="#231f20" stroke-width="2.2" stroke-linejoin="round"/>
<path d="M769.3,2011.0 C769.3,2011.0 764.6,2012.7 763.2,2014.6 C761.8,2016.5 760.5,2021.0 759.6,2024.3 C758.7,2027.6 757.2,2036.4 757.2,2036.4" fill="none" stroke="#231f20" stroke-width="2.2" stroke-linejoin="round"/>
<path d="M758.4,2056.3 C758.4,2056.3 759.9,2063.4 760.8,2066.0 C761.7,2068.5 763.1,2072.3 764.4,2073.2 C765.8,2074.2 769.3,2072.0 769.3,2072.0" fill="none" stroke="#231f20" stroke-width="2.2" stroke-linejoin="round"/>
<path d="M737.9,1809.2 C737.9,1809.2 739.8,1810.6 740.3,1811.7 C740.7,1812.7 741.3,1815.4 741.0,1816.5 C740.7,1817.6 739.7,1819.0 738.6,1818.9 C737.5,1818.8 736.3,1817.3 736.2,1816.0 C736.1,1814.8 737.9,1809.2 737.9,1809.2Z" fill="none" stroke="#231f20" stroke-width="2.2" stroke-linejoin="round"/>
<path d="M736.7,1785.1 C736.7,1785.1 736.8,1794.8 737.9,1797.2 C738.9,1799.5 741.4,1801.4 743.9,1802.0 C746.4,1802.6 753.6,1802.2 756.0,1801.5 C758.4,1800.9 761.0,1799.4 762.0,1797.2 C763.0,1794.9 763.2,1785.1 763.2,1785.1" fill="none" stroke="#231f20" stroke-width="2.2" stroke-linejoin="round"/>
<path d="M735.4,1785.1 C735.4,1785.1 735.0,1796.8 736.2,1799.6 C737.3,1802.4 740.5,1804.2 743.4,1804.9 C746.3,1805.6 754.3,1805.2 757.2,1804.4 C760.1,1803.6 763.2,1801.8 764.4,1799.1 C765.7,1796.4 766.1,1785.1 766.1,1785.1" fill="none" stroke="#231f20" stroke-width="2.2" stroke-linejoin="round"/>
<path d="M739.1,1785.1 C739.1,1785.1 738.7,1793.2 739.6,1795.2 C740.4,1797.3 742.9,1798.6 745.1,1799.1 C747.3,1799.6 752.9,1799.1 754.8,1798.6 C756.7,1798.1 758.9,1797.0 759.6,1795.2 C760.4,1793.4 760.3,1785.1 760.3,1785.1" fill="none" stroke="#231f20" stroke-width="2.2" stroke-linejoin="round"/>
<path d="M736.2,2298.0 C736.2,2298.0 736.8,2279.4 737.1,2273.8 C737.5,2268.1 738.2,2259.4 738.6,2256.9 C739.0,2254.4 740.1,2250.9 741.0,2249.6 C741.9,2248.3 744.0,2247.8 745.1,2247.2 C746.3,2246.7 748.3,2244.8 748.7,2246.0 C749.1,2247.2 749.6,2256.5 749.9,2261.7 C750.3,2267.0 750.5,2273.0 750.7,2278.6 C750.9,2284.3 751.1,2298.0 751.1,2298.0" fill="none" stroke="#231f20" stroke-width="2.2" stroke-linejoin="round"/>
<path d="M225.0,1778.0 L307.2,1778.0 L307.2,2028.5 L312.0,2028.5 L312.0,2283.5 L316.8,2283.5 L316.8,2298.0 L225.0,2298.0Z" fill="url(#darkpat)"/>
<path d="M1105.0,1778.0 L772.4,1778.0 L772.4,1821.0 L767.6,1821.0 L767.6,2283.5 L763.2,2283.5 L763.2,2298.0 L1105.0,2298.0Z" fill="url(#darkpat)"/>
<text x="365.1" y="1893.8" font-size="17.3" text-anchor="start" font-weight="normal">-0.005</text>
<text x="440.8" y="1938.0" font-size="17.3" text-anchor="start" font-weight="normal">0.01</text>
<text x="519.3" y="2035.9" font-size="17.3" text-anchor="start" font-weight="normal">0.01</text>
<text x="551.2" y="2280.6" font-size="17.3" text-anchor="start" font-weight="normal">-0.01</text>
<text x="645.3" y="1843.8" font-size="17.3" text-anchor="start" font-weight="normal">0.01</text>
<text x="686.4" y="1861.9" font-size="17.3" text-anchor="start" font-weight="normal">0.02</text>
<text x="729.9" y="1872.6" font-size="17.3" text-anchor="start" font-weight="normal">0.03</text>
<text x="726.5" y="1998.2" font-size="17.3" text-anchor="start" font-weight="normal">0.01</text>
<text x="736.2" y="2051.6" font-size="17.3" text-anchor="start" font-weight="normal">0.02</text>
<text x="729.9" y="2243.1" font-size="17.3" text-anchor="start" font-weight="normal">0.01</text>
</g>
<rect x="307.0" y="2246.0" width="175.0" height="37.5" fill="#fff"/>
<text x="317.5" y="2272.0" font-size="36.3" text-anchor="start" font-weight="bold" fill="#0d0a0b" stroke="#0d0a0b" stroke-width="0.5">(g) Indian</text>
<line x1="222.7" y1="1784.4" x2="1108.2" y2="1784.4" stroke="#231f20" stroke-width="5.2"/>
<line x1="222.7" y1="2293.0" x2="1108.2" y2="2293.0" stroke="#231f20" stroke-width="5.2"/>
<line x1="233.0" y1="1784.4" x2="233.0" y2="2293.0" stroke="#231f20" stroke-width="4"/>
<line x1="1098.7" y1="1784.4" x2="1098.7" y2="2293.0" stroke="#231f20" stroke-width="4"/>
<line x1="255.2" y1="1774.3000000000002" x2="255.2" y2="1784.4" stroke="#231f20" stroke-width="5.2"/>
<line x1="255.2" y1="2293.0" x2="255.2" y2="2303.1" stroke="#231f20" stroke-width="5.2"/>
<text x="245.7" y="2347.2" font-size="36" text-anchor="middle" font-weight="normal">–80</text>
<line x1="305.0" y1="1778.4" x2="305.0" y2="1784.4" stroke="#231f20" stroke-width="4.2"/>
<line x1="305.0" y1="2293.0" x2="305.0" y2="2299.0" stroke="#231f20" stroke-width="4.2"/>
<line x1="354.7" y1="1774.3000000000002" x2="354.7" y2="1784.4" stroke="#231f20" stroke-width="5.2"/>
<line x1="354.7" y1="2293.0" x2="354.7" y2="2303.1" stroke="#231f20" stroke-width="5.2"/>
<text x="345.2" y="2347.2" font-size="36" text-anchor="middle" font-weight="normal">–60</text>
<line x1="404.5" y1="1778.4" x2="404.5" y2="1784.4" stroke="#231f20" stroke-width="4.2"/>
<line x1="404.5" y1="2293.0" x2="404.5" y2="2299.0" stroke="#231f20" stroke-width="4.2"/>
<line x1="454.2" y1="1774.3000000000002" x2="454.2" y2="1784.4" stroke="#231f20" stroke-width="5.2"/>
<line x1="454.2" y1="2293.0" x2="454.2" y2="2303.1" stroke="#231f20" stroke-width="5.2"/>
<text x="444.7" y="2347.2" font-size="36" text-anchor="middle" font-weight="normal">–40</text>
<line x1="504.0" y1="1778.4" x2="504.0" y2="1784.4" stroke="#231f20" stroke-width="4.2"/>
<line x1="504.0" y1="2293.0" x2="504.0" y2="2299.0" stroke="#231f20" stroke-width="4.2"/>
<line x1="553.7" y1="1774.3000000000002" x2="553.7" y2="1784.4" stroke="#231f20" stroke-width="5.2"/>
<line x1="553.7" y1="2293.0" x2="553.7" y2="2303.1" stroke="#231f20" stroke-width="5.2"/>
<text x="544.2" y="2347.2" font-size="36" text-anchor="middle" font-weight="normal">–20</text>
<line x1="603.5" y1="1778.4" x2="603.5" y2="1784.4" stroke="#231f20" stroke-width="4.2"/>
<line x1="603.5" y1="2293.0" x2="603.5" y2="2299.0" stroke="#231f20" stroke-width="4.2"/>
<line x1="653.2" y1="1774.3000000000002" x2="653.2" y2="1784.4" stroke="#231f20" stroke-width="5.2"/>
<line x1="653.2" y1="2293.0" x2="653.2" y2="2303.1" stroke="#231f20" stroke-width="5.2"/>
<text x="653.7" y="2347.2" font-size="36" text-anchor="middle" font-weight="normal">0</text>
<line x1="703.0" y1="1778.4" x2="703.0" y2="1784.4" stroke="#231f20" stroke-width="4.2"/>
<line x1="703.0" y1="2293.0" x2="703.0" y2="2299.0" stroke="#231f20" stroke-width="4.2"/>
<line x1="752.7" y1="1774.3000000000002" x2="752.7" y2="1784.4" stroke="#231f20" stroke-width="5.2"/>
<line x1="752.7" y1="2293.0" x2="752.7" y2="2303.1" stroke="#231f20" stroke-width="5.2"/>
<text x="753.2" y="2347.2" font-size="36" text-anchor="middle" font-weight="normal">20</text>
<line x1="802.5" y1="1778.4" x2="802.5" y2="1784.4" stroke="#231f20" stroke-width="4.2"/>
<line x1="802.5" y1="2293.0" x2="802.5" y2="2299.0" stroke="#231f20" stroke-width="4.2"/>
<line x1="852.2" y1="1774.3000000000002" x2="852.2" y2="1784.4" stroke="#231f20" stroke-width="5.2"/>
<line x1="852.2" y1="2293.0" x2="852.2" y2="2303.1" stroke="#231f20" stroke-width="5.2"/>
<text x="852.7" y="2347.2" font-size="36" text-anchor="middle" font-weight="normal">40</text>
<line x1="902.0" y1="1778.4" x2="902.0" y2="1784.4" stroke="#231f20" stroke-width="4.2"/>
<line x1="902.0" y1="2293.0" x2="902.0" y2="2299.0" stroke="#231f20" stroke-width="4.2"/>
<line x1="951.7" y1="1774.3000000000002" x2="951.7" y2="1784.4" stroke="#231f20" stroke-width="5.2"/>
<line x1="951.7" y1="2293.0" x2="951.7" y2="2303.1" stroke="#231f20" stroke-width="5.2"/>
<text x="952.2" y="2347.2" font-size="36" text-anchor="middle" font-weight="normal">60</text>
<line x1="1001.5" y1="1778.4" x2="1001.5" y2="1784.4" stroke="#231f20" stroke-width="4.2"/>
<line x1="1001.5" y1="2293.0" x2="1001.5" y2="2299.0" stroke="#231f20" stroke-width="4.2"/>
<line x1="1051.2" y1="1774.3000000000002" x2="1051.2" y2="1784.4" stroke="#231f20" stroke-width="5.2"/>
<line x1="1051.2" y1="2293.0" x2="1051.2" y2="2303.1" stroke="#231f20" stroke-width="5.2"/>
<text x="1051.7" y="2347.2" font-size="36" text-anchor="middle" font-weight="normal">80</text>
<text x="208.0" y="1797.4" font-size="36" text-anchor="end" font-weight="normal">0</text>
<line x1="227.6" y1="1835.3" x2="233.0" y2="1835.3" stroke="#231f20" stroke-width="4.6"/>
<line x1="1098.7" y1="1835.3" x2="1104.1000000000001" y2="1835.3" stroke="#231f20" stroke-width="4.6"/>
<line x1="222.7" y1="1886.1" x2="233.0" y2="1886.1" stroke="#231f20" stroke-width="5.2"/>
<line x1="1098.7" y1="1886.1" x2="1108.2" y2="1886.1" stroke="#231f20" stroke-width="5.2"/>
<text x="208.0" y="1899.6" font-size="36" text-anchor="end" font-weight="normal">100</text>
<line x1="227.6" y1="1937.0" x2="233.0" y2="1937.0" stroke="#231f20" stroke-width="4.6"/>
<line x1="1098.7" y1="1937.0" x2="1104.1000000000001" y2="1937.0" stroke="#231f20" stroke-width="4.6"/>
<line x1="222.7" y1="1987.8" x2="233.0" y2="1987.8" stroke="#231f20" stroke-width="5.2"/>
<line x1="1098.7" y1="1987.8" x2="1108.2" y2="1987.8" stroke="#231f20" stroke-width="5.2"/>
<text x="208.0" y="2001.8" font-size="36" text-anchor="end" font-weight="normal">200</text>
<line x1="227.6" y1="2038.7" x2="233.0" y2="2038.7" stroke="#231f20" stroke-width="4.6"/>
<line x1="1098.7" y1="2038.7" x2="1104.1000000000001" y2="2038.7" stroke="#231f20" stroke-width="4.6"/>
<line x1="222.7" y1="2089.6" x2="233.0" y2="2089.6" stroke="#231f20" stroke-width="5.2"/>
<line x1="1098.7" y1="2089.6" x2="1108.2" y2="2089.6" stroke="#231f20" stroke-width="5.2"/>
<text x="208.0" y="2104.1" font-size="36" text-anchor="end" font-weight="normal">300</text>
<line x1="227.6" y1="2140.4" x2="233.0" y2="2140.4" stroke="#231f20" stroke-width="4.6"/>
<line x1="1098.7" y1="2140.4" x2="1104.1000000000001" y2="2140.4" stroke="#231f20" stroke-width="4.6"/>
<line x1="222.7" y1="2191.3" x2="233.0" y2="2191.3" stroke="#231f20" stroke-width="5.2"/>
<line x1="1098.7" y1="2191.3" x2="1108.2" y2="2191.3" stroke="#231f20" stroke-width="5.2"/>
<text x="208.0" y="2206.3" font-size="36" text-anchor="end" font-weight="normal">400</text>
<line x1="227.6" y1="2242.1" x2="233.0" y2="2242.1" stroke="#231f20" stroke-width="4.6"/>
<line x1="1098.7" y1="2242.1" x2="1104.1000000000001" y2="2242.1" stroke="#231f20" stroke-width="4.6"/>
<text x="208.0" y="2308.5" font-size="36" text-anchor="end" font-weight="normal">500</text>
</g>
<g id="panel-h">
<clipPath id="clip-h"><rect x="1297.2" y="1788.3" width="865.8" height="508.29999999999995"/></clipPath>
<g clip-path="url(#clip-h)">
<path d="M1299.7,1782.7 C1321.5,1722.9 1481.8,1781.4 1490.6,1782.7 C1499.3,1783.9 1489.7,1801.2 1489.3,1809.2 C1489.0,1817.3 1488.5,1825.4 1488.1,1833.4 C1487.7,1841.5 1487.4,1849.5 1486.9,1857.6 C1486.4,1865.6 1486.0,1873.7 1485.2,1881.7 C1484.4,1889.8 1483.2,1898.6 1482.1,1905.9 C1481.0,1913.2 1479.4,1923.5 1478.5,1927.6 C1477.6,1931.8 1475.8,1937.2 1474.8,1939.7 C1473.9,1942.3 1471.7,1944.3 1471.2,1947.0 C1470.7,1949.6 1470.2,1959.9 1470.0,1966.3 C1469.8,1972.7 1470.3,1982.3 1470.0,1985.6 C1469.7,1988.9 1467.6,1995.3 1467.6,1995.3 C1467.6,1995.3 1464.6,1992.4 1464.0,1990.5 C1463.3,1988.6 1462.2,1982.5 1462.0,1978.4 C1461.9,1974.3 1462.4,1967.1 1462.8,1961.5 C1463.1,1955.8 1464.2,1946.6 1464.0,1944.6 C1463.7,1942.6 1461.7,1940.2 1460.3,1939.7 C1459.0,1939.3 1457.4,1940.8 1456.7,1942.1 C1456.1,1943.4 1454.4,1950.9 1453.1,1954.2 C1451.8,1957.6 1448.3,1963.9 1448.3,1963.9 C1448.3,1963.9 1444.6,1961.0 1443.4,1959.1 C1442.3,1957.1 1440.2,1951.0 1438.6,1947.0 C1437.0,1942.9 1435.5,1938.8 1433.8,1934.9 C1432.0,1930.9 1429.6,1926.1 1427.7,1922.8 C1425.9,1919.5 1423.5,1916.5 1421.7,1913.1 C1419.8,1909.8 1417.7,1905.1 1415.6,1901.1 C1413.6,1897.0 1411.4,1892.9 1409.6,1889.0 C1407.8,1885.0 1406.4,1880.9 1404.8,1876.9 C1403.2,1872.9 1401.2,1867.4 1399.9,1864.8 C1398.6,1862.2 1396.4,1858.7 1395.1,1857.6 C1393.9,1856.5 1391.9,1855.8 1390.3,1856.4 C1388.7,1856.9 1385.8,1859.4 1384.2,1861.2 C1382.7,1862.9 1381.0,1864.9 1380.6,1867.2 C1380.3,1869.6 1381.1,1874.3 1381.8,1876.9 C1382.6,1879.5 1385.2,1881.6 1385.4,1884.1 C1385.7,1886.7 1384.5,1889.3 1383.0,1891.4 C1381.6,1893.5 1378.4,1894.1 1377.0,1896.2 C1375.6,1898.4 1373.1,1904.1 1372.2,1908.3 C1371.2,1912.5 1370.5,1921.2 1369.7,1927.6 C1369.0,1934.1 1368.3,1943.8 1367.3,1951.8 C1366.3,1959.8 1364.8,1968.7 1363.7,1976.0 C1362.6,1983.2 1361.0,1991.3 1360.1,1997.7 C1359.1,2004.1 1358.4,2010.6 1357.7,2017.0 C1356.9,2023.5 1355.9,2032.9 1355.2,2038.8 C1354.6,2044.6 1354.0,2050.5 1353.3,2056.3 C1352.6,2062.2 1351.2,2072.4 1350.4,2080.5 C1349.6,2088.5 1349.0,2096.6 1348.5,2104.7 C1348.0,2112.7 1347.8,2120.8 1347.5,2128.8 C1347.2,2136.9 1347.0,2144.9 1346.8,2153.0 C1346.5,2161.0 1346.3,2169.1 1346.1,2177.1 C1345.8,2185.2 1345.4,2193.2 1345.1,2201.3 C1344.8,2209.4 1344.6,2217.4 1344.4,2225.5 C1344.1,2233.5 1343.8,2241.6 1343.6,2249.6 C1343.4,2257.7 1343.2,2265.7 1343.2,2273.8 C1343.1,2281.8 1351.6,2299.1 1343.2,2305.2 C1334.7,2311.3 1300.9,2319.6 1299.7,2305.2 C1298.5,2290.8 1277.8,1842.4 1299.7,1782.7Z" fill="url(#cyanpat)" stroke="#231f20" stroke-width="2.2" stroke-dasharray="6.2 4" stroke-linejoin="round"/>
<path d="M1375.8,1782.7 C1373.1,1784.4 1376.2,1789.9 1376.5,1792.3 C1376.9,1794.8 1377.4,1797.2 1378.2,1799.6 C1379.0,1801.9 1380.9,1806.6 1381.8,1808.0 C1382.7,1809.5 1383.8,1812.2 1385.4,1811.7 C1387.1,1811.1 1388.0,1807.7 1389.1,1805.6 C1390.1,1803.5 1392.4,1800.2 1392.7,1797.2 C1393.0,1794.1 1395.2,1785.8 1391.5,1782.7 C1387.8,1779.5 1378.5,1780.9 1375.8,1782.7Z" fill="#fff" stroke="#231f20" stroke-width="2.2" stroke-dasharray="6.2 4" stroke-linejoin="round"/>
<path d="M1509.9,1782.7 C1507.1,1786.4 1507.8,1798.8 1507.5,1804.4 C1507.1,1810.0 1506.9,1815.7 1507.5,1821.3 C1508.1,1826.9 1510.3,1832.6 1511.1,1838.2 C1511.9,1843.8 1512.3,1850.3 1512.3,1855.2 C1512.3,1860.0 1510.9,1866.7 1511.1,1869.7 C1511.2,1872.6 1513.5,1878.1 1513.5,1878.1 C1513.5,1878.1 1516.6,1872.7 1517.1,1869.7 C1517.7,1866.6 1518.0,1856.0 1518.3,1850.3 C1518.7,1844.7 1518.8,1838.3 1519.5,1833.4 C1520.3,1828.5 1522.3,1823.7 1523.2,1818.9 C1524.0,1814.1 1524.8,1809.3 1524.9,1804.4 C1525.0,1799.5 1526.5,1786.5 1523.9,1782.7 C1521.2,1778.8 1512.7,1778.9 1509.9,1782.7Z" fill="url(#pinkpat)" stroke="#231f20" stroke-width="2.2" stroke-dasharray="6.2 4" stroke-linejoin="round"/>
<path d="M1508.7,1913.1 C1508.7,1913.1 1512.1,1917.9 1513.5,1920.4 C1514.9,1922.9 1516.9,1926.9 1518.3,1930.1 C1519.8,1933.2 1521.9,1936.3 1522.4,1939.7 C1523.0,1943.2 1522.4,1947.8 1522.0,1951.8 C1521.5,1955.8 1520.5,1962.2 1519.5,1966.3 C1518.6,1970.4 1517.2,1975.4 1515.9,1978.4 C1514.7,1981.4 1511.1,1986.8 1511.1,1986.8 C1511.1,1986.8 1507.4,1981.4 1506.3,1978.4 C1505.1,1975.3 1503.6,1968.8 1502.6,1963.9 C1501.7,1959.0 1500.4,1952.6 1500.2,1947.0 C1500.0,1941.3 1500.7,1934.2 1501.4,1930.1 C1502.1,1925.9 1504.3,1919.8 1505.0,1918.0 C1505.8,1916.1 1508.7,1913.1 1508.7,1913.1Z" fill="url(#pinkpat)" stroke="#231f20" stroke-width="2.2" stroke-dasharray="6.2 4" stroke-linejoin="round"/>
<path d="M1537.7,1782.7 C1529.5,1786.0 1536.3,1801.2 1536.5,1809.2 C1536.7,1817.3 1537.9,1825.4 1538.9,1833.4 C1539.9,1841.4 1541.2,1851.1 1542.5,1857.6 C1543.8,1864.1 1546.0,1871.3 1547.3,1876.9 C1548.6,1882.5 1550.2,1889.0 1551.0,1893.8 C1551.7,1898.6 1551.0,1903.6 1552.2,1908.3 C1553.3,1913.0 1556.0,1918.0 1558.2,1922.8 C1560.4,1927.6 1563.5,1932.3 1565.5,1937.3 C1567.4,1942.3 1568.8,1948.6 1570.3,1954.2 C1571.8,1959.9 1573.4,1967.8 1575.1,1973.6 C1576.8,1979.3 1579.1,1984.8 1581.2,1990.5 C1583.2,1996.1 1585.5,2002.4 1587.2,2007.4 C1588.9,2012.4 1590.0,2017.6 1592.0,2022.5 C1594.0,2027.4 1597.3,2033.9 1599.3,2037.0 C1601.3,2040.1 1604.1,2044.0 1606.5,2045.5 C1609.0,2046.9 1612.3,2047.6 1615.0,2046.7 C1617.7,2045.8 1621.7,2042.2 1624.7,2039.4 C1627.6,2036.7 1630.6,2033.2 1633.1,2029.7 C1635.6,2026.3 1637.8,2021.6 1640.4,2017.7 C1642.9,2013.7 1649.2,2004.9 1652.4,2000.1 C1655.7,1995.3 1659.1,1989.8 1662.1,1985.6 C1665.1,1981.5 1669.5,1977.3 1671.8,1973.6 C1674.0,1969.8 1675.0,1965.5 1676.6,1961.5 C1678.2,1957.5 1680.8,1951.1 1682.6,1947.0 C1684.5,1942.9 1686.6,1938.3 1688.7,1934.9 C1690.8,1931.5 1693.7,1927.8 1695.9,1925.2 C1698.2,1922.6 1700.3,1918.5 1703.2,1918.0 C1706.0,1917.5 1707.6,1923.3 1710.4,1922.8 C1713.3,1922.3 1714.8,1918.2 1716.5,1915.6 C1718.1,1912.9 1720.7,1905.8 1722.5,1903.5 C1724.4,1901.2 1729.3,1899.2 1730.0,1898.6 C1730.7,1898.1 1730.6,1897.0 1731.0,1896.2 C1731.5,1895.5 1734.7,1892.2 1734.7,1890.2 C1734.7,1888.2 1733.0,1885.7 1731.0,1885.4 C1729.1,1885.0 1724.9,1888.0 1722.5,1887.8 C1720.2,1887.6 1717.6,1886.2 1716.5,1884.1 C1715.4,1882.1 1713.3,1874.6 1712.8,1869.7 C1712.4,1864.7 1713.0,1853.5 1712.8,1845.5 C1712.6,1837.4 1712.0,1825.4 1711.6,1821.3 C1711.2,1817.2 1709.0,1812.7 1709.2,1809.2 C1709.4,1805.8 1712.1,1802.9 1712.8,1799.6 C1713.6,1796.2 1720.0,1785.8 1715.3,1782.7 C1710.5,1779.5 1692.9,1779.2 1687.5,1782.7 C1682.0,1786.2 1685.2,1797.1 1685.1,1802.0 C1684.9,1806.8 1686.6,1811.7 1686.3,1816.5 C1685.9,1821.3 1684.0,1829.4 1682.6,1835.8 C1681.2,1842.2 1679.3,1850.9 1677.8,1855.2 C1676.3,1859.4 1674.2,1864.8 1671.8,1867.2 C1669.3,1869.7 1665.5,1870.2 1662.1,1870.9 C1658.7,1871.5 1651.7,1872.3 1647.6,1872.1 C1643.5,1871.9 1639.5,1870.8 1635.5,1869.7 C1631.6,1868.5 1626.5,1867.9 1623.4,1864.8 C1620.4,1861.8 1619.7,1856.9 1618.6,1852.7 C1617.5,1848.5 1616.6,1839.8 1615.0,1833.4 C1613.4,1827.0 1610.9,1819.1 1608.9,1814.1 C1607.0,1809.0 1602.9,1804.8 1601.7,1799.6 C1600.5,1794.3 1607.2,1784.1 1601.7,1782.7 C1596.2,1781.2 1545.9,1779.3 1537.7,1782.7Z" fill="url(#pinkpat)" stroke="#231f20" stroke-width="2.2" stroke-dasharray="6.2 4" stroke-linejoin="round"/>
<path d="M1663.3,1806.8 C1663.3,1806.8 1666.3,1807.9 1666.5,1809.2 C1666.6,1810.6 1664.5,1820.1 1664.5,1820.1 C1664.5,1820.1 1661.7,1819.0 1661.6,1817.7 C1661.5,1816.4 1663.3,1806.8 1663.3,1806.8Z" fill="url(#cyanpat)" stroke="#231f20" stroke-width="2.2" stroke-dasharray="6.2 4" stroke-linejoin="round"/>
<path d="M1676.6,2039.4 C1678.0,2037.9 1680.8,2037.4 1682.6,2038.2 C1684.5,2039.0 1686.9,2041.8 1687.5,2044.2 C1688.0,2046.7 1687.2,2049.9 1685.8,2051.5 C1684.3,2053.0 1681.5,2053.6 1679.5,2052.7 C1677.6,2051.8 1675.4,2049.1 1674.9,2046.7 C1674.4,2044.2 1675.2,2040.9 1676.6,2039.4Z" fill="url(#cyanpat)" stroke="#231f20" stroke-width="2.2" stroke-dasharray="6.2 4" stroke-linejoin="round"/>
<path d="M1472.4,2085.3 C1472.4,2085.3 1475.8,2089.1 1476.5,2091.4 C1477.3,2093.7 1477.7,2097.2 1477.3,2099.8 C1476.9,2102.4 1474.1,2107.1 1474.1,2107.1 C1474.1,2107.1 1471.4,2104.1 1470.7,2102.2 C1470.1,2100.4 1469.0,2095.2 1469.3,2092.6 C1469.5,2089.9 1472.4,2085.3 1472.4,2085.3Z" fill="url(#cyanpat)" stroke="#231f20" stroke-width="2.2" stroke-dasharray="6.2 4" stroke-linejoin="round"/>
<path d="M1549.7,2084.8 C1551.6,2084.7 1554.7,2085.5 1557.0,2086.5 C1559.3,2087.5 1562.6,2089.0 1564.2,2091.4 C1565.9,2093.7 1566.7,2098.6 1567.9,2102.2 C1569.1,2105.9 1571.1,2111.9 1572.7,2116.7 C1574.3,2121.6 1576.0,2126.4 1577.5,2131.2 C1579.0,2136.1 1580.8,2142.5 1582.4,2148.1 C1584.0,2153.8 1585.8,2160.9 1587.2,2165.1 C1588.6,2169.2 1590.9,2175.0 1592.0,2177.1 C1593.2,2179.2 1594.6,2181.8 1596.9,2182.5 C1599.2,2183.1 1601.9,2181.9 1604.1,2180.8 C1606.3,2179.6 1609.2,2177.0 1611.4,2174.7 C1613.5,2172.4 1616.5,2168.2 1618.6,2165.1 C1620.8,2161.9 1622.9,2157.6 1624.7,2155.4 C1626.4,2153.1 1628.4,2150.2 1630.7,2149.4 C1633.0,2148.5 1635.9,2149.2 1637.9,2150.6 C1640.0,2152.0 1641.7,2155.1 1642.8,2157.8 C1643.8,2160.5 1645.5,2167.4 1646.4,2172.3 C1647.3,2177.2 1648.6,2185.1 1648.8,2191.6 C1649.0,2198.1 1648.2,2206.1 1647.6,2213.4 C1647.0,2220.6 1646.2,2229.5 1645.2,2237.5 C1644.2,2245.6 1642.5,2255.3 1641.6,2261.7 C1640.7,2268.1 1640.0,2274.6 1639.2,2281.0 C1638.3,2287.5 1643.9,2303.2 1636.0,2305.2 C1628.1,2307.2 1555.6,2311.4 1542.5,2305.2 C1529.4,2299.0 1543.0,2273.8 1543.2,2261.7 C1543.4,2249.6 1543.6,2237.5 1543.7,2225.5 C1543.8,2213.4 1543.8,2201.3 1543.7,2189.2 C1543.6,2177.1 1543.4,2165.1 1543.2,2153.0 C1543.0,2140.9 1542.5,2124.0 1542.5,2116.7 C1542.5,2109.5 1543.0,2097.5 1543.2,2095.0 C1543.4,2092.5 1543.9,2089.3 1544.9,2087.7 C1545.9,2086.2 1547.9,2085.0 1549.7,2084.8Z" fill="url(#cyanpat)" stroke="#231f20" stroke-width="2.2" stroke-dasharray="6.2 4" stroke-linejoin="round"/>
<path d="M1732.2,1782.7 C1726.4,1786.9 1732.9,1798.7 1733.5,1804.4 C1734.0,1810.1 1734.8,1817.1 1735.9,1821.3 C1736.9,1825.5 1739.2,1831.0 1740.7,1833.4 C1742.2,1835.8 1743.9,1839.2 1746.7,1839.4 C1749.6,1839.7 1752.0,1836.8 1754.0,1834.6 C1756.0,1832.5 1758.3,1828.1 1760.0,1824.9 C1761.8,1821.8 1763.4,1817.8 1764.9,1815.3 C1766.3,1812.8 1769.1,1810.8 1769.7,1808.0 C1770.3,1805.3 1769.3,1802.2 1768.5,1799.6 C1767.7,1797.0 1765.6,1794.9 1764.9,1792.3 C1764.1,1789.7 1766.8,1783.6 1763.7,1782.7 C1760.5,1781.7 1738.1,1778.4 1732.2,1782.7Z" fill="url(#cyanpat)" stroke="#231f20" stroke-width="2.2" stroke-dasharray="6.2 4" stroke-linejoin="round"/>
<path d="M1773.3,1838.2 C1777.1,1838.8 1777.4,1845.0 1779.4,1847.9 C1781.3,1850.8 1783.4,1854.7 1785.4,1856.4 C1787.4,1858.0 1790.3,1859.8 1792.7,1858.8 C1795.0,1857.7 1796.8,1853.2 1798.7,1850.3 C1800.6,1847.4 1802.3,1843.5 1804.7,1840.7 C1807.2,1837.8 1809.9,1834.9 1813.2,1833.4 C1816.5,1831.9 1821.2,1832.6 1824.1,1832.2 C1826.9,1831.8 1830.4,1830.5 1832.5,1830.5 C1834.6,1830.5 1837.5,1830.4 1838.6,1832.2 C1839.6,1834.0 1840.7,1841.0 1841.5,1845.5 C1842.3,1850.0 1843.1,1856.8 1843.9,1862.4 C1844.7,1868.0 1845.5,1873.7 1846.3,1879.3 C1847.1,1885.0 1848.1,1891.4 1848.7,1896.2 C1849.3,1901.1 1850.2,1905.9 1850.2,1910.7 C1850.1,1915.6 1849.0,1920.4 1848.2,1925.2 C1847.4,1930.0 1846.1,1934.9 1845.3,1939.7 C1844.5,1944.5 1844.0,1949.4 1843.4,1954.2 C1842.8,1959.1 1842.3,1963.9 1841.5,1968.7 C1840.7,1973.5 1839.7,1979.8 1838.6,1983.2 C1837.5,1986.6 1835.2,1991.1 1833.7,1992.9 C1832.2,1994.7 1829.4,1994.9 1827.7,1996.5 C1825.9,1998.1 1822.9,2002.5 1822.9,2002.5 C1822.9,2002.5 1819.5,1997.8 1818.0,1995.3 C1816.6,1992.8 1814.9,1988.3 1813.2,1985.6 C1811.5,1983.0 1809.6,1980.4 1807.2,1978.4 C1804.7,1976.4 1801.4,1975.4 1798.7,1973.6 C1796.0,1971.7 1791.9,1969.1 1789.0,1966.3 C1786.2,1963.5 1783.7,1960.2 1781.8,1956.6 C1779.8,1953.1 1778.6,1948.6 1776.9,1944.6 C1775.3,1940.5 1774.1,1936.4 1772.1,1932.5 C1770.2,1928.6 1767.0,1924.3 1764.9,1920.4 C1762.7,1916.4 1760.6,1912.3 1758.8,1908.3 C1757.0,1904.4 1755.3,1900.4 1754.0,1896.2 C1752.7,1892.1 1750.9,1886.5 1750.4,1881.7 C1749.9,1876.9 1750.3,1871.4 1751.1,1867.2 C1751.9,1863.0 1753.3,1858.7 1755.2,1855.2 C1757.1,1851.6 1759.5,1848.2 1762.5,1845.5 C1765.4,1842.7 1769.6,1837.7 1773.3,1838.2Z" fill="url(#pinkpat)" stroke="#231f20" stroke-width="2.2" stroke-dasharray="6.2 4" stroke-linejoin="round"/>
<path d="M1824.1,1793.5 C1824.1,1793.5 1829.0,1791.3 1831.3,1791.1 C1833.6,1790.9 1838.1,1792.3 1838.1,1792.3 C1838.1,1792.3 1836.5,1796.1 1834.9,1797.2 C1833.3,1798.2 1830.8,1799.0 1828.9,1798.4 C1827.0,1797.7 1824.1,1793.5 1824.1,1793.5Z" fill="url(#pinkpat)"/>
<path d="M1894.1,1782.7 C1887.2,1785.1 1896.7,1798.7 1897.8,1804.4 C1898.8,1810.1 1900.2,1815.7 1901.4,1821.3 C1902.6,1827.0 1903.7,1833.3 1905.0,1838.2 C1906.3,1843.2 1908.4,1848.7 1909.8,1852.7 C1911.3,1856.8 1913.7,1860.6 1914.7,1864.8 C1915.6,1869.0 1915.5,1874.5 1915.9,1879.3 C1916.3,1884.1 1916.7,1892.4 1917.1,1893.8 C1917.5,1895.2 1919.6,1897.2 1920.7,1896.2 C1921.8,1895.3 1924.3,1888.5 1925.6,1886.6 C1926.8,1884.7 1928.1,1881.3 1930.4,1881.7 C1932.6,1882.2 1936.0,1888.3 1937.6,1889.0 C1939.3,1889.7 1941.3,1888.0 1942.5,1886.6 C1943.6,1885.2 1946.1,1880.3 1947.3,1876.9 C1948.5,1873.5 1950.1,1867.3 1950.9,1862.4 C1951.8,1857.5 1952.2,1851.1 1952.6,1845.5 C1953.0,1839.9 1952.8,1834.2 1953.3,1828.6 C1953.9,1823.0 1955.0,1816.5 1955.8,1811.7 C1956.5,1806.8 1957.4,1802.0 1958.2,1797.2 C1959.0,1792.3 1965.4,1783.7 1960.6,1782.7 C1955.8,1781.6 1901.1,1780.3 1894.1,1782.7Z" fill="url(#cyanpat)" stroke="#231f20" stroke-width="2.2" stroke-dasharray="6.2 4" stroke-linejoin="round"/>
<path d="M1975.1,1782.7 C1973.1,1785.2 1972.7,1795.4 1971.5,1799.6 C1970.2,1803.7 1967.8,1807.5 1966.6,1811.7 C1965.5,1815.8 1964.2,1821.3 1964.2,1826.2 C1964.2,1831.1 1965.5,1836.8 1966.6,1840.7 C1967.7,1844.5 1970.0,1849.4 1971.5,1851.5 C1972.9,1853.6 1975.0,1855.9 1977.5,1856.4 C1980.0,1856.8 1982.8,1855.6 1984.7,1853.9 C1986.7,1852.3 1989.6,1848.7 1990.8,1845.5 C1992.0,1842.2 1992.9,1835.8 1993.2,1831.0 C1993.5,1826.2 1993.6,1820.1 1992.7,1816.5 C1991.8,1812.9 1988.6,1809.9 1987.2,1806.8 C1985.7,1803.7 1983.9,1800.6 1983.5,1797.2 C1983.2,1793.7 1986.4,1785.4 1984.7,1782.7 C1983.1,1779.9 1977.1,1780.1 1975.1,1782.7Z" fill="url(#cyanpat)" stroke="#231f20" stroke-width="2.2" stroke-dasharray="6.2 4" stroke-linejoin="round"/>
<path d="M1971.5,1903.5 C1973.6,1903.9 1976.3,1906.0 1977.5,1908.3 C1978.7,1910.6 1979.1,1914.7 1978.7,1918.0 C1978.4,1921.2 1976.6,1926.2 1975.1,1930.1 C1973.5,1934.0 1971.0,1938.5 1969.0,1942.1 C1967.1,1945.8 1964.8,1950.1 1963.0,1953.0 C1961.2,1956.0 1958.6,1960.2 1957.0,1961.5 C1955.4,1962.8 1952.6,1963.8 1950.9,1962.7 C1949.2,1961.5 1947.2,1957.3 1946.1,1954.2 C1945.0,1951.2 1943.5,1945.6 1943.7,1942.1 C1943.9,1938.7 1945.8,1935.6 1947.3,1932.5 C1948.8,1929.4 1951.3,1926.0 1953.3,1922.8 C1955.4,1919.6 1957.6,1915.7 1959.4,1913.1 C1961.2,1910.6 1963.7,1907.2 1965.4,1905.9 C1967.1,1904.5 1969.3,1903.1 1971.5,1903.5Z" fill="url(#pinkpat)" stroke="#231f20" stroke-width="2.2" stroke-dasharray="6.2 4" stroke-linejoin="round"/>
<path d="M1931.6,1972.3 C1931.6,1972.3 1934.7,1977.8 1935.2,1980.8 C1935.8,1983.8 1935.9,1990.5 1935.7,1995.3 C1935.5,2000.1 1934.7,2008.2 1934.0,2014.6 C1933.3,2021.1 1932.0,2030.5 1931.6,2034.0 C1931.2,2037.4 1930.7,2042.2 1930.4,2044.2 C1930.1,2046.3 1929.2,2050.3 1929.2,2050.3 C1929.2,2050.3 1928.3,2043.0 1928.0,2039.4 C1927.7,2035.8 1927.1,2025.2 1926.8,2022.5 C1926.4,2019.8 1925.2,2017.3 1925.1,2014.6 C1924.9,2011.9 1924.7,2000.2 1925.1,1995.3 C1925.4,1990.4 1926.6,1983.8 1927.5,1980.8 C1928.3,1977.8 1931.6,1972.3 1931.6,1972.3Z" fill="url(#pinkpat)" stroke="#231f20" stroke-width="2.2" stroke-dasharray="6.2 4" stroke-linejoin="round"/>
<path d="M2026.4,2306.9 L2027.2,2265.8 L2028.1,2229.6 L2030.1,2200.6 L2033.0,2181.2 L2036.1,2195.7 L2038.5,2210.2 L2040.9,2190.9 L2044.1,2181.2 L2047.0,2195.7 L2049.4,2215.1 L2053.0,2234.4 L2056.6,2253.7 L2060.3,2265.8 L2062.7,2275.5 L2065.1,2261.0 L2067.5,2244.1 L2069.9,2253.7 L2072.3,2268.2 L2076.0,2274.3 L2080.8,2271.8 L2084.4,2275.5 L2086.8,2287.6 L2088.0,2306.9Z" fill="url(#cyanpat)" stroke="#231f20" stroke-width="2.2" stroke-dasharray="6.2 4" stroke-linejoin="round"/>
<path d="M1985.2,1784.0 C1979.0,1787.8 1983.9,1803.4 1984.1,1805.9 C1984.2,1808.4 1985.3,1811.3 1986.9,1812.9 C1988.5,1814.4 1991.4,1814.6 1993.3,1815.2 C1995.2,1815.7 1997.8,1814.8 1999.0,1816.3 C2000.2,1817.9 2000.5,1823.1 2001.4,1825.5 C2002.2,1828.0 2003.5,1831.5 2004.8,1832.5 C2006.1,1833.4 2008.5,1830.0 2009.4,1831.3 C2010.3,1832.6 2011.0,1838.2 2011.2,1841.7 C2011.3,1845.2 2011.0,1852.4 2010.8,1857.8 C2010.6,1863.2 2010.2,1869.4 2010.0,1875.1 C2009.8,1880.9 2009.4,1886.7 2009.4,1892.4 C2009.4,1898.2 2009.6,1904.0 2010.0,1909.7 C2010.4,1915.5 2010.9,1922.3 2011.7,1927.0 C2012.5,1931.7 2014.4,1938.4 2015.2,1940.9 C2016.0,1943.3 2017.8,1946.8 2018.7,1947.8 C2019.5,1948.8 2021.2,1950.4 2022.1,1949.5 C2023.0,1948.6 2024.0,1944.6 2024.4,1942.0 C2024.9,1939.4 2025.6,1932.0 2026.1,1927.0 C2026.7,1922.0 2027.5,1915.5 2027.9,1909.7 C2028.3,1904.0 2028.3,1898.2 2028.5,1892.4 C2028.6,1886.7 2028.8,1879.4 2028.8,1875.1 C2028.8,1870.9 2028.8,1862.4 2028.8,1862.4 C2028.8,1862.4 2029.9,1867.0 2030.2,1869.4 C2030.5,1871.7 2031.3,1880.9 2031.9,1886.7 C2032.5,1892.4 2033.2,1898.2 2033.6,1904.0 C2034.1,1909.7 2034.4,1919.3 2034.8,1927.0 C2035.2,1934.7 2035.6,1942.4 2035.9,1950.1 C2036.3,1957.8 2036.9,1967.4 2037.1,1973.2 C2037.3,1978.9 2037.5,1984.7 2037.7,1990.5 C2037.9,1996.2 2038.1,2002.0 2038.3,2007.8 C2038.4,2013.5 2038.8,2030.2 2038.8,2030.8 C2038.9,2031.4 2040.5,2031.4 2040.6,2030.8 C2040.6,2030.2 2040.6,2015.4 2040.6,2007.8 C2040.5,2000.1 2040.4,1992.4 2040.3,1984.7 C2040.2,1977.0 2040.1,1969.3 2040.0,1961.6 C2039.8,1953.9 2039.5,1946.2 2039.4,1938.6 C2039.3,1930.9 2039.2,1923.2 2039.4,1915.5 C2039.6,1907.8 2040.1,1900.1 2040.6,1892.4 C2041.0,1884.7 2041.8,1875.1 2042.3,1869.4 C2042.8,1863.6 2043.6,1855.9 2043.8,1852.1 C2044.0,1848.2 2044.2,1843.6 2044.0,1840.5 C2043.8,1837.4 2043.1,1833.3 2042.6,1831.3 C2042.2,1829.3 2041.2,1826.6 2040.6,1825.5 C2039.9,1824.5 2038.9,1823.4 2037.7,1823.2 C2036.5,1823.0 2035.2,1823.7 2034.2,1824.4 C2033.2,1825.1 2031.5,1827.5 2030.8,1828.4 C2030.0,1829.4 2028.5,1831.3 2028.5,1831.3 C2028.5,1831.3 2027.4,1825.9 2026.7,1823.2 C2026.1,1820.6 2025.2,1817.8 2024.4,1815.2 C2023.6,1812.5 2022.8,1809.4 2022.1,1807.1 C2021.4,1804.8 2020.0,1802.6 2019.8,1800.2 C2019.6,1797.7 2024.7,1786.3 2019.8,1784.0 C2014.9,1781.7 1991.4,1780.2 1985.2,1784.0Z" fill="url(#pinkpat)" stroke="#231f20" stroke-width="2.2" stroke-dasharray="6.2 4" stroke-linejoin="round"/>
<path d="M2040.6,1795.6 C2041.0,1794.2 2042.7,1793.7 2044.0,1793.2 C2045.3,1792.8 2050.4,1792.3 2053.2,1790.9 C2056.1,1789.6 2059.5,1784.6 2063.6,1784.0 C2067.7,1783.5 2098.7,1781.7 2104.0,1784.0 C2109.3,1786.3 2103.9,1799.0 2103.4,1801.3 C2103.0,1803.6 2100.8,1805.2 2099.4,1807.1 C2098.0,1809.0 2096.1,1810.8 2094.8,1812.9 C2093.4,1814.9 2092.0,1817.3 2091.3,1819.8 C2090.6,1822.3 2091.5,1825.3 2090.7,1827.8 C2089.9,1830.4 2087.9,1832.5 2086.7,1834.8 C2085.5,1837.0 2084.1,1839.3 2083.2,1841.7 C2082.4,1844.1 2081.8,1847.9 2080.9,1850.9 C2080.1,1854.0 2078.8,1857.8 2078.0,1860.1 C2077.3,1862.5 2076.0,1864.8 2075.7,1867.1 C2075.5,1869.4 2075.7,1871.9 2076.3,1874.0 C2076.9,1876.0 2077.9,1878.5 2079.2,1879.7 C2080.5,1881.0 2083.1,1880.8 2084.4,1881.5 C2085.7,1882.2 2087.2,1883.0 2087.8,1884.4 C2088.5,1885.7 2089.3,1889.7 2089.6,1892.4 C2089.9,1895.2 2090.0,1900.1 2090.2,1904.0 C2090.3,1907.8 2090.6,1911.6 2090.7,1915.5 C2090.8,1919.3 2090.8,1923.2 2090.7,1927.0 C2090.7,1930.9 2090.5,1934.7 2090.4,1938.6 C2090.3,1942.4 2090.3,1947.8 2090.2,1950.1 C2090.1,1952.4 2089.8,1956.1 2089.6,1957.0 C2089.3,1957.9 2088.8,1959.3 2087.8,1959.3 C2086.9,1959.3 2086.3,1957.8 2085.5,1957.0 C2084.8,1956.2 2082.9,1954.2 2082.1,1953.6 C2081.2,1952.9 2080.1,1951.8 2079.2,1952.4 C2078.3,1953.0 2077.5,1955.4 2076.9,1957.0 C2076.3,1958.6 2075.3,1961.6 2074.6,1963.9 C2073.9,1966.3 2073.0,1970.3 2072.3,1972.0 C2071.6,1973.7 2069.4,1976.6 2069.4,1976.6 C2069.4,1976.6 2067.6,1974.4 2067.1,1973.2 C2066.6,1971.9 2065.9,1968.6 2065.4,1966.2 C2064.9,1963.9 2064.2,1960.1 2063.6,1957.0 C2063.1,1953.9 2062.5,1950.1 2061.9,1946.6 C2061.3,1943.2 2060.8,1939.4 2060.2,1936.3 C2059.5,1933.1 2058.4,1928.4 2057.9,1927.0 C2057.3,1925.6 2055.6,1924.9 2055.0,1923.6 C2054.4,1922.2 2053.2,1918.2 2052.7,1915.5 C2052.2,1912.7 2051.8,1907.8 2051.5,1904.0 C2051.2,1900.1 2051.1,1896.3 2050.9,1892.4 C2050.8,1888.6 2050.7,1884.7 2050.7,1880.9 C2050.7,1877.1 2050.8,1873.2 2050.7,1869.4 C2050.7,1865.5 2050.5,1861.7 2050.4,1857.8 C2050.2,1854.0 2050.1,1850.1 2049.8,1846.3 C2049.5,1842.5 2049.2,1838.6 2048.6,1834.8 C2048.1,1830.9 2047.1,1827.1 2046.3,1823.2 C2045.6,1819.4 2044.8,1814.8 2044.0,1811.7 C2043.2,1808.6 2041.6,1804.7 2041.1,1802.5 C2040.7,1800.2 2040.1,1796.9 2040.6,1795.6Z" fill="url(#cyanpat)" stroke="#231f20" stroke-width="2.2" stroke-dasharray="6.2 4" stroke-linejoin="round"/>
<path d="M2119.0,1784.0 C2112.2,1786.7 2119.0,1802.0 2117.8,1805.9 C2116.7,1809.8 2111.6,1813.2 2109.8,1815.2 C2107.9,1817.2 2105.8,1818.9 2104.0,1820.9 C2102.2,1822.9 2099.8,1825.3 2098.2,1827.8 C2096.6,1830.4 2094.6,1834.1 2093.6,1837.1 C2092.6,1840.0 2092.2,1843.2 2091.9,1846.3 C2091.5,1849.4 2091.5,1854.0 2091.3,1857.8 C2091.1,1861.7 2090.6,1865.5 2090.7,1869.4 C2090.8,1873.2 2091.4,1877.1 2091.9,1880.9 C2092.4,1884.7 2092.8,1888.6 2093.6,1892.4 C2094.5,1896.2 2096.0,1900.1 2097.1,1904.0 C2098.1,1907.8 2099.2,1911.7 2100.0,1915.5 C2100.7,1919.3 2101.3,1923.2 2101.7,1927.0 C2102.1,1930.9 2102.5,1934.7 2102.3,1938.6 C2102.1,1942.4 2101.1,1946.2 2100.5,1950.1 C2100.0,1953.9 2099.4,1957.8 2098.8,1961.6 C2098.2,1965.5 2097.7,1969.3 2097.1,1973.2 C2096.4,1977.0 2095.4,1980.9 2094.8,1984.7 C2094.1,1988.5 2093.0,1992.3 2093.0,1996.2 C2093.1,2000.1 2094.3,2007.2 2095.3,2012.1 C2096.2,2017.0 2097.8,2021.7 2098.9,2026.6 C2100.0,2031.5 2101.3,2037.9 2102.5,2043.5 C2103.7,2049.1 2105.0,2054.8 2106.2,2060.4 C2107.3,2066.1 2108.4,2073.4 2109.8,2079.8 C2111.2,2086.2 2113.2,2094.2 2114.6,2099.1 C2116.0,2104.0 2118.2,2111.6 2119.5,2113.6 C2120.7,2115.6 2123.6,2116.4 2125.5,2117.2 C2127.4,2118.0 2129.6,2119.1 2131.5,2118.4 C2133.5,2117.8 2135.2,2115.6 2136.4,2113.6 C2137.5,2111.6 2138.9,2107.2 2140.0,2103.9 C2141.1,2100.7 2142.3,2095.2 2143.6,2091.8 C2144.9,2088.5 2146.8,2084.5 2148.4,2082.2 C2150.1,2079.8 2152.3,2077.7 2154.5,2076.1 C2156.7,2074.5 2159.1,2073.0 2161.7,2072.5 C2164.4,2072.0 2172.5,2076.1 2172.6,2072.5 C2172.8,2068.9 2176.5,1801.8 2173.2,1784.0 C2169.9,1766.3 2125.8,1781.3 2119.0,1784.0Z" fill="url(#pinkpat)" stroke="#231f20" stroke-width="2.2" stroke-dasharray="6.2 4" stroke-linejoin="round"/>
<path d="M2068.2,1798.4 C2069.4,1797.4 2072.8,1797.4 2075.2,1797.3 C2077.5,1797.2 2084.4,1797.5 2086.7,1797.6 C2089.0,1797.8 2092.7,1798.2 2093.6,1798.4 C2094.5,1798.7 2095.9,1799.2 2095.9,1800.2 C2095.9,1801.1 2094.7,1802.5 2093.6,1803.0 C2092.5,1803.6 2089.0,1804.2 2086.7,1804.8 C2084.4,1805.4 2082.1,1806.3 2079.8,1806.5 C2077.5,1806.7 2074.4,1806.4 2072.9,1805.9 C2071.3,1805.4 2069.6,1804.4 2068.8,1803.0 C2068.0,1801.7 2067.1,1799.5 2068.2,1798.4Z" fill="#2a2627" stroke="#231f20" stroke-width="2.2" stroke-linejoin="round"/>
<path d="M2132.8,1810.0 C2132.8,1810.0 2142.6,1815.3 2143.8,1819.8 C2144.9,1824.2 2140.3,1828.2 2138.6,1832.5 C2136.9,1836.7 2133.4,1845.1 2133.4,1845.1 C2133.4,1845.1 2130.8,1837.8 2129.9,1834.8 C2129.0,1831.7 2127.3,1828.7 2127.6,1825.5 C2128.0,1822.4 2132.8,1810.0 2132.8,1810.0Z" fill="#fff" stroke="#231f20" stroke-width="2.2" stroke-dasharray="6.2 4" stroke-linejoin="round"/>
<path d="M2133.4,1815.2 C2133.4,1815.2 2138.1,1818.6 2138.6,1820.9 C2139.1,1823.3 2137.1,1825.5 2136.3,1827.8 C2135.5,1830.2 2134.0,1834.8 2134.0,1834.8 C2134.0,1834.8 2132.2,1830.5 2131.7,1829.0 C2131.2,1827.5 2130.3,1826.0 2130.5,1824.4 C2130.7,1822.8 2133.4,1815.2 2133.4,1815.2Z" fill="url(#cyanpat)" stroke="#231f20" stroke-width="2.2" stroke-linejoin="round"/>
<path d="M2102.8,1787.5 C2105.5,1785.9 2117.4,1786.0 2120.1,1787.5 C2122.8,1789.0 2120.3,1794.1 2119.6,1796.7 C2118.8,1799.3 2117.1,1801.4 2115.5,1803.6 C2114.0,1805.8 2111.7,1808.2 2109.8,1810.5 C2107.8,1812.9 2105.7,1815.0 2104.0,1817.5 C2102.3,1819.9 2100.5,1823.6 2099.4,1825.5 C2098.2,1827.5 2096.8,1830.3 2095.9,1831.3 C2095.0,1832.4 2093.7,1834.2 2092.5,1833.6 C2091.2,1833.0 2090.6,1830.6 2090.7,1829.0 C2090.9,1827.4 2092.5,1823.5 2093.6,1820.9 C2094.7,1818.3 2097.0,1814.4 2098.2,1811.7 C2099.5,1809.0 2100.8,1805.9 2101.7,1803.6 C2102.6,1801.4 2103.8,1799.1 2104.0,1796.7 C2104.2,1794.3 2100.1,1789.0 2102.8,1787.5Z" fill="#231f20"/>
<path d="M2119.0,1787.5 C2121.3,1787.0 2154.7,1787.5 2154.7,1787.5 C2154.7,1787.5 2154.0,1791.9 2152.4,1793.2 C2150.9,1794.6 2147.9,1795.1 2145.5,1795.6 C2143.1,1796.0 2139.4,1796.3 2136.3,1796.1 C2133.2,1795.9 2129.5,1794.7 2127.1,1794.4 C2124.6,1794.1 2121.3,1795.9 2119.6,1794.4 C2117.8,1792.9 2116.7,1787.9 2119.0,1787.5Z" fill="#231f20"/>
<path d="M2121.3,1798.4 C2122.2,1797.1 2124.4,1797.0 2125.9,1797.3 C2127.5,1797.6 2129.3,1798.8 2129.9,1800.2 C2130.6,1801.6 2130.2,1803.6 2129.4,1804.8 C2128.5,1806.0 2126.8,1806.6 2125.3,1806.5 C2123.9,1806.4 2122.0,1805.6 2121.3,1804.2 C2120.6,1802.8 2120.4,1799.8 2121.3,1798.4Z" fill="url(#pinkpat)" stroke="#231f20" stroke-width="2.2" stroke-linejoin="round"/>
<path d="M2152.4,1790.9 L2161.7,1790.9 L2161.7,1800.2 L2157.0,1799.0Z" fill="#fff"/>
<path d="M2008.9,2305.2 L2010.1,2278.6 L2012.1,2264.1 L2013.7,2254.5 L2015.0,2269.0 L2015.7,2305.2Z" fill="url(#cyanpat)" stroke="#231f20" stroke-width="2.2" stroke-dasharray="6.2 4" stroke-linejoin="round"/>
<path d="M2040.9,1815.8 C2040.9,1815.8 2041.9,1838.3 2042.1,1849.6 C2042.4,1860.9 2042.6,1881.8 2042.6,1897.9 C2042.6,1914.0 2042.1,1930.1 2042.1,1946.2 C2042.1,1962.3 2042.6,1994.6 2042.6,1994.6" fill="none" stroke="#231f20" stroke-width="2.2" stroke-linejoin="round"/>
<path d="M2003.5,2034.4 C2003.5,2034.4 2006.4,2039.6 2006.4,2041.7 C2006.4,2043.8 2003.5,2047.2 2003.5,2047.2 C2003.5,2047.2 2002.3,2043.6 2002.3,2041.7 C2002.3,2039.8 2003.5,2034.4 2003.5,2034.4Z" fill="none" stroke="#231f20" stroke-width="2.2" stroke-linejoin="round"/>
<path d="M2059.0,1972.8 C2059.0,1972.8 2057.4,1982.4 2057.1,1987.3 C2056.9,1992.2 2057.0,2012.8 2056.6,2018.7 C2056.2,2024.6 2053.9,2030.3 2053.7,2036.3 C2053.5,2042.2 2054.3,2060.4 2054.7,2072.5 C2055.1,2084.6 2055.6,2096.7 2056.1,2108.8 C2056.7,2120.8 2057.5,2136.9 2057.8,2145.0 C2058.2,2153.0 2058.6,2169.2 2058.6,2169.2 C2058.6,2169.2 2059.9,2153.1 2060.3,2145.0 C2060.6,2136.9 2060.8,2120.8 2061.0,2108.8 C2061.2,2096.7 2061.4,2078.1 2061.5,2072.5 C2061.6,2066.9 2061.6,2058.2 2061.9,2055.6 C2062.3,2053.0 2063.2,2049.4 2065.1,2048.3 C2067.0,2047.3 2069.3,2049.6 2071.1,2050.8 C2073.0,2051.9 2078.3,2056.1 2080.8,2058.0 C2083.3,2060.0 2086.2,2061.5 2088.0,2064.0 C2089.9,2066.6 2091.5,2071.2 2092.9,2074.9 C2094.3,2078.6 2096.5,2084.5 2097.7,2089.4 C2098.9,2094.4 2100.5,2102.2 2101.3,2108.8 C2102.1,2115.3 2102.3,2124.9 2103.0,2132.9 C2103.7,2141.0 2104.5,2149.0 2105.4,2157.1 C2106.4,2165.1 2107.5,2173.2 2108.6,2181.2 C2109.7,2189.3 2111.5,2201.4 2112.2,2205.4 C2112.9,2209.5 2114.6,2217.5 2114.6,2217.5 C2114.6,2217.5 2118.2,2212.7 2118.2,2212.7 C2118.2,2212.7 2123.1,2224.7 2123.1,2224.7 C2123.1,2224.7 2126.8,2220.2 2127.9,2217.5 C2129.0,2214.8 2131.9,2202.8 2132.7,2200.6 C2133.6,2198.4 2134.4,2195.1 2136.4,2194.5 C2138.3,2194.0 2139.8,2196.7 2141.2,2198.2 C2142.6,2199.6 2146.0,2204.6 2148.4,2207.8 C2150.9,2211.0 2153.9,2215.3 2155.7,2217.5 C2157.5,2219.7 2161.7,2223.5 2161.7,2223.5" fill="none" stroke="#231f20" stroke-width="2.2" stroke-linejoin="round"/>
<path d="M2059.0,1972.8 C2059.0,1972.8 2060.7,1982.5 2061.0,1987.3 C2061.3,1992.2 2061.9,2018.7 2061.9,2018.7 C2061.9,2018.7 2061.5,2012.1 2061.5,2012.1 C2061.5,2012.1 2062.3,2022.6 2062.7,2026.6 C2063.0,2030.6 2063.9,2038.7 2063.9,2038.7 C2063.9,2038.7 2067.3,2036.5 2068.7,2035.1 C2070.1,2033.6 2072.4,2031.3 2073.5,2029.0 C2074.7,2026.7 2075.9,2021.7 2076.4,2019.3 C2077.0,2017.0 2077.2,2012.1 2077.2,2012.1 C2077.2,2012.1 2082.0,2018.7 2082.0,2018.7 C2082.0,2018.7 2084.8,2005.8 2085.6,2001.8 C2086.5,1997.8 2087.4,1992.2 2088.0,1989.7 C2088.7,1987.3 2090.5,1982.5 2090.5,1982.5" fill="none" stroke="#231f20" stroke-width="2.2" stroke-linejoin="round"/>
<path d="M2003.5,2035.1 C2003.5,2035.1 2005.9,2040.5 2005.9,2042.3 C2005.9,2044.1 2003.5,2047.1 2003.5,2047.1 C2003.5,2047.1 2002.3,2043.1 2002.3,2041.1 C2002.3,2039.0 2003.5,2035.1 2003.5,2035.1Z" fill="none" stroke="#231f20" stroke-width="2.2" stroke-linejoin="round"/>
<path d="M2063.6,1788.6 C2063.6,1788.6 2063.7,1802.0 2064.2,1805.9 C2064.7,1809.9 2065.9,1815.0 2067.1,1817.5 C2068.3,1819.9 2070.2,1822.6 2072.9,1823.2 C2075.5,1823.9 2078.5,1822.3 2080.9,1820.9 C2083.4,1819.6 2085.5,1817.1 2087.8,1815.2 C2090.2,1813.2 2092.8,1811.2 2094.8,1809.4 C2096.8,1807.6 2099.1,1805.4 2100.5,1803.6 C2101.9,1801.9 2104.0,1797.9 2104.0,1797.9" fill="none" stroke="#231f20" stroke-width="2.2" stroke-linejoin="round"/>
<path d="M2061.3,1788.6 C2061.3,1788.6 2061.4,1803.9 2061.9,1808.2 C2062.4,1812.6 2063.3,1818.0 2064.8,1820.9 C2066.2,1823.8 2068.7,1827.0 2071.7,1827.8 C2074.7,1828.7 2078.1,1826.9 2080.9,1825.5 C2083.8,1824.2 2086.5,1821.9 2089.0,1819.8 C2091.5,1817.7 2094.0,1814.8 2095.9,1812.9 C2097.8,1810.9 2101.7,1807.1 2101.7,1807.1" fill="none" stroke="#231f20" stroke-width="2.2" stroke-linejoin="round"/>
<path d="M2059.0,1788.6 C2059.0,1788.6 2059.1,1805.8 2059.6,1810.5 C2060.1,1815.3 2061.4,1821.1 2063.1,1824.4 C2064.7,1827.7 2067.2,1831.4 2070.5,1832.5 C2073.9,1833.5 2077.7,1831.5 2080.9,1830.2 C2084.1,1828.8 2087.5,1826.3 2089.6,1824.4 C2091.7,1822.4 2094.8,1817.5 2094.8,1817.5" fill="none" stroke="#231f20" stroke-width="2.2" stroke-linejoin="round"/>
<path d="M2056.7,1788.6 C2056.7,1788.6 2056.8,1807.7 2057.3,1812.9 C2057.8,1818.0 2058.9,1824.1 2060.7,1827.8 C2062.6,1831.6 2065.7,1835.8 2069.4,1837.1 C2073.1,1838.3 2077.9,1836.0 2080.9,1834.8 C2084.0,1833.5 2087.4,1830.6 2089.0,1829.0 C2090.6,1827.4 2092.5,1823.2 2092.5,1823.2" fill="none" stroke="#231f20" stroke-width="2.2" stroke-linejoin="round"/>
<path d="M2054.4,1788.6 C2054.4,1788.6 2054.2,1809.7 2054.6,1815.2 C2055.1,1820.6 2055.9,1827.1 2057.9,1831.3 C2059.8,1835.5 2064.4,1840.2 2067.1,1841.7 C2069.8,1843.2 2073.4,1842.8 2076.3,1841.7 C2079.2,1840.6 2083.5,1836.8 2085.5,1834.8 C2087.6,1832.8 2090.7,1827.8 2090.7,1827.8" fill="none" stroke="#231f20" stroke-width="2.2" stroke-linejoin="round"/>
<path d="M2050.9,1793.2 C2050.9,1793.2 2051.2,1811.7 2051.5,1817.5 C2051.8,1823.3 2052.5,1830.1 2053.2,1834.8 C2054.0,1839.5 2055.9,1846.2 2056.7,1848.6 C2057.5,1851.0 2058.7,1854.2 2060.2,1855.5 C2061.6,1856.8 2064.0,1856.3 2065.9,1856.7 C2067.9,1857.1 2069.8,1858.4 2071.7,1857.8 C2073.6,1857.2 2075.1,1855.0 2076.3,1853.2 C2077.6,1851.4 2078.6,1848.6 2079.8,1846.3 C2080.9,1844.0 2081.9,1841.6 2083.2,1839.4 C2084.5,1837.1 2087.8,1832.5 2087.8,1832.5" fill="none" stroke="#231f20" stroke-width="2.2" stroke-linejoin="round"/>
<path d="M2045.2,1794.4 C2045.2,1794.4 2046.0,1805.9 2046.3,1811.7 C2046.7,1817.5 2047.4,1827.1 2047.5,1834.8 C2047.6,1842.5 2047.2,1850.1 2046.9,1857.8 C2046.6,1865.5 2046.1,1873.2 2045.8,1880.9 C2045.4,1888.6 2044.7,1896.3 2044.6,1904.0 C2044.5,1911.6 2044.9,1919.3 2045.2,1927.0 C2045.5,1934.7 2045.9,1942.4 2046.3,1950.1 C2046.7,1957.8 2047.2,1965.5 2047.5,1973.2 C2047.8,1980.8 2048.3,1996.2 2048.6,2007.8 C2049.0,2019.3 2049.6,2042.4 2049.6,2042.4" fill="none" stroke="#231f20" stroke-width="2.2" stroke-linejoin="round"/>
<path d="M2027.9,1795.6 C2027.9,1795.6 2028.7,1802.7 2030.2,1804.8 C2031.7,1806.9 2035.1,1806.6 2037.1,1808.2 C2039.1,1809.9 2041.6,1812.4 2042.9,1815.2 C2044.1,1817.9 2045.2,1825.5 2045.2,1825.5" fill="none" stroke="#231f20" stroke-width="2.2" stroke-linejoin="round"/>
<path d="M2105.1,1823.2 C2105.1,1823.2 2102.6,1829.4 2101.7,1832.5 C2100.7,1835.5 2099.8,1838.5 2099.4,1841.7 C2098.9,1844.8 2098.8,1848.6 2098.8,1852.1 C2098.8,1855.5 2099.1,1860.9 2099.4,1864.7 C2099.7,1868.6 2100.1,1872.4 2100.5,1876.3 C2101.0,1880.1 2101.6,1884.0 2102.3,1887.8 C2102.9,1891.6 2103.8,1895.9 2104.6,1899.3 C2105.3,1902.8 2106.2,1906.2 2106.9,1909.7 C2107.5,1913.2 2108.2,1917.4 2108.6,1921.3 C2109.0,1925.1 2109.3,1928.9 2109.2,1932.8 C2109.1,1936.6 2108.6,1940.5 2108.0,1944.3 C2107.5,1948.1 2106.4,1952.0 2105.7,1955.9 C2105.1,1959.7 2104.5,1963.6 2104.0,1967.4 C2103.5,1971.2 2103.1,1975.1 2102.8,1978.9 C2102.6,1982.8 2102.3,1986.6 2102.3,1990.5 C2102.3,1994.3 2102.7,2006.2 2102.8,2007.8 C2102.9,2009.3 2103.5,2010.8 2103.8,2012.4 C2104.1,2013.9 2106.0,2025.1 2107.5,2031.4 C2108.9,2037.7 2110.9,2045.4 2112.3,2050.4 C2113.7,2055.5 2116.5,2063.9 2117.1,2065.4 C2117.8,2066.9 2119.1,2069.1 2120.7,2068.9 C2122.4,2068.7 2124.2,2066.1 2125.6,2064.3 C2126.9,2062.5 2129.0,2058.6 2130.4,2055.6 C2131.8,2052.6 2132.8,2048.0 2134.0,2045.8 C2135.2,2043.6 2136.7,2041.4 2138.8,2040.0 C2140.9,2038.6 2145.1,2036.9 2148.5,2036.0 C2151.9,2035.2 2161.7,2034.3 2161.7,2034.3" fill="none" stroke="#231f20" stroke-width="2.2" stroke-linejoin="round"/>
<path d="M2119.0,1820.9 C2119.0,1820.9 2114.9,1822.1 2113.2,1823.2 C2111.5,1824.4 2109.6,1825.9 2108.6,1827.8 C2107.6,1829.8 2106.3,1833.9 2105.7,1837.1 C2105.1,1840.2 2104.8,1844.8 2104.6,1848.6 C2104.4,1852.4 2104.4,1856.3 2104.6,1860.1 C2104.8,1864.0 2105.2,1867.8 2105.7,1871.7 C2106.2,1875.5 2106.7,1879.4 2107.5,1883.2 C2108.2,1887.0 2109.6,1891.7 2110.3,1894.7 C2111.1,1897.8 2112.0,1900.8 2112.6,1904.0 C2113.2,1907.1 2114.0,1911.7 2114.4,1915.5 C2114.8,1919.3 2115.0,1923.2 2114.9,1927.0 C2114.9,1930.9 2114.4,1934.7 2113.8,1938.6 C2113.2,1942.4 2112.2,1946.3 2111.5,1950.1 C2110.8,1953.9 2110.1,1957.8 2109.8,1961.6 C2109.4,1965.5 2109.2,1969.3 2109.2,1973.2 C2109.2,1977.0 2109.4,1980.9 2109.8,1984.7 C2110.1,1988.5 2110.9,1992.4 2111.5,1996.2 C2112.1,2000.1 2112.9,2006.3 2113.2,2007.8 C2113.5,2009.3 2113.9,2010.8 2114.6,2012.1 C2115.3,2013.5 2117.2,2016.0 2118.2,2016.9 C2119.2,2017.7 2120.6,2018.5 2121.9,2018.1 C2123.1,2017.7 2124.8,2016.1 2125.6,2014.6 C2126.3,2013.0 2126.7,2010.1 2127.1,2007.8 C2127.4,2005.5 2127.8,2000.1 2128.2,1996.2 C2128.7,1992.4 2129.7,1984.7 2130.5,1978.9 C2131.3,1973.2 2132.4,1965.5 2132.8,1961.6 C2133.2,1957.8 2133.1,1953.2 2133.4,1950.1 C2133.7,1947.0 2135.1,1940.9 2135.1,1940.9 C2135.1,1940.9 2137.8,1942.9 2138.6,1944.3 C2139.4,1945.7 2141.0,1949.7 2142.1,1952.4 C2143.1,1955.1 2144.2,1958.6 2145.5,1961.6 C2146.8,1964.6 2148.5,1968.3 2150.1,1970.8 C2151.7,1973.4 2153.7,1975.8 2155.9,1977.8 C2158.1,1979.7 2163.4,1982.4 2163.4,1982.4" fill="none" stroke="#231f20" stroke-width="2.2" stroke-linejoin="round"/>
<path d="M2127.1,1817.5 C2127.1,1817.5 2124.3,1819.5 2123.6,1820.9 C2122.9,1822.4 2122.0,1825.5 2121.9,1827.8 C2121.7,1830.2 2121.9,1834.6 2122.4,1837.1 C2123.0,1839.5 2124.4,1841.7 2125.3,1844.0 C2126.3,1846.3 2128.3,1849.0 2128.2,1850.9 C2128.1,1852.8 2126.4,1854.6 2124.8,1855.5 C2123.1,1856.5 2119.5,1856.0 2117.8,1856.7 C2116.2,1857.4 2114.6,1858.6 2113.8,1860.1 C2113.0,1861.7 2112.2,1865.5 2112.1,1868.2 C2111.9,1871.0 2112.2,1874.4 2112.6,1877.4 C2113.1,1880.5 2114.1,1883.9 2114.9,1886.7 C2115.8,1889.4 2116.9,1892.4 2117.8,1894.7 C2118.7,1897.1 2120.0,1899.3 2120.7,1901.7 C2121.4,1904.0 2122.4,1907.0 2122.4,1909.7 C2122.5,1912.5 2122.0,1917.5 2121.3,1921.3 C2120.6,1925.1 2119.3,1929.0 2118.4,1932.8 C2117.5,1936.6 2116.6,1940.5 2116.1,1944.3 C2115.6,1948.1 2115.4,1952.0 2115.5,1955.9 C2115.6,1959.7 2116.2,1963.6 2116.7,1967.4 C2117.2,1971.2 2117.9,1975.1 2118.4,1978.9 C2118.9,1982.8 2119.3,1986.6 2119.6,1990.5 C2119.8,1994.3 2120.1,2006.6 2120.1,2006.6" fill="none" stroke="#231f20" stroke-width="2.2" stroke-linejoin="round"/>
<path d="M2140.9,1912.0 C2140.9,1912.0 2138.5,1905.7 2137.4,1904.0 C2136.4,1902.2 2134.5,1900.2 2133.4,1899.3 C2132.3,1898.5 2130.7,1897.7 2129.4,1898.2 C2128.1,1898.7 2124.8,1902.8 2124.8,1902.8 C2124.8,1902.8 2121.8,1898.3 2120.7,1895.9 C2119.7,1893.4 2118.4,1889.3 2117.8,1886.7 C2117.3,1884.0 2116.9,1880.7 2117.3,1878.6 C2117.6,1876.5 2118.6,1874.2 2120.1,1872.8 C2121.7,1871.4 2123.9,1869.9 2125.9,1870.5 C2127.9,1871.1 2130.4,1874.8 2131.7,1876.3 C2132.9,1877.7 2133.8,1880.5 2135.1,1880.9 C2136.4,1881.3 2137.7,1879.6 2138.6,1878.6 C2139.5,1877.5 2141.8,1873.7 2143.2,1871.7 C2144.7,1869.7 2146.1,1867.6 2147.8,1865.9 C2149.6,1864.2 2152.2,1861.7 2154.7,1860.1 C2157.3,1858.6 2163.4,1856.7 2163.4,1856.7" fill="none" stroke="#231f20" stroke-width="2.2" stroke-linejoin="round"/>
<path d="M2163.4,1867.1 C2163.4,1867.1 2159.0,1868.2 2157.0,1869.4 C2155.1,1870.5 2152.2,1872.9 2150.1,1875.1 C2148.1,1877.3 2145.8,1880.3 2144.4,1883.2 C2142.9,1886.1 2141.7,1889.3 2141.5,1892.4 C2141.3,1895.5 2142.1,1898.7 2143.2,1901.7 C2144.3,1904.6 2146.5,1907.7 2147.8,1909.7 C2149.2,1911.8 2152.4,1915.5 2152.4,1915.5" fill="none" stroke="#231f20" stroke-width="2.2" stroke-linejoin="round"/>
<path d="M2163.4,1878.6 C2163.4,1878.6 2159.6,1880.5 2158.2,1882.0 C2156.8,1883.6 2154.7,1886.5 2153.6,1889.0 C2152.4,1891.5 2151.4,1894.3 2151.3,1897.0 C2151.2,1899.8 2152.1,1902.9 2153.0,1905.1 C2153.9,1907.3 2155.4,1909.2 2157.0,1910.9 C2158.7,1912.5 2163.4,1915.5 2163.4,1915.5" fill="none" stroke="#231f20" stroke-width="2.2" stroke-linejoin="round"/>
<path d="M2163.4,1892.4 C2163.4,1892.4 2161.1,1894.5 2160.5,1895.9 C2159.9,1897.3 2158.8,1899.8 2159.3,1901.7 C2159.9,1903.5 2163.4,1906.3 2163.4,1906.3" fill="none" stroke="#231f20" stroke-width="2.2" stroke-linejoin="round"/>
<path d="M2163.4,1846.3 C2163.4,1846.3 2158.3,1849.2 2155.9,1850.9 C2153.5,1852.6 2151.0,1854.8 2149.0,1856.7 C2147.0,1858.5 2145.0,1861.0 2143.2,1862.4 C2141.5,1863.8 2139.4,1865.9 2137.4,1865.9 C2135.5,1865.9 2134.1,1863.9 2132.8,1862.4 C2131.6,1861.0 2129.6,1858.7 2129.4,1856.7 C2129.2,1854.6 2130.6,1852.2 2131.7,1850.9 C2132.8,1849.6 2134.9,1849.7 2136.3,1848.6 C2137.6,1847.5 2140.9,1844.0 2143.2,1841.7 C2145.5,1839.4 2147.9,1836.8 2150.1,1834.8 C2152.3,1832.7 2155.1,1830.4 2157.0,1829.0 C2159.0,1827.6 2163.4,1825.5 2163.4,1825.5" fill="none" stroke="#231f20" stroke-width="2.2" stroke-linejoin="round"/>
<path d="M2163.4,1837.1 C2163.4,1837.1 2159.0,1840.0 2157.0,1841.7 C2155.1,1843.4 2153.2,1845.5 2151.3,1847.4 C2149.4,1849.4 2147.0,1851.7 2145.5,1853.2 C2144.0,1854.8 2140.9,1857.8 2140.9,1857.8" fill="none" stroke="#231f20" stroke-width="2.2" stroke-linejoin="round"/>
<path d="M2146.7,1825.5 C2146.7,1825.5 2150.4,1822.4 2152.4,1820.9 C2154.4,1819.5 2158.1,1817.0 2159.3,1816.3 C2160.6,1815.7 2163.4,1815.2 2163.4,1815.2" fill="none" stroke="#231f20" stroke-width="2.2" stroke-linejoin="round"/>
<path d="M2131.7,2013.5 C2131.7,2013.5 2134.3,2009.0 2135.1,2006.6 C2135.9,2004.2 2136.7,1999.3 2137.4,1996.2 C2138.2,1993.1 2138.6,1988.7 2139.7,1987.0 C2140.9,1985.3 2143.4,1984.9 2145.5,1984.7 C2147.6,1984.5 2150.1,1985.5 2152.4,1985.8 C2154.7,1986.2 2158.0,1986.8 2159.3,1987.0 C2160.7,1987.2 2163.4,1987.2 2163.4,1987.2" fill="none" stroke="#231f20" stroke-width="2.2" stroke-linejoin="round"/>
<path d="M2163.4,1933.9 C2163.4,1933.9 2160.5,1931.8 2159.3,1930.5 C2158.2,1929.1 2156.1,1925.3 2154.7,1923.6 C2153.4,1921.9 2150.1,1919.0 2150.1,1919.0" fill="none" stroke="#231f20" stroke-width="2.2" stroke-linejoin="round"/>
<path d="M2067.7,1880.9 C2067.7,1880.9 2070.4,1885.6 2071.1,1887.8 C2071.9,1890.0 2072.4,1892.4 2072.3,1894.7 C2072.2,1897.1 2071.1,1901.6 2070.5,1904.0 C2070.0,1906.3 2068.2,1910.9 2068.2,1910.9 C2068.2,1910.9 2066.6,1904.7 2065.9,1901.7 C2065.3,1898.6 2064.3,1894.8 2064.2,1892.4 C2064.1,1890.1 2064.9,1887.2 2065.4,1885.5 C2065.9,1883.9 2067.7,1880.9 2067.7,1880.9Z" fill="none" stroke="#231f20" stroke-width="2.2" stroke-linejoin="round"/>
<path d="M1311.7,1792.3 C1311.7,1792.3 1313.2,1803.6 1314.2,1809.2 C1315.2,1814.9 1317.6,1820.5 1317.8,1826.2 C1318.0,1831.8 1315.9,1839.1 1315.4,1843.1 C1314.9,1847.1 1314.0,1851.1 1314.2,1855.2 C1314.3,1859.2 1316.0,1867.2 1316.6,1869.7 C1317.1,1872.1 1319.0,1876.9 1319.0,1876.9" fill="none" stroke="#231f20" stroke-width="2.2" stroke-linejoin="round"/>
<path d="M1329.9,1792.3 C1329.9,1792.3 1328.3,1800.4 1328.7,1804.4 C1329.1,1808.4 1331.3,1812.5 1332.3,1816.5 C1333.3,1820.5 1334.7,1824.5 1334.7,1828.6 C1334.7,1832.7 1332.9,1838.3 1332.3,1843.1 C1331.7,1847.9 1330.9,1852.7 1331.1,1857.6 C1331.3,1862.4 1333.1,1869.7 1333.5,1872.1 C1333.9,1874.5 1334.7,1879.3 1334.7,1879.3" fill="none" stroke="#231f20" stroke-width="2.2" stroke-linejoin="round"/>
<path d="M1337.1,1789.9 C1337.1,1789.9 1337.6,1799.0 1338.3,1802.0 C1339.0,1805.0 1340.7,1809.4 1341.9,1810.5 C1343.2,1811.5 1345.9,1810.6 1346.8,1809.2 C1347.7,1807.9 1349.0,1802.8 1349.2,1799.6 C1349.4,1796.3 1348.0,1789.9 1348.0,1789.9" fill="none" stroke="#231f20" stroke-width="2.2" stroke-linejoin="round"/>
<path d="M1333.5,1789.9 C1333.5,1789.9 1333.6,1800.4 1334.7,1804.4 C1335.8,1808.4 1338.9,1813.8 1340.7,1815.3 C1342.6,1816.8 1346.2,1816.9 1348.0,1815.3 C1349.8,1813.7 1352.4,1808.3 1353.3,1804.4 C1354.2,1800.5 1354.0,1789.9 1354.0,1789.9" fill="none" stroke="#231f20" stroke-width="2.2" stroke-linejoin="round"/>
<path d="M1345.6,1828.6 C1345.6,1828.6 1345.9,1844.7 1346.1,1852.7 C1346.2,1860.8 1346.8,1879.3 1346.8,1879.3" fill="none" stroke="#231f20" stroke-width="2.2" stroke-linejoin="round"/>
<path d="M1341.9,1901.1 C1341.9,1901.1 1341.1,1915.6 1340.7,1922.8 C1340.4,1930.1 1340.0,1944.7 1339.5,1947.0 C1339.1,1949.2 1335.8,1950.4 1334.7,1951.8 C1333.6,1953.2 1332.5,1954.9 1332.3,1956.6 C1332.0,1958.4 1331.5,1971.1 1331.1,1978.4 C1330.7,1985.6 1330.2,1997.7 1329.9,2002.5 C1329.6,2007.4 1328.7,2017.0 1328.7,2017.0" fill="none" stroke="#231f20" stroke-width="2.2" stroke-linejoin="round"/>
<path d="M1362.5,1789.9 C1362.5,1789.9 1363.9,1802.8 1363.7,1809.2 C1363.5,1815.7 1361.9,1825.4 1361.3,1833.4 C1360.7,1841.4 1360.5,1849.5 1360.1,1857.6 C1359.7,1865.6 1359.7,1873.7 1358.9,1881.7 C1358.1,1889.8 1356.4,1897.8 1355.2,1905.9 C1354.0,1913.9 1352.6,1922.0 1351.6,1930.1 C1350.6,1938.1 1350.0,1946.2 1349.2,1954.2 C1348.4,1962.3 1347.6,1970.3 1346.8,1978.4 C1346.0,1986.4 1345.0,1997.7 1344.4,2002.5 C1343.8,2007.4 1341.9,2017.0 1341.9,2017.0" fill="none" stroke="#231f20" stroke-width="2.2" stroke-linejoin="round"/>
<path d="M1369.7,1789.9 C1369.7,1789.9 1371.1,1802.8 1370.9,1809.2 C1370.8,1815.7 1369.1,1825.4 1368.5,1833.4 C1367.9,1841.4 1367.9,1849.5 1367.3,1857.6 C1366.7,1865.6 1365.9,1873.7 1364.9,1881.7 C1363.9,1889.8 1362.5,1897.8 1361.3,1905.9 C1360.1,1913.9 1358.7,1922.0 1357.7,1930.1 C1356.6,1938.1 1355.6,1946.2 1354.8,1954.2 C1353.9,1962.3 1353.1,1970.3 1352.3,1978.4 C1351.5,1986.4 1350.6,1995.3 1349.9,2002.5 C1349.2,2009.8 1348.5,2019.4 1348.0,2024.3 C1347.5,2029.1 1346.1,2038.8 1346.1,2038.8" fill="none" stroke="#231f20" stroke-width="2.2" stroke-linejoin="round"/>
<path d="M1375.8,1802.0 C1375.8,1802.0 1378.4,1814.8 1378.2,1821.3 C1378.0,1827.8 1375.6,1837.5 1374.6,1845.5 C1373.6,1853.5 1372.9,1863.2 1372.2,1869.7 C1371.4,1876.1 1370.7,1882.6 1369.7,1889.0 C1368.7,1895.4 1367.2,1901.8 1366.1,1908.3 C1365.0,1914.8 1363.6,1924.4 1362.5,1932.5 C1361.4,1940.5 1360.5,1948.6 1359.6,1956.6 C1358.7,1964.7 1358.0,1972.7 1357.2,1980.8 C1356.4,1988.9 1355.6,1996.9 1354.8,2005.0 C1354.0,2013.0 1353.0,2022.7 1352.3,2029.1 C1351.7,2035.6 1350.4,2048.5 1350.4,2048.5" fill="none" stroke="#231f20" stroke-width="2.2" stroke-linejoin="round"/>
<path d="M1320.2,1991.7 C1320.2,1991.7 1322.9,1997.2 1323.8,2000.1 C1324.8,2003.0 1326.2,2009.8 1326.2,2009.8 C1326.2,2009.8 1323.6,2006.5 1322.6,2005.0 C1321.7,2003.4 1320.2,2000.1 1320.2,2000.1" fill="none" stroke="#231f20" stroke-width="2.2" stroke-linejoin="round"/>
<path d="M1331.1,1818.9 C1331.1,1818.9 1334.4,1821.7 1334.7,1823.7 C1335.0,1825.7 1333.5,1835.8 1333.5,1835.8 C1333.5,1835.8 1330.9,1832.9 1330.6,1831.0 C1330.3,1829.1 1331.1,1818.9 1331.1,1818.9Z" fill="none" stroke="#231f20" stroke-width="2.2" stroke-linejoin="round"/>
<path d="M1413.2,1828.6 C1413.2,1828.6 1412.0,1823.6 1410.8,1821.3 C1409.6,1819.1 1407.7,1816.3 1406.0,1815.3 C1404.2,1814.3 1401.9,1814.7 1399.9,1815.3 C1398.0,1815.9 1395.2,1816.9 1393.9,1818.9 C1392.6,1820.9 1392.0,1824.5 1392.0,1827.4 C1391.9,1830.3 1392.6,1835.2 1393.4,1838.2 C1394.3,1841.3 1395.6,1844.2 1397.5,1846.7 C1399.5,1849.2 1402.5,1851.2 1404.8,1852.7 C1407.0,1854.2 1410.3,1856.4 1412.0,1856.4 C1413.7,1856.4 1415.1,1854.3 1415.6,1852.7 C1416.2,1851.1 1416.9,1843.1 1416.9,1843.1" fill="none" stroke="#231f20" stroke-width="2.2" stroke-linejoin="round"/>
<path d="M1373.4,2073.1 C1373.4,2073.1 1372.5,2050.2 1372.2,2038.8 C1371.8,2027.4 1371.1,2014.6 1370.9,2002.5 C1370.7,1990.5 1370.6,1974.4 1370.9,1966.3 C1371.3,1958.2 1372.4,1947.1 1373.4,1942.1 C1374.3,1937.1 1377.1,1930.0 1378.2,1927.6 C1379.3,1925.3 1381.7,1923.5 1383.0,1921.6 C1384.4,1919.7 1385.9,1917.8 1386.7,1915.6 C1387.4,1913.3 1389.9,1902.1 1390.3,1901.1 C1390.7,1900.0 1391.7,1898.1 1392.7,1898.6 C1393.7,1899.2 1396.4,1902.4 1397.5,1904.7 C1398.7,1907.0 1400.8,1913.5 1402.4,1918.0 C1403.9,1922.4 1405.9,1927.6 1407.2,1932.5 C1408.5,1937.4 1409.6,1943.8 1410.8,1949.4 C1412.0,1955.0 1413.2,1960.7 1414.4,1966.3 C1415.6,1971.9 1417.4,1980.0 1418.1,1983.2 C1418.7,1986.4 1420.0,1989.6 1420.0,1992.9 C1420.0,1996.2 1418.7,2000.9 1418.1,2005.0 C1417.4,2009.0 1416.5,2014.6 1415.6,2019.5 C1414.8,2024.3 1413.8,2029.1 1413.2,2034.0 C1412.6,2038.8 1411.8,2044.1 1412.0,2048.5 C1412.2,2052.8 1413.5,2057.0 1414.4,2061.2 C1415.4,2065.4 1418.1,2075.7 1419.3,2080.5 C1420.5,2085.3 1422.1,2090.1 1422.9,2095.0 C1423.7,2099.9 1424.5,2109.5 1425.3,2116.7 C1426.2,2124.0 1427.2,2132.8 1428.2,2140.9 C1429.2,2148.9 1430.4,2157.8 1431.4,2165.1 C1432.3,2172.3 1433.9,2182.8 1434.3,2186.8 C1434.6,2190.8 1434.9,2194.9 1434.5,2198.9 C1434.1,2202.9 1432.5,2210.2 1431.4,2215.8 C1430.2,2221.4 1428.0,2231.1 1426.5,2237.5 C1425.0,2244.0 1423.2,2251.2 1421.7,2256.9 C1420.2,2262.5 1417.9,2268.0 1416.9,2273.8 C1415.8,2279.6 1413.2,2302.8 1413.2,2302.8" fill="none" stroke="#231f20" stroke-width="2.2" stroke-linejoin="round"/>
<path d="M1373.4,2073.2 C1373.4,2073.2 1373.6,2078.2 1374.6,2080.5 C1375.5,2082.7 1378.4,2085.9 1379.4,2087.7 C1380.4,2089.6 1381.3,2093.8 1381.3,2093.8 C1381.3,2093.8 1383.5,2086.6 1384.2,2082.9 C1385.0,2079.2 1386.7,2067.9 1386.7,2067.9 C1386.7,2067.9 1387.2,2076.3 1387.1,2080.5 C1387.1,2084.7 1386.6,2099.8 1386.2,2109.5 C1385.8,2119.1 1385.2,2129.6 1384.7,2138.5 C1384.3,2147.3 1383.3,2165.1 1383.3,2165.1" fill="none" stroke="#231f20" stroke-width="2.2" stroke-linejoin="round"/>
<path d="M1381.3,2102.2 C1381.3,2102.2 1380.8,2120.0 1380.6,2128.8 C1380.4,2137.7 1380.0,2154.6 1379.9,2165.1 C1379.8,2175.5 1379.6,2192.3 1379.9,2196.5 C1380.2,2200.6 1382.2,2204.5 1383.0,2208.6 C1383.8,2212.6 1384.9,2219.8 1385.4,2225.5 C1386.0,2231.1 1386.6,2241.6 1387.1,2249.6 C1387.7,2257.7 1388.2,2265.7 1388.6,2273.8 C1389.0,2281.9 1389.6,2302.8 1389.6,2302.8" fill="none" stroke="#231f20" stroke-width="2.2" stroke-linejoin="round"/>
<path d="M1353.3,2302.8 C1353.3,2302.8 1354.6,2277.0 1355.2,2269.0 C1355.8,2260.9 1356.9,2251.2 1357.7,2244.8 C1358.4,2238.3 1359.5,2228.7 1360.1,2225.5 C1360.6,2222.2 1361.8,2216.8 1362.5,2215.8 C1363.1,2214.8 1365.3,2216.7 1366.1,2215.8 C1366.9,2214.9 1367.8,2211.0 1368.5,2208.6 C1369.2,2206.1 1370.9,2198.9 1370.9,2198.9 C1370.9,2198.9 1371.9,2208.5 1372.2,2213.4 C1372.5,2218.2 1373.4,2237.5 1373.4,2237.5" fill="none" stroke="#231f20" stroke-width="2.2" stroke-linejoin="round"/>
<path d="M1500.7,1789.9 C1500.7,1789.9 1500.0,1802.8 1499.7,1809.2 C1499.5,1815.7 1498.8,1833.4 1498.3,1845.5 C1497.8,1857.6 1497.3,1869.7 1496.6,1881.7 C1495.9,1893.8 1494.9,1905.9 1494.2,1918.0 C1493.5,1930.1 1492.9,1942.1 1492.5,1954.2 C1492.1,1966.3 1491.7,1978.4 1491.8,1990.5 C1491.8,2002.5 1492.5,2018.6 1493.0,2026.7 C1493.4,2034.8 1494.3,2043.5 1494.9,2050.9 C1495.5,2058.3 1496.1,2066.6 1496.6,2073.1 C1497.1,2079.6 1497.9,2086.1 1498.3,2092.6 C1498.6,2099.1 1499.3,2116.7 1499.7,2128.8 C1500.1,2140.9 1500.3,2153.0 1500.7,2165.1 C1501.1,2177.1 1501.6,2189.2 1502.1,2201.3 C1502.7,2213.4 1503.3,2225.5 1503.8,2237.5 C1504.4,2249.6 1505.1,2264.1 1505.5,2273.8 C1506.0,2283.5 1506.7,2302.8 1506.7,2302.8" fill="none" stroke="#231f20" stroke-width="2.2" stroke-linejoin="round"/>
<path d="M1557.0,1797.2 C1557.0,1797.2 1560.6,1799.2 1561.8,1800.8 C1563.0,1802.4 1564.7,1808.0 1566.7,1810.5 C1568.6,1812.9 1571.3,1815.1 1573.9,1816.5 C1576.5,1817.9 1579.9,1818.7 1582.4,1818.9 C1584.8,1819.1 1587.4,1816.7 1589.6,1817.7 C1591.8,1818.7 1594.2,1822.2 1595.7,1824.9 C1597.1,1827.7 1598.4,1832.1 1599.3,1835.8 C1600.2,1839.5 1601.1,1845.5 1601.7,1850.3 C1602.3,1855.1 1602.2,1860.7 1602.9,1864.8 C1603.7,1869.0 1605.1,1874.1 1606.5,1876.9 C1607.9,1879.7 1610.4,1882.2 1612.6,1884.1 C1614.7,1886.1 1618.0,1887.6 1619.8,1889.0 C1621.6,1890.4 1624.0,1891.6 1624.7,1893.8 C1625.3,1896.0 1625.5,1905.0 1625.4,1908.3 C1625.2,1911.6 1623.8,1916.9 1623.4,1918.0 C1623.1,1919.0 1621.0,1920.4 1621.0,1920.4 C1621.0,1920.4 1619.3,1915.6 1619.1,1913.1 C1618.9,1910.6 1619.2,1904.1 1619.8,1901.1 C1620.5,1898.1 1621.6,1894.6 1623.4,1892.6 C1625.3,1890.6 1628.2,1889.9 1630.7,1889.0 C1633.2,1888.1 1637.1,1887.1 1640.4,1886.6 C1643.6,1886.0 1648.4,1885.7 1652.4,1885.4 C1656.5,1885.0 1661.2,1884.4 1664.5,1884.6 C1667.8,1884.8 1672.2,1885.4 1674.2,1886.6 C1676.2,1887.8 1677.8,1892.6 1677.8,1892.6" fill="none" stroke="#231f20" stroke-width="2.2" stroke-linejoin="round"/>
<path d="M1679.0,1918.0 C1679.0,1918.0 1677.1,1926.2 1675.4,1930.1 C1673.7,1933.9 1670.7,1938.2 1668.1,1942.1 C1665.6,1946.1 1662.6,1950.3 1659.7,1954.2 C1656.7,1958.2 1653.0,1962.4 1650.0,1966.3 C1647.1,1970.2 1643.7,1975.2 1641.6,1978.4 C1639.5,1981.5 1636.2,1987.4 1635.5,1988.0 C1634.9,1988.7 1633.6,1987.6 1633.1,1986.8 C1632.6,1986.1 1629.9,1979.6 1628.3,1976.0 C1626.7,1972.3 1625.4,1968.2 1623.4,1965.1 C1621.5,1961.9 1619.0,1958.9 1616.2,1956.6 C1613.4,1954.4 1609.6,1953.0 1606.5,1951.8 C1603.4,1950.6 1599.5,1950.5 1596.9,1949.4 C1594.2,1948.2 1591.6,1946.7 1589.6,1944.6 C1587.7,1942.4 1585.1,1938.4 1583.6,1934.9 C1582.0,1931.4 1579.9,1925.4 1578.7,1920.4 C1577.6,1915.4 1576.9,1909.1 1576.3,1903.5 C1575.7,1897.9 1575.9,1891.5 1575.1,1886.6 C1574.4,1881.6 1573.0,1876.3 1571.5,1872.1 C1570.0,1867.8 1567.6,1863.4 1565.5,1860.0 C1563.4,1856.5 1560.2,1853.8 1558.2,1850.3 C1556.3,1846.8 1554.6,1842.4 1553.4,1838.2 C1552.2,1834.1 1550.9,1828.6 1550.5,1823.7 C1550.1,1818.9 1550.5,1812.6 1551.0,1809.2 C1551.4,1805.9 1553.3,1800.8 1553.9,1799.6 C1554.4,1798.4 1557.0,1797.2 1557.0,1797.2" fill="none" stroke="#231f20" stroke-width="2.2" stroke-linejoin="round"/>
<path d="M1645.2,1789.9 C1645.2,1789.9 1644.5,1802.8 1644.7,1809.2 C1644.9,1815.7 1645.8,1823.7 1646.4,1828.6 C1647.0,1833.4 1647.7,1840.4 1648.8,1843.1 C1649.9,1845.7 1652.3,1847.8 1654.9,1849.1 C1657.4,1850.5 1660.5,1851.5 1663.3,1850.8 C1666.1,1850.2 1669.1,1848.1 1670.6,1845.5 C1672.0,1842.9 1673.3,1835.9 1674.2,1831.0 C1675.1,1826.1 1675.8,1818.1 1676.6,1811.7 C1677.4,1805.2 1679.0,1789.9 1679.0,1789.9" fill="none" stroke="#231f20" stroke-width="2.2" stroke-linejoin="round"/>
<path d="M1619.8,1793.5 C1619.8,1793.5 1623.0,1797.3 1623.0,1799.6 C1623.0,1801.8 1619.8,1805.6 1619.8,1805.6 C1619.8,1805.6 1616.7,1801.8 1616.7,1799.6 C1616.7,1797.3 1619.8,1793.5 1619.8,1793.5Z" fill="none" stroke="#231f20" stroke-width="2.2" stroke-linejoin="round"/>
<path d="M1732.2,1937.3 C1732.2,1937.3 1725.9,1939.4 1725.0,1942.1 C1724.1,1944.9 1727.2,1948.5 1727.3,1951.8 C1727.5,1955.1 1726.5,1961.5 1726.1,1966.3 C1725.8,1971.1 1725.5,1980.0 1724.9,1985.6 C1724.4,1991.3 1723.4,1998.4 1722.5,2002.5 C1721.7,2006.7 1719.7,2012.8 1718.9,2014.6 C1718.1,2016.5 1715.3,2019.5 1715.3,2019.5 C1715.3,2019.5 1712.3,2013.2 1711.6,2009.8 C1710.9,2006.4 1710.2,1996.2 1709.2,1990.5 C1708.3,1984.8 1706.6,1976.3 1705.6,1973.6 C1704.6,1970.8 1702.4,1967.1 1700.8,1966.3 C1699.2,1965.5 1697.1,1967.4 1695.9,1968.7 C1694.7,1970.1 1691.7,1975.1 1689.9,1978.4 C1688.1,1981.7 1684.7,1988.9 1682.6,1992.9 C1680.6,1996.9 1678.0,2002.4 1676.6,2005.0 C1675.2,2007.5 1673.8,2010.2 1671.8,2012.2 C1669.7,2014.3 1666.5,2014.9 1664.5,2017.0 C1662.6,2019.2 1660.3,2023.4 1658.5,2026.7 C1656.6,2030.0 1652.4,2038.8 1652.4,2038.8 C1652.4,2038.8 1648.8,2034.6 1648.8,2034.6 C1648.8,2034.6 1645.6,2044.2 1644.0,2049.1 C1642.4,2053.9 1640.9,2058.8 1639.2,2063.6 C1637.4,2068.3 1635.0,2074.0 1633.1,2078.1 C1631.2,2082.2 1628.9,2086.1 1627.1,2090.2 C1625.2,2094.3 1622.8,2100.9 1621.0,2104.7 C1619.2,2108.4 1616.6,2113.3 1615.0,2115.5 C1613.4,2117.7 1610.4,2120.4 1608.9,2121.1 C1607.5,2121.7 1605.5,2121.3 1604.1,2120.4 C1602.8,2119.4 1600.4,2116.6 1599.3,2114.3 C1598.1,2112.0 1596.3,2106.3 1594.9,2102.2 C1593.6,2098.2 1591.7,2090.9 1589.6,2085.3 C1587.6,2079.8 1584.4,2073.2 1582.4,2068.4 C1580.3,2063.6 1578.0,2058.9 1576.3,2053.9 C1574.6,2049.0 1572.8,2041.8 1571.5,2037.0 C1570.2,2032.2 1568.9,2027.4 1567.9,2022.5 C1566.9,2017.6 1566.7,2012.3 1565.5,2007.4 C1564.2,2002.4 1562.0,1996.2 1560.6,1992.9 C1559.3,1989.5 1557.4,1986.4 1555.8,1983.2 C1554.2,1980.0 1552.4,1976.4 1551.0,1973.6 C1549.5,1970.7 1546.6,1965.1 1546.6,1965.1 C1546.6,1965.1 1544.3,1967.3 1543.7,1968.7 C1543.1,1970.1 1541.0,1976.7 1540.1,1980.8 C1539.2,1984.9 1537.3,1995.2 1536.5,2002.5 C1535.6,2009.8 1535.3,2020.1 1534.5,2027.3 C1533.8,2034.6 1532.7,2042.6 1531.6,2049.1 C1530.6,2055.6 1529.1,2064.2 1528.0,2068.4 C1526.9,2072.6 1524.5,2076.9 1523.2,2080.5 C1521.8,2084.1 1520.1,2087.6 1519.5,2091.4 C1519.0,2095.1 1518.6,2108.3 1518.3,2116.7 C1518.1,2125.2 1518.0,2140.9 1517.6,2153.0 C1517.2,2165.1 1516.1,2186.8 1515.9,2189.2 C1515.8,2191.7 1514.7,2194.0 1514.7,2196.5 C1514.7,2198.9 1515.5,2207.7 1515.9,2213.4 C1516.3,2219.0 1517.1,2229.5 1517.6,2237.5 C1518.1,2245.6 1518.8,2253.6 1519.1,2261.7 C1519.4,2269.8 1520.0,2302.8 1520.0,2302.8" fill="none" stroke="#231f20" stroke-width="2.2" stroke-linejoin="round"/>
<path d="M1724.9,1789.9 C1724.9,1789.9 1725.6,1803.6 1726.1,1809.2 C1726.7,1814.9 1728.3,1823.0 1728.6,1826.2 C1728.9,1829.4 1727.9,1832.7 1728.6,1835.8 C1729.3,1839.0 1731.6,1845.0 1733.5,1847.9 C1735.3,1850.8 1737.5,1854.7 1740.7,1855.2 C1743.9,1855.6 1746.8,1852.5 1749.2,1850.3 C1751.5,1848.1 1755.1,1843.0 1757.6,1839.4 C1760.2,1835.9 1763.0,1831.1 1764.9,1828.6 C1766.7,1826.0 1769.2,1822.7 1770.9,1821.3 C1772.6,1820.0 1774.9,1818.3 1776.9,1818.9 C1779.0,1819.5 1781.2,1823.0 1783.0,1824.9 C1784.8,1826.9 1785.8,1830.5 1788.3,1831.0 C1790.8,1831.5 1793.1,1829.0 1795.1,1827.4 C1797.0,1825.7 1799.5,1822.7 1801.1,1820.1 C1802.7,1817.5 1804.3,1814.5 1804.7,1811.7 C1805.1,1808.8 1804.7,1805.0 1803.5,1803.2 C1802.3,1801.4 1799.6,1801.0 1797.5,1800.8 C1795.3,1800.6 1792.7,1801.6 1790.2,1802.0 C1787.8,1802.4 1785.2,1803.4 1783.0,1803.2 C1780.8,1803.0 1778.6,1802.0 1776.9,1800.8 C1775.3,1799.6 1774.1,1797.8 1773.3,1796.0 C1772.5,1794.1 1772.1,1789.9 1772.1,1789.9" fill="none" stroke="#231f20" stroke-width="2.2" stroke-linejoin="round"/>
<path d="M1711.6,2008.0 C1711.6,2008.0 1716.5,2020.1 1716.5,2020.1 C1716.5,2020.1 1718.9,2010.4 1718.9,2010.4" fill="none" stroke="#231f20" stroke-width="2.2" stroke-linejoin="round"/>
<path d="M1322.6,2032.2 C1322.6,2032.2 1323.5,2069.2 1323.8,2080.5 C1324.2,2091.8 1325.0,2114.3 1325.0,2114.3" fill="none" stroke="#231f20" stroke-width="2.2" stroke-linejoin="round"/>
<path d="M1334.7,2066.0 C1334.7,2066.0 1333.5,2091.8 1333.0,2104.7 C1332.5,2117.5 1331.9,2138.5 1331.6,2153.0 C1331.3,2167.5 1331.1,2196.5 1331.1,2196.5" fill="none" stroke="#231f20" stroke-width="2.2" stroke-linejoin="round"/>
<path d="M1345.6,2066.0 C1345.6,2066.0 1344.2,2091.8 1343.6,2104.7 C1343.1,2117.5 1342.5,2136.9 1341.9,2153.0 C1341.4,2169.1 1340.8,2185.2 1340.3,2201.3 C1339.7,2217.4 1338.8,2249.6 1338.8,2249.6" fill="none" stroke="#231f20" stroke-width="2.2" stroke-linejoin="round"/>
<path d="M1351.6,2008.0 C1351.6,2008.0 1350.5,2025.7 1349.9,2032.2 C1349.4,2038.6 1348.0,2051.5 1348.0,2051.5" fill="none" stroke="#231f20" stroke-width="2.2" stroke-dasharray="6.2 4" stroke-linejoin="round"/>
<path d="M1341.9,2032.2 L1339.5,2051.5" fill="none" stroke="#231f20" stroke-width="2.2" stroke-dasharray="6.2 4" stroke-linejoin="round"/>
<path d="M1739.5,1789.9 C1739.5,1789.9 1739.5,1799.6 1740.0,1804.4 C1740.5,1809.2 1741.3,1815.7 1742.4,1818.9 C1743.5,1822.1 1746.1,1826.5 1748.0,1827.4 C1749.8,1828.2 1751.6,1825.4 1752.8,1823.7 C1754.0,1822.1 1756.0,1817.3 1757.6,1814.1 C1759.2,1810.9 1761.9,1807.6 1762.5,1804.4 C1763.1,1801.2 1761.7,1796.5 1761.2,1794.7 C1760.8,1793.0 1758.8,1789.9 1758.8,1789.9" fill="none" stroke="#231f20" stroke-width="2.2" stroke-linejoin="round"/>
<path d="M1814.4,1868.4 C1814.4,1868.4 1818.1,1872.2 1819.2,1874.5 C1820.4,1876.8 1822.4,1882.6 1823.6,1886.6 C1824.8,1890.5 1825.6,1894.6 1826.5,1898.6 C1827.4,1902.7 1828.7,1907.5 1828.9,1910.7 C1829.1,1914.0 1828.7,1917.3 1827.7,1920.4 C1826.7,1923.5 1824.8,1926.5 1822.9,1928.8 C1820.9,1931.2 1818.2,1934.0 1815.6,1934.4 C1813.0,1934.8 1810.5,1932.3 1808.4,1931.3 C1806.3,1930.2 1803.6,1929.6 1802.3,1927.6 C1801.1,1925.7 1800.2,1921.2 1799.9,1918.0 C1799.6,1914.8 1800.4,1908.3 1800.4,1908.3" fill="none" stroke="#231f20" stroke-width="2.2" stroke-linejoin="round"/>
<path d="M1805.9,1881.7 C1805.9,1881.7 1808.2,1876.7 1809.6,1874.5 C1811.0,1872.3 1814.4,1868.4 1814.4,1868.4" fill="none" stroke="#231f20" stroke-width="2.2" stroke-linejoin="round"/>
<path d="M1832.5,1903.5 C1832.5,1903.5 1836.0,1908.0 1836.1,1910.7 C1836.3,1913.4 1833.7,1920.4 1833.7,1920.4 C1833.7,1920.4 1829.6,1916.0 1829.4,1913.1 C1829.2,1910.3 1832.5,1903.5 1832.5,1903.5Z" fill="none" stroke="#231f20" stroke-width="2.2" stroke-linejoin="round"/>
<path d="M1848.2,1789.9 C1848.2,1789.9 1849.6,1801.8 1850.6,1804.4 C1851.7,1807.0 1854.4,1810.0 1856.7,1810.5 C1859.0,1810.9 1861.0,1808.4 1862.7,1806.8 C1864.5,1805.2 1870.0,1798.4 1870.0,1798.4 C1870.0,1798.4 1872.1,1806.4 1872.4,1809.2 C1872.7,1812.1 1872.4,1816.2 1871.9,1817.7 C1871.5,1819.2 1869.1,1819.8 1868.8,1821.3 C1868.4,1822.9 1867.7,1831.0 1867.6,1835.8 C1867.4,1840.7 1867.5,1847.8 1868.0,1852.7 C1868.6,1857.6 1869.9,1863.1 1871.2,1867.2 C1872.4,1871.4 1874.5,1875.2 1876.0,1879.3 C1877.5,1883.4 1880.3,1888.8 1880.8,1893.8 C1881.4,1898.9 1880.2,1905.1 1879.6,1910.7 C1879.1,1916.4 1877.5,1923.5 1877.7,1927.6 C1877.9,1931.8 1879.0,1936.0 1880.8,1939.7 C1882.7,1943.4 1886.5,1947.0 1889.3,1950.6 C1892.1,1954.2 1896.2,1959.4 1897.8,1961.5 C1899.4,1963.5 1902.6,1967.5 1902.6,1967.5 C1902.6,1967.5 1906.6,1961.1 1908.6,1959.1 C1910.7,1957.0 1914.1,1956.5 1915.9,1954.2 C1917.7,1951.9 1920.2,1946.3 1921.9,1942.1 C1923.6,1938.0 1924.9,1930.6 1926.8,1927.6 C1928.6,1924.7 1932.7,1924.0 1935.2,1921.6 C1937.8,1919.2 1941.3,1915.3 1943.7,1911.9 C1946.1,1908.5 1947.7,1903.8 1949.7,1901.1 C1951.7,1898.3 1954.5,1896.1 1957.0,1893.8 C1959.5,1891.5 1962.8,1888.5 1965.4,1886.6 C1968.1,1884.7 1971.2,1881.9 1973.9,1881.7 C1976.6,1881.5 1978.8,1884.6 1981.1,1885.4 C1983.4,1886.1 1986.1,1887.0 1988.4,1886.6 C1990.7,1886.1 1993.1,1884.9 1994.4,1882.9 C1995.7,1881.0 1997.4,1875.8 1998.0,1872.1 C1998.7,1868.3 1999.2,1860.8 1999.2,1855.2 C1999.3,1849.5 1998.5,1840.7 1998.5,1833.4 C1998.5,1826.2 1998.8,1816.5 1999.2,1811.7 C1999.7,1806.8 2001.3,1799.6 2001.7,1797.2 C2002.1,1794.7 2002.9,1789.9 2002.9,1789.9" fill="none" stroke="#231f20" stroke-width="2.2" stroke-linejoin="round"/>
<path d="M1732.2,1937.3 C1732.2,1937.3 1738.6,1932.9 1741.9,1932.5 C1745.2,1932.1 1748.9,1933.2 1751.6,1934.9 C1754.3,1936.5 1756.4,1939.2 1757.6,1942.1 C1758.8,1945.0 1760.3,1951.7 1760.8,1956.6 C1761.3,1961.6 1761.2,1971.9 1761.2,1978.4 C1761.2,1984.8 1761.3,1994.9 1760.8,1997.7 C1760.3,2000.5 1757.5,2002.4 1756.4,2005.0 C1755.3,2007.6 1753.8,2013.0 1752.8,2017.0 C1751.8,2021.1 1749.8,2030.6 1749.2,2034.0 C1748.6,2037.4 1748.0,2040.8 1748.0,2044.2 C1747.9,2047.7 1747.8,2068.4 1748.0,2080.5 C1748.2,2092.6 1748.9,2104.7 1749.2,2116.7 C1749.4,2128.8 1749.6,2140.9 1749.6,2153.0 C1749.6,2165.1 1749.4,2177.1 1749.2,2189.2 C1748.9,2201.3 1748.6,2213.4 1748.0,2225.5 C1747.4,2237.5 1746.3,2249.6 1745.5,2261.7 C1744.8,2273.8 1743.1,2302.8 1743.1,2302.8" fill="none" stroke="#231f20" stroke-width="2.2" stroke-linejoin="round"/>
<path d="M1797.0,2302.8 C1797.0,2302.8 1795.9,2269.8 1795.6,2261.7 C1795.3,2253.7 1794.9,2245.6 1794.6,2237.5 C1794.3,2229.5 1794.2,2221.4 1793.9,2213.4 C1793.5,2205.3 1793.3,2197.3 1792.7,2189.2 C1792.1,2181.2 1791.1,2172.3 1790.2,2165.1 C1789.4,2157.8 1788.5,2149.8 1787.3,2143.3 C1786.2,2136.8 1784.6,2129.7 1783.0,2124.0 C1781.3,2118.2 1778.6,2112.8 1776.9,2107.1 C1775.3,2101.3 1773.4,2091.7 1772.1,2085.3 C1770.8,2078.9 1769.4,2072.4 1768.5,2066.0 C1767.6,2059.6 1766.8,2053.1 1766.6,2046.7 C1766.4,2040.2 1766.8,2033.2 1767.3,2027.3 C1767.8,2021.5 1768.8,2012.9 1769.7,2009.8 C1770.6,2006.7 1774.5,2001.3 1774.5,2001.3 C1774.5,2001.3 1777.9,2005.3 1779.4,2007.4 C1780.8,2009.5 1783.3,2014.2 1785.4,2017.0 C1787.6,2019.9 1790.5,2022.1 1792.7,2024.9 C1794.8,2027.8 1797.2,2031.5 1798.7,2034.6 C1800.2,2037.7 1801.8,2040.8 1802.3,2044.2 C1802.8,2047.7 1802.3,2057.2 1802.8,2063.6 C1803.3,2070.0 1804.8,2079.7 1805.9,2087.7 C1807.1,2095.8 1808.6,2103.9 1809.6,2111.9 C1810.5,2119.9 1810.8,2128.0 1811.5,2136.1 C1812.2,2144.1 1813.0,2152.2 1813.9,2160.2 C1814.8,2168.3 1815.9,2176.3 1816.8,2184.4 C1817.8,2192.4 1818.8,2201.3 1819.7,2208.6 C1820.7,2215.8 1821.7,2224.9 1822.9,2230.3 C1824.0,2235.7 1827.1,2244.3 1827.7,2246.0 C1828.3,2247.7 1828.8,2250.3 1830.1,2250.8 C1831.5,2251.4 1833.7,2248.4 1833.7,2248.4 C1833.7,2248.4 1835.6,2255.7 1836.6,2259.3 C1837.7,2262.9 1839.3,2267.4 1840.5,2271.4 C1841.7,2275.4 1843.0,2279.4 1843.9,2283.5 C1844.7,2287.6 1847.0,2302.8 1847.0,2302.8" fill="none" stroke="#231f20" stroke-width="2.2" stroke-linejoin="round"/>
<path d="M1947.3,2302.8 C1947.3,2302.8 1947.2,2273.8 1947.3,2261.7 C1947.4,2249.6 1947.6,2237.5 1947.8,2225.5 C1948.0,2213.4 1948.3,2201.3 1948.5,2189.2 C1948.7,2177.1 1948.9,2165.1 1949.2,2153.0 C1949.5,2140.9 1950.0,2124.0 1950.2,2116.7 C1950.4,2109.5 1950.6,2098.3 1950.9,2095.0 C1951.3,2091.7 1953.3,2085.3 1953.3,2085.3 C1953.3,2085.3 1958.2,2093.8 1958.2,2093.8 C1958.2,2093.8 1962.0,2090.1 1963.0,2087.7 C1964.0,2085.3 1964.6,2079.7 1965.4,2075.7 C1966.2,2071.6 1967.9,2062.0 1969.0,2056.3 C1970.2,2050.7 1971.7,2045.0 1972.7,2039.4 C1973.7,2033.8 1975.1,2022.5 1975.1,2022.5 C1975.1,2022.5 1976.3,2026.7 1976.3,2026.7 C1976.3,2026.7 1977.8,2010.6 1978.7,2002.5 C1979.6,1994.5 1980.6,1986.4 1981.6,1978.4 C1982.6,1970.3 1983.9,1959.1 1984.7,1954.2 C1985.6,1949.3 1986.9,1942.5 1988.4,1939.7 C1989.8,1936.9 1994.2,1934.4 1995.6,1933.7 C1997.1,1933.0 1999.3,1932.5 2000.5,1933.7 C2001.6,1934.8 2003.1,1939.2 2004.1,1942.1 C2005.1,1945.0 2006.5,1950.2 2007.7,1954.2 C2008.9,1958.2 2010.0,1962.9 2011.3,1966.3 C2012.6,1969.7 2015.0,1972.9 2016.2,1976.0 C2017.3,1979.1 2018.1,1982.3 2018.6,1985.6 C2019.0,1988.9 2019.9,1996.9 2019.8,2002.5 C2019.7,2008.2 2018.5,2014.2 2017.9,2020.1 C2017.2,2025.9 2015.7,2032.9 2015.7,2039.4 C2015.7,2045.9 2017.9,2063.6 2017.9,2063.6 C2017.9,2063.6 2021.3,2062.6 2021.7,2061.2 C2022.1,2059.7 2024.0,2044.2 2024.6,2039.4 C2025.3,2034.6 2026.2,2025.9 2026.6,2024.9 C2026.9,2023.9 2028.9,2022.8 2029.5,2023.7 C2030.0,2024.6 2031.7,2030.9 2032.4,2034.6 C2033.0,2038.3 2034.1,2049.1 2034.8,2056.3 C2035.5,2063.6 2036.7,2078.9 2037.2,2085.3 C2037.6,2091.8 2038.1,2104.7 2038.1,2104.7 C2038.1,2104.7 2039.4,2093.4 2040.3,2087.7 C2041.2,2082.1 2042.9,2074.9 2043.9,2068.4 C2045.0,2061.9 2046.8,2051.5 2047.6,2044.2 C2048.3,2037.0 2048.8,2025.2 2048.8,2022.5 C2048.8,2019.8 2047.8,2017.3 2047.6,2014.6 C2047.4,2012.0 2045.8,1990.5 2045.2,1978.4 C2044.5,1966.3 2043.9,1954.2 2043.5,1942.1 C2043.1,1930.1 2042.7,1905.9 2042.7,1905.9" fill="none" stroke="#231f20" stroke-width="2.2" stroke-linejoin="round"/>
<path d="M2043.9,1811.7 C2043.9,1811.7 2044.5,1834.2 2044.4,1845.5 C2044.4,1856.8 2043.5,1879.3 2043.5,1879.3" fill="none" stroke="#231f20" stroke-width="2.2" stroke-linejoin="round"/>
<path d="M2047.6,1811.7 C2047.6,1811.7 2048.7,1834.2 2048.8,1845.5 C2048.9,1856.8 2048.5,1869.7 2048.3,1881.7 C2048.1,1893.8 2047.6,1905.9 2047.6,1918.0 C2047.6,1930.1 2048.3,1954.2 2048.3,1954.2" fill="none" stroke="#231f20" stroke-width="2.2" stroke-linejoin="round"/>
<path d="M2064.5,1893.8 C2064.5,1893.8 2067.6,1910.7 2067.6,1910.7 C2067.6,1910.7 2070.5,1893.8 2070.5,1893.8" fill="none" stroke="#231f20" stroke-width="2.2" stroke-linejoin="round"/>
<path d="M1285.0,1780.0 L1305.7,1780.0 L1305.7,1860.0 L1310.5,1860.0 L1310.5,1942.0 L1315.4,1942.0 L1315.4,2033.4 L1321.4,2033.4 L1321.4,2114.3 L1326.2,2114.3 L1326.2,2196.5 L1331.1,2196.5 L1331.1,2288.3 L1335.9,2288.3 L1335.9,2302.0 L1285.0,2302.0Z" fill="url(#darkpat)"/>
<text x="1314.2" y="1896.7" font-size="17.3" text-anchor="start" font-weight="normal">-0.03</text>
<text x="1402.4" y="1838.7" font-size="17.3" text-anchor="start" font-weight="normal">-0.01</text>
<text x="1320.9" y="2032.0" font-size="17.3" text-anchor="start" font-weight="normal">-0.02</text>
<text x="1328.2" y="2063.4" font-size="17.3" text-anchor="start" font-weight="normal">-0.01</text>
<text x="1660.9" y="1910.0" font-size="17.3" text-anchor="start" font-weight="normal">0.01</text>
<text x="1784.9" y="1903.0" font-size="17.3" text-anchor="start" font-weight="normal">0.01</text>
<text x="2050.7" y="1890.9" font-size="17.3" text-anchor="start" font-weight="normal">0.01</text>
<text x="2124.2" y="1928.1" font-size="17.3" text-anchor="start" font-weight="normal">0.04</text>
</g>
<rect x="1329.9" y="2246.0" width="175.0999999999999" height="31.0" fill="#fff"/>
<text x="1335.5" y="2273.5" font-size="36.3" text-anchor="start" font-weight="bold" fill="#0d0a0b" stroke="#0d0a0b" stroke-width="0.5">(h) World</text>
<line x1="1286.9" y1="1788.3" x2="2172.5" y2="1788.3" stroke="#231f20" stroke-width="5.2"/>
<line x1="1286.9" y1="2296.6" x2="2172.5" y2="2296.6" stroke="#231f20" stroke-width="5.2"/>
<line x1="1297.2" y1="1788.3" x2="1297.2" y2="2296.6" stroke="#231f20" stroke-width="4"/>
<line x1="2163.0" y1="1788.3" x2="2163.0" y2="2296.6" stroke="#231f20" stroke-width="4"/>
<line x1="1318.5" y1="1778.2" x2="1318.5" y2="1788.3" stroke="#231f20" stroke-width="5.2"/>
<line x1="1318.5" y1="2296.6" x2="1318.5" y2="2306.7" stroke="#231f20" stroke-width="5.2"/>
<text x="1309.0" y="2347.8" font-size="36" text-anchor="middle" font-weight="normal">–80</text>
<line x1="1368.3" y1="1782.3" x2="1368.3" y2="1788.3" stroke="#231f20" stroke-width="4.2"/>
<line x1="1368.3" y1="2296.6" x2="1368.3" y2="2302.6" stroke="#231f20" stroke-width="4.2"/>
<line x1="1418.2" y1="1778.2" x2="1418.2" y2="1788.3" stroke="#231f20" stroke-width="5.2"/>
<line x1="1418.2" y1="2296.6" x2="1418.2" y2="2306.7" stroke="#231f20" stroke-width="5.2"/>
<text x="1408.7" y="2347.8" font-size="36" text-anchor="middle" font-weight="normal">–60</text>
<line x1="1468.0" y1="1782.3" x2="1468.0" y2="1788.3" stroke="#231f20" stroke-width="4.2"/>
<line x1="1468.0" y1="2296.6" x2="1468.0" y2="2302.6" stroke="#231f20" stroke-width="4.2"/>
<line x1="1517.8" y1="1778.2" x2="1517.8" y2="1788.3" stroke="#231f20" stroke-width="5.2"/>
<line x1="1517.8" y1="2296.6" x2="1517.8" y2="2306.7" stroke="#231f20" stroke-width="5.2"/>
<text x="1508.3" y="2347.8" font-size="36" text-anchor="middle" font-weight="normal">–40</text>
<line x1="1567.7" y1="1782.3" x2="1567.7" y2="1788.3" stroke="#231f20" stroke-width="4.2"/>
<line x1="1567.7" y1="2296.6" x2="1567.7" y2="2302.6" stroke="#231f20" stroke-width="4.2"/>
<line x1="1617.5" y1="1778.2" x2="1617.5" y2="1788.3" stroke="#231f20" stroke-width="5.2"/>
<line x1="1617.5" y1="2296.6" x2="1617.5" y2="2306.7" stroke="#231f20" stroke-width="5.2"/>
<text x="1608.0" y="2347.8" font-size="36" text-anchor="middle" font-weight="normal">–20</text>
<line x1="1667.4" y1="1782.3" x2="1667.4" y2="1788.3" stroke="#231f20" stroke-width="4.2"/>
<line x1="1667.4" y1="2296.6" x2="1667.4" y2="2302.6" stroke="#231f20" stroke-width="4.2"/>
<line x1="1717.2" y1="1778.2" x2="1717.2" y2="1788.3" stroke="#231f20" stroke-width="5.2"/>
<line x1="1717.2" y1="2296.6" x2="1717.2" y2="2306.7" stroke="#231f20" stroke-width="5.2"/>
<text x="1717.7" y="2347.8" font-size="36" text-anchor="middle" font-weight="normal">0</text>
<line x1="1767.0" y1="1782.3" x2="1767.0" y2="1788.3" stroke="#231f20" stroke-width="4.2"/>
<line x1="1767.0" y1="2296.6" x2="1767.0" y2="2302.6" stroke="#231f20" stroke-width="4.2"/>
<line x1="1816.9" y1="1778.2" x2="1816.9" y2="1788.3" stroke="#231f20" stroke-width="5.2"/>
<line x1="1816.9" y1="2296.6" x2="1816.9" y2="2306.7" stroke="#231f20" stroke-width="5.2"/>
<text x="1817.4" y="2347.8" font-size="36" text-anchor="middle" font-weight="normal">20</text>
<line x1="1866.7" y1="1782.3" x2="1866.7" y2="1788.3" stroke="#231f20" stroke-width="4.2"/>
<line x1="1866.7" y1="2296.6" x2="1866.7" y2="2302.6" stroke="#231f20" stroke-width="4.2"/>
<line x1="1916.6" y1="1778.2" x2="1916.6" y2="1788.3" stroke="#231f20" stroke-width="5.2"/>
<line x1="1916.6" y1="2296.6" x2="1916.6" y2="2306.7" stroke="#231f20" stroke-width="5.2"/>
<text x="1917.1" y="2347.8" font-size="36" text-anchor="middle" font-weight="normal">40</text>
<line x1="1966.4" y1="1782.3" x2="1966.4" y2="1788.3" stroke="#231f20" stroke-width="4.2"/>
<line x1="1966.4" y1="2296.6" x2="1966.4" y2="2302.6" stroke="#231f20" stroke-width="4.2"/>
<line x1="2016.2" y1="1778.2" x2="2016.2" y2="1788.3" stroke="#231f20" stroke-width="5.2"/>
<line x1="2016.2" y1="2296.6" x2="2016.2" y2="2306.7" stroke="#231f20" stroke-width="5.2"/>
<text x="2016.7" y="2347.8" font-size="36" text-anchor="middle" font-weight="normal">60</text>
<line x1="2066.1" y1="1782.3" x2="2066.1" y2="1788.3" stroke="#231f20" stroke-width="4.2"/>
<line x1="2066.1" y1="2296.6" x2="2066.1" y2="2302.6" stroke="#231f20" stroke-width="4.2"/>
<line x1="2115.9" y1="1778.2" x2="2115.9" y2="1788.3" stroke="#231f20" stroke-width="5.2"/>
<line x1="2115.9" y1="2296.6" x2="2115.9" y2="2306.7" stroke="#231f20" stroke-width="5.2"/>
<text x="2116.4" y="2347.8" font-size="36" text-anchor="middle" font-weight="normal">80</text>
<text x="1273.2" y="1799.3" font-size="36" text-anchor="end" font-weight="normal">0</text>
<line x1="1291.8" y1="1839.1" x2="1297.2" y2="1839.1" stroke="#231f20" stroke-width="4.6"/>
<line x1="2163.0" y1="1839.1" x2="2168.4" y2="1839.1" stroke="#231f20" stroke-width="4.6"/>
<line x1="1286.9" y1="1890.0" x2="1297.2" y2="1890.0" stroke="#231f20" stroke-width="5.2"/>
<line x1="2163.0" y1="1890.0" x2="2172.5" y2="1890.0" stroke="#231f20" stroke-width="5.2"/>
<text x="1273.2" y="1901.5" font-size="36" text-anchor="end" font-weight="normal">100</text>
<line x1="1291.8" y1="1940.8" x2="1297.2" y2="1940.8" stroke="#231f20" stroke-width="4.6"/>
<line x1="2163.0" y1="1940.8" x2="2168.4" y2="1940.8" stroke="#231f20" stroke-width="4.6"/>
<line x1="1286.9" y1="1991.6" x2="1297.2" y2="1991.6" stroke="#231f20" stroke-width="5.2"/>
<line x1="2163.0" y1="1991.6" x2="2172.5" y2="1991.6" stroke="#231f20" stroke-width="5.2"/>
<text x="1273.2" y="2003.6" font-size="36" text-anchor="end" font-weight="normal">200</text>
<line x1="1291.8" y1="2042.4" x2="1297.2" y2="2042.4" stroke="#231f20" stroke-width="4.6"/>
<line x1="2163.0" y1="2042.4" x2="2168.4" y2="2042.4" stroke="#231f20" stroke-width="4.6"/>
<line x1="1286.9" y1="2093.3" x2="1297.2" y2="2093.3" stroke="#231f20" stroke-width="5.2"/>
<line x1="2163.0" y1="2093.3" x2="2172.5" y2="2093.3" stroke="#231f20" stroke-width="5.2"/>
<text x="1273.2" y="2105.8" font-size="36" text-anchor="end" font-weight="normal">300</text>
<line x1="1291.8" y1="2144.1" x2="1297.2" y2="2144.1" stroke="#231f20" stroke-width="4.6"/>
<line x1="2163.0" y1="2144.1" x2="2168.4" y2="2144.1" stroke="#231f20" stroke-width="4.6"/>
<line x1="1286.9" y1="2194.9" x2="1297.2" y2="2194.9" stroke="#231f20" stroke-width="5.2"/>
<line x1="2163.0" y1="2194.9" x2="2172.5" y2="2194.9" stroke="#231f20" stroke-width="5.2"/>
<text x="1273.2" y="2207.9" font-size="36" text-anchor="end" font-weight="normal">400</text>
<line x1="1291.8" y1="2245.8" x2="1297.2" y2="2245.8" stroke="#231f20" stroke-width="4.6"/>
<line x1="2163.0" y1="2245.8" x2="2168.4" y2="2245.8" stroke="#231f20" stroke-width="4.6"/>
<text x="1273.2" y="2310.1" font-size="36" text-anchor="end" font-weight="normal">500</text>
</g>
<text x="650.5" y="60.0" font-size="36" text-anchor="middle" font-weight="normal">Latitude</text>
<text x="1716.3" y="60.0" font-size="36" text-anchor="middle" font-weight="normal">Latitude</text>
<text x="655.2" y="1245.0" font-size="41.5" text-anchor="middle" font-weight="normal">Latitude</text>
<text x="1720.0" y="1243.0" font-size="41.5" text-anchor="middle" font-weight="normal">Latitude</text>
<text x="654.2" y="2405.4" font-size="36" text-anchor="middle" font-weight="normal">Latitude</text>
<text x="1722.0" y="2405.4" font-size="36" text-anchor="middle" font-weight="normal">Latitude</text>
<text x="58.0" y="326.0" font-size="36.5" text-anchor="middle" font-weight="normal" transform="rotate(-90 58.0 326.0)">Freshwater content (km<tspan font-size="21" dy="-12">3</tspan><tspan dy="12"> deg</tspan><tspan font-size="21" dy="-12">-1</tspan><tspan dy="12">)</tspan></text>
<text x="58.0" y="1511.0" font-size="36.5" text-anchor="middle" font-weight="normal" transform="rotate(-90 58.0 1511.0)">Freshwater content (km<tspan font-size="21" dy="-12">3</tspan><tspan dy="12"> deg</tspan><tspan font-size="21" dy="-12">-1</tspan><tspan dy="12">)</tspan></text>
<text x="108.0" y="883.0" font-size="36.5" text-anchor="middle" font-weight="normal" transform="rotate(-90 108.0 883.0)">Depth (m)</text>
<text x="108.0" y="2041.0" font-size="36.5" text-anchor="middle" font-weight="normal" transform="rotate(-90 108.0 2041.0)">Depth (m)</text>
</svg>
</body></html>
